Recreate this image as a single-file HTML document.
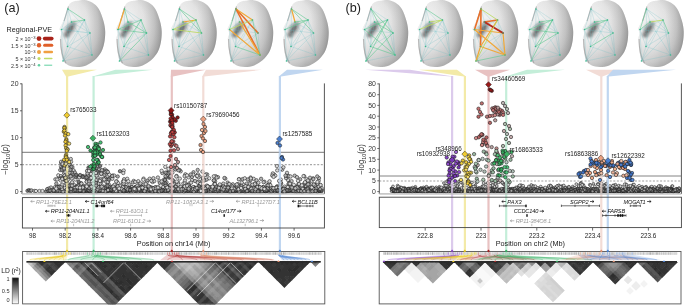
<!DOCTYPE html><html><head><meta charset="utf-8"><style>html,body{margin:0;padding:0;background:#fff;width:685px;height:305px;overflow:hidden}svg{display:block;filter:blur(0.25px)}text{font-family:"Liberation Sans", sans-serif}.sc circle{r:1.7px;stroke:#1a1a1a;stroke-width:.55px}.sr circle{r:1.4px}</style></head><body>
<svg width="685" height="305" viewBox="0 0 685 305">
<defs>
<radialGradient id="fg" cx="0.3" cy="0.4" r="0.74" fx="0.28" fy="0.3"><stop offset="0" stop-color="#f0f0f0"/><stop offset="0.45" stop-color="#e2e2e2"/><stop offset="0.75" stop-color="#c2c2c2"/><stop offset="0.92" stop-color="#a2a2a2"/><stop offset="1" stop-color="#8a8a8a"/></radialGradient>
<linearGradient id="fs" x1="0" y1="0" x2="1" y2="0"><stop offset="0" stop-color="#fff" stop-opacity="0.35"/><stop offset="0.5" stop-color="#fff" stop-opacity="0"/><stop offset="1" stop-color="#999" stop-opacity="0.25"/></linearGradient>
<filter id="bl2" x="-50%" y="-50%" width="200%" height="200%"><feGaussianBlur stdDeviation="0.6"/></filter>
<filter id="bl" x="-80%" y="-80%" width="260%" height="260%"><feGaussianBlur stdDeviation="1.4"/></filter>
<linearGradient id="ldbar" x1="0" y1="0" x2="0" y2="1"><stop offset="0" stop-color="#111"/><stop offset="0.5" stop-color="#888"/><stop offset="1" stop-color="#fff"/></linearGradient>
</defs>
<rect width="685" height="305" fill="#fff"/>
<g transform="translate(59.0,0)">
<path d="M9.3,6.3C10.0,4.7 10.1,4.2 11.0,3.4C11.9,2.6 13.3,1.9 14.5,1.5C15.7,1.1 16.2,1.1 18.0,0.8C19.8,0.6 22.9,-0.3 25.5,0.0C28.1,0.3 31.1,1.3 33.5,2.8C35.9,4.3 38.0,6.0 39.8,9.0C41.6,12.0 43.3,16.9 44.4,20.7C45.5,24.4 46.1,27.8 46.2,31.5C46.3,35.2 45.9,39.5 45.2,43.0C44.5,46.5 43.7,49.4 42.1,52.2C40.5,55.0 38.3,57.8 35.8,60.0C33.3,62.2 30.2,64.2 27.2,65.4C24.2,66.6 21.0,66.9 18.0,66.9C15.0,66.9 11.7,66.2 9.4,65.2C7.2,64.2 5.7,62.8 4.5,61.0C3.3,59.2 3.0,57.1 2.5,54.5C2.0,51.9 1.7,48.2 1.4,45.4C1.1,42.6 0.8,39.8 0.9,37.9C1.0,36.0 2.1,35.4 2.2,34.2C2.3,33.1 1.9,31.8 1.6,31.0C1.3,30.2 0.5,30.1 0.5,29.2C0.5,28.3 1.2,27.3 1.9,25.8C2.6,24.3 3.9,22.2 4.8,20.1C5.6,18.0 6.2,15.5 7.0,13.2C7.8,10.9 8.6,7.9 9.3,6.3Z" fill="url(#fg)"/>
<path d="M9.3,6.3C10.0,4.7 10.1,4.2 11.0,3.4C11.9,2.6 13.3,1.9 14.5,1.5C15.7,1.1 16.2,1.1 18.0,0.8C19.8,0.6 22.9,-0.3 25.5,0.0C28.1,0.3 31.1,1.3 33.5,2.8C35.9,4.3 38.0,6.0 39.8,9.0C41.6,12.0 43.3,16.9 44.4,20.7C45.5,24.4 46.1,27.8 46.2,31.5C46.3,35.2 45.9,39.5 45.2,43.0C44.5,46.5 43.7,49.4 42.1,52.2C40.5,55.0 38.3,57.8 35.8,60.0C33.3,62.2 30.2,64.2 27.2,65.4C24.2,66.6 21.0,66.9 18.0,66.9C15.0,66.9 11.7,66.2 9.4,65.2C7.2,64.2 5.7,62.8 4.5,61.0C3.3,59.2 3.0,57.1 2.5,54.5C2.0,51.9 1.7,48.2 1.4,45.4C1.1,42.6 0.8,39.8 0.9,37.9C1.0,36.0 2.1,35.4 2.2,34.2C2.3,33.1 1.9,31.8 1.6,31.0C1.3,30.2 0.5,30.1 0.5,29.2C0.5,28.3 1.2,27.3 1.9,25.8C2.6,24.3 3.9,22.2 4.8,20.1C5.6,18.0 6.2,15.5 7.0,13.2C7.8,10.9 8.6,7.9 9.3,6.3Z" fill="url(#fs)"/>
<path d="M7,63 C3,57 1.6,48 1.6,39 M9.5,6.5 C7.5,12 6.5,17 5,21" fill="none" stroke="#8a8a8a" stroke-width="1.1" opacity="0.55" filter="url(#bl2)"/>
<ellipse cx="11" cy="29" rx="4" ry="9" fill="#555" opacity="0.6" filter="url(#bl)" transform="rotate(35 11 29)"/>
<ellipse cx="11" cy="29.5" rx="1.8" ry="4.5" fill="#444" opacity="0.35" filter="url(#bl2)" transform="rotate(35 11 29.5)"/>
<ellipse cx="8" cy="35.5" rx="2.6" ry="1.7" fill="#505050" opacity="0.6" filter="url(#bl)"/>
<ellipse cx="4" cy="30" rx="1.6" ry="2.6" fill="#fff" opacity="0.6" filter="url(#bl)"/>
<line x1="9.0" y1="9.0" x2="2.5" y2="29.5" stroke="#62bcc4" stroke-width="0.32" opacity="0.75"/>
<line x1="9.0" y1="9.0" x2="12.5" y2="22.0" stroke="#62bcc4" stroke-width="0.32" opacity="0.75"/>
<line x1="9.0" y1="9.0" x2="31.0" y2="33.0" stroke="#62bcc4" stroke-width="0.32" opacity="0.75"/>
<line x1="2.5" y1="29.5" x2="12.5" y2="22.0" stroke="#62bcc4" stroke-width="0.32" opacity="0.75"/>
<line x1="2.5" y1="29.5" x2="25.5" y2="20.0" stroke="#62bcc4" stroke-width="0.32" opacity="0.75"/>
<line x1="2.5" y1="29.5" x2="8.5" y2="46.5" stroke="#62bcc4" stroke-width="0.32" opacity="0.75"/>
<line x1="2.5" y1="29.5" x2="4.0" y2="61.0" stroke="#62bcc4" stroke-width="0.32" opacity="0.75"/>
<line x1="12.5" y1="22.0" x2="31.0" y2="33.0" stroke="#62bcc4" stroke-width="0.32" opacity="0.75"/>
<line x1="12.5" y1="22.0" x2="8.5" y2="46.5" stroke="#62bcc4" stroke-width="0.32" opacity="0.75"/>
<line x1="25.5" y1="20.0" x2="31.0" y2="33.0" stroke="#62bcc4" stroke-width="0.32" opacity="0.75"/>
<line x1="25.5" y1="20.0" x2="8.5" y2="46.5" stroke="#62bcc4" stroke-width="0.32" opacity="0.75"/>
<line x1="25.5" y1="20.0" x2="33.0" y2="55.0" stroke="#62bcc4" stroke-width="0.32" opacity="0.75"/>
<line x1="31.0" y1="33.0" x2="8.5" y2="46.5" stroke="#62bcc4" stroke-width="0.32" opacity="0.75"/>
<line x1="31.0" y1="33.0" x2="33.0" y2="55.0" stroke="#62bcc4" stroke-width="0.32" opacity="0.75"/>
<line x1="31.0" y1="33.0" x2="4.0" y2="61.0" stroke="#62bcc4" stroke-width="0.32" opacity="0.75"/>
<line x1="8.5" y1="46.5" x2="4.0" y2="61.0" stroke="#62bcc4" stroke-width="0.32" opacity="0.75"/>
<line x1="8.5" y1="46.5" x2="33.0" y2="55.0" stroke="#62bcc4" stroke-width="0.32" opacity="0.75"/>
<line x1="4.0" y1="61.0" x2="33.0" y2="55.0" stroke="#62bcc4" stroke-width="0.32" opacity="0.75"/>
<line x1="9.0" y1="9.0" x2="8.5" y2="46.5" stroke="#62bcc4" stroke-width="0.32" opacity="0.75"/>
<line x1="12.5" y1="22.0" x2="33.0" y2="55.0" stroke="#62bcc4" stroke-width="0.32" opacity="0.75"/>
<line x1="25.5" y1="20.0" x2="4.0" y2="61.0" stroke="#62bcc4" stroke-width="0.32" opacity="0.75"/>
<line x1="9.0" y1="9.0" x2="25.5" y2="20.0" stroke="#5cc890" stroke-width="0.6" stroke-linecap="round"/>
<line x1="12.5" y1="22.0" x2="25.5" y2="20.0" stroke="#5cc890" stroke-width="0.6" stroke-linecap="round"/>
<line x1="2.5" y1="29.5" x2="31.0" y2="33.0" stroke="#4ab8c0" stroke-width="0.3" stroke-linecap="round"/>
<circle cx="9.0" cy="9.0" r="0.8" fill="#3cb88a"/>
<circle cx="2.5" cy="29.5" r="0.8" fill="#3cb88a"/>
<circle cx="12.5" cy="22.0" r="0.8" fill="#3cb88a"/>
<circle cx="25.5" cy="20.0" r="0.8" fill="#3cb88a"/>
<circle cx="31.0" cy="33.0" r="0.8" fill="#3cb88a"/>
<circle cx="8.5" cy="46.5" r="0.8" fill="#3cb88a"/>
<circle cx="4.0" cy="61.0" r="0.8" fill="#3cb88a"/>
<circle cx="33.0" cy="55.0" r="0.8" fill="#3cb88a"/>
</g>
<g transform="translate(115.5,0)">
<path d="M9.3,6.3C10.0,4.7 10.1,4.2 11.0,3.4C11.9,2.6 13.3,1.9 14.5,1.5C15.7,1.1 16.2,1.1 18.0,0.8C19.8,0.6 22.9,-0.3 25.5,0.0C28.1,0.3 31.1,1.3 33.5,2.8C35.9,4.3 38.0,6.0 39.8,9.0C41.6,12.0 43.3,16.9 44.4,20.7C45.5,24.4 46.1,27.8 46.2,31.5C46.3,35.2 45.9,39.5 45.2,43.0C44.5,46.5 43.7,49.4 42.1,52.2C40.5,55.0 38.3,57.8 35.8,60.0C33.3,62.2 30.2,64.2 27.2,65.4C24.2,66.6 21.0,66.9 18.0,66.9C15.0,66.9 11.7,66.2 9.4,65.2C7.2,64.2 5.7,62.8 4.5,61.0C3.3,59.2 3.0,57.1 2.5,54.5C2.0,51.9 1.7,48.2 1.4,45.4C1.1,42.6 0.8,39.8 0.9,37.9C1.0,36.0 2.1,35.4 2.2,34.2C2.3,33.1 1.9,31.8 1.6,31.0C1.3,30.2 0.5,30.1 0.5,29.2C0.5,28.3 1.2,27.3 1.9,25.8C2.6,24.3 3.9,22.2 4.8,20.1C5.6,18.0 6.2,15.5 7.0,13.2C7.8,10.9 8.6,7.9 9.3,6.3Z" fill="url(#fg)"/>
<path d="M9.3,6.3C10.0,4.7 10.1,4.2 11.0,3.4C11.9,2.6 13.3,1.9 14.5,1.5C15.7,1.1 16.2,1.1 18.0,0.8C19.8,0.6 22.9,-0.3 25.5,0.0C28.1,0.3 31.1,1.3 33.5,2.8C35.9,4.3 38.0,6.0 39.8,9.0C41.6,12.0 43.3,16.9 44.4,20.7C45.5,24.4 46.1,27.8 46.2,31.5C46.3,35.2 45.9,39.5 45.2,43.0C44.5,46.5 43.7,49.4 42.1,52.2C40.5,55.0 38.3,57.8 35.8,60.0C33.3,62.2 30.2,64.2 27.2,65.4C24.2,66.6 21.0,66.9 18.0,66.9C15.0,66.9 11.7,66.2 9.4,65.2C7.2,64.2 5.7,62.8 4.5,61.0C3.3,59.2 3.0,57.1 2.5,54.5C2.0,51.9 1.7,48.2 1.4,45.4C1.1,42.6 0.8,39.8 0.9,37.9C1.0,36.0 2.1,35.4 2.2,34.2C2.3,33.1 1.9,31.8 1.6,31.0C1.3,30.2 0.5,30.1 0.5,29.2C0.5,28.3 1.2,27.3 1.9,25.8C2.6,24.3 3.9,22.2 4.8,20.1C5.6,18.0 6.2,15.5 7.0,13.2C7.8,10.9 8.6,7.9 9.3,6.3Z" fill="url(#fs)"/>
<path d="M7,63 C3,57 1.6,48 1.6,39 M9.5,6.5 C7.5,12 6.5,17 5,21" fill="none" stroke="#8a8a8a" stroke-width="1.1" opacity="0.55" filter="url(#bl2)"/>
<ellipse cx="11" cy="29" rx="4" ry="9" fill="#555" opacity="0.6" filter="url(#bl)" transform="rotate(35 11 29)"/>
<ellipse cx="11" cy="29.5" rx="1.8" ry="4.5" fill="#444" opacity="0.35" filter="url(#bl2)" transform="rotate(35 11 29.5)"/>
<ellipse cx="8" cy="35.5" rx="2.6" ry="1.7" fill="#505050" opacity="0.6" filter="url(#bl)"/>
<ellipse cx="4" cy="30" rx="1.6" ry="2.6" fill="#fff" opacity="0.6" filter="url(#bl)"/>
<line x1="9.0" y1="9.0" x2="25.5" y2="20.0" stroke="#62bcc4" stroke-width="0.32" opacity="0.75"/>
<line x1="9.0" y1="9.0" x2="31.0" y2="33.0" stroke="#62bcc4" stroke-width="0.32" opacity="0.75"/>
<line x1="2.5" y1="29.5" x2="12.5" y2="22.0" stroke="#62bcc4" stroke-width="0.32" opacity="0.75"/>
<line x1="2.5" y1="29.5" x2="8.5" y2="46.5" stroke="#62bcc4" stroke-width="0.32" opacity="0.75"/>
<line x1="2.5" y1="29.5" x2="4.0" y2="61.0" stroke="#62bcc4" stroke-width="0.32" opacity="0.75"/>
<line x1="12.5" y1="22.0" x2="25.5" y2="20.0" stroke="#62bcc4" stroke-width="0.32" opacity="0.75"/>
<line x1="12.5" y1="22.0" x2="8.5" y2="46.5" stroke="#62bcc4" stroke-width="0.32" opacity="0.75"/>
<line x1="25.5" y1="20.0" x2="33.0" y2="55.0" stroke="#62bcc4" stroke-width="0.32" opacity="0.75"/>
<line x1="31.0" y1="33.0" x2="8.5" y2="46.5" stroke="#62bcc4" stroke-width="0.32" opacity="0.75"/>
<line x1="31.0" y1="33.0" x2="33.0" y2="55.0" stroke="#62bcc4" stroke-width="0.32" opacity="0.75"/>
<line x1="8.5" y1="46.5" x2="4.0" y2="61.0" stroke="#62bcc4" stroke-width="0.32" opacity="0.75"/>
<line x1="8.5" y1="46.5" x2="33.0" y2="55.0" stroke="#62bcc4" stroke-width="0.32" opacity="0.75"/>
<line x1="4.0" y1="61.0" x2="33.0" y2="55.0" stroke="#62bcc4" stroke-width="0.32" opacity="0.75"/>
<line x1="9.0" y1="9.0" x2="8.5" y2="46.5" stroke="#62bcc4" stroke-width="0.32" opacity="0.75"/>
<line x1="12.5" y1="22.0" x2="33.0" y2="55.0" stroke="#62bcc4" stroke-width="0.32" opacity="0.75"/>
<line x1="25.5" y1="20.0" x2="4.0" y2="61.0" stroke="#62bcc4" stroke-width="0.32" opacity="0.75"/>
<line x1="9.0" y1="9.0" x2="2.5" y2="29.5" stroke="#f0a838" stroke-width="1.2" stroke-linecap="round"/>
<line x1="9.0" y1="9.0" x2="12.5" y2="22.0" stroke="#5cc890" stroke-width="0.6" stroke-linecap="round"/>
<line x1="2.5" y1="29.5" x2="25.5" y2="20.0" stroke="#5cc890" stroke-width="0.6" stroke-linecap="round"/>
<line x1="25.5" y1="20.0" x2="31.0" y2="33.0" stroke="#5cc890" stroke-width="0.6" stroke-linecap="round"/>
<line x1="12.5" y1="22.0" x2="31.0" y2="33.0" stroke="#5cc890" stroke-width="0.6" stroke-linecap="round"/>
<line x1="2.5" y1="29.5" x2="31.0" y2="33.0" stroke="#5cc890" stroke-width="0.6" stroke-linecap="round"/>
<line x1="25.5" y1="20.0" x2="8.5" y2="46.5" stroke="#5cc890" stroke-width="0.6" stroke-linecap="round"/>
<line x1="31.0" y1="33.0" x2="4.0" y2="61.0" stroke="#5cc890" stroke-width="0.6" stroke-linecap="round"/>
<circle cx="9.0" cy="9.0" r="0.8" fill="#3cb88a"/>
<circle cx="2.5" cy="29.5" r="0.8" fill="#3cb88a"/>
<circle cx="12.5" cy="22.0" r="0.8" fill="#3cb88a"/>
<circle cx="25.5" cy="20.0" r="0.8" fill="#3cb88a"/>
<circle cx="31.0" cy="33.0" r="0.8" fill="#3cb88a"/>
<circle cx="8.5" cy="46.5" r="0.8" fill="#3cb88a"/>
<circle cx="4.0" cy="61.0" r="0.8" fill="#3cb88a"/>
<circle cx="33.0" cy="55.0" r="0.8" fill="#3cb88a"/>
</g>
<g transform="translate(170.5,0)">
<path d="M9.3,6.3C10.0,4.7 10.1,4.2 11.0,3.4C11.9,2.6 13.3,1.9 14.5,1.5C15.7,1.1 16.2,1.1 18.0,0.8C19.8,0.6 22.9,-0.3 25.5,0.0C28.1,0.3 31.1,1.3 33.5,2.8C35.9,4.3 38.0,6.0 39.8,9.0C41.6,12.0 43.3,16.9 44.4,20.7C45.5,24.4 46.1,27.8 46.2,31.5C46.3,35.2 45.9,39.5 45.2,43.0C44.5,46.5 43.7,49.4 42.1,52.2C40.5,55.0 38.3,57.8 35.8,60.0C33.3,62.2 30.2,64.2 27.2,65.4C24.2,66.6 21.0,66.9 18.0,66.9C15.0,66.9 11.7,66.2 9.4,65.2C7.2,64.2 5.7,62.8 4.5,61.0C3.3,59.2 3.0,57.1 2.5,54.5C2.0,51.9 1.7,48.2 1.4,45.4C1.1,42.6 0.8,39.8 0.9,37.9C1.0,36.0 2.1,35.4 2.2,34.2C2.3,33.1 1.9,31.8 1.6,31.0C1.3,30.2 0.5,30.1 0.5,29.2C0.5,28.3 1.2,27.3 1.9,25.8C2.6,24.3 3.9,22.2 4.8,20.1C5.6,18.0 6.2,15.5 7.0,13.2C7.8,10.9 8.6,7.9 9.3,6.3Z" fill="url(#fg)"/>
<path d="M9.3,6.3C10.0,4.7 10.1,4.2 11.0,3.4C11.9,2.6 13.3,1.9 14.5,1.5C15.7,1.1 16.2,1.1 18.0,0.8C19.8,0.6 22.9,-0.3 25.5,0.0C28.1,0.3 31.1,1.3 33.5,2.8C35.9,4.3 38.0,6.0 39.8,9.0C41.6,12.0 43.3,16.9 44.4,20.7C45.5,24.4 46.1,27.8 46.2,31.5C46.3,35.2 45.9,39.5 45.2,43.0C44.5,46.5 43.7,49.4 42.1,52.2C40.5,55.0 38.3,57.8 35.8,60.0C33.3,62.2 30.2,64.2 27.2,65.4C24.2,66.6 21.0,66.9 18.0,66.9C15.0,66.9 11.7,66.2 9.4,65.2C7.2,64.2 5.7,62.8 4.5,61.0C3.3,59.2 3.0,57.1 2.5,54.5C2.0,51.9 1.7,48.2 1.4,45.4C1.1,42.6 0.8,39.8 0.9,37.9C1.0,36.0 2.1,35.4 2.2,34.2C2.3,33.1 1.9,31.8 1.6,31.0C1.3,30.2 0.5,30.1 0.5,29.2C0.5,28.3 1.2,27.3 1.9,25.8C2.6,24.3 3.9,22.2 4.8,20.1C5.6,18.0 6.2,15.5 7.0,13.2C7.8,10.9 8.6,7.9 9.3,6.3Z" fill="url(#fs)"/>
<path d="M7,63 C3,57 1.6,48 1.6,39 M9.5,6.5 C7.5,12 6.5,17 5,21" fill="none" stroke="#8a8a8a" stroke-width="1.1" opacity="0.55" filter="url(#bl2)"/>
<ellipse cx="11" cy="29" rx="4" ry="9" fill="#555" opacity="0.6" filter="url(#bl)" transform="rotate(35 11 29)"/>
<ellipse cx="11" cy="29.5" rx="1.8" ry="4.5" fill="#444" opacity="0.35" filter="url(#bl2)" transform="rotate(35 11 29.5)"/>
<ellipse cx="8" cy="35.5" rx="2.6" ry="1.7" fill="#505050" opacity="0.6" filter="url(#bl)"/>
<ellipse cx="4" cy="30" rx="1.6" ry="2.6" fill="#fff" opacity="0.6" filter="url(#bl)"/>
<line x1="9.0" y1="9.0" x2="2.5" y2="29.5" stroke="#62bcc4" stroke-width="0.32" opacity="0.75"/>
<line x1="9.0" y1="9.0" x2="12.5" y2="22.0" stroke="#62bcc4" stroke-width="0.32" opacity="0.75"/>
<line x1="2.5" y1="29.5" x2="12.5" y2="22.0" stroke="#62bcc4" stroke-width="0.32" opacity="0.75"/>
<line x1="2.5" y1="29.5" x2="8.5" y2="46.5" stroke="#62bcc4" stroke-width="0.32" opacity="0.75"/>
<line x1="2.5" y1="29.5" x2="4.0" y2="61.0" stroke="#62bcc4" stroke-width="0.32" opacity="0.75"/>
<line x1="12.5" y1="22.0" x2="31.0" y2="33.0" stroke="#62bcc4" stroke-width="0.32" opacity="0.75"/>
<line x1="12.5" y1="22.0" x2="8.5" y2="46.5" stroke="#62bcc4" stroke-width="0.32" opacity="0.75"/>
<line x1="25.5" y1="20.0" x2="8.5" y2="46.5" stroke="#62bcc4" stroke-width="0.32" opacity="0.75"/>
<line x1="25.5" y1="20.0" x2="33.0" y2="55.0" stroke="#62bcc4" stroke-width="0.32" opacity="0.75"/>
<line x1="31.0" y1="33.0" x2="8.5" y2="46.5" stroke="#62bcc4" stroke-width="0.32" opacity="0.75"/>
<line x1="31.0" y1="33.0" x2="33.0" y2="55.0" stroke="#62bcc4" stroke-width="0.32" opacity="0.75"/>
<line x1="31.0" y1="33.0" x2="4.0" y2="61.0" stroke="#62bcc4" stroke-width="0.32" opacity="0.75"/>
<line x1="8.5" y1="46.5" x2="4.0" y2="61.0" stroke="#62bcc4" stroke-width="0.32" opacity="0.75"/>
<line x1="8.5" y1="46.5" x2="33.0" y2="55.0" stroke="#62bcc4" stroke-width="0.32" opacity="0.75"/>
<line x1="4.0" y1="61.0" x2="33.0" y2="55.0" stroke="#62bcc4" stroke-width="0.32" opacity="0.75"/>
<line x1="9.0" y1="9.0" x2="8.5" y2="46.5" stroke="#62bcc4" stroke-width="0.32" opacity="0.75"/>
<line x1="12.5" y1="22.0" x2="33.0" y2="55.0" stroke="#62bcc4" stroke-width="0.32" opacity="0.75"/>
<line x1="25.5" y1="20.0" x2="4.0" y2="61.0" stroke="#62bcc4" stroke-width="0.32" opacity="0.75"/>
<line x1="12.5" y1="22.0" x2="25.5" y2="20.0" stroke="#f0a838" stroke-width="1.2" stroke-linecap="round"/>
<line x1="9.0" y1="9.0" x2="25.5" y2="20.0" stroke="#5cc890" stroke-width="0.6" stroke-linecap="round"/>
<line x1="9.0" y1="9.0" x2="31.0" y2="33.0" stroke="#5cc890" stroke-width="0.6" stroke-linecap="round"/>
<line x1="2.5" y1="29.5" x2="31.0" y2="33.0" stroke="#b8d858" stroke-width="0.8" stroke-linecap="round"/>
<line x1="25.5" y1="20.0" x2="31.0" y2="33.0" stroke="#5cc890" stroke-width="0.6" stroke-linecap="round"/>
<line x1="2.5" y1="29.5" x2="25.5" y2="20.0" stroke="#b8d858" stroke-width="0.8" stroke-linecap="round"/>
<circle cx="9.0" cy="9.0" r="0.8" fill="#3cb88a"/>
<circle cx="2.5" cy="29.5" r="0.8" fill="#3cb88a"/>
<circle cx="12.5" cy="22.0" r="0.8" fill="#3cb88a"/>
<circle cx="25.5" cy="20.0" r="0.8" fill="#3cb88a"/>
<circle cx="31.0" cy="33.0" r="0.8" fill="#3cb88a"/>
<circle cx="8.5" cy="46.5" r="0.8" fill="#3cb88a"/>
<circle cx="4.0" cy="61.0" r="0.8" fill="#3cb88a"/>
<circle cx="33.0" cy="55.0" r="0.8" fill="#3cb88a"/>
</g>
<g transform="translate(227.0,0)">
<path d="M9.3,6.3C10.0,4.7 10.1,4.2 11.0,3.4C11.9,2.6 13.3,1.9 14.5,1.5C15.7,1.1 16.2,1.1 18.0,0.8C19.8,0.6 22.9,-0.3 25.5,0.0C28.1,0.3 31.1,1.3 33.5,2.8C35.9,4.3 38.0,6.0 39.8,9.0C41.6,12.0 43.3,16.9 44.4,20.7C45.5,24.4 46.1,27.8 46.2,31.5C46.3,35.2 45.9,39.5 45.2,43.0C44.5,46.5 43.7,49.4 42.1,52.2C40.5,55.0 38.3,57.8 35.8,60.0C33.3,62.2 30.2,64.2 27.2,65.4C24.2,66.6 21.0,66.9 18.0,66.9C15.0,66.9 11.7,66.2 9.4,65.2C7.2,64.2 5.7,62.8 4.5,61.0C3.3,59.2 3.0,57.1 2.5,54.5C2.0,51.9 1.7,48.2 1.4,45.4C1.1,42.6 0.8,39.8 0.9,37.9C1.0,36.0 2.1,35.4 2.2,34.2C2.3,33.1 1.9,31.8 1.6,31.0C1.3,30.2 0.5,30.1 0.5,29.2C0.5,28.3 1.2,27.3 1.9,25.8C2.6,24.3 3.9,22.2 4.8,20.1C5.6,18.0 6.2,15.5 7.0,13.2C7.8,10.9 8.6,7.9 9.3,6.3Z" fill="url(#fg)"/>
<path d="M9.3,6.3C10.0,4.7 10.1,4.2 11.0,3.4C11.9,2.6 13.3,1.9 14.5,1.5C15.7,1.1 16.2,1.1 18.0,0.8C19.8,0.6 22.9,-0.3 25.5,0.0C28.1,0.3 31.1,1.3 33.5,2.8C35.9,4.3 38.0,6.0 39.8,9.0C41.6,12.0 43.3,16.9 44.4,20.7C45.5,24.4 46.1,27.8 46.2,31.5C46.3,35.2 45.9,39.5 45.2,43.0C44.5,46.5 43.7,49.4 42.1,52.2C40.5,55.0 38.3,57.8 35.8,60.0C33.3,62.2 30.2,64.2 27.2,65.4C24.2,66.6 21.0,66.9 18.0,66.9C15.0,66.9 11.7,66.2 9.4,65.2C7.2,64.2 5.7,62.8 4.5,61.0C3.3,59.2 3.0,57.1 2.5,54.5C2.0,51.9 1.7,48.2 1.4,45.4C1.1,42.6 0.8,39.8 0.9,37.9C1.0,36.0 2.1,35.4 2.2,34.2C2.3,33.1 1.9,31.8 1.6,31.0C1.3,30.2 0.5,30.1 0.5,29.2C0.5,28.3 1.2,27.3 1.9,25.8C2.6,24.3 3.9,22.2 4.8,20.1C5.6,18.0 6.2,15.5 7.0,13.2C7.8,10.9 8.6,7.9 9.3,6.3Z" fill="url(#fs)"/>
<path d="M7,63 C3,57 1.6,48 1.6,39 M9.5,6.5 C7.5,12 6.5,17 5,21" fill="none" stroke="#8a8a8a" stroke-width="1.1" opacity="0.55" filter="url(#bl2)"/>
<ellipse cx="11" cy="29" rx="4" ry="9" fill="#555" opacity="0.6" filter="url(#bl)" transform="rotate(35 11 29)"/>
<ellipse cx="11" cy="29.5" rx="1.8" ry="4.5" fill="#444" opacity="0.35" filter="url(#bl2)" transform="rotate(35 11 29.5)"/>
<ellipse cx="8" cy="35.5" rx="2.6" ry="1.7" fill="#505050" opacity="0.6" filter="url(#bl)"/>
<ellipse cx="4" cy="30" rx="1.6" ry="2.6" fill="#fff" opacity="0.6" filter="url(#bl)"/>
<line x1="9.0" y1="9.0" x2="12.5" y2="22.0" stroke="#62bcc4" stroke-width="0.32" opacity="0.75"/>
<line x1="2.5" y1="29.5" x2="12.5" y2="22.0" stroke="#62bcc4" stroke-width="0.32" opacity="0.75"/>
<line x1="2.5" y1="29.5" x2="31.0" y2="33.0" stroke="#62bcc4" stroke-width="0.32" opacity="0.75"/>
<line x1="2.5" y1="29.5" x2="8.5" y2="46.5" stroke="#62bcc4" stroke-width="0.32" opacity="0.75"/>
<line x1="2.5" y1="29.5" x2="4.0" y2="61.0" stroke="#62bcc4" stroke-width="0.32" opacity="0.75"/>
<line x1="12.5" y1="22.0" x2="25.5" y2="20.0" stroke="#62bcc4" stroke-width="0.32" opacity="0.75"/>
<line x1="12.5" y1="22.0" x2="31.0" y2="33.0" stroke="#62bcc4" stroke-width="0.32" opacity="0.75"/>
<line x1="12.5" y1="22.0" x2="8.5" y2="46.5" stroke="#62bcc4" stroke-width="0.32" opacity="0.75"/>
<line x1="25.5" y1="20.0" x2="31.0" y2="33.0" stroke="#62bcc4" stroke-width="0.32" opacity="0.75"/>
<line x1="25.5" y1="20.0" x2="8.5" y2="46.5" stroke="#62bcc4" stroke-width="0.32" opacity="0.75"/>
<line x1="31.0" y1="33.0" x2="8.5" y2="46.5" stroke="#62bcc4" stroke-width="0.32" opacity="0.75"/>
<line x1="31.0" y1="33.0" x2="33.0" y2="55.0" stroke="#62bcc4" stroke-width="0.32" opacity="0.75"/>
<line x1="31.0" y1="33.0" x2="4.0" y2="61.0" stroke="#62bcc4" stroke-width="0.32" opacity="0.75"/>
<line x1="8.5" y1="46.5" x2="4.0" y2="61.0" stroke="#62bcc4" stroke-width="0.32" opacity="0.75"/>
<line x1="4.0" y1="61.0" x2="33.0" y2="55.0" stroke="#62bcc4" stroke-width="0.32" opacity="0.75"/>
<line x1="9.0" y1="9.0" x2="8.5" y2="46.5" stroke="#62bcc4" stroke-width="0.32" opacity="0.75"/>
<line x1="25.5" y1="20.0" x2="4.0" y2="61.0" stroke="#62bcc4" stroke-width="0.32" opacity="0.75"/>
<line x1="9.0" y1="9.0" x2="31.0" y2="33.0" stroke="#e8702a" stroke-width="1.6" stroke-linecap="round"/>
<line x1="9.0" y1="9.0" x2="25.5" y2="20.0" stroke="#f0a838" stroke-width="1.2" stroke-linecap="round"/>
<line x1="9.0" y1="9.0" x2="33.0" y2="55.0" stroke="#e8702a" stroke-width="1.6" stroke-linecap="round"/>
<line x1="2.5" y1="29.5" x2="33.0" y2="55.0" stroke="#f0a838" stroke-width="1.2" stroke-linecap="round"/>
<line x1="12.5" y1="22.0" x2="33.0" y2="55.0" stroke="#f0a838" stroke-width="1.2" stroke-linecap="round"/>
<line x1="2.5" y1="29.5" x2="25.5" y2="20.0" stroke="#b8d858" stroke-width="0.8" stroke-linecap="round"/>
<line x1="8.5" y1="46.5" x2="33.0" y2="55.0" stroke="#5cc890" stroke-width="0.6" stroke-linecap="round"/>
<line x1="25.5" y1="20.0" x2="33.0" y2="55.0" stroke="#5cc890" stroke-width="0.6" stroke-linecap="round"/>
<line x1="9.0" y1="9.0" x2="2.5" y2="29.5" stroke="#5cc890" stroke-width="0.6" stroke-linecap="round"/>
<circle cx="9.0" cy="9.0" r="0.8" fill="#3cb88a"/>
<circle cx="2.5" cy="29.5" r="0.8" fill="#3cb88a"/>
<circle cx="12.5" cy="22.0" r="0.8" fill="#3cb88a"/>
<circle cx="25.5" cy="20.0" r="0.8" fill="#3cb88a"/>
<circle cx="31.0" cy="33.0" r="0.8" fill="#3cb88a"/>
<circle cx="8.5" cy="46.5" r="0.8" fill="#3cb88a"/>
<circle cx="4.0" cy="61.0" r="0.8" fill="#3cb88a"/>
<circle cx="33.0" cy="55.0" r="0.8" fill="#3cb88a"/>
</g>
<g transform="translate(282.5,0)">
<path d="M9.3,6.3C10.0,4.7 10.1,4.2 11.0,3.4C11.9,2.6 13.3,1.9 14.5,1.5C15.7,1.1 16.2,1.1 18.0,0.8C19.8,0.6 22.9,-0.3 25.5,0.0C28.1,0.3 31.1,1.3 33.5,2.8C35.9,4.3 38.0,6.0 39.8,9.0C41.6,12.0 43.3,16.9 44.4,20.7C45.5,24.4 46.1,27.8 46.2,31.5C46.3,35.2 45.9,39.5 45.2,43.0C44.5,46.5 43.7,49.4 42.1,52.2C40.5,55.0 38.3,57.8 35.8,60.0C33.3,62.2 30.2,64.2 27.2,65.4C24.2,66.6 21.0,66.9 18.0,66.9C15.0,66.9 11.7,66.2 9.4,65.2C7.2,64.2 5.7,62.8 4.5,61.0C3.3,59.2 3.0,57.1 2.5,54.5C2.0,51.9 1.7,48.2 1.4,45.4C1.1,42.6 0.8,39.8 0.9,37.9C1.0,36.0 2.1,35.4 2.2,34.2C2.3,33.1 1.9,31.8 1.6,31.0C1.3,30.2 0.5,30.1 0.5,29.2C0.5,28.3 1.2,27.3 1.9,25.8C2.6,24.3 3.9,22.2 4.8,20.1C5.6,18.0 6.2,15.5 7.0,13.2C7.8,10.9 8.6,7.9 9.3,6.3Z" fill="url(#fg)"/>
<path d="M9.3,6.3C10.0,4.7 10.1,4.2 11.0,3.4C11.9,2.6 13.3,1.9 14.5,1.5C15.7,1.1 16.2,1.1 18.0,0.8C19.8,0.6 22.9,-0.3 25.5,0.0C28.1,0.3 31.1,1.3 33.5,2.8C35.9,4.3 38.0,6.0 39.8,9.0C41.6,12.0 43.3,16.9 44.4,20.7C45.5,24.4 46.1,27.8 46.2,31.5C46.3,35.2 45.9,39.5 45.2,43.0C44.5,46.5 43.7,49.4 42.1,52.2C40.5,55.0 38.3,57.8 35.8,60.0C33.3,62.2 30.2,64.2 27.2,65.4C24.2,66.6 21.0,66.9 18.0,66.9C15.0,66.9 11.7,66.2 9.4,65.2C7.2,64.2 5.7,62.8 4.5,61.0C3.3,59.2 3.0,57.1 2.5,54.5C2.0,51.9 1.7,48.2 1.4,45.4C1.1,42.6 0.8,39.8 0.9,37.9C1.0,36.0 2.1,35.4 2.2,34.2C2.3,33.1 1.9,31.8 1.6,31.0C1.3,30.2 0.5,30.1 0.5,29.2C0.5,28.3 1.2,27.3 1.9,25.8C2.6,24.3 3.9,22.2 4.8,20.1C5.6,18.0 6.2,15.5 7.0,13.2C7.8,10.9 8.6,7.9 9.3,6.3Z" fill="url(#fs)"/>
<path d="M7,63 C3,57 1.6,48 1.6,39 M9.5,6.5 C7.5,12 6.5,17 5,21" fill="none" stroke="#8a8a8a" stroke-width="1.1" opacity="0.55" filter="url(#bl2)"/>
<ellipse cx="11" cy="29" rx="4" ry="9" fill="#555" opacity="0.6" filter="url(#bl)" transform="rotate(35 11 29)"/>
<ellipse cx="11" cy="29.5" rx="1.8" ry="4.5" fill="#444" opacity="0.35" filter="url(#bl2)" transform="rotate(35 11 29.5)"/>
<ellipse cx="8" cy="35.5" rx="2.6" ry="1.7" fill="#505050" opacity="0.6" filter="url(#bl)"/>
<ellipse cx="4" cy="30" rx="1.6" ry="2.6" fill="#fff" opacity="0.6" filter="url(#bl)"/>
<line x1="9.0" y1="9.0" x2="2.5" y2="29.5" stroke="#62bcc4" stroke-width="0.32" opacity="0.75"/>
<line x1="2.5" y1="29.5" x2="12.5" y2="22.0" stroke="#62bcc4" stroke-width="0.32" opacity="0.75"/>
<line x1="2.5" y1="29.5" x2="31.0" y2="33.0" stroke="#62bcc4" stroke-width="0.32" opacity="0.75"/>
<line x1="2.5" y1="29.5" x2="8.5" y2="46.5" stroke="#62bcc4" stroke-width="0.32" opacity="0.75"/>
<line x1="2.5" y1="29.5" x2="4.0" y2="61.0" stroke="#62bcc4" stroke-width="0.32" opacity="0.75"/>
<line x1="12.5" y1="22.0" x2="31.0" y2="33.0" stroke="#62bcc4" stroke-width="0.32" opacity="0.75"/>
<line x1="12.5" y1="22.0" x2="8.5" y2="46.5" stroke="#62bcc4" stroke-width="0.32" opacity="0.75"/>
<line x1="25.5" y1="20.0" x2="31.0" y2="33.0" stroke="#62bcc4" stroke-width="0.32" opacity="0.75"/>
<line x1="25.5" y1="20.0" x2="8.5" y2="46.5" stroke="#62bcc4" stroke-width="0.32" opacity="0.75"/>
<line x1="25.5" y1="20.0" x2="33.0" y2="55.0" stroke="#62bcc4" stroke-width="0.32" opacity="0.75"/>
<line x1="31.0" y1="33.0" x2="8.5" y2="46.5" stroke="#62bcc4" stroke-width="0.32" opacity="0.75"/>
<line x1="31.0" y1="33.0" x2="33.0" y2="55.0" stroke="#62bcc4" stroke-width="0.32" opacity="0.75"/>
<line x1="31.0" y1="33.0" x2="4.0" y2="61.0" stroke="#62bcc4" stroke-width="0.32" opacity="0.75"/>
<line x1="8.5" y1="46.5" x2="4.0" y2="61.0" stroke="#62bcc4" stroke-width="0.32" opacity="0.75"/>
<line x1="8.5" y1="46.5" x2="33.0" y2="55.0" stroke="#62bcc4" stroke-width="0.32" opacity="0.75"/>
<line x1="4.0" y1="61.0" x2="33.0" y2="55.0" stroke="#62bcc4" stroke-width="0.32" opacity="0.75"/>
<line x1="9.0" y1="9.0" x2="8.5" y2="46.5" stroke="#62bcc4" stroke-width="0.32" opacity="0.75"/>
<line x1="12.5" y1="22.0" x2="33.0" y2="55.0" stroke="#62bcc4" stroke-width="0.32" opacity="0.75"/>
<line x1="25.5" y1="20.0" x2="4.0" y2="61.0" stroke="#62bcc4" stroke-width="0.32" opacity="0.75"/>
<line x1="9.0" y1="9.0" x2="25.5" y2="20.0" stroke="#5cc890" stroke-width="0.6" stroke-linecap="round"/>
<line x1="9.0" y1="9.0" x2="31.0" y2="33.0" stroke="#5cc890" stroke-width="0.6" stroke-linecap="round"/>
<line x1="12.5" y1="22.0" x2="25.5" y2="20.0" stroke="#5cc890" stroke-width="0.6" stroke-linecap="round"/>
<line x1="2.5" y1="29.5" x2="25.5" y2="20.0" stroke="#5cc890" stroke-width="0.6" stroke-linecap="round"/>
<line x1="9.0" y1="9.0" x2="12.5" y2="22.0" stroke="#f0a838" stroke-width="1.2" stroke-linecap="round"/>
<circle cx="9.0" cy="9.0" r="0.8" fill="#3cb88a"/>
<circle cx="2.5" cy="29.5" r="0.8" fill="#3cb88a"/>
<circle cx="12.5" cy="22.0" r="0.8" fill="#3cb88a"/>
<circle cx="25.5" cy="20.0" r="0.8" fill="#3cb88a"/>
<circle cx="31.0" cy="33.0" r="0.8" fill="#3cb88a"/>
<circle cx="8.5" cy="46.5" r="0.8" fill="#3cb88a"/>
<circle cx="4.0" cy="61.0" r="0.8" fill="#3cb88a"/>
<circle cx="33.0" cy="55.0" r="0.8" fill="#3cb88a"/>
</g>
<g transform="translate(362.0,0)">
<path d="M9.3,6.3C10.0,4.7 10.1,4.2 11.0,3.4C11.9,2.6 13.3,1.9 14.5,1.5C15.7,1.1 16.2,1.1 18.0,0.8C19.8,0.6 22.9,-0.3 25.5,0.0C28.1,0.3 31.1,1.3 33.5,2.8C35.9,4.3 38.0,6.0 39.8,9.0C41.6,12.0 43.3,16.9 44.4,20.7C45.5,24.4 46.1,27.8 46.2,31.5C46.3,35.2 45.9,39.5 45.2,43.0C44.5,46.5 43.7,49.4 42.1,52.2C40.5,55.0 38.3,57.8 35.8,60.0C33.3,62.2 30.2,64.2 27.2,65.4C24.2,66.6 21.0,66.9 18.0,66.9C15.0,66.9 11.7,66.2 9.4,65.2C7.2,64.2 5.7,62.8 4.5,61.0C3.3,59.2 3.0,57.1 2.5,54.5C2.0,51.9 1.7,48.2 1.4,45.4C1.1,42.6 0.8,39.8 0.9,37.9C1.0,36.0 2.1,35.4 2.2,34.2C2.3,33.1 1.9,31.8 1.6,31.0C1.3,30.2 0.5,30.1 0.5,29.2C0.5,28.3 1.2,27.3 1.9,25.8C2.6,24.3 3.9,22.2 4.8,20.1C5.6,18.0 6.2,15.5 7.0,13.2C7.8,10.9 8.6,7.9 9.3,6.3Z" fill="url(#fg)"/>
<path d="M9.3,6.3C10.0,4.7 10.1,4.2 11.0,3.4C11.9,2.6 13.3,1.9 14.5,1.5C15.7,1.1 16.2,1.1 18.0,0.8C19.8,0.6 22.9,-0.3 25.5,0.0C28.1,0.3 31.1,1.3 33.5,2.8C35.9,4.3 38.0,6.0 39.8,9.0C41.6,12.0 43.3,16.9 44.4,20.7C45.5,24.4 46.1,27.8 46.2,31.5C46.3,35.2 45.9,39.5 45.2,43.0C44.5,46.5 43.7,49.4 42.1,52.2C40.5,55.0 38.3,57.8 35.8,60.0C33.3,62.2 30.2,64.2 27.2,65.4C24.2,66.6 21.0,66.9 18.0,66.9C15.0,66.9 11.7,66.2 9.4,65.2C7.2,64.2 5.7,62.8 4.5,61.0C3.3,59.2 3.0,57.1 2.5,54.5C2.0,51.9 1.7,48.2 1.4,45.4C1.1,42.6 0.8,39.8 0.9,37.9C1.0,36.0 2.1,35.4 2.2,34.2C2.3,33.1 1.9,31.8 1.6,31.0C1.3,30.2 0.5,30.1 0.5,29.2C0.5,28.3 1.2,27.3 1.9,25.8C2.6,24.3 3.9,22.2 4.8,20.1C5.6,18.0 6.2,15.5 7.0,13.2C7.8,10.9 8.6,7.9 9.3,6.3Z" fill="url(#fs)"/>
<path d="M7,63 C3,57 1.6,48 1.6,39 M9.5,6.5 C7.5,12 6.5,17 5,21" fill="none" stroke="#8a8a8a" stroke-width="1.1" opacity="0.55" filter="url(#bl2)"/>
<ellipse cx="11" cy="29" rx="4" ry="9" fill="#555" opacity="0.6" filter="url(#bl)" transform="rotate(35 11 29)"/>
<ellipse cx="11" cy="29.5" rx="1.8" ry="4.5" fill="#444" opacity="0.35" filter="url(#bl2)" transform="rotate(35 11 29.5)"/>
<ellipse cx="8" cy="35.5" rx="2.6" ry="1.7" fill="#505050" opacity="0.6" filter="url(#bl)"/>
<ellipse cx="4" cy="30" rx="1.6" ry="2.6" fill="#fff" opacity="0.6" filter="url(#bl)"/>
<line x1="9.0" y1="9.0" x2="2.5" y2="29.5" stroke="#62bcc4" stroke-width="0.32" opacity="0.75"/>
<line x1="9.0" y1="9.0" x2="12.5" y2="22.0" stroke="#62bcc4" stroke-width="0.32" opacity="0.75"/>
<line x1="9.0" y1="9.0" x2="25.5" y2="20.0" stroke="#62bcc4" stroke-width="0.32" opacity="0.75"/>
<line x1="2.5" y1="29.5" x2="12.5" y2="22.0" stroke="#62bcc4" stroke-width="0.32" opacity="0.75"/>
<line x1="2.5" y1="29.5" x2="31.0" y2="33.0" stroke="#62bcc4" stroke-width="0.32" opacity="0.75"/>
<line x1="2.5" y1="29.5" x2="8.5" y2="46.5" stroke="#62bcc4" stroke-width="0.32" opacity="0.75"/>
<line x1="2.5" y1="29.5" x2="4.0" y2="61.0" stroke="#62bcc4" stroke-width="0.32" opacity="0.75"/>
<line x1="12.5" y1="22.0" x2="25.5" y2="20.0" stroke="#62bcc4" stroke-width="0.32" opacity="0.75"/>
<line x1="12.5" y1="22.0" x2="8.5" y2="46.5" stroke="#62bcc4" stroke-width="0.32" opacity="0.75"/>
<line x1="25.5" y1="20.0" x2="31.0" y2="33.0" stroke="#62bcc4" stroke-width="0.32" opacity="0.75"/>
<line x1="25.5" y1="20.0" x2="33.0" y2="55.0" stroke="#62bcc4" stroke-width="0.32" opacity="0.75"/>
<line x1="31.0" y1="33.0" x2="8.5" y2="46.5" stroke="#62bcc4" stroke-width="0.32" opacity="0.75"/>
<line x1="31.0" y1="33.0" x2="33.0" y2="55.0" stroke="#62bcc4" stroke-width="0.32" opacity="0.75"/>
<line x1="8.5" y1="46.5" x2="4.0" y2="61.0" stroke="#62bcc4" stroke-width="0.32" opacity="0.75"/>
<line x1="4.0" y1="61.0" x2="33.0" y2="55.0" stroke="#62bcc4" stroke-width="0.32" opacity="0.75"/>
<line x1="9.0" y1="9.0" x2="8.5" y2="46.5" stroke="#62bcc4" stroke-width="0.32" opacity="0.75"/>
<line x1="12.5" y1="22.0" x2="33.0" y2="55.0" stroke="#62bcc4" stroke-width="0.32" opacity="0.75"/>
<line x1="9.0" y1="9.0" x2="31.0" y2="33.0" stroke="#5cc890" stroke-width="0.6" stroke-linecap="round"/>
<line x1="9.0" y1="9.0" x2="33.0" y2="55.0" stroke="#5cc890" stroke-width="0.6" stroke-linecap="round"/>
<line x1="2.5" y1="29.5" x2="25.5" y2="20.0" stroke="#5cc890" stroke-width="0.6" stroke-linecap="round"/>
<line x1="25.5" y1="20.0" x2="8.5" y2="46.5" stroke="#5cc890" stroke-width="0.6" stroke-linecap="round"/>
<line x1="12.5" y1="22.0" x2="31.0" y2="33.0" stroke="#5cc890" stroke-width="0.6" stroke-linecap="round"/>
<line x1="25.5" y1="20.0" x2="4.0" y2="61.0" stroke="#5cc890" stroke-width="0.6" stroke-linecap="round"/>
<line x1="31.0" y1="33.0" x2="4.0" y2="61.0" stroke="#5cc890" stroke-width="0.6" stroke-linecap="round"/>
<line x1="2.5" y1="29.5" x2="33.0" y2="55.0" stroke="#5cc890" stroke-width="0.6" stroke-linecap="round"/>
<line x1="8.5" y1="46.5" x2="33.0" y2="55.0" stroke="#5cc890" stroke-width="0.6" stroke-linecap="round"/>
<circle cx="9.0" cy="9.0" r="0.8" fill="#3cb88a"/>
<circle cx="2.5" cy="29.5" r="0.8" fill="#3cb88a"/>
<circle cx="12.5" cy="22.0" r="0.8" fill="#3cb88a"/>
<circle cx="25.5" cy="20.0" r="0.8" fill="#3cb88a"/>
<circle cx="31.0" cy="33.0" r="0.8" fill="#3cb88a"/>
<circle cx="8.5" cy="46.5" r="0.8" fill="#3cb88a"/>
<circle cx="4.0" cy="61.0" r="0.8" fill="#3cb88a"/>
<circle cx="33.0" cy="55.0" r="0.8" fill="#3cb88a"/>
</g>
<g transform="translate(417.0,0)">
<path d="M9.3,6.3C10.0,4.7 10.1,4.2 11.0,3.4C11.9,2.6 13.3,1.9 14.5,1.5C15.7,1.1 16.2,1.1 18.0,0.8C19.8,0.6 22.9,-0.3 25.5,0.0C28.1,0.3 31.1,1.3 33.5,2.8C35.9,4.3 38.0,6.0 39.8,9.0C41.6,12.0 43.3,16.9 44.4,20.7C45.5,24.4 46.1,27.8 46.2,31.5C46.3,35.2 45.9,39.5 45.2,43.0C44.5,46.5 43.7,49.4 42.1,52.2C40.5,55.0 38.3,57.8 35.8,60.0C33.3,62.2 30.2,64.2 27.2,65.4C24.2,66.6 21.0,66.9 18.0,66.9C15.0,66.9 11.7,66.2 9.4,65.2C7.2,64.2 5.7,62.8 4.5,61.0C3.3,59.2 3.0,57.1 2.5,54.5C2.0,51.9 1.7,48.2 1.4,45.4C1.1,42.6 0.8,39.8 0.9,37.9C1.0,36.0 2.1,35.4 2.2,34.2C2.3,33.1 1.9,31.8 1.6,31.0C1.3,30.2 0.5,30.1 0.5,29.2C0.5,28.3 1.2,27.3 1.9,25.8C2.6,24.3 3.9,22.2 4.8,20.1C5.6,18.0 6.2,15.5 7.0,13.2C7.8,10.9 8.6,7.9 9.3,6.3Z" fill="url(#fg)"/>
<path d="M9.3,6.3C10.0,4.7 10.1,4.2 11.0,3.4C11.9,2.6 13.3,1.9 14.5,1.5C15.7,1.1 16.2,1.1 18.0,0.8C19.8,0.6 22.9,-0.3 25.5,0.0C28.1,0.3 31.1,1.3 33.5,2.8C35.9,4.3 38.0,6.0 39.8,9.0C41.6,12.0 43.3,16.9 44.4,20.7C45.5,24.4 46.1,27.8 46.2,31.5C46.3,35.2 45.9,39.5 45.2,43.0C44.5,46.5 43.7,49.4 42.1,52.2C40.5,55.0 38.3,57.8 35.8,60.0C33.3,62.2 30.2,64.2 27.2,65.4C24.2,66.6 21.0,66.9 18.0,66.9C15.0,66.9 11.7,66.2 9.4,65.2C7.2,64.2 5.7,62.8 4.5,61.0C3.3,59.2 3.0,57.1 2.5,54.5C2.0,51.9 1.7,48.2 1.4,45.4C1.1,42.6 0.8,39.8 0.9,37.9C1.0,36.0 2.1,35.4 2.2,34.2C2.3,33.1 1.9,31.8 1.6,31.0C1.3,30.2 0.5,30.1 0.5,29.2C0.5,28.3 1.2,27.3 1.9,25.8C2.6,24.3 3.9,22.2 4.8,20.1C5.6,18.0 6.2,15.5 7.0,13.2C7.8,10.9 8.6,7.9 9.3,6.3Z" fill="url(#fs)"/>
<path d="M7,63 C3,57 1.6,48 1.6,39 M9.5,6.5 C7.5,12 6.5,17 5,21" fill="none" stroke="#8a8a8a" stroke-width="1.1" opacity="0.55" filter="url(#bl2)"/>
<ellipse cx="11" cy="29" rx="4" ry="9" fill="#555" opacity="0.6" filter="url(#bl)" transform="rotate(35 11 29)"/>
<ellipse cx="11" cy="29.5" rx="1.8" ry="4.5" fill="#444" opacity="0.35" filter="url(#bl2)" transform="rotate(35 11 29.5)"/>
<ellipse cx="8" cy="35.5" rx="2.6" ry="1.7" fill="#505050" opacity="0.6" filter="url(#bl)"/>
<ellipse cx="4" cy="30" rx="1.6" ry="2.6" fill="#fff" opacity="0.6" filter="url(#bl)"/>
<line x1="9.0" y1="9.0" x2="2.5" y2="29.5" stroke="#62bcc4" stroke-width="0.32" opacity="0.75"/>
<line x1="9.0" y1="9.0" x2="12.5" y2="22.0" stroke="#62bcc4" stroke-width="0.32" opacity="0.75"/>
<line x1="9.0" y1="9.0" x2="31.0" y2="33.0" stroke="#62bcc4" stroke-width="0.32" opacity="0.75"/>
<line x1="2.5" y1="29.5" x2="12.5" y2="22.0" stroke="#62bcc4" stroke-width="0.32" opacity="0.75"/>
<line x1="2.5" y1="29.5" x2="31.0" y2="33.0" stroke="#62bcc4" stroke-width="0.32" opacity="0.75"/>
<line x1="2.5" y1="29.5" x2="8.5" y2="46.5" stroke="#62bcc4" stroke-width="0.32" opacity="0.75"/>
<line x1="2.5" y1="29.5" x2="4.0" y2="61.0" stroke="#62bcc4" stroke-width="0.32" opacity="0.75"/>
<line x1="12.5" y1="22.0" x2="31.0" y2="33.0" stroke="#62bcc4" stroke-width="0.32" opacity="0.75"/>
<line x1="12.5" y1="22.0" x2="8.5" y2="46.5" stroke="#62bcc4" stroke-width="0.32" opacity="0.75"/>
<line x1="25.5" y1="20.0" x2="8.5" y2="46.5" stroke="#62bcc4" stroke-width="0.32" opacity="0.75"/>
<line x1="25.5" y1="20.0" x2="33.0" y2="55.0" stroke="#62bcc4" stroke-width="0.32" opacity="0.75"/>
<line x1="31.0" y1="33.0" x2="8.5" y2="46.5" stroke="#62bcc4" stroke-width="0.32" opacity="0.75"/>
<line x1="31.0" y1="33.0" x2="33.0" y2="55.0" stroke="#62bcc4" stroke-width="0.32" opacity="0.75"/>
<line x1="31.0" y1="33.0" x2="4.0" y2="61.0" stroke="#62bcc4" stroke-width="0.32" opacity="0.75"/>
<line x1="8.5" y1="46.5" x2="4.0" y2="61.0" stroke="#62bcc4" stroke-width="0.32" opacity="0.75"/>
<line x1="8.5" y1="46.5" x2="33.0" y2="55.0" stroke="#62bcc4" stroke-width="0.32" opacity="0.75"/>
<line x1="4.0" y1="61.0" x2="33.0" y2="55.0" stroke="#62bcc4" stroke-width="0.32" opacity="0.75"/>
<line x1="9.0" y1="9.0" x2="8.5" y2="46.5" stroke="#62bcc4" stroke-width="0.32" opacity="0.75"/>
<line x1="12.5" y1="22.0" x2="33.0" y2="55.0" stroke="#62bcc4" stroke-width="0.32" opacity="0.75"/>
<line x1="25.5" y1="20.0" x2="4.0" y2="61.0" stroke="#62bcc4" stroke-width="0.32" opacity="0.75"/>
<line x1="2.5" y1="29.5" x2="25.5" y2="20.0" stroke="#b8d858" stroke-width="0.8" stroke-linecap="round"/>
<line x1="12.5" y1="22.0" x2="25.5" y2="20.0" stroke="#b8d858" stroke-width="0.8" stroke-linecap="round"/>
<line x1="9.0" y1="9.0" x2="25.5" y2="20.0" stroke="#5cc890" stroke-width="0.6" stroke-linecap="round"/>
<line x1="25.5" y1="20.0" x2="31.0" y2="33.0" stroke="#4ab8c0" stroke-width="0.3" stroke-linecap="round"/>
<circle cx="9.0" cy="9.0" r="0.8" fill="#3cb88a"/>
<circle cx="2.5" cy="29.5" r="0.8" fill="#3cb88a"/>
<circle cx="12.5" cy="22.0" r="0.8" fill="#3cb88a"/>
<circle cx="25.5" cy="20.0" r="0.8" fill="#3cb88a"/>
<circle cx="31.0" cy="33.0" r="0.8" fill="#3cb88a"/>
<circle cx="8.5" cy="46.5" r="0.8" fill="#3cb88a"/>
<circle cx="4.0" cy="61.0" r="0.8" fill="#3cb88a"/>
<circle cx="33.0" cy="55.0" r="0.8" fill="#3cb88a"/>
</g>
<g transform="translate(472.0,0)">
<path d="M9.3,6.3C10.0,4.7 10.1,4.2 11.0,3.4C11.9,2.6 13.3,1.9 14.5,1.5C15.7,1.1 16.2,1.1 18.0,0.8C19.8,0.6 22.9,-0.3 25.5,0.0C28.1,0.3 31.1,1.3 33.5,2.8C35.9,4.3 38.0,6.0 39.8,9.0C41.6,12.0 43.3,16.9 44.4,20.7C45.5,24.4 46.1,27.8 46.2,31.5C46.3,35.2 45.9,39.5 45.2,43.0C44.5,46.5 43.7,49.4 42.1,52.2C40.5,55.0 38.3,57.8 35.8,60.0C33.3,62.2 30.2,64.2 27.2,65.4C24.2,66.6 21.0,66.9 18.0,66.9C15.0,66.9 11.7,66.2 9.4,65.2C7.2,64.2 5.7,62.8 4.5,61.0C3.3,59.2 3.0,57.1 2.5,54.5C2.0,51.9 1.7,48.2 1.4,45.4C1.1,42.6 0.8,39.8 0.9,37.9C1.0,36.0 2.1,35.4 2.2,34.2C2.3,33.1 1.9,31.8 1.6,31.0C1.3,30.2 0.5,30.1 0.5,29.2C0.5,28.3 1.2,27.3 1.9,25.8C2.6,24.3 3.9,22.2 4.8,20.1C5.6,18.0 6.2,15.5 7.0,13.2C7.8,10.9 8.6,7.9 9.3,6.3Z" fill="url(#fg)"/>
<path d="M9.3,6.3C10.0,4.7 10.1,4.2 11.0,3.4C11.9,2.6 13.3,1.9 14.5,1.5C15.7,1.1 16.2,1.1 18.0,0.8C19.8,0.6 22.9,-0.3 25.5,0.0C28.1,0.3 31.1,1.3 33.5,2.8C35.9,4.3 38.0,6.0 39.8,9.0C41.6,12.0 43.3,16.9 44.4,20.7C45.5,24.4 46.1,27.8 46.2,31.5C46.3,35.2 45.9,39.5 45.2,43.0C44.5,46.5 43.7,49.4 42.1,52.2C40.5,55.0 38.3,57.8 35.8,60.0C33.3,62.2 30.2,64.2 27.2,65.4C24.2,66.6 21.0,66.9 18.0,66.9C15.0,66.9 11.7,66.2 9.4,65.2C7.2,64.2 5.7,62.8 4.5,61.0C3.3,59.2 3.0,57.1 2.5,54.5C2.0,51.9 1.7,48.2 1.4,45.4C1.1,42.6 0.8,39.8 0.9,37.9C1.0,36.0 2.1,35.4 2.2,34.2C2.3,33.1 1.9,31.8 1.6,31.0C1.3,30.2 0.5,30.1 0.5,29.2C0.5,28.3 1.2,27.3 1.9,25.8C2.6,24.3 3.9,22.2 4.8,20.1C5.6,18.0 6.2,15.5 7.0,13.2C7.8,10.9 8.6,7.9 9.3,6.3Z" fill="url(#fs)"/>
<path d="M7,63 C3,57 1.6,48 1.6,39 M9.5,6.5 C7.5,12 6.5,17 5,21" fill="none" stroke="#8a8a8a" stroke-width="1.1" opacity="0.55" filter="url(#bl2)"/>
<ellipse cx="11" cy="29" rx="4" ry="9" fill="#555" opacity="0.6" filter="url(#bl)" transform="rotate(35 11 29)"/>
<ellipse cx="11" cy="29.5" rx="1.8" ry="4.5" fill="#444" opacity="0.35" filter="url(#bl2)" transform="rotate(35 11 29.5)"/>
<ellipse cx="8" cy="35.5" rx="2.6" ry="1.7" fill="#505050" opacity="0.6" filter="url(#bl)"/>
<ellipse cx="4" cy="30" rx="1.6" ry="2.6" fill="#fff" opacity="0.6" filter="url(#bl)"/>
<line x1="9.0" y1="9.0" x2="12.5" y2="22.0" stroke="#62bcc4" stroke-width="0.32" opacity="0.75"/>
<line x1="9.0" y1="9.0" x2="31.0" y2="33.0" stroke="#62bcc4" stroke-width="0.32" opacity="0.75"/>
<line x1="2.5" y1="29.5" x2="12.5" y2="22.0" stroke="#62bcc4" stroke-width="0.32" opacity="0.75"/>
<line x1="2.5" y1="29.5" x2="25.5" y2="20.0" stroke="#62bcc4" stroke-width="0.32" opacity="0.75"/>
<line x1="2.5" y1="29.5" x2="8.5" y2="46.5" stroke="#62bcc4" stroke-width="0.32" opacity="0.75"/>
<line x1="2.5" y1="29.5" x2="4.0" y2="61.0" stroke="#62bcc4" stroke-width="0.32" opacity="0.75"/>
<line x1="12.5" y1="22.0" x2="8.5" y2="46.5" stroke="#62bcc4" stroke-width="0.32" opacity="0.75"/>
<line x1="25.5" y1="20.0" x2="31.0" y2="33.0" stroke="#62bcc4" stroke-width="0.32" opacity="0.75"/>
<line x1="25.5" y1="20.0" x2="33.0" y2="55.0" stroke="#62bcc4" stroke-width="0.32" opacity="0.75"/>
<line x1="31.0" y1="33.0" x2="8.5" y2="46.5" stroke="#62bcc4" stroke-width="0.32" opacity="0.75"/>
<line x1="31.0" y1="33.0" x2="4.0" y2="61.0" stroke="#62bcc4" stroke-width="0.32" opacity="0.75"/>
<line x1="12.5" y1="22.0" x2="33.0" y2="55.0" stroke="#62bcc4" stroke-width="0.32" opacity="0.75"/>
<line x1="9.0" y1="9.0" x2="2.5" y2="29.5" stroke="#e8702a" stroke-width="1.6" stroke-linecap="round"/>
<line x1="12.5" y1="22.0" x2="25.5" y2="20.0" stroke="#e8702a" stroke-width="1.6" stroke-linecap="round"/>
<line x1="9.0" y1="9.0" x2="8.5" y2="46.5" stroke="#e8702a" stroke-width="1.6" stroke-linecap="round"/>
<line x1="2.5" y1="29.5" x2="31.0" y2="33.0" stroke="#f0a838" stroke-width="1.2" stroke-linecap="round"/>
<line x1="31.0" y1="33.0" x2="33.0" y2="55.0" stroke="#f0a838" stroke-width="1.2" stroke-linecap="round"/>
<line x1="25.5" y1="20.0" x2="8.5" y2="46.5" stroke="#f0a838" stroke-width="1.2" stroke-linecap="round"/>
<line x1="2.5" y1="29.5" x2="33.0" y2="55.0" stroke="#f0a838" stroke-width="1.2" stroke-linecap="round"/>
<line x1="9.0" y1="9.0" x2="25.5" y2="20.0" stroke="#b8d858" stroke-width="0.8" stroke-linecap="round"/>
<line x1="12.5" y1="22.0" x2="31.0" y2="33.0" stroke="#b52a1e" stroke-width="2.0" stroke-linecap="round"/>
<line x1="8.5" y1="46.5" x2="33.0" y2="55.0" stroke="#f0a838" stroke-width="1.2" stroke-linecap="round"/>
<line x1="25.5" y1="20.0" x2="4.0" y2="61.0" stroke="#b8d858" stroke-width="0.8" stroke-linecap="round"/>
<line x1="4.0" y1="61.0" x2="33.0" y2="55.0" stroke="#5cc890" stroke-width="0.6" stroke-linecap="round"/>
<line x1="8.5" y1="46.5" x2="4.0" y2="61.0" stroke="#f0a838" stroke-width="1.2" stroke-linecap="round"/>
<circle cx="9.0" cy="9.0" r="0.8" fill="#3cb88a"/>
<circle cx="2.5" cy="29.5" r="0.8" fill="#3cb88a"/>
<circle cx="12.5" cy="22.0" r="0.8" fill="#3cb88a"/>
<circle cx="25.5" cy="20.0" r="0.8" fill="#3cb88a"/>
<circle cx="31.0" cy="33.0" r="0.8" fill="#3cb88a"/>
<circle cx="8.5" cy="46.5" r="0.8" fill="#3cb88a"/>
<circle cx="4.0" cy="61.0" r="0.8" fill="#3cb88a"/>
<circle cx="33.0" cy="55.0" r="0.8" fill="#3cb88a"/>
</g>
<g transform="translate(527.0,0)">
<path d="M9.3,6.3C10.0,4.7 10.1,4.2 11.0,3.4C11.9,2.6 13.3,1.9 14.5,1.5C15.7,1.1 16.2,1.1 18.0,0.8C19.8,0.6 22.9,-0.3 25.5,0.0C28.1,0.3 31.1,1.3 33.5,2.8C35.9,4.3 38.0,6.0 39.8,9.0C41.6,12.0 43.3,16.9 44.4,20.7C45.5,24.4 46.1,27.8 46.2,31.5C46.3,35.2 45.9,39.5 45.2,43.0C44.5,46.5 43.7,49.4 42.1,52.2C40.5,55.0 38.3,57.8 35.8,60.0C33.3,62.2 30.2,64.2 27.2,65.4C24.2,66.6 21.0,66.9 18.0,66.9C15.0,66.9 11.7,66.2 9.4,65.2C7.2,64.2 5.7,62.8 4.5,61.0C3.3,59.2 3.0,57.1 2.5,54.5C2.0,51.9 1.7,48.2 1.4,45.4C1.1,42.6 0.8,39.8 0.9,37.9C1.0,36.0 2.1,35.4 2.2,34.2C2.3,33.1 1.9,31.8 1.6,31.0C1.3,30.2 0.5,30.1 0.5,29.2C0.5,28.3 1.2,27.3 1.9,25.8C2.6,24.3 3.9,22.2 4.8,20.1C5.6,18.0 6.2,15.5 7.0,13.2C7.8,10.9 8.6,7.9 9.3,6.3Z" fill="url(#fg)"/>
<path d="M9.3,6.3C10.0,4.7 10.1,4.2 11.0,3.4C11.9,2.6 13.3,1.9 14.5,1.5C15.7,1.1 16.2,1.1 18.0,0.8C19.8,0.6 22.9,-0.3 25.5,0.0C28.1,0.3 31.1,1.3 33.5,2.8C35.9,4.3 38.0,6.0 39.8,9.0C41.6,12.0 43.3,16.9 44.4,20.7C45.5,24.4 46.1,27.8 46.2,31.5C46.3,35.2 45.9,39.5 45.2,43.0C44.5,46.5 43.7,49.4 42.1,52.2C40.5,55.0 38.3,57.8 35.8,60.0C33.3,62.2 30.2,64.2 27.2,65.4C24.2,66.6 21.0,66.9 18.0,66.9C15.0,66.9 11.7,66.2 9.4,65.2C7.2,64.2 5.7,62.8 4.5,61.0C3.3,59.2 3.0,57.1 2.5,54.5C2.0,51.9 1.7,48.2 1.4,45.4C1.1,42.6 0.8,39.8 0.9,37.9C1.0,36.0 2.1,35.4 2.2,34.2C2.3,33.1 1.9,31.8 1.6,31.0C1.3,30.2 0.5,30.1 0.5,29.2C0.5,28.3 1.2,27.3 1.9,25.8C2.6,24.3 3.9,22.2 4.8,20.1C5.6,18.0 6.2,15.5 7.0,13.2C7.8,10.9 8.6,7.9 9.3,6.3Z" fill="url(#fs)"/>
<path d="M7,63 C3,57 1.6,48 1.6,39 M9.5,6.5 C7.5,12 6.5,17 5,21" fill="none" stroke="#8a8a8a" stroke-width="1.1" opacity="0.55" filter="url(#bl2)"/>
<ellipse cx="11" cy="29" rx="4" ry="9" fill="#555" opacity="0.6" filter="url(#bl)" transform="rotate(35 11 29)"/>
<ellipse cx="11" cy="29.5" rx="1.8" ry="4.5" fill="#444" opacity="0.35" filter="url(#bl2)" transform="rotate(35 11 29.5)"/>
<ellipse cx="8" cy="35.5" rx="2.6" ry="1.7" fill="#505050" opacity="0.6" filter="url(#bl)"/>
<ellipse cx="4" cy="30" rx="1.6" ry="2.6" fill="#fff" opacity="0.6" filter="url(#bl)"/>
<line x1="9.0" y1="9.0" x2="2.5" y2="29.5" stroke="#62bcc4" stroke-width="0.32" opacity="0.75"/>
<line x1="9.0" y1="9.0" x2="12.5" y2="22.0" stroke="#62bcc4" stroke-width="0.32" opacity="0.75"/>
<line x1="9.0" y1="9.0" x2="25.5" y2="20.0" stroke="#62bcc4" stroke-width="0.32" opacity="0.75"/>
<line x1="9.0" y1="9.0" x2="31.0" y2="33.0" stroke="#62bcc4" stroke-width="0.32" opacity="0.75"/>
<line x1="2.5" y1="29.5" x2="12.5" y2="22.0" stroke="#62bcc4" stroke-width="0.32" opacity="0.75"/>
<line x1="2.5" y1="29.5" x2="8.5" y2="46.5" stroke="#62bcc4" stroke-width="0.32" opacity="0.75"/>
<line x1="2.5" y1="29.5" x2="4.0" y2="61.0" stroke="#62bcc4" stroke-width="0.32" opacity="0.75"/>
<line x1="12.5" y1="22.0" x2="31.0" y2="33.0" stroke="#62bcc4" stroke-width="0.32" opacity="0.75"/>
<line x1="12.5" y1="22.0" x2="8.5" y2="46.5" stroke="#62bcc4" stroke-width="0.32" opacity="0.75"/>
<line x1="25.5" y1="20.0" x2="31.0" y2="33.0" stroke="#62bcc4" stroke-width="0.32" opacity="0.75"/>
<line x1="25.5" y1="20.0" x2="33.0" y2="55.0" stroke="#62bcc4" stroke-width="0.32" opacity="0.75"/>
<line x1="31.0" y1="33.0" x2="33.0" y2="55.0" stroke="#62bcc4" stroke-width="0.32" opacity="0.75"/>
<line x1="31.0" y1="33.0" x2="4.0" y2="61.0" stroke="#62bcc4" stroke-width="0.32" opacity="0.75"/>
<line x1="8.5" y1="46.5" x2="4.0" y2="61.0" stroke="#62bcc4" stroke-width="0.32" opacity="0.75"/>
<line x1="8.5" y1="46.5" x2="33.0" y2="55.0" stroke="#62bcc4" stroke-width="0.32" opacity="0.75"/>
<line x1="4.0" y1="61.0" x2="33.0" y2="55.0" stroke="#62bcc4" stroke-width="0.32" opacity="0.75"/>
<line x1="9.0" y1="9.0" x2="8.5" y2="46.5" stroke="#62bcc4" stroke-width="0.32" opacity="0.75"/>
<line x1="12.5" y1="22.0" x2="33.0" y2="55.0" stroke="#62bcc4" stroke-width="0.32" opacity="0.75"/>
<line x1="2.5" y1="29.5" x2="25.5" y2="20.0" stroke="#5cc890" stroke-width="0.6" stroke-linecap="round"/>
<line x1="12.5" y1="22.0" x2="25.5" y2="20.0" stroke="#5cc890" stroke-width="0.6" stroke-linecap="round"/>
<line x1="25.5" y1="20.0" x2="8.5" y2="46.5" stroke="#5cc890" stroke-width="0.6" stroke-linecap="round"/>
<line x1="31.0" y1="33.0" x2="8.5" y2="46.5" stroke="#5cc890" stroke-width="0.6" stroke-linecap="round"/>
<line x1="2.5" y1="29.5" x2="31.0" y2="33.0" stroke="#5cc890" stroke-width="0.6" stroke-linecap="round"/>
<line x1="25.5" y1="20.0" x2="4.0" y2="61.0" stroke="#5cc890" stroke-width="0.6" stroke-linecap="round"/>
<circle cx="9.0" cy="9.0" r="0.8" fill="#3cb88a"/>
<circle cx="2.5" cy="29.5" r="0.8" fill="#3cb88a"/>
<circle cx="12.5" cy="22.0" r="0.8" fill="#3cb88a"/>
<circle cx="25.5" cy="20.0" r="0.8" fill="#3cb88a"/>
<circle cx="31.0" cy="33.0" r="0.8" fill="#3cb88a"/>
<circle cx="8.5" cy="46.5" r="0.8" fill="#3cb88a"/>
<circle cx="4.0" cy="61.0" r="0.8" fill="#3cb88a"/>
<circle cx="33.0" cy="55.0" r="0.8" fill="#3cb88a"/>
</g>
<g transform="translate(582.0,0)">
<path d="M9.3,6.3C10.0,4.7 10.1,4.2 11.0,3.4C11.9,2.6 13.3,1.9 14.5,1.5C15.7,1.1 16.2,1.1 18.0,0.8C19.8,0.6 22.9,-0.3 25.5,0.0C28.1,0.3 31.1,1.3 33.5,2.8C35.9,4.3 38.0,6.0 39.8,9.0C41.6,12.0 43.3,16.9 44.4,20.7C45.5,24.4 46.1,27.8 46.2,31.5C46.3,35.2 45.9,39.5 45.2,43.0C44.5,46.5 43.7,49.4 42.1,52.2C40.5,55.0 38.3,57.8 35.8,60.0C33.3,62.2 30.2,64.2 27.2,65.4C24.2,66.6 21.0,66.9 18.0,66.9C15.0,66.9 11.7,66.2 9.4,65.2C7.2,64.2 5.7,62.8 4.5,61.0C3.3,59.2 3.0,57.1 2.5,54.5C2.0,51.9 1.7,48.2 1.4,45.4C1.1,42.6 0.8,39.8 0.9,37.9C1.0,36.0 2.1,35.4 2.2,34.2C2.3,33.1 1.9,31.8 1.6,31.0C1.3,30.2 0.5,30.1 0.5,29.2C0.5,28.3 1.2,27.3 1.9,25.8C2.6,24.3 3.9,22.2 4.8,20.1C5.6,18.0 6.2,15.5 7.0,13.2C7.8,10.9 8.6,7.9 9.3,6.3Z" fill="url(#fg)"/>
<path d="M9.3,6.3C10.0,4.7 10.1,4.2 11.0,3.4C11.9,2.6 13.3,1.9 14.5,1.5C15.7,1.1 16.2,1.1 18.0,0.8C19.8,0.6 22.9,-0.3 25.5,0.0C28.1,0.3 31.1,1.3 33.5,2.8C35.9,4.3 38.0,6.0 39.8,9.0C41.6,12.0 43.3,16.9 44.4,20.7C45.5,24.4 46.1,27.8 46.2,31.5C46.3,35.2 45.9,39.5 45.2,43.0C44.5,46.5 43.7,49.4 42.1,52.2C40.5,55.0 38.3,57.8 35.8,60.0C33.3,62.2 30.2,64.2 27.2,65.4C24.2,66.6 21.0,66.9 18.0,66.9C15.0,66.9 11.7,66.2 9.4,65.2C7.2,64.2 5.7,62.8 4.5,61.0C3.3,59.2 3.0,57.1 2.5,54.5C2.0,51.9 1.7,48.2 1.4,45.4C1.1,42.6 0.8,39.8 0.9,37.9C1.0,36.0 2.1,35.4 2.2,34.2C2.3,33.1 1.9,31.8 1.6,31.0C1.3,30.2 0.5,30.1 0.5,29.2C0.5,28.3 1.2,27.3 1.9,25.8C2.6,24.3 3.9,22.2 4.8,20.1C5.6,18.0 6.2,15.5 7.0,13.2C7.8,10.9 8.6,7.9 9.3,6.3Z" fill="url(#fs)"/>
<path d="M7,63 C3,57 1.6,48 1.6,39 M9.5,6.5 C7.5,12 6.5,17 5,21" fill="none" stroke="#8a8a8a" stroke-width="1.1" opacity="0.55" filter="url(#bl2)"/>
<ellipse cx="11" cy="29" rx="4" ry="9" fill="#555" opacity="0.6" filter="url(#bl)" transform="rotate(35 11 29)"/>
<ellipse cx="11" cy="29.5" rx="1.8" ry="4.5" fill="#444" opacity="0.35" filter="url(#bl2)" transform="rotate(35 11 29.5)"/>
<ellipse cx="8" cy="35.5" rx="2.6" ry="1.7" fill="#505050" opacity="0.6" filter="url(#bl)"/>
<ellipse cx="4" cy="30" rx="1.6" ry="2.6" fill="#fff" opacity="0.6" filter="url(#bl)"/>
<line x1="9.0" y1="9.0" x2="2.5" y2="29.5" stroke="#62bcc4" stroke-width="0.32" opacity="0.75"/>
<line x1="9.0" y1="9.0" x2="12.5" y2="22.0" stroke="#62bcc4" stroke-width="0.32" opacity="0.75"/>
<line x1="9.0" y1="9.0" x2="25.5" y2="20.0" stroke="#62bcc4" stroke-width="0.32" opacity="0.75"/>
<line x1="9.0" y1="9.0" x2="31.0" y2="33.0" stroke="#62bcc4" stroke-width="0.32" opacity="0.75"/>
<line x1="2.5" y1="29.5" x2="12.5" y2="22.0" stroke="#62bcc4" stroke-width="0.32" opacity="0.75"/>
<line x1="2.5" y1="29.5" x2="31.0" y2="33.0" stroke="#62bcc4" stroke-width="0.32" opacity="0.75"/>
<line x1="2.5" y1="29.5" x2="8.5" y2="46.5" stroke="#62bcc4" stroke-width="0.32" opacity="0.75"/>
<line x1="2.5" y1="29.5" x2="4.0" y2="61.0" stroke="#62bcc4" stroke-width="0.32" opacity="0.75"/>
<line x1="12.5" y1="22.0" x2="31.0" y2="33.0" stroke="#62bcc4" stroke-width="0.32" opacity="0.75"/>
<line x1="12.5" y1="22.0" x2="8.5" y2="46.5" stroke="#62bcc4" stroke-width="0.32" opacity="0.75"/>
<line x1="25.5" y1="20.0" x2="31.0" y2="33.0" stroke="#62bcc4" stroke-width="0.32" opacity="0.75"/>
<line x1="25.5" y1="20.0" x2="8.5" y2="46.5" stroke="#62bcc4" stroke-width="0.32" opacity="0.75"/>
<line x1="25.5" y1="20.0" x2="33.0" y2="55.0" stroke="#62bcc4" stroke-width="0.32" opacity="0.75"/>
<line x1="31.0" y1="33.0" x2="33.0" y2="55.0" stroke="#62bcc4" stroke-width="0.32" opacity="0.75"/>
<line x1="31.0" y1="33.0" x2="4.0" y2="61.0" stroke="#62bcc4" stroke-width="0.32" opacity="0.75"/>
<line x1="8.5" y1="46.5" x2="4.0" y2="61.0" stroke="#62bcc4" stroke-width="0.32" opacity="0.75"/>
<line x1="8.5" y1="46.5" x2="33.0" y2="55.0" stroke="#62bcc4" stroke-width="0.32" opacity="0.75"/>
<line x1="4.0" y1="61.0" x2="33.0" y2="55.0" stroke="#62bcc4" stroke-width="0.32" opacity="0.75"/>
<line x1="9.0" y1="9.0" x2="8.5" y2="46.5" stroke="#62bcc4" stroke-width="0.32" opacity="0.75"/>
<line x1="12.5" y1="22.0" x2="33.0" y2="55.0" stroke="#62bcc4" stroke-width="0.32" opacity="0.75"/>
<line x1="25.5" y1="20.0" x2="4.0" y2="61.0" stroke="#62bcc4" stroke-width="0.32" opacity="0.75"/>
<line x1="2.5" y1="29.5" x2="25.5" y2="20.0" stroke="#5cc890" stroke-width="0.6" stroke-linecap="round"/>
<line x1="12.5" y1="22.0" x2="25.5" y2="20.0" stroke="#5cc890" stroke-width="0.6" stroke-linecap="round"/>
<line x1="8.5" y1="46.5" x2="31.0" y2="33.0" stroke="#5cc890" stroke-width="0.6" stroke-linecap="round"/>
<circle cx="9.0" cy="9.0" r="0.8" fill="#3cb88a"/>
<circle cx="2.5" cy="29.5" r="0.8" fill="#3cb88a"/>
<circle cx="12.5" cy="22.0" r="0.8" fill="#3cb88a"/>
<circle cx="25.5" cy="20.0" r="0.8" fill="#3cb88a"/>
<circle cx="31.0" cy="33.0" r="0.8" fill="#3cb88a"/>
<circle cx="8.5" cy="46.5" r="0.8" fill="#3cb88a"/>
<circle cx="4.0" cy="61.0" r="0.8" fill="#3cb88a"/>
<circle cx="33.0" cy="55.0" r="0.8" fill="#3cb88a"/>
</g>
<g transform="translate(637.5,0)">
<path d="M9.3,6.3C10.0,4.7 10.1,4.2 11.0,3.4C11.9,2.6 13.3,1.9 14.5,1.5C15.7,1.1 16.2,1.1 18.0,0.8C19.8,0.6 22.9,-0.3 25.5,0.0C28.1,0.3 31.1,1.3 33.5,2.8C35.9,4.3 38.0,6.0 39.8,9.0C41.6,12.0 43.3,16.9 44.4,20.7C45.5,24.4 46.1,27.8 46.2,31.5C46.3,35.2 45.9,39.5 45.2,43.0C44.5,46.5 43.7,49.4 42.1,52.2C40.5,55.0 38.3,57.8 35.8,60.0C33.3,62.2 30.2,64.2 27.2,65.4C24.2,66.6 21.0,66.9 18.0,66.9C15.0,66.9 11.7,66.2 9.4,65.2C7.2,64.2 5.7,62.8 4.5,61.0C3.3,59.2 3.0,57.1 2.5,54.5C2.0,51.9 1.7,48.2 1.4,45.4C1.1,42.6 0.8,39.8 0.9,37.9C1.0,36.0 2.1,35.4 2.2,34.2C2.3,33.1 1.9,31.8 1.6,31.0C1.3,30.2 0.5,30.1 0.5,29.2C0.5,28.3 1.2,27.3 1.9,25.8C2.6,24.3 3.9,22.2 4.8,20.1C5.6,18.0 6.2,15.5 7.0,13.2C7.8,10.9 8.6,7.9 9.3,6.3Z" fill="url(#fg)"/>
<path d="M9.3,6.3C10.0,4.7 10.1,4.2 11.0,3.4C11.9,2.6 13.3,1.9 14.5,1.5C15.7,1.1 16.2,1.1 18.0,0.8C19.8,0.6 22.9,-0.3 25.5,0.0C28.1,0.3 31.1,1.3 33.5,2.8C35.9,4.3 38.0,6.0 39.8,9.0C41.6,12.0 43.3,16.9 44.4,20.7C45.5,24.4 46.1,27.8 46.2,31.5C46.3,35.2 45.9,39.5 45.2,43.0C44.5,46.5 43.7,49.4 42.1,52.2C40.5,55.0 38.3,57.8 35.8,60.0C33.3,62.2 30.2,64.2 27.2,65.4C24.2,66.6 21.0,66.9 18.0,66.9C15.0,66.9 11.7,66.2 9.4,65.2C7.2,64.2 5.7,62.8 4.5,61.0C3.3,59.2 3.0,57.1 2.5,54.5C2.0,51.9 1.7,48.2 1.4,45.4C1.1,42.6 0.8,39.8 0.9,37.9C1.0,36.0 2.1,35.4 2.2,34.2C2.3,33.1 1.9,31.8 1.6,31.0C1.3,30.2 0.5,30.1 0.5,29.2C0.5,28.3 1.2,27.3 1.9,25.8C2.6,24.3 3.9,22.2 4.8,20.1C5.6,18.0 6.2,15.5 7.0,13.2C7.8,10.9 8.6,7.9 9.3,6.3Z" fill="url(#fs)"/>
<path d="M7,63 C3,57 1.6,48 1.6,39 M9.5,6.5 C7.5,12 6.5,17 5,21" fill="none" stroke="#8a8a8a" stroke-width="1.1" opacity="0.55" filter="url(#bl2)"/>
<ellipse cx="11" cy="29" rx="4" ry="9" fill="#555" opacity="0.6" filter="url(#bl)" transform="rotate(35 11 29)"/>
<ellipse cx="11" cy="29.5" rx="1.8" ry="4.5" fill="#444" opacity="0.35" filter="url(#bl2)" transform="rotate(35 11 29.5)"/>
<ellipse cx="8" cy="35.5" rx="2.6" ry="1.7" fill="#505050" opacity="0.6" filter="url(#bl)"/>
<ellipse cx="4" cy="30" rx="1.6" ry="2.6" fill="#fff" opacity="0.6" filter="url(#bl)"/>
<line x1="9.0" y1="9.0" x2="12.5" y2="22.0" stroke="#62bcc4" stroke-width="0.32" opacity="0.75"/>
<line x1="9.0" y1="9.0" x2="25.5" y2="20.0" stroke="#62bcc4" stroke-width="0.32" opacity="0.75"/>
<line x1="9.0" y1="9.0" x2="31.0" y2="33.0" stroke="#62bcc4" stroke-width="0.32" opacity="0.75"/>
<line x1="2.5" y1="29.5" x2="25.5" y2="20.0" stroke="#62bcc4" stroke-width="0.32" opacity="0.75"/>
<line x1="2.5" y1="29.5" x2="31.0" y2="33.0" stroke="#62bcc4" stroke-width="0.32" opacity="0.75"/>
<line x1="2.5" y1="29.5" x2="8.5" y2="46.5" stroke="#62bcc4" stroke-width="0.32" opacity="0.75"/>
<line x1="2.5" y1="29.5" x2="4.0" y2="61.0" stroke="#62bcc4" stroke-width="0.32" opacity="0.75"/>
<line x1="12.5" y1="22.0" x2="31.0" y2="33.0" stroke="#62bcc4" stroke-width="0.32" opacity="0.75"/>
<line x1="12.5" y1="22.0" x2="8.5" y2="46.5" stroke="#62bcc4" stroke-width="0.32" opacity="0.75"/>
<line x1="25.5" y1="20.0" x2="8.5" y2="46.5" stroke="#62bcc4" stroke-width="0.32" opacity="0.75"/>
<line x1="25.5" y1="20.0" x2="33.0" y2="55.0" stroke="#62bcc4" stroke-width="0.32" opacity="0.75"/>
<line x1="31.0" y1="33.0" x2="8.5" y2="46.5" stroke="#62bcc4" stroke-width="0.32" opacity="0.75"/>
<line x1="31.0" y1="33.0" x2="33.0" y2="55.0" stroke="#62bcc4" stroke-width="0.32" opacity="0.75"/>
<line x1="31.0" y1="33.0" x2="4.0" y2="61.0" stroke="#62bcc4" stroke-width="0.32" opacity="0.75"/>
<line x1="8.5" y1="46.5" x2="4.0" y2="61.0" stroke="#62bcc4" stroke-width="0.32" opacity="0.75"/>
<line x1="8.5" y1="46.5" x2="33.0" y2="55.0" stroke="#62bcc4" stroke-width="0.32" opacity="0.75"/>
<line x1="4.0" y1="61.0" x2="33.0" y2="55.0" stroke="#62bcc4" stroke-width="0.32" opacity="0.75"/>
<line x1="9.0" y1="9.0" x2="8.5" y2="46.5" stroke="#62bcc4" stroke-width="0.32" opacity="0.75"/>
<line x1="12.5" y1="22.0" x2="33.0" y2="55.0" stroke="#62bcc4" stroke-width="0.32" opacity="0.75"/>
<line x1="25.5" y1="20.0" x2="4.0" y2="61.0" stroke="#62bcc4" stroke-width="0.32" opacity="0.75"/>
<line x1="12.5" y1="22.0" x2="25.5" y2="20.0" stroke="#b8d858" stroke-width="0.8" stroke-linecap="round"/>
<line x1="2.5" y1="29.5" x2="12.5" y2="22.0" stroke="#5cc890" stroke-width="0.6" stroke-linecap="round"/>
<line x1="9.0" y1="9.0" x2="2.5" y2="29.5" stroke="#5cc890" stroke-width="0.6" stroke-linecap="round"/>
<line x1="25.5" y1="20.0" x2="31.0" y2="33.0" stroke="#5cc890" stroke-width="0.6" stroke-linecap="round"/>
<circle cx="9.0" cy="9.0" r="0.8" fill="#3cb88a"/>
<circle cx="2.5" cy="29.5" r="0.8" fill="#3cb88a"/>
<circle cx="12.5" cy="22.0" r="0.8" fill="#3cb88a"/>
<circle cx="25.5" cy="20.0" r="0.8" fill="#3cb88a"/>
<circle cx="31.0" cy="33.0" r="0.8" fill="#3cb88a"/>
<circle cx="8.5" cy="46.5" r="0.8" fill="#3cb88a"/>
<circle cx="4.0" cy="61.0" r="0.8" fill="#3cb88a"/>
<circle cx="33.0" cy="55.0" r="0.8" fill="#3cb88a"/>
</g>
<text x="4.3" y="12.4" font-size="12.6" fill="#222">(a)</text>
<text x="345.5" y="12.4" font-size="12.6" fill="#222">(b)</text>
<text x="6.6" y="32.3" font-size="7.6" fill="#222" textLength="45.5" lengthAdjust="spacingAndGlyphs">Regional-PVE</text>
<text x="30.6" y="41.0" font-size="5.4" fill="#333" text-anchor="end">2 × 10</text>
<text x="30.7" y="39.3" font-size="4.2" fill="#333">−3</text>
<circle cx="39" cy="38.6" r="2.40" fill="#a8231a"/>
<line x1="44.6" y1="38.6" x2="51.8" y2="38.6" stroke="#a8231a" stroke-width="3.6" stroke-linecap="round"/>
<text x="30.6" y="47.6" font-size="5.4" fill="#333" text-anchor="end">1.5 × 10</text>
<text x="30.7" y="46.0" font-size="4.2" fill="#333">−3</text>
<circle cx="39" cy="45.2" r="2.20" fill="#e0602a"/>
<line x1="44.6" y1="45.2" x2="51.8" y2="45.2" stroke="#e0602a" stroke-width="3.0" stroke-linecap="round"/>
<text x="30.6" y="54.3" font-size="5.4" fill="#333" text-anchor="end">10</text>
<text x="30.7" y="52.6" font-size="4.2" fill="#333">−3</text>
<circle cx="39" cy="51.9" r="2.00" fill="#f0a040"/>
<line x1="44.6" y1="51.9" x2="51.8" y2="51.9" stroke="#f0a040" stroke-width="2.5" stroke-linecap="round"/>
<text x="30.6" y="61.0" font-size="5.4" fill="#333" text-anchor="end">5 × 10</text>
<text x="30.7" y="59.3" font-size="4.2" fill="#333">−4</text>
<circle cx="39" cy="58.6" r="1.55" fill="#c0dc68"/>
<line x1="44.6" y1="58.6" x2="51.8" y2="58.6" stroke="#c0dc68" stroke-width="1.5" stroke-linecap="round"/>
<text x="30.6" y="67.6" font-size="5.4" fill="#333" text-anchor="end">2.5 × 10</text>
<text x="30.7" y="65.9" font-size="4.2" fill="#333">−4</text>
<circle cx="39" cy="65.2" r="1.30" fill="#60d0a0"/>
<line x1="44.6" y1="65.2" x2="51.8" y2="65.2" stroke="#60d0a0" stroke-width="1.0" stroke-linecap="round"/>
<polygon points="62.0,69.8 97.0,69.8 68.2,76.5 66.0,76.5" fill="#f3eaa8"/>
<rect x="66.0" y="76" width="2.2" height="176.0" fill="#f3eaa8"/>
<polygon points="115.5,69.8 153.0,69.8 94.7,76.5 92.5,76.5" fill="#c4eed9"/>
<rect x="92.5" y="76" width="2.2" height="176.0" fill="#c4eed9"/>
<polygon points="171.0,69.8 206.0,69.8 172.9,76.5 170.7,76.5" fill="#e8c2c2"/>
<rect x="170.7" y="76" width="2.2" height="176.0" fill="#e8c2c2"/>
<polygon points="206.0,69.8 262.0,69.8 204.4,76.5 202.2,76.5" fill="#f2dcd6"/>
<rect x="202.2" y="76" width="2.2" height="176.0" fill="#f2dcd6"/>
<polygon points="287.0,69.8 323.0,69.8 281.0,76.5 278.8,76.5" fill="#c0d6f0"/>
<rect x="278.8" y="76" width="2.2" height="176.0" fill="#c0d6f0"/>
<polygon points="365.0,69.8 410.0,69.8 453.2,76.5 451.0,76.5" fill="#dccbec"/>
<rect x="451.0" y="76" width="2.2" height="176.0" fill="#dccbec"/>
<polygon points="419.0,69.8 457.0,69.8 466.0,76.5 463.8,76.5" fill="#f3eaa8"/>
<rect x="463.8" y="76" width="2.2" height="176.0" fill="#f3eaa8"/>
<polygon points="475.0,69.8 510.0,69.8 489.6,76.5 487.4,76.5" fill="#e8c2c2"/>
<rect x="487.4" y="76" width="2.2" height="176.0" fill="#e8c2c2"/>
<polygon points="527.0,69.8 565.0,69.8 507.3,76.5 505.1,76.5" fill="#c4eed9"/>
<rect x="505.1" y="76" width="2.2" height="176.0" fill="#c4eed9"/>
<polygon points="586.0,69.8 620.0,69.8 602.4,76.5 600.2,76.5" fill="#f2dcd6"/>
<rect x="600.2" y="76" width="2.2" height="176.0" fill="#f2dcd6"/>
<polygon points="613.0,69.8 676.0,69.8 608.9,76.5 606.7,76.5" fill="#c0d6f0"/>
<rect x="606.7" y="76" width="2.2" height="176.0" fill="#c0d6f0"/>
<line x1="22.0" y1="83.5" x2="22.0" y2="194" stroke="#444" stroke-width="0.9"/>
<line x1="20.0" y1="191.6" x2="22.0" y2="191.6" stroke="#444" stroke-width="0.8"/>
<text x="18.5" y="194.1" font-size="6.9" fill="#333" text-anchor="end">0</text>
<line x1="20.0" y1="164.7" x2="22.0" y2="164.7" stroke="#444" stroke-width="0.8"/>
<text x="18.5" y="167.2" font-size="6.9" fill="#333" text-anchor="end">5</text>
<line x1="20.0" y1="137.7" x2="22.0" y2="137.7" stroke="#444" stroke-width="0.8"/>
<text x="18.5" y="140.2" font-size="6.9" fill="#333" text-anchor="end">10</text>
<line x1="20.0" y1="110.8" x2="22.0" y2="110.8" stroke="#444" stroke-width="0.8"/>
<text x="18.5" y="113.2" font-size="6.9" fill="#333" text-anchor="end">15</text>
<line x1="20.0" y1="83.8" x2="22.0" y2="83.8" stroke="#444" stroke-width="0.8"/>
<text x="18.5" y="86.3" font-size="6.9" fill="#333" text-anchor="end">20</text>
<g transform="translate(7.8,159.5) rotate(-90)"><text x="0" y="0" font-size="8.3" fill="#333" text-anchor="middle" textLength="30.5" lengthAdjust="spacingAndGlyphs">−log<tspan font-size="5.6" dy="1.9">10</tspan><tspan dy="-1.9">(</tspan><tspan font-style="italic">p</tspan>)</text></g>
<line x1="379.3" y1="83.5" x2="379.3" y2="194" stroke="#444" stroke-width="0.9"/>
<line x1="377.3" y1="191.6" x2="379.3" y2="191.6" stroke="#444" stroke-width="0.8"/>
<text x="375.8" y="194.1" font-size="6.9" fill="#333" text-anchor="end">0</text>
<line x1="377.3" y1="180.8" x2="379.3" y2="180.8" stroke="#444" stroke-width="0.8"/>
<text x="375.8" y="183.3" font-size="6.9" fill="#333" text-anchor="end">5</text>
<line x1="377.3" y1="170.1" x2="379.3" y2="170.1" stroke="#444" stroke-width="0.8"/>
<text x="375.8" y="172.6" font-size="6.9" fill="#333" text-anchor="end">10</text>
<line x1="377.3" y1="159.3" x2="379.3" y2="159.3" stroke="#444" stroke-width="0.8"/>
<text x="375.8" y="161.8" font-size="6.9" fill="#333" text-anchor="end">15</text>
<line x1="377.3" y1="148.5" x2="379.3" y2="148.5" stroke="#444" stroke-width="0.8"/>
<text x="375.8" y="151.0" font-size="6.9" fill="#333" text-anchor="end">20</text>
<line x1="377.3" y1="137.8" x2="379.3" y2="137.8" stroke="#444" stroke-width="0.8"/>
<text x="375.8" y="140.2" font-size="6.9" fill="#333" text-anchor="end">25</text>
<line x1="377.3" y1="127.0" x2="379.3" y2="127.0" stroke="#444" stroke-width="0.8"/>
<text x="375.8" y="129.5" font-size="6.9" fill="#333" text-anchor="end">30</text>
<line x1="377.3" y1="116.2" x2="379.3" y2="116.2" stroke="#444" stroke-width="0.8"/>
<text x="375.8" y="118.7" font-size="6.9" fill="#333" text-anchor="end">40</text>
<line x1="377.3" y1="105.4" x2="379.3" y2="105.4" stroke="#444" stroke-width="0.8"/>
<text x="375.8" y="107.9" font-size="6.9" fill="#333" text-anchor="end">50</text>
<line x1="377.3" y1="94.7" x2="379.3" y2="94.7" stroke="#444" stroke-width="0.8"/>
<text x="375.8" y="97.2" font-size="6.9" fill="#333" text-anchor="end">60</text>
<line x1="377.3" y1="83.9" x2="379.3" y2="83.9" stroke="#444" stroke-width="0.8"/>
<text x="375.8" y="86.4" font-size="6.9" fill="#333" text-anchor="end">80</text>
<g transform="translate(363.8,159.5) rotate(-90)"><text x="0" y="0" font-size="8.3" fill="#333" text-anchor="middle" textLength="30.5" lengthAdjust="spacingAndGlyphs">−log<tspan font-size="5.6" dy="1.9">10</tspan><tspan dy="-1.9">(</tspan><tspan font-style="italic">p</tspan>)</text></g>
<line x1="324.4" y1="83.4" x2="324.4" y2="194" stroke="#444" stroke-width="0.9"/>
<line x1="681.4" y1="83.4" x2="681.4" y2="194" stroke="#444" stroke-width="0.9"/>
<line x1="22" y1="152.3" x2="324.4" y2="152.3" stroke="#555" stroke-width="0.8"/>
<line x1="22" y1="164.7" x2="324.4" y2="164.7" stroke="#666" stroke-width="0.7" stroke-dasharray="2,1.6"/>
<line x1="379.3" y1="176" x2="681.4" y2="176" stroke="#777" stroke-width="0.9"/>
<line x1="379.3" y1="181" x2="681.4" y2="181" stroke="#777" stroke-width="0.7" stroke-dasharray="2,1.6"/>
<rect x="47" y="188.3" width="275" height="4.5" fill="#2a2a2a"/>
<rect x="392" y="188.3" width="288" height="4.5" fill="#2a2a2a"/>
<g class="sc">
<circle cx="254.0" cy="187.3" fill="#d8d8d8"/>
<circle cx="175.0" cy="186.2" fill="#e0e0e0"/>
<circle cx="236.4" cy="189.1" fill="#999"/>
<circle cx="151.3" cy="189.4" fill="#888"/>
<circle cx="256.7" cy="189.5" fill="#999"/>
<circle cx="193.5" cy="172.2" fill="#b4b4b4"/>
<circle cx="123.0" cy="181.5" fill="#d8d8d8"/>
<circle cx="160.9" cy="191.3" fill="#888"/>
<circle cx="95.6" cy="175.3" fill="#cccccc"/>
<circle cx="128.2" cy="190.7" fill="#999"/>
<circle cx="247.2" cy="190.6" fill="#888"/>
<circle cx="105.2" cy="189.4" fill="#999"/>
<circle cx="321.5" cy="191.2" fill="#999"/>
<circle cx="302.3" cy="189.8" fill="#888"/>
<circle cx="86.7" cy="181.8" fill="#c0c0c0"/>
<circle cx="253.7" cy="178.8" fill="#d2d2d2"/>
<circle cx="73.4" cy="171.1" fill="#d8d8d8"/>
<circle cx="225.7" cy="187.7" fill="#d8d8d8"/>
<circle cx="193.6" cy="188.2" fill="#e0e0e0"/>
<circle cx="67.7" cy="190.9" fill="#888"/>
<circle cx="248.0" cy="190.9" fill="#999"/>
<circle cx="141.0" cy="188.7" fill="#d2d2d2"/>
<circle cx="300.9" cy="188.2" fill="#d2d2d2"/>
<circle cx="228.5" cy="185.8" fill="#d8d8d8"/>
<circle cx="148.0" cy="190.0" fill="#999"/>
<circle cx="318.7" cy="180.7" fill="#cccccc"/>
<circle cx="203.3" cy="187.5" fill="#cccccc"/>
<circle cx="135.4" cy="187.1" fill="#e0e0e0"/>
<circle cx="281.1" cy="183.3" fill="#e0e0e0"/>
<circle cx="77.9" cy="187.6" fill="#e0e0e0"/>
<circle cx="211.1" cy="189.4" fill="#aaa"/>
<circle cx="252.0" cy="189.7" fill="#777"/>
<circle cx="229.4" cy="191.5" fill="#888"/>
<circle cx="183.0" cy="188.7" fill="#d8d8d8"/>
<circle cx="275.5" cy="188.4" fill="#c0c0c0"/>
<circle cx="183.3" cy="183.5" fill="#e0e0e0"/>
<circle cx="276.2" cy="190.4" fill="#777"/>
<circle cx="62.9" cy="187.8" fill="#e0e0e0"/>
<circle cx="288.1" cy="180.2" fill="#d2d2d2"/>
<circle cx="192.2" cy="188.8" fill="#c0c0c0"/>
<circle cx="147.1" cy="190.3" fill="#aaa"/>
<circle cx="227.6" cy="187.0" fill="#d2d2d2"/>
<circle cx="69.3" cy="189.5" fill="#999"/>
<circle cx="106.6" cy="191.5" fill="#aaa"/>
<circle cx="125.2" cy="186.5" fill="#d2d2d2"/>
<circle cx="208.3" cy="190.3" fill="#aaa"/>
<circle cx="243.1" cy="190.6" fill="#888"/>
<circle cx="51.2" cy="191.4" fill="#aaa"/>
<circle cx="204.9" cy="191.0" fill="#999"/>
<circle cx="143.2" cy="184.4" fill="#b4b4b4"/>
<circle cx="178.9" cy="187.7" fill="#d8d8d8"/>
<circle cx="74.5" cy="188.2" fill="#e0e0e0"/>
<circle cx="254.7" cy="187.7" fill="#c0c0c0"/>
<circle cx="133.7" cy="180.9" fill="#d2d2d2"/>
<circle cx="81.2" cy="183.2" fill="#b4b4b4"/>
<circle cx="218.1" cy="189.1" fill="#e0e0e0"/>
<circle cx="131.8" cy="187.0" fill="#c0c0c0"/>
<circle cx="194.3" cy="187.2" fill="#cccccc"/>
<circle cx="224.0" cy="190.4" fill="#999"/>
<circle cx="49.7" cy="190.4" fill="#999"/>
<circle cx="109.5" cy="187.7" fill="#cccccc"/>
<circle cx="93.2" cy="187.3" fill="#c0c0c0"/>
<circle cx="149.8" cy="188.7" fill="#c0c0c0"/>
<circle cx="320.3" cy="184.9" fill="#cccccc"/>
<circle cx="180.7" cy="171.3" fill="#d2d2d2"/>
<circle cx="154.1" cy="191.6" fill="#777"/>
<circle cx="150.5" cy="191.4" fill="#aaa"/>
<circle cx="104.9" cy="187.7" fill="#d2d2d2"/>
<circle cx="260.9" cy="190.3" fill="#777"/>
<circle cx="320.6" cy="190.5" fill="#777"/>
<circle cx="101.5" cy="181.9" fill="#b4b4b4"/>
<circle cx="78.5" cy="187.3" fill="#d8d8d8"/>
<circle cx="319.7" cy="189.3" fill="#c0c0c0"/>
<circle cx="277.6" cy="191.3" fill="#888"/>
<circle cx="122.4" cy="184.6" fill="#cccccc"/>
<circle cx="186.7" cy="191.0" fill="#888"/>
<circle cx="221.3" cy="187.9" fill="#d8d8d8"/>
<circle cx="79.4" cy="177.1" fill="#d8d8d8"/>
<circle cx="209.6" cy="189.2" fill="#cccccc"/>
<circle cx="249.9" cy="191.2" fill="#aaa"/>
<circle cx="90.8" cy="188.6" fill="#cccccc"/>
<circle cx="114.7" cy="190.6" fill="#777"/>
<circle cx="58.8" cy="187.6" fill="#d2d2d2"/>
<circle cx="72.4" cy="167.1" fill="#e0e0e0"/>
<circle cx="126.1" cy="182.1" fill="#d2d2d2"/>
<circle cx="266.7" cy="188.3" fill="#d8d8d8"/>
<circle cx="134.6" cy="187.7" fill="#b4b4b4"/>
<circle cx="206.2" cy="188.6" fill="#d8d8d8"/>
<circle cx="178.2" cy="182.8" fill="#c0c0c0"/>
<circle cx="190.8" cy="188.4" fill="#cccccc"/>
<circle cx="178.4" cy="190.5" fill="#aaa"/>
<circle cx="220.8" cy="190.9" fill="#888"/>
<circle cx="283.3" cy="190.7" fill="#888"/>
<circle cx="215.1" cy="181.4" fill="#c0c0c0"/>
<circle cx="255.1" cy="191.1" fill="#999"/>
<circle cx="202.3" cy="180.8" fill="#b4b4b4"/>
<circle cx="83.2" cy="176.0" fill="#d8d8d8"/>
<circle cx="144.7" cy="191.0" fill="#777"/>
<circle cx="56.1" cy="191.2" fill="#777"/>
<circle cx="101.2" cy="171.6" fill="#d2d2d2"/>
<circle cx="92.9" cy="189.3" fill="#aaa"/>
<circle cx="300.2" cy="179.3" fill="#b4b4b4"/>
<circle cx="152.6" cy="182.0" fill="#d8d8d8"/>
<circle cx="230.7" cy="190.4" fill="#888"/>
<circle cx="207.1" cy="190.5" fill="#777"/>
<circle cx="115.2" cy="191.2" fill="#aaa"/>
<circle cx="206.8" cy="185.6" fill="#cccccc"/>
<circle cx="70.8" cy="191.2" fill="#aaa"/>
<circle cx="204.1" cy="187.4" fill="#c0c0c0"/>
<circle cx="286.0" cy="178.1" fill="#c0c0c0"/>
<circle cx="115.8" cy="191.0" fill="#aaa"/>
<circle cx="122.4" cy="188.9" fill="#e0e0e0"/>
<circle cx="210.2" cy="190.4" fill="#999"/>
<circle cx="198.9" cy="189.1" fill="#d8d8d8"/>
<circle cx="250.6" cy="177.5" fill="#d2d2d2"/>
<circle cx="216.8" cy="188.5" fill="#e0e0e0"/>
<circle cx="111.5" cy="190.6" fill="#aaa"/>
<circle cx="309.2" cy="187.3" fill="#c0c0c0"/>
<circle cx="313.9" cy="184.5" fill="#c0c0c0"/>
<circle cx="203.5" cy="191.3" fill="#888"/>
<circle cx="278.3" cy="188.0" fill="#c0c0c0"/>
<circle cx="316.6" cy="189.1" fill="#777"/>
<circle cx="262.3" cy="188.3" fill="#b4b4b4"/>
<circle cx="170.1" cy="185.6" fill="#b4b4b4"/>
<circle cx="301.9" cy="191.4" fill="#888"/>
<circle cx="193.0" cy="188.6" fill="#b4b4b4"/>
<circle cx="246.5" cy="185.0" fill="#c0c0c0"/>
<circle cx="183.4" cy="187.1" fill="#c0c0c0"/>
<circle cx="129.3" cy="191.6" fill="#aaa"/>
<circle cx="146.6" cy="188.7" fill="#cccccc"/>
<circle cx="317.4" cy="191.7" fill="#777"/>
<circle cx="87.4" cy="174.5" fill="#b4b4b4"/>
<circle cx="59.6" cy="188.8" fill="#e0e0e0"/>
<circle cx="177.6" cy="191.1" fill="#888"/>
<circle cx="311.7" cy="188.2" fill="#b4b4b4"/>
<circle cx="118.8" cy="187.2" fill="#cccccc"/>
<circle cx="191.9" cy="180.0" fill="#cccccc"/>
<circle cx="316.6" cy="186.5" fill="#d2d2d2"/>
<circle cx="306.3" cy="187.6" fill="#b4b4b4"/>
<circle cx="134.0" cy="188.3" fill="#cccccc"/>
<circle cx="242.2" cy="190.5" fill="#999"/>
<circle cx="306.5" cy="179.1" fill="#d8d8d8"/>
<circle cx="106.2" cy="189.4" fill="#888"/>
<circle cx="282.9" cy="191.7" fill="#888"/>
<circle cx="320.0" cy="187.6" fill="#d2d2d2"/>
<circle cx="230.5" cy="191.6" fill="#aaa"/>
<circle cx="300.0" cy="190.2" fill="#aaa"/>
<circle cx="98.3" cy="186.8" fill="#e0e0e0"/>
<circle cx="127.2" cy="178.8" fill="#e0e0e0"/>
<circle cx="202.4" cy="187.6" fill="#d2d2d2"/>
<circle cx="285.9" cy="191.3" fill="#777"/>
<circle cx="176.8" cy="189.4" fill="#888"/>
<circle cx="144.1" cy="189.5" fill="#aaa"/>
<circle cx="166.1" cy="177.2" fill="#d2d2d2"/>
<circle cx="239.0" cy="189.3" fill="#d8d8d8"/>
<circle cx="174.7" cy="168.1" fill="#cccccc"/>
<circle cx="300.4" cy="187.0" fill="#cccccc"/>
<circle cx="86.7" cy="190.3" fill="#888"/>
<circle cx="280.7" cy="183.5" fill="#c0c0c0"/>
<circle cx="184.8" cy="183.1" fill="#d8d8d8"/>
<circle cx="304.9" cy="186.7" fill="#e0e0e0"/>
<circle cx="180.1" cy="190.8" fill="#888"/>
<circle cx="309.1" cy="184.0" fill="#cccccc"/>
<circle cx="251.2" cy="187.6" fill="#d2d2d2"/>
<circle cx="222.9" cy="188.8" fill="#e0e0e0"/>
<circle cx="234.1" cy="188.4" fill="#cccccc"/>
<circle cx="240.7" cy="191.5" fill="#777"/>
<circle cx="62.9" cy="191.7" fill="#888"/>
<circle cx="147.3" cy="180.7" fill="#c0c0c0"/>
<circle cx="185.0" cy="180.4" fill="#cccccc"/>
<circle cx="58.2" cy="187.7" fill="#e0e0e0"/>
<circle cx="277.2" cy="170.4" fill="#d8d8d8"/>
<circle cx="99.5" cy="187.8" fill="#c0c0c0"/>
<circle cx="298.3" cy="188.3" fill="#d8d8d8"/>
<circle cx="89.6" cy="189.0" fill="#c0c0c0"/>
<circle cx="105.7" cy="186.9" fill="#d8d8d8"/>
<circle cx="249.4" cy="179.6" fill="#d8d8d8"/>
<circle cx="167.6" cy="188.9" fill="#e0e0e0"/>
<circle cx="108.3" cy="181.4" fill="#cccccc"/>
<circle cx="235.0" cy="188.7" fill="#b4b4b4"/>
<circle cx="212.1" cy="190.0" fill="#888"/>
<circle cx="319.2" cy="190.6" fill="#777"/>
<circle cx="150.2" cy="190.9" fill="#888"/>
<circle cx="55.6" cy="189.9" fill="#888"/>
<circle cx="67.3" cy="190.3" fill="#888"/>
<circle cx="177.5" cy="187.5" fill="#e0e0e0"/>
<circle cx="108.4" cy="189.2" fill="#cccccc"/>
<circle cx="259.5" cy="190.8" fill="#777"/>
<circle cx="70.0" cy="191.7" fill="#777"/>
<circle cx="264.7" cy="188.5" fill="#c0c0c0"/>
<circle cx="174.3" cy="168.5" fill="#d8d8d8"/>
<circle cx="144.4" cy="190.5" fill="#888"/>
<circle cx="179.6" cy="170.1" fill="#cccccc"/>
<circle cx="288.0" cy="188.2" fill="#d2d2d2"/>
<circle cx="86.0" cy="191.1" fill="#777"/>
<circle cx="145.5" cy="187.6" fill="#cccccc"/>
<circle cx="90.8" cy="187.3" fill="#d8d8d8"/>
<circle cx="100.9" cy="170.4" fill="#b4b4b4"/>
<circle cx="313.2" cy="178.3" fill="#d2d2d2"/>
<circle cx="281.7" cy="187.4" fill="#cccccc"/>
<circle cx="314.2" cy="189.2" fill="#777"/>
<circle cx="60.6" cy="189.7" fill="#aaa"/>
<circle cx="173.9" cy="182.2" fill="#e0e0e0"/>
<circle cx="225.7" cy="189.5" fill="#777"/>
<circle cx="109.3" cy="185.0" fill="#e0e0e0"/>
<circle cx="216.4" cy="190.8" fill="#777"/>
<circle cx="136.1" cy="187.8" fill="#c0c0c0"/>
<circle cx="112.4" cy="189.7" fill="#777"/>
<circle cx="299.2" cy="191.5" fill="#777"/>
<circle cx="264.9" cy="188.6" fill="#e0e0e0"/>
<circle cx="179.8" cy="178.6" fill="#d8d8d8"/>
<circle cx="78.4" cy="185.0" fill="#b4b4b4"/>
<circle cx="285.7" cy="191.6" fill="#999"/>
<circle cx="270.8" cy="189.2" fill="#d8d8d8"/>
<circle cx="65.9" cy="187.7" fill="#e0e0e0"/>
<circle cx="231.7" cy="187.4" fill="#d8d8d8"/>
<circle cx="179.1" cy="187.1" fill="#cccccc"/>
<circle cx="234.6" cy="191.3" fill="#777"/>
<circle cx="84.1" cy="191.3" fill="#aaa"/>
<circle cx="180.9" cy="189.5" fill="#999"/>
<circle cx="120.9" cy="189.8" fill="#aaa"/>
<circle cx="135.0" cy="187.7" fill="#c0c0c0"/>
<circle cx="311.6" cy="180.9" fill="#d2d2d2"/>
<circle cx="73.5" cy="170.3" fill="#d2d2d2"/>
<circle cx="232.2" cy="188.3" fill="#d2d2d2"/>
<circle cx="120.0" cy="187.1" fill="#b4b4b4"/>
<circle cx="165.6" cy="190.1" fill="#aaa"/>
<circle cx="262.8" cy="189.4" fill="#777"/>
<circle cx="260.1" cy="191.4" fill="#777"/>
<circle cx="259.9" cy="191.4" fill="#aaa"/>
<circle cx="86.2" cy="189.2" fill="#cccccc"/>
<circle cx="160.2" cy="189.6" fill="#aaa"/>
<circle cx="242.3" cy="190.9" fill="#999"/>
<circle cx="81.9" cy="188.0" fill="#b4b4b4"/>
<circle cx="269.5" cy="184.2" fill="#e0e0e0"/>
<circle cx="192.0" cy="176.8" fill="#c0c0c0"/>
<circle cx="266.4" cy="190.6" fill="#888"/>
<circle cx="153.0" cy="191.2" fill="#777"/>
<circle cx="130.3" cy="191.2" fill="#777"/>
<circle cx="183.3" cy="187.7" fill="#cccccc"/>
<circle cx="154.3" cy="188.5" fill="#b4b4b4"/>
<circle cx="258.0" cy="189.7" fill="#888"/>
<circle cx="173.4" cy="187.5" fill="#d2d2d2"/>
<circle cx="316.6" cy="184.1" fill="#b4b4b4"/>
<circle cx="82.7" cy="190.9" fill="#777"/>
<circle cx="95.3" cy="181.7" fill="#d2d2d2"/>
<circle cx="153.9" cy="190.8" fill="#aaa"/>
<circle cx="97.3" cy="172.8" fill="#d8d8d8"/>
<circle cx="61.6" cy="190.7" fill="#777"/>
<circle cx="149.7" cy="178.7" fill="#cccccc"/>
<circle cx="86.5" cy="187.2" fill="#d2d2d2"/>
<circle cx="168.4" cy="191.5" fill="#aaa"/>
<circle cx="182.5" cy="188.2" fill="#cccccc"/>
<circle cx="101.3" cy="189.1" fill="#c0c0c0"/>
<circle cx="135.8" cy="190.4" fill="#aaa"/>
<circle cx="295.5" cy="186.9" fill="#d2d2d2"/>
<circle cx="147.6" cy="189.5" fill="#999"/>
<circle cx="84.1" cy="190.8" fill="#777"/>
<circle cx="297.9" cy="186.1" fill="#e0e0e0"/>
<circle cx="272.2" cy="190.7" fill="#777"/>
<circle cx="115.4" cy="187.3" fill="#b4b4b4"/>
<circle cx="205.3" cy="191.0" fill="#777"/>
<circle cx="103.5" cy="186.4" fill="#c0c0c0"/>
<circle cx="217.9" cy="189.5" fill="#777"/>
<circle cx="207.8" cy="186.2" fill="#e0e0e0"/>
<circle cx="321.4" cy="189.5" fill="#aaa"/>
<circle cx="169.3" cy="177.7" fill="#cccccc"/>
<circle cx="238.8" cy="190.2" fill="#aaa"/>
<circle cx="68.4" cy="166.1" fill="#d8d8d8"/>
<circle cx="252.0" cy="189.9" fill="#aaa"/>
<circle cx="150.1" cy="187.9" fill="#e0e0e0"/>
<circle cx="107.8" cy="190.4" fill="#999"/>
<circle cx="112.8" cy="191.5" fill="#777"/>
<circle cx="78.5" cy="191.6" fill="#888"/>
<circle cx="304.1" cy="183.8" fill="#b4b4b4"/>
<circle cx="308.9" cy="189.7" fill="#888"/>
<circle cx="182.5" cy="189.7" fill="#999"/>
<circle cx="296.6" cy="191.2" fill="#777"/>
<circle cx="132.2" cy="190.8" fill="#999"/>
<circle cx="187.4" cy="187.3" fill="#b4b4b4"/>
<circle cx="54.5" cy="188.9" fill="#b4b4b4"/>
<circle cx="139.9" cy="189.5" fill="#777"/>
<circle cx="259.7" cy="189.6" fill="#777"/>
<circle cx="62.3" cy="191.4" fill="#777"/>
<circle cx="124.1" cy="179.2" fill="#c0c0c0"/>
<circle cx="76.7" cy="186.1" fill="#cccccc"/>
<circle cx="185.4" cy="174.3" fill="#cccccc"/>
<circle cx="312.6" cy="188.6" fill="#d8d8d8"/>
<circle cx="231.2" cy="190.3" fill="#aaa"/>
<circle cx="282.2" cy="169.7" fill="#d2d2d2"/>
<circle cx="208.6" cy="189.3" fill="#999"/>
<circle cx="188.4" cy="185.5" fill="#c0c0c0"/>
<circle cx="210.7" cy="189.1" fill="#b4b4b4"/>
<circle cx="253.4" cy="189.6" fill="#aaa"/>
<circle cx="308.4" cy="189.4" fill="#777"/>
<circle cx="72.5" cy="189.7" fill="#888"/>
<circle cx="150.1" cy="188.0" fill="#c0c0c0"/>
<circle cx="108.4" cy="179.5" fill="#e0e0e0"/>
<circle cx="219.9" cy="190.0" fill="#888"/>
<circle cx="156.3" cy="190.7" fill="#aaa"/>
<circle cx="167.8" cy="175.1" fill="#d2d2d2"/>
<circle cx="209.5" cy="187.2" fill="#cccccc"/>
<circle cx="282.8" cy="191.4" fill="#777"/>
<circle cx="246.7" cy="183.6" fill="#c0c0c0"/>
<circle cx="287.8" cy="191.1" fill="#aaa"/>
<circle cx="131.6" cy="188.3" fill="#c0c0c0"/>
<circle cx="186.8" cy="184.8" fill="#d2d2d2"/>
<circle cx="276.9" cy="186.6" fill="#cccccc"/>
<circle cx="162.0" cy="187.3" fill="#d2d2d2"/>
<circle cx="148.2" cy="190.0" fill="#aaa"/>
<circle cx="269.2" cy="189.5" fill="#999"/>
<circle cx="216.8" cy="186.4" fill="#d2d2d2"/>
<circle cx="214.9" cy="188.9" fill="#e0e0e0"/>
<circle cx="140.3" cy="191.1" fill="#888"/>
<circle cx="90.6" cy="179.0" fill="#d2d2d2"/>
<circle cx="70.7" cy="187.3" fill="#d8d8d8"/>
<circle cx="197.7" cy="169.9" fill="#b4b4b4"/>
<circle cx="295.6" cy="188.3" fill="#b4b4b4"/>
<circle cx="123.7" cy="183.5" fill="#d8d8d8"/>
<circle cx="292.7" cy="189.9" fill="#999"/>
<circle cx="78.0" cy="188.6" fill="#b4b4b4"/>
<circle cx="124.5" cy="191.4" fill="#777"/>
<circle cx="46.0" cy="191.5" fill="#888"/>
<circle cx="148.2" cy="188.7" fill="#cccccc"/>
<circle cx="208.5" cy="191.6" fill="#aaa"/>
<circle cx="258.5" cy="186.8" fill="#d2d2d2"/>
<circle cx="272.0" cy="187.7" fill="#d2d2d2"/>
<circle cx="85.1" cy="185.9" fill="#d2d2d2"/>
<circle cx="286.3" cy="188.6" fill="#d8d8d8"/>
<circle cx="243.5" cy="190.4" fill="#777"/>
<circle cx="251.8" cy="188.7" fill="#c0c0c0"/>
<circle cx="239.1" cy="179.1" fill="#d2d2d2"/>
<circle cx="163.9" cy="179.7" fill="#e0e0e0"/>
<circle cx="318.4" cy="184.6" fill="#cccccc"/>
<circle cx="107.9" cy="187.8" fill="#d2d2d2"/>
<circle cx="230.9" cy="190.3" fill="#999"/>
<circle cx="250.7" cy="188.7" fill="#b4b4b4"/>
<circle cx="264.6" cy="189.3" fill="#777"/>
<circle cx="184.1" cy="191.7" fill="#777"/>
<circle cx="228.3" cy="188.1" fill="#cccccc"/>
<circle cx="128.7" cy="188.2" fill="#d8d8d8"/>
<circle cx="244.7" cy="188.7" fill="#c0c0c0"/>
<circle cx="58.6" cy="186.7" fill="#d2d2d2"/>
<circle cx="273.4" cy="189.2" fill="#aaa"/>
<circle cx="90.0" cy="177.2" fill="#c0c0c0"/>
<circle cx="163.1" cy="186.9" fill="#b4b4b4"/>
<circle cx="169.9" cy="190.0" fill="#aaa"/>
<circle cx="233.0" cy="191.3" fill="#777"/>
<circle cx="106.2" cy="181.9" fill="#cccccc"/>
<circle cx="146.7" cy="189.6" fill="#888"/>
<circle cx="110.1" cy="189.3" fill="#777"/>
<circle cx="180.8" cy="189.6" fill="#777"/>
<circle cx="100.3" cy="187.0" fill="#d8d8d8"/>
<circle cx="218.0" cy="177.2" fill="#cccccc"/>
<circle cx="121.6" cy="188.4" fill="#cccccc"/>
<circle cx="112.4" cy="191.0" fill="#888"/>
<circle cx="154.3" cy="181.1" fill="#c0c0c0"/>
<circle cx="280.8" cy="168.9" fill="#d8d8d8"/>
<circle cx="116.1" cy="189.3" fill="#e0e0e0"/>
<circle cx="134.2" cy="190.1" fill="#aaa"/>
<circle cx="316.5" cy="188.5" fill="#e0e0e0"/>
<circle cx="101.4" cy="189.8" fill="#999"/>
<circle cx="161.1" cy="189.9" fill="#aaa"/>
<circle cx="240.7" cy="189.7" fill="#888"/>
<circle cx="258.4" cy="189.9" fill="#aaa"/>
<circle cx="222.6" cy="188.0" fill="#c0c0c0"/>
<circle cx="179.2" cy="191.8" fill="#999"/>
<circle cx="209.9" cy="188.9" fill="#e0e0e0"/>
<circle cx="146.9" cy="189.7" fill="#888"/>
<circle cx="268.6" cy="187.6" fill="#e0e0e0"/>
<circle cx="167.9" cy="190.3" fill="#999"/>
<circle cx="78.0" cy="185.8" fill="#b4b4b4"/>
<circle cx="310.2" cy="191.7" fill="#aaa"/>
<circle cx="293.3" cy="189.1" fill="#d2d2d2"/>
<circle cx="209.2" cy="178.3" fill="#e0e0e0"/>
<circle cx="174.4" cy="190.2" fill="#aaa"/>
<circle cx="256.0" cy="190.5" fill="#aaa"/>
<circle cx="301.1" cy="186.9" fill="#e0e0e0"/>
<circle cx="293.3" cy="187.7" fill="#cccccc"/>
<circle cx="210.3" cy="187.9" fill="#d2d2d2"/>
<circle cx="299.6" cy="190.5" fill="#777"/>
<circle cx="139.2" cy="190.0" fill="#aaa"/>
<circle cx="208.8" cy="188.4" fill="#d8d8d8"/>
<circle cx="123.6" cy="189.5" fill="#aaa"/>
<circle cx="178.5" cy="184.6" fill="#cccccc"/>
<circle cx="232.3" cy="189.5" fill="#aaa"/>
<circle cx="227.6" cy="188.2" fill="#cccccc"/>
<circle cx="268.8" cy="188.8" fill="#d2d2d2"/>
<circle cx="288.8" cy="190.8" fill="#888"/>
<circle cx="185.4" cy="187.8" fill="#e0e0e0"/>
<circle cx="72.3" cy="187.9" fill="#e0e0e0"/>
<circle cx="162.3" cy="173.0" fill="#b4b4b4"/>
<circle cx="250.6" cy="180.0" fill="#c0c0c0"/>
<circle cx="146.3" cy="190.1" fill="#aaa"/>
<circle cx="225.3" cy="178.6" fill="#cccccc"/>
<circle cx="165.5" cy="176.2" fill="#b4b4b4"/>
<circle cx="248.9" cy="189.5" fill="#888"/>
<circle cx="289.3" cy="188.6" fill="#d8d8d8"/>
<circle cx="225.5" cy="189.2" fill="#c0c0c0"/>
<circle cx="295.3" cy="190.3" fill="#aaa"/>
<circle cx="66.6" cy="190.5" fill="#888"/>
<circle cx="257.5" cy="187.6" fill="#b4b4b4"/>
<circle cx="189.3" cy="183.4" fill="#d8d8d8"/>
<circle cx="68.9" cy="189.0" fill="#c0c0c0"/>
<circle cx="314.5" cy="185.3" fill="#cccccc"/>
<circle cx="309.3" cy="184.3" fill="#cccccc"/>
<circle cx="172.5" cy="186.1" fill="#b4b4b4"/>
<circle cx="187.0" cy="189.7" fill="#777"/>
<circle cx="136.4" cy="191.5" fill="#777"/>
<circle cx="88.7" cy="183.0" fill="#e0e0e0"/>
<circle cx="101.2" cy="174.2" fill="#cccccc"/>
<circle cx="226.4" cy="190.5" fill="#888"/>
<circle cx="244.7" cy="191.6" fill="#999"/>
<circle cx="153.0" cy="188.2" fill="#e0e0e0"/>
<circle cx="256.8" cy="187.5" fill="#e0e0e0"/>
<circle cx="72.5" cy="191.3" fill="#aaa"/>
<circle cx="287.7" cy="187.3" fill="#cccccc"/>
<circle cx="197.1" cy="189.9" fill="#999"/>
<circle cx="119.9" cy="188.9" fill="#e0e0e0"/>
<circle cx="109.0" cy="176.5" fill="#e0e0e0"/>
<circle cx="189.4" cy="186.4" fill="#b4b4b4"/>
<circle cx="80.6" cy="187.9" fill="#c0c0c0"/>
<circle cx="143.6" cy="178.6" fill="#cccccc"/>
<circle cx="206.5" cy="191.5" fill="#888"/>
<circle cx="292.4" cy="188.8" fill="#b4b4b4"/>
<circle cx="226.9" cy="189.0" fill="#e0e0e0"/>
<circle cx="317.8" cy="189.6" fill="#aaa"/>
<circle cx="89.8" cy="191.4" fill="#888"/>
<circle cx="195.1" cy="189.0" fill="#b4b4b4"/>
<circle cx="243.3" cy="184.4" fill="#e0e0e0"/>
<circle cx="159.4" cy="181.1" fill="#e0e0e0"/>
<circle cx="245.2" cy="188.3" fill="#d2d2d2"/>
<circle cx="288.1" cy="189.9" fill="#aaa"/>
<circle cx="74.9" cy="187.9" fill="#d8d8d8"/>
<circle cx="144.0" cy="190.3" fill="#aaa"/>
<circle cx="307.9" cy="189.5" fill="#999"/>
<circle cx="250.8" cy="178.4" fill="#d2d2d2"/>
<circle cx="176.6" cy="176.0" fill="#b4b4b4"/>
<circle cx="151.8" cy="187.8" fill="#b4b4b4"/>
<circle cx="164.7" cy="188.1" fill="#cccccc"/>
<circle cx="289.7" cy="188.3" fill="#b4b4b4"/>
<circle cx="243.3" cy="190.7" fill="#aaa"/>
<circle cx="131.8" cy="187.2" fill="#e0e0e0"/>
<circle cx="160.6" cy="190.4" fill="#aaa"/>
<circle cx="197.9" cy="174.3" fill="#d2d2d2"/>
<circle cx="56.1" cy="190.7" fill="#777"/>
<circle cx="88.6" cy="189.2" fill="#999"/>
<circle cx="227.7" cy="182.6" fill="#b4b4b4"/>
<circle cx="203.3" cy="179.3" fill="#b4b4b4"/>
<circle cx="287.1" cy="175.7" fill="#d2d2d2"/>
<circle cx="260.0" cy="187.4" fill="#c0c0c0"/>
<circle cx="64.3" cy="191.3" fill="#777"/>
<circle cx="158.2" cy="191.8" fill="#aaa"/>
<circle cx="107.8" cy="188.9" fill="#c0c0c0"/>
<circle cx="215.7" cy="176.2" fill="#cccccc"/>
<circle cx="199.8" cy="184.2" fill="#d2d2d2"/>
<circle cx="119.9" cy="188.6" fill="#d2d2d2"/>
<circle cx="257.1" cy="184.3" fill="#cccccc"/>
<circle cx="91.5" cy="189.4" fill="#888"/>
<circle cx="104.6" cy="188.3" fill="#d2d2d2"/>
<circle cx="51.0" cy="187.5" fill="#cccccc"/>
<circle cx="173.1" cy="191.0" fill="#999"/>
<circle cx="249.9" cy="189.5" fill="#aaa"/>
<circle cx="93.0" cy="191.1" fill="#888"/>
<circle cx="296.3" cy="191.4" fill="#888"/>
<circle cx="99.8" cy="190.4" fill="#777"/>
<circle cx="319.0" cy="178.1" fill="#b4b4b4"/>
<circle cx="84.0" cy="189.3" fill="#d2d2d2"/>
<circle cx="198.7" cy="181.7" fill="#c0c0c0"/>
<circle cx="297.4" cy="188.0" fill="#c0c0c0"/>
<circle cx="166.8" cy="187.0" fill="#d2d2d2"/>
<circle cx="94.5" cy="168.0" fill="#b4b4b4"/>
<circle cx="241.8" cy="182.6" fill="#d2d2d2"/>
<circle cx="116.7" cy="181.3" fill="#e0e0e0"/>
<circle cx="188.4" cy="177.3" fill="#d8d8d8"/>
<circle cx="247.0" cy="190.5" fill="#888"/>
<circle cx="163.5" cy="191.1" fill="#aaa"/>
<circle cx="195.9" cy="188.4" fill="#e0e0e0"/>
<circle cx="200.0" cy="191.7" fill="#999"/>
<circle cx="100.1" cy="181.8" fill="#d2d2d2"/>
<circle cx="129.8" cy="188.5" fill="#b4b4b4"/>
<circle cx="131.5" cy="189.0" fill="#b4b4b4"/>
<circle cx="65.1" cy="162.0" fill="#c0c0c0"/>
<circle cx="158.8" cy="190.7" fill="#888"/>
<circle cx="75.3" cy="190.5" fill="#777"/>
<circle cx="255.1" cy="183.3" fill="#d8d8d8"/>
<circle cx="235.6" cy="190.1" fill="#888"/>
<circle cx="126.0" cy="187.4" fill="#cccccc"/>
<circle cx="310.6" cy="187.0" fill="#b4b4b4"/>
<circle cx="275.8" cy="190.6" fill="#aaa"/>
<circle cx="48.8" cy="188.5" fill="#b4b4b4"/>
<circle cx="177.3" cy="191.0" fill="#aaa"/>
<circle cx="218.2" cy="188.9" fill="#d2d2d2"/>
<circle cx="199.0" cy="191.2" fill="#888"/>
<circle cx="237.2" cy="190.3" fill="#888"/>
<circle cx="141.1" cy="190.6" fill="#777"/>
<circle cx="196.5" cy="188.8" fill="#d8d8d8"/>
<circle cx="125.9" cy="187.5" fill="#cccccc"/>
<circle cx="116.4" cy="189.8" fill="#777"/>
<circle cx="127.0" cy="190.8" fill="#999"/>
<circle cx="233.1" cy="189.9" fill="#888"/>
<circle cx="98.9" cy="191.2" fill="#777"/>
<circle cx="255.2" cy="190.7" fill="#aaa"/>
<circle cx="113.8" cy="188.3" fill="#c0c0c0"/>
<circle cx="216.6" cy="177.6" fill="#c0c0c0"/>
<circle cx="300.1" cy="188.6" fill="#cccccc"/>
<circle cx="79.3" cy="190.8" fill="#777"/>
<circle cx="294.7" cy="191.2" fill="#777"/>
<circle cx="221.9" cy="191.4" fill="#aaa"/>
<circle cx="98.4" cy="190.8" fill="#999"/>
<circle cx="85.5" cy="188.5" fill="#d2d2d2"/>
<circle cx="152.1" cy="188.2" fill="#e0e0e0"/>
<circle cx="99.1" cy="188.2" fill="#b4b4b4"/>
<circle cx="118.2" cy="183.2" fill="#e0e0e0"/>
<circle cx="291.4" cy="188.0" fill="#cccccc"/>
<circle cx="138.3" cy="181.2" fill="#d8d8d8"/>
<circle cx="213.8" cy="176.3" fill="#d2d2d2"/>
<circle cx="305.1" cy="182.9" fill="#c0c0c0"/>
<circle cx="286.8" cy="175.8" fill="#cccccc"/>
<circle cx="181.3" cy="189.3" fill="#c0c0c0"/>
<circle cx="85.8" cy="189.6" fill="#999"/>
<circle cx="222.5" cy="186.8" fill="#c0c0c0"/>
<circle cx="75.5" cy="187.7" fill="#e0e0e0"/>
<circle cx="255.1" cy="191.4" fill="#888"/>
<circle cx="261.9" cy="191.3" fill="#999"/>
<circle cx="71.8" cy="175.7" fill="#e0e0e0"/>
<circle cx="175.2" cy="190.8" fill="#777"/>
<circle cx="104.8" cy="169.4" fill="#e0e0e0"/>
<circle cx="223.4" cy="187.4" fill="#d2d2d2"/>
<circle cx="224.3" cy="188.3" fill="#c0c0c0"/>
<circle cx="156.6" cy="190.4" fill="#999"/>
<circle cx="136.0" cy="187.4" fill="#c0c0c0"/>
<circle cx="57.1" cy="191.2" fill="#aaa"/>
<circle cx="304.2" cy="176.2" fill="#e0e0e0"/>
<circle cx="275.8" cy="188.2" fill="#b4b4b4"/>
<circle cx="175.7" cy="186.9" fill="#cccccc"/>
<circle cx="60.2" cy="170.1" fill="#d2d2d2"/>
<circle cx="274.9" cy="191.5" fill="#aaa"/>
<circle cx="312.6" cy="191.3" fill="#aaa"/>
<circle cx="69.6" cy="190.3" fill="#999"/>
<circle cx="226.3" cy="190.5" fill="#999"/>
<circle cx="201.3" cy="188.4" fill="#d2d2d2"/>
<circle cx="128.3" cy="181.3" fill="#e0e0e0"/>
<circle cx="197.5" cy="189.5" fill="#888"/>
<circle cx="318.6" cy="188.1" fill="#c0c0c0"/>
<circle cx="137.3" cy="190.1" fill="#777"/>
<circle cx="118.6" cy="190.9" fill="#777"/>
<circle cx="105.4" cy="190.8" fill="#777"/>
<circle cx="177.0" cy="188.9" fill="#d8d8d8"/>
<circle cx="235.3" cy="187.3" fill="#e0e0e0"/>
<circle cx="303.5" cy="176.1" fill="#d8d8d8"/>
<circle cx="239.4" cy="185.5" fill="#e0e0e0"/>
<circle cx="158.3" cy="191.5" fill="#777"/>
<circle cx="186.4" cy="189.8" fill="#999"/>
<circle cx="61.7" cy="187.9" fill="#e0e0e0"/>
<circle cx="133.2" cy="191.5" fill="#999"/>
<circle cx="224.4" cy="178.0" fill="#b4b4b4"/>
<circle cx="153.4" cy="178.2" fill="#cccccc"/>
<circle cx="228.5" cy="190.7" fill="#888"/>
<circle cx="278.3" cy="189.9" fill="#888"/>
<circle cx="184.6" cy="176.1" fill="#cccccc"/>
<circle cx="241.1" cy="189.7" fill="#888"/>
<circle cx="194.5" cy="188.0" fill="#d2d2d2"/>
<circle cx="298.3" cy="184.5" fill="#c0c0c0"/>
<circle cx="313.4" cy="179.1" fill="#b4b4b4"/>
<circle cx="158.1" cy="187.9" fill="#d8d8d8"/>
<circle cx="52.4" cy="189.9" fill="#999"/>
<circle cx="198.0" cy="188.5" fill="#cccccc"/>
<circle cx="303.0" cy="186.8" fill="#d8d8d8"/>
<circle cx="274.0" cy="189.3" fill="#999"/>
<circle cx="187.0" cy="175.4" fill="#e0e0e0"/>
<circle cx="84.6" cy="188.6" fill="#d2d2d2"/>
<circle cx="114.7" cy="187.5" fill="#d2d2d2"/>
<circle cx="276.9" cy="166.1" fill="#d8d8d8"/>
<circle cx="190.6" cy="187.9" fill="#b4b4b4"/>
<circle cx="268.9" cy="182.7" fill="#e0e0e0"/>
<circle cx="92.0" cy="191.4" fill="#777"/>
<circle cx="280.8" cy="179.6" fill="#e0e0e0"/>
<circle cx="292.2" cy="190.0" fill="#777"/>
<circle cx="106.1" cy="190.8" fill="#999"/>
<circle cx="281.9" cy="189.0" fill="#d2d2d2"/>
<circle cx="240.5" cy="189.1" fill="#e0e0e0"/>
<circle cx="290.9" cy="188.6" fill="#e0e0e0"/>
<circle cx="127.9" cy="191.4" fill="#999"/>
<circle cx="268.2" cy="185.6" fill="#d8d8d8"/>
<circle cx="319.2" cy="189.8" fill="#888"/>
<circle cx="162.4" cy="190.3" fill="#888"/>
<circle cx="223.3" cy="183.6" fill="#c0c0c0"/>
<circle cx="237.3" cy="187.2" fill="#c0c0c0"/>
<circle cx="242.5" cy="189.4" fill="#999"/>
<circle cx="74.6" cy="189.6" fill="#aaa"/>
<circle cx="114.1" cy="191.2" fill="#aaa"/>
<circle cx="108.0" cy="177.0" fill="#b4b4b4"/>
<circle cx="84.5" cy="190.2" fill="#777"/>
<circle cx="229.4" cy="191.5" fill="#999"/>
<circle cx="141.3" cy="186.7" fill="#c0c0c0"/>
<circle cx="193.2" cy="174.6" fill="#d8d8d8"/>
<circle cx="81.4" cy="190.9" fill="#777"/>
<circle cx="180.6" cy="187.0" fill="#d2d2d2"/>
<circle cx="274.1" cy="174.5" fill="#d2d2d2"/>
<circle cx="213.7" cy="180.5" fill="#d8d8d8"/>
<circle cx="192.3" cy="190.6" fill="#999"/>
<circle cx="215.8" cy="185.6" fill="#d2d2d2"/>
<circle cx="95.2" cy="186.8" fill="#b4b4b4"/>
<circle cx="277.2" cy="186.5" fill="#c0c0c0"/>
<circle cx="308.4" cy="181.0" fill="#d2d2d2"/>
<circle cx="82.9" cy="190.5" fill="#999"/>
<circle cx="68.3" cy="189.1" fill="#888"/>
<circle cx="75.4" cy="179.5" fill="#e0e0e0"/>
<circle cx="320.4" cy="187.6" fill="#c0c0c0"/>
<circle cx="303.7" cy="190.7" fill="#aaa"/>
<circle cx="125.9" cy="187.7" fill="#b4b4b4"/>
<circle cx="251.4" cy="191.1" fill="#999"/>
<circle cx="176.7" cy="191.0" fill="#777"/>
<circle cx="83.4" cy="191.4" fill="#999"/>
<circle cx="88.9" cy="187.6" fill="#c0c0c0"/>
<circle cx="211.9" cy="189.5" fill="#777"/>
<circle cx="149.3" cy="186.6" fill="#cccccc"/>
<circle cx="113.5" cy="186.7" fill="#cccccc"/>
<circle cx="103.5" cy="188.2" fill="#d8d8d8"/>
<circle cx="275.3" cy="175.7" fill="#d8d8d8"/>
<circle cx="64.5" cy="166.2" fill="#b4b4b4"/>
<circle cx="309.9" cy="190.9" fill="#888"/>
<circle cx="94.5" cy="189.3" fill="#999"/>
<circle cx="98.5" cy="169.6" fill="#cccccc"/>
<circle cx="165.3" cy="166.9" fill="#e0e0e0"/>
<circle cx="213.2" cy="189.5" fill="#777"/>
<circle cx="157.7" cy="189.9" fill="#888"/>
<circle cx="93.8" cy="190.5" fill="#777"/>
<circle cx="289.7" cy="182.8" fill="#c0c0c0"/>
<circle cx="158.0" cy="190.9" fill="#999"/>
<circle cx="95.8" cy="186.5" fill="#cccccc"/>
<circle cx="168.8" cy="170.7" fill="#c0c0c0"/>
<circle cx="222.1" cy="189.1" fill="#999"/>
<circle cx="80.1" cy="190.6" fill="#999"/>
<circle cx="160.3" cy="190.1" fill="#888"/>
<circle cx="300.3" cy="185.3" fill="#e0e0e0"/>
<circle cx="290.0" cy="184.0" fill="#e0e0e0"/>
<circle cx="191.1" cy="190.0" fill="#888"/>
<circle cx="63.9" cy="163.7" fill="#cccccc"/>
<circle cx="273.1" cy="189.8" fill="#777"/>
<circle cx="166.3" cy="184.7" fill="#c0c0c0"/>
<circle cx="100.9" cy="190.0" fill="#777"/>
<circle cx="224.5" cy="187.4" fill="#b4b4b4"/>
<circle cx="96.1" cy="181.9" fill="#e0e0e0"/>
<circle cx="147.4" cy="191.8" fill="#aaa"/>
<circle cx="66.7" cy="188.2" fill="#c0c0c0"/>
<circle cx="273.7" cy="188.8" fill="#b4b4b4"/>
<circle cx="121.8" cy="190.9" fill="#aaa"/>
<circle cx="262.9" cy="188.9" fill="#d2d2d2"/>
<circle cx="290.8" cy="187.0" fill="#cccccc"/>
<circle cx="65.9" cy="177.7" fill="#d8d8d8"/>
<circle cx="245.9" cy="189.0" fill="#c0c0c0"/>
<circle cx="213.9" cy="180.4" fill="#b4b4b4"/>
<circle cx="191.2" cy="188.3" fill="#e0e0e0"/>
<circle cx="291.6" cy="181.1" fill="#c0c0c0"/>
<circle cx="74.9" cy="172.6" fill="#c0c0c0"/>
<circle cx="90.6" cy="186.9" fill="#d8d8d8"/>
<circle cx="272.8" cy="190.6" fill="#777"/>
<circle cx="117.8" cy="185.9" fill="#d8d8d8"/>
<circle cx="303.1" cy="187.2" fill="#d8d8d8"/>
<circle cx="283.9" cy="189.2" fill="#999"/>
<circle cx="220.4" cy="189.3" fill="#999"/>
<circle cx="203.1" cy="178.0" fill="#b4b4b4"/>
<circle cx="144.1" cy="190.0" fill="#888"/>
<circle cx="141.4" cy="187.5" fill="#c0c0c0"/>
<circle cx="142.2" cy="188.4" fill="#cccccc"/>
<circle cx="169.7" cy="191.8" fill="#999"/>
<circle cx="169.2" cy="188.3" fill="#c0c0c0"/>
<circle cx="314.2" cy="189.9" fill="#888"/>
<circle cx="190.5" cy="190.8" fill="#999"/>
<circle cx="270.5" cy="189.5" fill="#aaa"/>
<circle cx="279.0" cy="186.5" fill="#b4b4b4"/>
<circle cx="193.3" cy="187.1" fill="#d2d2d2"/>
<circle cx="226.8" cy="188.4" fill="#cccccc"/>
<circle cx="67.9" cy="183.6" fill="#d8d8d8"/>
<circle cx="305.0" cy="182.2" fill="#d8d8d8"/>
<circle cx="222.0" cy="189.5" fill="#999"/>
<circle cx="237.8" cy="184.1" fill="#d8d8d8"/>
<circle cx="202.8" cy="190.6" fill="#888"/>
<circle cx="164.6" cy="183.0" fill="#cccccc"/>
<circle cx="285.2" cy="187.7" fill="#d8d8d8"/>
<circle cx="224.8" cy="188.2" fill="#cccccc"/>
<circle cx="156.0" cy="190.9" fill="#aaa"/>
<circle cx="132.2" cy="190.4" fill="#999"/>
<circle cx="270.8" cy="187.4" fill="#d8d8d8"/>
<circle cx="77.2" cy="189.1" fill="#d2d2d2"/>
<circle cx="146.6" cy="182.7" fill="#c0c0c0"/>
<circle cx="253.3" cy="187.5" fill="#cccccc"/>
<circle cx="190.8" cy="190.0" fill="#aaa"/>
<circle cx="213.3" cy="190.6" fill="#aaa"/>
<circle cx="183.8" cy="191.4" fill="#999"/>
<circle cx="79.6" cy="190.7" fill="#888"/>
<circle cx="214.3" cy="184.1" fill="#c0c0c0"/>
<circle cx="286.3" cy="190.6" fill="#aaa"/>
<circle cx="282.5" cy="191.1" fill="#999"/>
<circle cx="241.3" cy="185.9" fill="#b4b4b4"/>
<circle cx="142.7" cy="190.8" fill="#999"/>
<circle cx="63.7" cy="179.0" fill="#c0c0c0"/>
<circle cx="69.8" cy="164.6" fill="#e0e0e0"/>
<circle cx="138.4" cy="191.6" fill="#aaa"/>
<circle cx="47.2" cy="189.1" fill="#999"/>
<circle cx="312.8" cy="188.0" fill="#cccccc"/>
<circle cx="302.2" cy="188.9" fill="#cccccc"/>
<circle cx="131.8" cy="189.3" fill="#e0e0e0"/>
<circle cx="280.5" cy="182.1" fill="#cccccc"/>
<circle cx="171.9" cy="188.4" fill="#e0e0e0"/>
<circle cx="127.9" cy="190.5" fill="#aaa"/>
<circle cx="110.1" cy="188.2" fill="#e0e0e0"/>
<circle cx="263.4" cy="186.9" fill="#e0e0e0"/>
<circle cx="128.9" cy="191.3" fill="#999"/>
<circle cx="307.9" cy="180.5" fill="#d2d2d2"/>
<circle cx="143.0" cy="188.6" fill="#e0e0e0"/>
<circle cx="81.5" cy="183.7" fill="#cccccc"/>
<circle cx="181.5" cy="189.9" fill="#aaa"/>
<circle cx="291.4" cy="190.1" fill="#777"/>
<circle cx="233.4" cy="188.4" fill="#cccccc"/>
<circle cx="274.4" cy="191.2" fill="#aaa"/>
<circle cx="218.4" cy="189.6" fill="#777"/>
<circle cx="220.6" cy="187.2" fill="#cccccc"/>
<circle cx="287.0" cy="172.8" fill="#cccccc"/>
<circle cx="157.4" cy="188.8" fill="#c0c0c0"/>
<circle cx="265.6" cy="191.1" fill="#999"/>
<circle cx="94.7" cy="191.2" fill="#999"/>
<circle cx="237.0" cy="184.9" fill="#d2d2d2"/>
<circle cx="161.4" cy="188.7" fill="#cccccc"/>
<circle cx="230.8" cy="189.8" fill="#aaa"/>
<circle cx="188.2" cy="190.6" fill="#777"/>
<circle cx="317.5" cy="183.9" fill="#cccccc"/>
<circle cx="252.1" cy="190.0" fill="#999"/>
<circle cx="176.3" cy="176.5" fill="#d8d8d8"/>
<circle cx="217.5" cy="191.6" fill="#777"/>
<circle cx="115.4" cy="188.2" fill="#d8d8d8"/>
<circle cx="157.5" cy="187.7" fill="#e0e0e0"/>
<circle cx="232.8" cy="184.3" fill="#c0c0c0"/>
<circle cx="212.9" cy="189.7" fill="#999"/>
<circle cx="267.1" cy="185.4" fill="#d2d2d2"/>
<circle cx="175.1" cy="189.5" fill="#777"/>
<circle cx="227.7" cy="190.0" fill="#999"/>
<circle cx="151.3" cy="180.9" fill="#cccccc"/>
<circle cx="305.1" cy="191.0" fill="#999"/>
<circle cx="315.3" cy="190.4" fill="#777"/>
<circle cx="99.7" cy="188.6" fill="#d8d8d8"/>
<circle cx="248.6" cy="189.0" fill="#b4b4b4"/>
<circle cx="282.7" cy="191.4" fill="#777"/>
<circle cx="207.0" cy="187.7" fill="#d8d8d8"/>
<circle cx="294.7" cy="175.7" fill="#c0c0c0"/>
<circle cx="119.1" cy="189.4" fill="#999"/>
<circle cx="296.9" cy="188.0" fill="#d2d2d2"/>
<circle cx="125.1" cy="187.1" fill="#d8d8d8"/>
<circle cx="265.8" cy="189.3" fill="#aaa"/>
<circle cx="207.2" cy="174.5" fill="#d2d2d2"/>
<circle cx="288.5" cy="184.2" fill="#c0c0c0"/>
<circle cx="170.1" cy="187.1" fill="#e0e0e0"/>
<circle cx="152.2" cy="191.7" fill="#777"/>
<circle cx="123.5" cy="189.6" fill="#888"/>
<circle cx="249.8" cy="183.8" fill="#c0c0c0"/>
<circle cx="164.0" cy="184.7" fill="#d8d8d8"/>
<circle cx="205.9" cy="174.3" fill="#d8d8d8"/>
<circle cx="253.7" cy="187.7" fill="#c0c0c0"/>
<circle cx="173.4" cy="188.0" fill="#d8d8d8"/>
<circle cx="225.7" cy="187.7" fill="#d8d8d8"/>
<circle cx="231.4" cy="185.8" fill="#cccccc"/>
<circle cx="215.9" cy="186.8" fill="#cccccc"/>
<circle cx="263.6" cy="188.4" fill="#b4b4b4"/>
<circle cx="265.4" cy="191.0" fill="#777"/>
<circle cx="92.2" cy="186.0" fill="#d8d8d8"/>
<circle cx="248.5" cy="189.1" fill="#999"/>
<circle cx="205.3" cy="191.3" fill="#777"/>
<circle cx="313.3" cy="189.1" fill="#e0e0e0"/>
<circle cx="139.4" cy="184.2" fill="#d8d8d8"/>
<circle cx="82.9" cy="190.1" fill="#888"/>
<circle cx="209.3" cy="187.3" fill="#c0c0c0"/>
<circle cx="245.1" cy="191.7" fill="#888"/>
<circle cx="301.2" cy="186.7" fill="#e0e0e0"/>
<circle cx="97.1" cy="187.9" fill="#d2d2d2"/>
<circle cx="272.8" cy="173.4" fill="#cccccc"/>
<circle cx="317.4" cy="182.0" fill="#e0e0e0"/>
<circle cx="140.4" cy="183.4" fill="#c0c0c0"/>
<circle cx="96.3" cy="188.3" fill="#c0c0c0"/>
<circle cx="275.3" cy="189.8" fill="#aaa"/>
<circle cx="66.1" cy="191.5" fill="#aaa"/>
<circle cx="270.1" cy="191.5" fill="#888"/>
<circle cx="76.5" cy="188.4" fill="#d8d8d8"/>
<circle cx="204.9" cy="188.0" fill="#d2d2d2"/>
<circle cx="259.2" cy="187.1" fill="#cccccc"/>
<circle cx="208.2" cy="190.5" fill="#888"/>
<circle cx="265.3" cy="191.1" fill="#777"/>
<circle cx="311.0" cy="190.1" fill="#aaa"/>
<circle cx="195.9" cy="188.7" fill="#b4b4b4"/>
<circle cx="130.0" cy="189.0" fill="#c0c0c0"/>
<circle cx="73.8" cy="184.6" fill="#d2d2d2"/>
<circle cx="201.9" cy="190.7" fill="#aaa"/>
<circle cx="321.6" cy="190.2" fill="#999"/>
<circle cx="297.0" cy="191.5" fill="#777"/>
<circle cx="174.0" cy="184.0" fill="#cccccc"/>
<circle cx="69.3" cy="189.4" fill="#aaa"/>
<circle cx="238.3" cy="186.5" fill="#cccccc"/>
<circle cx="128.2" cy="188.2" fill="#c0c0c0"/>
<circle cx="289.1" cy="176.2" fill="#cccccc"/>
<circle cx="130.3" cy="190.4" fill="#888"/>
<circle cx="125.0" cy="189.9" fill="#777"/>
<circle cx="321.2" cy="189.4" fill="#888"/>
<circle cx="117.4" cy="191.2" fill="#777"/>
<circle cx="240.6" cy="190.4" fill="#888"/>
<circle cx="274.3" cy="189.9" fill="#999"/>
<circle cx="219.5" cy="186.0" fill="#e0e0e0"/>
<circle cx="183.3" cy="188.9" fill="#cccccc"/>
<circle cx="235.5" cy="189.9" fill="#999"/>
<circle cx="242.6" cy="179.1" fill="#b4b4b4"/>
<circle cx="191.1" cy="182.7" fill="#cccccc"/>
<circle cx="207.6" cy="186.5" fill="#d2d2d2"/>
<circle cx="109.2" cy="189.8" fill="#aaa"/>
<circle cx="127.2" cy="190.5" fill="#777"/>
<circle cx="284.6" cy="186.6" fill="#e0e0e0"/>
<circle cx="89.4" cy="190.9" fill="#777"/>
<circle cx="73.7" cy="187.8" fill="#d2d2d2"/>
<circle cx="195.9" cy="191.1" fill="#888"/>
<circle cx="67.5" cy="165.7" fill="#b4b4b4"/>
<circle cx="215.6" cy="188.2" fill="#d2d2d2"/>
<circle cx="163.6" cy="188.7" fill="#cccccc"/>
<circle cx="270.3" cy="185.2" fill="#e0e0e0"/>
<circle cx="149.5" cy="188.7" fill="#c0c0c0"/>
<circle cx="269.1" cy="191.6" fill="#999"/>
<circle cx="318.6" cy="188.3" fill="#b4b4b4"/>
<circle cx="164.4" cy="190.6" fill="#999"/>
<circle cx="221.1" cy="188.7" fill="#c0c0c0"/>
<circle cx="53.8" cy="190.4" fill="#aaa"/>
<circle cx="136.1" cy="190.4" fill="#aaa"/>
<circle cx="192.1" cy="190.2" fill="#aaa"/>
<circle cx="240.2" cy="187.4" fill="#cccccc"/>
<circle cx="129.3" cy="184.6" fill="#c0c0c0"/>
<circle cx="181.4" cy="189.6" fill="#777"/>
<circle cx="137.3" cy="185.7" fill="#c0c0c0"/>
<circle cx="61.0" cy="188.8" fill="#c0c0c0"/>
<circle cx="280.8" cy="191.4" fill="#777"/>
<circle cx="157.9" cy="177.5" fill="#cccccc"/>
<circle cx="186.1" cy="189.8" fill="#888"/>
<circle cx="302.4" cy="191.9" fill="#aaa"/>
<circle cx="147.4" cy="190.7" fill="#777"/>
<circle cx="156.1" cy="187.3" fill="#b4b4b4"/>
<circle cx="141.0" cy="189.6" fill="#777"/>
<circle cx="117.8" cy="190.7" fill="#999"/>
<circle cx="262.7" cy="187.4" fill="#c0c0c0"/>
<circle cx="211.0" cy="190.2" fill="#777"/>
<circle cx="79.5" cy="190.7" fill="#777"/>
<circle cx="102.7" cy="191.0" fill="#999"/>
<circle cx="150.5" cy="187.2" fill="#c0c0c0"/>
<circle cx="96.9" cy="191.6" fill="#999"/>
<circle cx="316.7" cy="187.9" fill="#d8d8d8"/>
<circle cx="115.8" cy="188.1" fill="#cccccc"/>
<circle cx="321.6" cy="188.0" fill="#d8d8d8"/>
<circle cx="269.6" cy="181.3" fill="#d8d8d8"/>
<circle cx="267.9" cy="185.5" fill="#b4b4b4"/>
<circle cx="121.3" cy="189.5" fill="#777"/>
<circle cx="76.6" cy="187.2" fill="#d8d8d8"/>
<circle cx="201.3" cy="190.5" fill="#aaa"/>
<circle cx="279.4" cy="191.8" fill="#888"/>
<circle cx="91.6" cy="187.9" fill="#cccccc"/>
<circle cx="92.9" cy="191.5" fill="#aaa"/>
<circle cx="110.3" cy="187.0" fill="#c0c0c0"/>
<circle cx="137.8" cy="190.1" fill="#999"/>
<circle cx="124.7" cy="190.4" fill="#aaa"/>
<circle cx="130.9" cy="191.7" fill="#999"/>
<circle cx="111.8" cy="190.1" fill="#888"/>
<circle cx="263.5" cy="188.9" fill="#cccccc"/>
<circle cx="138.4" cy="188.9" fill="#c0c0c0"/>
<circle cx="142.1" cy="189.9" fill="#777"/>
<circle cx="298.4" cy="190.2" fill="#999"/>
<circle cx="91.4" cy="188.6" fill="#e0e0e0"/>
<circle cx="308.0" cy="190.9" fill="#777"/>
<circle cx="279.1" cy="180.9" fill="#d2d2d2"/>
<circle cx="75.1" cy="188.2" fill="#d2d2d2"/>
<circle cx="311.3" cy="189.5" fill="#888"/>
<circle cx="145.0" cy="190.0" fill="#999"/>
<circle cx="206.2" cy="190.3" fill="#777"/>
<circle cx="152.6" cy="188.1" fill="#cccccc"/>
<circle cx="100.4" cy="187.6" fill="#d8d8d8"/>
<circle cx="111.1" cy="189.9" fill="#aaa"/>
<circle cx="293.0" cy="188.9" fill="#b4b4b4"/>
<circle cx="318.7" cy="186.8" fill="#d2d2d2"/>
<circle cx="219.1" cy="188.3" fill="#e0e0e0"/>
<circle cx="133.3" cy="191.3" fill="#aaa"/>
<circle cx="268.1" cy="189.9" fill="#999"/>
<circle cx="120.7" cy="188.6" fill="#cccccc"/>
<circle cx="129.9" cy="190.3" fill="#777"/>
<circle cx="201.3" cy="187.7" fill="#d2d2d2"/>
<circle cx="307.6" cy="188.3" fill="#cccccc"/>
<circle cx="190.6" cy="174.5" fill="#b4b4b4"/>
<circle cx="88.7" cy="190.2" fill="#888"/>
<circle cx="236.8" cy="184.5" fill="#d2d2d2"/>
<circle cx="145.1" cy="191.3" fill="#777"/>
<circle cx="210.9" cy="191.3" fill="#888"/>
<circle cx="289.0" cy="183.7" fill="#e0e0e0"/>
<circle cx="306.8" cy="190.2" fill="#888"/>
<circle cx="172.7" cy="184.6" fill="#d8d8d8"/>
<circle cx="196.5" cy="187.9" fill="#e0e0e0"/>
<circle cx="61.6" cy="191.0" fill="#aaa"/>
<circle cx="142.2" cy="190.0" fill="#777"/>
<circle cx="83.4" cy="191.0" fill="#999"/>
<circle cx="99.7" cy="190.2" fill="#999"/>
<circle cx="113.3" cy="188.7" fill="#e0e0e0"/>
<circle cx="220.6" cy="188.2" fill="#cccccc"/>
<circle cx="89.4" cy="190.4" fill="#888"/>
<circle cx="148.8" cy="189.5" fill="#777"/>
<circle cx="261.1" cy="178.8" fill="#b4b4b4"/>
<circle cx="252.6" cy="191.5" fill="#777"/>
<circle cx="315.9" cy="188.6" fill="#cccccc"/>
<circle cx="64.9" cy="188.2" fill="#d2d2d2"/>
<circle cx="290.6" cy="176.5" fill="#d2d2d2"/>
<circle cx="111.0" cy="177.3" fill="#c0c0c0"/>
<circle cx="160.7" cy="188.6" fill="#cccccc"/>
<circle cx="184.8" cy="190.2" fill="#999"/>
<circle cx="113.7" cy="190.8" fill="#888"/>
<circle cx="116.7" cy="191.3" fill="#888"/>
<circle cx="256.6" cy="180.3" fill="#c0c0c0"/>
<circle cx="187.7" cy="185.3" fill="#d2d2d2"/>
<circle cx="310.6" cy="191.3" fill="#999"/>
<circle cx="284.2" cy="188.4" fill="#d2d2d2"/>
<circle cx="194.4" cy="189.3" fill="#777"/>
<circle cx="170.4" cy="189.6" fill="#777"/>
<circle cx="223.2" cy="186.5" fill="#b4b4b4"/>
<circle cx="320.6" cy="185.0" fill="#d8d8d8"/>
<circle cx="303.5" cy="188.8" fill="#e0e0e0"/>
<circle cx="107.5" cy="184.8" fill="#c0c0c0"/>
<circle cx="160.0" cy="188.0" fill="#d8d8d8"/>
<circle cx="132.8" cy="182.5" fill="#b4b4b4"/>
<circle cx="65.4" cy="178.4" fill="#cccccc"/>
<circle cx="165.4" cy="191.0" fill="#aaa"/>
<circle cx="205.2" cy="191.2" fill="#999"/>
<circle cx="138.6" cy="187.9" fill="#cccccc"/>
<circle cx="246.2" cy="191.2" fill="#777"/>
<circle cx="187.7" cy="187.7" fill="#d2d2d2"/>
<circle cx="305.3" cy="189.1" fill="#777"/>
<circle cx="315.8" cy="190.4" fill="#777"/>
<circle cx="220.7" cy="188.1" fill="#c0c0c0"/>
<circle cx="123.0" cy="187.7" fill="#cccccc"/>
<circle cx="171.2" cy="188.4" fill="#d8d8d8"/>
<circle cx="97.4" cy="190.7" fill="#777"/>
<circle cx="320.1" cy="189.0" fill="#999"/>
<circle cx="182.1" cy="190.2" fill="#888"/>
<circle cx="181.0" cy="191.2" fill="#999"/>
<circle cx="266.8" cy="190.8" fill="#999"/>
<circle cx="214.1" cy="191.0" fill="#888"/>
<circle cx="140.7" cy="191.4" fill="#777"/>
<circle cx="311.8" cy="187.4" fill="#e0e0e0"/>
<circle cx="149.9" cy="188.1" fill="#d2d2d2"/>
<circle cx="185.9" cy="187.8" fill="#d2d2d2"/>
<circle cx="302.1" cy="187.5" fill="#b4b4b4"/>
<circle cx="200.3" cy="185.9" fill="#cccccc"/>
<circle cx="185.6" cy="187.8" fill="#c0c0c0"/>
<circle cx="188.3" cy="185.1" fill="#cccccc"/>
<circle cx="184.7" cy="186.5" fill="#e0e0e0"/>
<circle cx="302.7" cy="189.0" fill="#d8d8d8"/>
<circle cx="224.3" cy="187.8" fill="#cccccc"/>
<circle cx="298.8" cy="190.7" fill="#aaa"/>
<circle cx="156.5" cy="190.1" fill="#aaa"/>
<circle cx="88.5" cy="189.7" fill="#888"/>
<circle cx="260.1" cy="189.0" fill="#b4b4b4"/>
<circle cx="305.8" cy="191.2" fill="#aaa"/>
<circle cx="202.8" cy="191.3" fill="#aaa"/>
<circle cx="121.6" cy="188.9" fill="#d8d8d8"/>
<circle cx="218.2" cy="191.1" fill="#aaa"/>
<circle cx="235.2" cy="190.1" fill="#aaa"/>
<circle cx="130.3" cy="190.4" fill="#777"/>
<circle cx="279.1" cy="189.1" fill="#aaa"/>
<circle cx="107.2" cy="190.6" fill="#999"/>
<circle cx="140.9" cy="187.9" fill="#cccccc"/>
<circle cx="221.7" cy="188.7" fill="#cccccc"/>
<circle cx="77.3" cy="187.4" fill="#d2d2d2"/>
<circle cx="254.7" cy="184.2" fill="#e0e0e0"/>
<circle cx="167.5" cy="174.5" fill="#d2d2d2"/>
<circle cx="284.9" cy="189.2" fill="#aaa"/>
<circle cx="96.1" cy="191.4" fill="#999"/>
<circle cx="239.1" cy="191.7" fill="#888"/>
<circle cx="192.9" cy="189.1" fill="#b4b4b4"/>
<circle cx="236.5" cy="188.0" fill="#cccccc"/>
<circle cx="171.9" cy="187.6" fill="#b4b4b4"/>
<circle cx="205.0" cy="188.2" fill="#d2d2d2"/>
<circle cx="197.6" cy="182.6" fill="#d2d2d2"/>
<circle cx="261.5" cy="189.0" fill="#d2d2d2"/>
<circle cx="133.5" cy="189.7" fill="#999"/>
<circle cx="123.9" cy="191.5" fill="#777"/>
<circle cx="263.1" cy="187.4" fill="#cccccc"/>
<circle cx="71.1" cy="188.6" fill="#b4b4b4"/>
<circle cx="91.6" cy="186.8" fill="#d2d2d2"/>
<circle cx="249.0" cy="190.0" fill="#aaa"/>
<circle cx="200.3" cy="187.6" fill="#e0e0e0"/>
<circle cx="59.3" cy="186.8" fill="#d8d8d8"/>
<circle cx="306.5" cy="189.5" fill="#aaa"/>
<circle cx="119.6" cy="187.4" fill="#e0e0e0"/>
<circle cx="206.5" cy="179.7" fill="#c0c0c0"/>
<circle cx="229.8" cy="190.0" fill="#888"/>
<circle cx="73.9" cy="190.6" fill="#aaa"/>
<circle cx="254.0" cy="190.5" fill="#777"/>
<circle cx="72.5" cy="174.0" fill="#b4b4b4"/>
<circle cx="293.8" cy="184.8" fill="#e0e0e0"/>
<circle cx="228.6" cy="184.5" fill="#d8d8d8"/>
<circle cx="264.4" cy="181.7" fill="#cccccc"/>
<circle cx="175.6" cy="167.1" fill="#d8d8d8"/>
<circle cx="161.4" cy="189.3" fill="#d8d8d8"/>
<circle cx="199.0" cy="187.9" fill="#cccccc"/>
<circle cx="118.5" cy="187.1" fill="#cccccc"/>
<circle cx="294.6" cy="191.2" fill="#999"/>
<circle cx="55.1" cy="187.1" fill="#d2d2d2"/>
<circle cx="120.0" cy="185.7" fill="#d2d2d2"/>
<circle cx="137.5" cy="188.9" fill="#e0e0e0"/>
<circle cx="151.1" cy="189.3" fill="#e0e0e0"/>
<circle cx="171.4" cy="188.9" fill="#d2d2d2"/>
<circle cx="232.6" cy="186.8" fill="#d8d8d8"/>
<circle cx="179.4" cy="190.7" fill="#999"/>
<circle cx="108.2" cy="189.4" fill="#999"/>
<circle cx="148.5" cy="186.2" fill="#b4b4b4"/>
<circle cx="116.3" cy="188.7" fill="#b4b4b4"/>
<circle cx="238.9" cy="179.3" fill="#d2d2d2"/>
<circle cx="103.2" cy="187.6" fill="#b4b4b4"/>
<circle cx="126.3" cy="187.3" fill="#d2d2d2"/>
<circle cx="120.2" cy="191.5" fill="#999"/>
<circle cx="294.8" cy="188.7" fill="#b4b4b4"/>
<circle cx="170.6" cy="190.6" fill="#888"/>
<circle cx="155.5" cy="190.7" fill="#888"/>
<circle cx="205.5" cy="191.0" fill="#777"/>
<circle cx="309.6" cy="191.7" fill="#aaa"/>
<circle cx="234.2" cy="188.2" fill="#c0c0c0"/>
<circle cx="64.7" cy="170.9" fill="#d8d8d8"/>
<circle cx="277.3" cy="187.3" fill="#b4b4b4"/>
<circle cx="86.0" cy="178.2" fill="#cccccc"/>
<circle cx="252.3" cy="184.7" fill="#c0c0c0"/>
<circle cx="193.8" cy="191.6" fill="#999"/>
<circle cx="261.9" cy="188.2" fill="#d8d8d8"/>
<circle cx="196.7" cy="175.9" fill="#d8d8d8"/>
<circle cx="118.3" cy="188.8" fill="#cccccc"/>
<circle cx="292.4" cy="188.8" fill="#cccccc"/>
<circle cx="189.3" cy="187.6" fill="#cccccc"/>
<circle cx="133.5" cy="188.4" fill="#d8d8d8"/>
<circle cx="162.8" cy="187.0" fill="#e0e0e0"/>
<circle cx="244.0" cy="187.0" fill="#c0c0c0"/>
<circle cx="211.6" cy="187.0" fill="#b4b4b4"/>
<circle cx="247.6" cy="190.8" fill="#777"/>
<circle cx="124.1" cy="189.7" fill="#777"/>
<circle cx="299.0" cy="183.9" fill="#cccccc"/>
<circle cx="281.0" cy="189.9" fill="#999"/>
<circle cx="87.7" cy="177.6" fill="#cccccc"/>
<circle cx="102.8" cy="189.2" fill="#e0e0e0"/>
<circle cx="290.0" cy="183.7" fill="#d8d8d8"/>
<circle cx="93.6" cy="190.4" fill="#888"/>
<circle cx="145.4" cy="189.0" fill="#d8d8d8"/>
<circle cx="216.3" cy="191.0" fill="#aaa"/>
<circle cx="258.7" cy="191.1" fill="#aaa"/>
<circle cx="236.7" cy="189.5" fill="#777"/>
<circle cx="265.3" cy="190.5" fill="#aaa"/>
<circle cx="239.1" cy="188.6" fill="#b4b4b4"/>
<circle cx="257.4" cy="187.1" fill="#d2d2d2"/>
<circle cx="272.2" cy="175.5" fill="#b4b4b4"/>
<circle cx="183.0" cy="189.0" fill="#b4b4b4"/>
<circle cx="140.0" cy="190.3" fill="#888"/>
<circle cx="87.8" cy="187.5" fill="#cccccc"/>
<circle cx="155.2" cy="187.2" fill="#cccccc"/>
<circle cx="297.7" cy="188.0" fill="#e0e0e0"/>
<circle cx="139.5" cy="190.5" fill="#777"/>
<circle cx="63.4" cy="190.5" fill="#aaa"/>
<circle cx="278.5" cy="188.7" fill="#d2d2d2"/>
<circle cx="260.0" cy="187.3" fill="#d8d8d8"/>
<circle cx="317.2" cy="176.4" fill="#b4b4b4"/>
<circle cx="276.3" cy="187.8" fill="#e0e0e0"/>
<circle cx="314.4" cy="185.3" fill="#e0e0e0"/>
<circle cx="159.8" cy="191.4" fill="#777"/>
<circle cx="254.0" cy="188.6" fill="#c0c0c0"/>
<circle cx="87.6" cy="186.7" fill="#e0e0e0"/>
<circle cx="261.6" cy="188.3" fill="#cccccc"/>
<circle cx="76.9" cy="190.6" fill="#777"/>
<circle cx="132.6" cy="189.3" fill="#888"/>
<circle cx="273.6" cy="176.9" fill="#d2d2d2"/>
<circle cx="60.2" cy="187.7" fill="#d2d2d2"/>
<circle cx="217.8" cy="190.4" fill="#999"/>
<circle cx="189.3" cy="189.6" fill="#888"/>
<circle cx="117.7" cy="186.3" fill="#c0c0c0"/>
<circle cx="66.6" cy="187.6" fill="#cccccc"/>
<circle cx="113.3" cy="189.5" fill="#777"/>
<circle cx="154.5" cy="189.7" fill="#aaa"/>
<circle cx="229.3" cy="184.0" fill="#cccccc"/>
<circle cx="109.6" cy="189.2" fill="#999"/>
<circle cx="126.4" cy="188.6" fill="#c0c0c0"/>
<circle cx="212.8" cy="190.0" fill="#999"/>
<circle cx="91.4" cy="188.2" fill="#c0c0c0"/>
<circle cx="310.0" cy="177.7" fill="#c0c0c0"/>
<circle cx="244.5" cy="189.2" fill="#d2d2d2"/>
<circle cx="187.1" cy="185.8" fill="#cccccc"/>
<circle cx="297.0" cy="187.4" fill="#c0c0c0"/>
<circle cx="288.2" cy="190.3" fill="#999"/>
<circle cx="271.1" cy="190.5" fill="#aaa"/>
<circle cx="314.7" cy="185.4" fill="#d2d2d2"/>
<circle cx="217.9" cy="189.5" fill="#999"/>
<circle cx="283.3" cy="189.1" fill="#aaa"/>
<circle cx="242.0" cy="188.9" fill="#c0c0c0"/>
<circle cx="245.5" cy="186.2" fill="#d2d2d2"/>
<circle cx="283.4" cy="167.3" fill="#d2d2d2"/>
<circle cx="196.2" cy="189.6" fill="#777"/>
<circle cx="166.0" cy="190.6" fill="#999"/>
<circle cx="63.4" cy="162.9" fill="#cccccc"/>
<circle cx="233.9" cy="190.1" fill="#777"/>
<circle cx="168.1" cy="189.9" fill="#aaa"/>
<circle cx="257.5" cy="191.1" fill="#aaa"/>
<circle cx="301.9" cy="185.3" fill="#d8d8d8"/>
<circle cx="279.5" cy="187.7" fill="#d2d2d2"/>
<circle cx="188.7" cy="188.7" fill="#b4b4b4"/>
<circle cx="267.0" cy="188.5" fill="#c0c0c0"/>
<circle cx="57.4" cy="188.0" fill="#d8d8d8"/>
<circle cx="211.6" cy="189.4" fill="#aaa"/>
<circle cx="153.7" cy="188.5" fill="#b4b4b4"/>
<circle cx="313.8" cy="184.5" fill="#c0c0c0"/>
<circle cx="212.5" cy="187.6" fill="#cccccc"/>
<circle cx="285.5" cy="175.6" fill="#b4b4b4"/>
<circle cx="87.7" cy="175.9" fill="#b4b4b4"/>
<circle cx="195.1" cy="188.3" fill="#c0c0c0"/>
<circle cx="234.7" cy="189.2" fill="#aaa"/>
<circle cx="199.6" cy="176.5" fill="#d8d8d8"/>
<circle cx="233.8" cy="188.6" fill="#d2d2d2"/>
<circle cx="112.4" cy="187.1" fill="#d8d8d8"/>
<circle cx="172.7" cy="188.7" fill="#d8d8d8"/>
<circle cx="231.9" cy="188.5" fill="#d2d2d2"/>
<circle cx="271.5" cy="191.7" fill="#999"/>
<circle cx="59.3" cy="191.2" fill="#888"/>
<circle cx="171.0" cy="176.3" fill="#cccccc"/>
<circle cx="255.0" cy="191.2" fill="#999"/>
<circle cx="246.1" cy="191.2" fill="#777"/>
<circle cx="218.9" cy="187.8" fill="#cccccc"/>
<circle cx="57.4" cy="190.4" fill="#888"/>
<circle cx="181.4" cy="189.2" fill="#aaa"/>
<circle cx="168.3" cy="173.2" fill="#c0c0c0"/>
<circle cx="138.8" cy="190.0" fill="#aaa"/>
<circle cx="156.0" cy="188.4" fill="#b4b4b4"/>
<circle cx="278.1" cy="189.9" fill="#aaa"/>
<circle cx="93.7" cy="187.0" fill="#d8d8d8"/>
<circle cx="114.3" cy="184.9" fill="#e0e0e0"/>
<circle cx="102.6" cy="187.9" fill="#d2d2d2"/>
<circle cx="63.1" cy="191.6" fill="#aaa"/>
<circle cx="166.6" cy="173.1" fill="#b4b4b4"/>
<circle cx="287.7" cy="187.1" fill="#d8d8d8"/>
<circle cx="245.3" cy="188.9" fill="#cccccc"/>
<circle cx="144.5" cy="191.1" fill="#aaa"/>
<circle cx="292.0" cy="187.5" fill="#b4b4b4"/>
<circle cx="251.3" cy="188.8" fill="#d8d8d8"/>
<circle cx="308.1" cy="184.3" fill="#b4b4b4"/>
<circle cx="298.0" cy="180.8" fill="#e0e0e0"/>
<circle cx="258.4" cy="182.7" fill="#cccccc"/>
<circle cx="122.8" cy="187.3" fill="#d2d2d2"/>
<circle cx="200.3" cy="184.0" fill="#e0e0e0"/>
<circle cx="252.2" cy="190.7" fill="#888"/>
<circle cx="172.4" cy="188.3" fill="#d8d8d8"/>
<circle cx="304.2" cy="191.1" fill="#aaa"/>
<circle cx="315.5" cy="191.0" fill="#999"/>
<circle cx="293.3" cy="191.0" fill="#888"/>
<circle cx="75.1" cy="190.2" fill="#777"/>
<circle cx="94.7" cy="190.3" fill="#888"/>
<circle cx="105.3" cy="191.4" fill="#aaa"/>
<circle cx="71.4" cy="176.6" fill="#b4b4b4"/>
<circle cx="102.8" cy="190.9" fill="#aaa"/>
<circle cx="94.6" cy="187.9" fill="#d2d2d2"/>
<circle cx="167.8" cy="190.5" fill="#888"/>
<circle cx="135.8" cy="189.7" fill="#888"/>
<circle cx="278.3" cy="190.4" fill="#777"/>
<circle cx="143.3" cy="179.8" fill="#e0e0e0"/>
<circle cx="255.6" cy="189.3" fill="#b4b4b4"/>
<circle cx="267.3" cy="189.6" fill="#aaa"/>
<circle cx="307.6" cy="189.2" fill="#999"/>
<circle cx="202.4" cy="171.6" fill="#cccccc"/>
<circle cx="71.0" cy="191.5" fill="#777"/>
<circle cx="172.1" cy="190.1" fill="#777"/>
<circle cx="59.4" cy="186.8" fill="#c0c0c0"/>
<circle cx="158.0" cy="187.5" fill="#d2d2d2"/>
<circle cx="102.6" cy="179.6" fill="#d2d2d2"/>
<circle cx="230.2" cy="191.4" fill="#888"/>
<circle cx="277.5" cy="190.3" fill="#777"/>
<circle cx="201.9" cy="190.2" fill="#777"/>
<circle cx="139.1" cy="188.8" fill="#d8d8d8"/>
<circle cx="81.5" cy="190.0" fill="#aaa"/>
<circle cx="162.3" cy="189.8" fill="#aaa"/>
<circle cx="97.6" cy="189.4" fill="#aaa"/>
<circle cx="82.9" cy="186.9" fill="#e0e0e0"/>
<circle cx="159.8" cy="182.9" fill="#b4b4b4"/>
<circle cx="176.0" cy="169.2" fill="#c0c0c0"/>
<circle cx="269.2" cy="189.3" fill="#777"/>
<circle cx="271.5" cy="188.4" fill="#cccccc"/>
<circle cx="127.8" cy="189.4" fill="#aaa"/>
<circle cx="145.7" cy="184.0" fill="#d2d2d2"/>
<circle cx="155.3" cy="191.0" fill="#aaa"/>
<circle cx="267.4" cy="188.7" fill="#d2d2d2"/>
<circle cx="244.8" cy="178.3" fill="#d8d8d8"/>
<circle cx="238.5" cy="189.2" fill="#cccccc"/>
<circle cx="106.1" cy="176.9" fill="#c0c0c0"/>
<circle cx="266.3" cy="190.1" fill="#777"/>
<circle cx="215.0" cy="189.2" fill="#777"/>
<circle cx="219.8" cy="184.4" fill="#d2d2d2"/>
<circle cx="264.4" cy="188.9" fill="#d8d8d8"/>
<circle cx="312.3" cy="191.3" fill="#999"/>
<circle cx="71.0" cy="188.9" fill="#b4b4b4"/>
<circle cx="104.7" cy="174.9" fill="#cccccc"/>
<circle cx="162.4" cy="190.1" fill="#888"/>
<circle cx="271.4" cy="190.8" fill="#aaa"/>
<circle cx="263.6" cy="182.2" fill="#c0c0c0"/>
<circle cx="194.9" cy="188.6" fill="#b4b4b4"/>
<circle cx="227.1" cy="189.4" fill="#888"/>
<circle cx="80.7" cy="189.9" fill="#999"/>
<circle cx="60.9" cy="187.0" fill="#d2d2d2"/>
<circle cx="200.8" cy="189.7" fill="#aaa"/>
<circle cx="130.0" cy="189.9" fill="#777"/>
<circle cx="64.6" cy="187.8" fill="#cccccc"/>
<circle cx="258.0" cy="191.3" fill="#888"/>
<circle cx="103.3" cy="178.7" fill="#d8d8d8"/>
<circle cx="272.5" cy="189.7" fill="#777"/>
<circle cx="134.5" cy="188.9" fill="#e0e0e0"/>
<circle cx="68.3" cy="189.0" fill="#777"/>
<circle cx="178.3" cy="189.0" fill="#c0c0c0"/>
<circle cx="80.0" cy="190.3" fill="#aaa"/>
<circle cx="287.0" cy="190.3" fill="#777"/>
<circle cx="62.1" cy="189.0" fill="#c0c0c0"/>
<circle cx="111.1" cy="189.5" fill="#777"/>
<circle cx="212.6" cy="186.7" fill="#e0e0e0"/>
<circle cx="98.7" cy="187.2" fill="#d8d8d8"/>
<circle cx="142.4" cy="187.6" fill="#d2d2d2"/>
<circle cx="124.3" cy="190.5" fill="#777"/>
<circle cx="159.3" cy="191.3" fill="#aaa"/>
<circle cx="301.1" cy="191.1" fill="#999"/>
<circle cx="247.8" cy="179.5" fill="#b4b4b4"/>
<circle cx="297.0" cy="177.2" fill="#c0c0c0"/>
<circle cx="284.3" cy="191.4" fill="#aaa"/>
<circle cx="121.5" cy="189.7" fill="#999"/>
<circle cx="308.1" cy="191.4" fill="#aaa"/>
<circle cx="241.1" cy="188.0" fill="#d8d8d8"/>
<circle cx="233.0" cy="190.8" fill="#999"/>
<circle cx="228.1" cy="187.6" fill="#b4b4b4"/>
<circle cx="248.3" cy="187.0" fill="#d2d2d2"/>
<circle cx="223.4" cy="189.5" fill="#aaa"/>
<circle cx="173.1" cy="188.7" fill="#c0c0c0"/>
<circle cx="169.3" cy="188.7" fill="#d8d8d8"/>
<circle cx="273.4" cy="188.1" fill="#c0c0c0"/>
<circle cx="247.5" cy="190.8" fill="#999"/>
<circle cx="246.9" cy="191.0" fill="#999"/>
<circle cx="168.1" cy="189.9" fill="#aaa"/>
<circle cx="214.9" cy="184.1" fill="#d2d2d2"/>
<circle cx="203.5" cy="191.5" fill="#888"/>
<circle cx="295.4" cy="188.3" fill="#c0c0c0"/>
<circle cx="161.5" cy="190.7" fill="#777"/>
<circle cx="135.2" cy="181.9" fill="#cccccc"/>
<circle cx="27.5" cy="190.8" fill="#999"/>
<circle cx="29.0" cy="190.2" fill="#777"/>
<circle cx="30.5" cy="190.9" fill="#888"/>
<circle cx="31.5" cy="190.4" fill="#aaa"/>
<circle cx="34.5" cy="191.0" fill="#ccc"/>
<circle cx="36.0" cy="191.0" fill="#ddd"/>
<circle cx="39.5" cy="191.0" fill="#ddd"/>
<circle cx="42.5" cy="191.0" fill="#ddd"/>
<circle cx="48.5" cy="191.0" fill="#777"/>
<circle cx="50.0" cy="190.6" fill="#888"/>
<circle cx="57.0" cy="187.2" fill="#c0c0c0"/>
<circle cx="56.2" cy="188.5" fill="#d8d8d8"/>
<circle cx="56.3" cy="183.6" fill="#aaa"/>
<circle cx="55.4" cy="179.3" fill="#d2d2d2"/>
<circle cx="57.1" cy="179.5" fill="#d2d2d2"/>
<circle cx="59.0" cy="176.4" fill="#888"/>
<circle cx="59.3" cy="186.9" fill="#999"/>
<circle cx="58.3" cy="175.3" fill="#e0e0e0"/>
<circle cx="61.0" cy="166.8" fill="#d8d8d8"/>
<circle cx="65.6" cy="176.9" fill="#b4b4b4"/>
<circle cx="66.7" cy="176.1" fill="#e0e0e0"/>
<circle cx="71.9" cy="172.6" fill="#999"/>
<circle cx="66.2" cy="183.8" fill="#999"/>
<circle cx="71.7" cy="178.4" fill="#d2d2d2"/>
<circle cx="71.4" cy="166.9" fill="#999"/>
<circle cx="67.1" cy="158.7" fill="#aaa"/>
<circle cx="67.9" cy="189.9" fill="#cccccc"/>
<circle cx="62.1" cy="167.9" fill="#888"/>
<circle cx="61.0" cy="176.1" fill="#d8d8d8"/>
<circle cx="61.7" cy="169.9" fill="#888"/>
<circle cx="64.0" cy="172.9" fill="#d2d2d2"/>
<circle cx="70.8" cy="159.0" fill="#d2d2d2"/>
<circle cx="65.3" cy="172.2" fill="#c0c0c0"/>
<circle cx="64.2" cy="167.5" fill="#cccccc"/>
<circle cx="61.6" cy="162.3" fill="#777"/>
<circle cx="69.3" cy="185.5" fill="#888"/>
<circle cx="61.5" cy="186.7" fill="#b4b4b4"/>
<circle cx="62.1" cy="184.5" fill="#c0c0c0"/>
<circle cx="71.1" cy="161.8" fill="#e0e0e0"/>
<circle cx="69.2" cy="164.3" fill="#b4b4b4"/>
<circle cx="61.4" cy="163.6" fill="#c0c0c0"/>
<circle cx="68.1" cy="173.7" fill="#cccccc"/>
<circle cx="67.0" cy="189.4" fill="#d2d2d2"/>
<circle cx="64.5" cy="179.1" fill="#888"/>
<circle cx="64.6" cy="163.8" fill="#aaa"/>
<circle cx="61.1" cy="161.8" fill="#e0e0e0"/>
<circle cx="68.7" cy="177.0" fill="#999"/>
<circle cx="62.8" cy="162.6" fill="#d2d2d2"/>
<circle cx="67.8" cy="179.9" fill="#e0e0e0"/>
<circle cx="62.6" cy="164.0" fill="#d2d2d2"/>
<circle cx="64.6" cy="175.7" fill="#d8d8d8"/>
<circle cx="70.6" cy="176.3" fill="#b4b4b4"/>
<circle cx="60.8" cy="180.5" fill="#e0e0e0"/>
<circle cx="69.5" cy="172.6" fill="#b4b4b4"/>
<circle cx="65.2" cy="180.6" fill="#777"/>
<circle cx="61.9" cy="177.6" fill="#777"/>
<circle cx="70.4" cy="169.9" fill="#999"/>
<circle cx="62.3" cy="179.0" fill="#d2d2d2"/>
<circle cx="64.1" cy="168.4" fill="#b4b4b4"/>
<circle cx="71.6" cy="184.0" fill="#c0c0c0"/>
<circle cx="83.1" cy="186.5" fill="#888"/>
<circle cx="82.4" cy="176.4" fill="#d2d2d2"/>
<circle cx="77.7" cy="176.5" fill="#888"/>
<circle cx="72.1" cy="182.3" fill="#d2d2d2"/>
<circle cx="72.0" cy="185.6" fill="#c0c0c0"/>
<circle cx="79.2" cy="177.4" fill="#d2d2d2"/>
<circle cx="75.7" cy="176.7" fill="#888"/>
<circle cx="78.6" cy="181.8" fill="#777"/>
<circle cx="82.8" cy="177.0" fill="#777"/>
<circle cx="82.8" cy="187.5" fill="#cccccc"/>
<circle cx="86.0" cy="177.4" fill="#d8d8d8"/>
<circle cx="80.1" cy="175.0" fill="#888"/>
<circle cx="76.2" cy="174.8" fill="#777"/>
<circle cx="80.0" cy="187.7" fill="#d8d8d8"/>
<circle cx="103.9" cy="170.6" fill="#888"/>
<circle cx="100.2" cy="183.8" fill="#e0e0e0"/>
<circle cx="88.3" cy="187.5" fill="#999"/>
<circle cx="101.6" cy="173.0" fill="#888"/>
<circle cx="93.5" cy="166.8" fill="#c0c0c0"/>
<circle cx="92.5" cy="185.3" fill="#999"/>
<circle cx="96.3" cy="168.3" fill="#888"/>
<circle cx="89.3" cy="167.8" fill="#999"/>
<circle cx="96.3" cy="174.6" fill="#999"/>
<circle cx="98.0" cy="166.2" fill="#aaa"/>
<circle cx="90.3" cy="178.7" fill="#cccccc"/>
<circle cx="88.1" cy="170.5" fill="#d8d8d8"/>
<circle cx="92.0" cy="172.0" fill="#777"/>
<circle cx="98.3" cy="183.5" fill="#cccccc"/>
<circle cx="96.5" cy="179.9" fill="#c0c0c0"/>
<circle cx="88.5" cy="167.6" fill="#888"/>
<circle cx="86.7" cy="181.7" fill="#d2d2d2"/>
<circle cx="96.0" cy="183.1" fill="#999"/>
<circle cx="87.0" cy="171.0" fill="#d2d2d2"/>
<circle cx="100.5" cy="187.8" fill="#c0c0c0"/>
<circle cx="90.9" cy="173.9" fill="#d8d8d8"/>
<circle cx="96.1" cy="185.6" fill="#aaa"/>
<circle cx="89.1" cy="181.4" fill="#aaa"/>
<circle cx="87.5" cy="173.4" fill="#c0c0c0"/>
<circle cx="100.9" cy="186.9" fill="#d8d8d8"/>
<circle cx="86.6" cy="177.4" fill="#888"/>
<circle cx="89.0" cy="168.8" fill="#d2d2d2"/>
<circle cx="97.1" cy="171.4" fill="#777"/>
<circle cx="88.9" cy="171.1" fill="#e0e0e0"/>
<circle cx="100.6" cy="179.3" fill="#b4b4b4"/>
<circle cx="89.2" cy="188.0" fill="#999"/>
<circle cx="97.6" cy="177.2" fill="#cccccc"/>
<circle cx="90.2" cy="167.7" fill="#d8d8d8"/>
<circle cx="100.1" cy="166.0" fill="#777"/>
<circle cx="94.0" cy="170.6" fill="#d8d8d8"/>
<circle cx="101.8" cy="186.6" fill="#c0c0c0"/>
<circle cx="99.9" cy="180.9" fill="#e0e0e0"/>
<circle cx="96.6" cy="175.6" fill="#cccccc"/>
<circle cx="91.4" cy="186.7" fill="#cccccc"/>
<circle cx="101.9" cy="170.2" fill="#b4b4b4"/>
<circle cx="91.2" cy="177.9" fill="#d8d8d8"/>
<circle cx="86.7" cy="186.5" fill="#e0e0e0"/>
<circle cx="101.2" cy="173.7" fill="#cccccc"/>
<circle cx="92.8" cy="183.6" fill="#d2d2d2"/>
<circle cx="95.9" cy="173.0" fill="#cccccc"/>
<circle cx="120.0" cy="171.2" fill="#888"/>
<circle cx="112.8" cy="175.6" fill="#d2d2d2"/>
<circle cx="107.7" cy="182.0" fill="#cccccc"/>
<circle cx="108.5" cy="177.0" fill="#c0c0c0"/>
<circle cx="121.7" cy="189.0" fill="#cccccc"/>
<circle cx="115.9" cy="190.7" fill="#d2d2d2"/>
<circle cx="106.8" cy="170.9" fill="#b4b4b4"/>
<circle cx="105.3" cy="172.4" fill="#c0c0c0"/>
<circle cx="116.2" cy="181.5" fill="#cccccc"/>
<circle cx="123.6" cy="190.5" fill="#888"/>
<circle cx="123.7" cy="170.5" fill="#d8d8d8"/>
<circle cx="107.5" cy="185.8" fill="#888"/>
<circle cx="106.8" cy="171.7" fill="#d8d8d8"/>
<circle cx="111.8" cy="187.5" fill="#777"/>
<circle cx="114.2" cy="175.6" fill="#d8d8d8"/>
<circle cx="113.2" cy="186.5" fill="#c0c0c0"/>
<circle cx="106.8" cy="175.2" fill="#d2d2d2"/>
<circle cx="107.6" cy="176.2" fill="#c0c0c0"/>
<circle cx="117.7" cy="176.5" fill="#aaa"/>
<circle cx="123.3" cy="173.0" fill="#d8d8d8"/>
<circle cx="108.9" cy="179.5" fill="#888"/>
<circle cx="112.3" cy="178.8" fill="#d2d2d2"/>
<circle cx="109.3" cy="174.6" fill="#e0e0e0"/>
<circle cx="114.4" cy="189.0" fill="#cccccc"/>
<circle cx="123.8" cy="181.4" fill="#e0e0e0"/>
<circle cx="108.0" cy="190.1" fill="#b4b4b4"/>
<circle cx="107.9" cy="172.0" fill="#b4b4b4"/>
<circle cx="104.2" cy="179.4" fill="#d2d2d2"/>
<circle cx="119.2" cy="188.5" fill="#e0e0e0"/>
<circle cx="112.2" cy="176.0" fill="#aaa"/>
<circle cx="165.2" cy="179.7" fill="#cccccc"/>
<circle cx="167.1" cy="187.4" fill="#d8d8d8"/>
<circle cx="176.7" cy="181.5" fill="#e0e0e0"/>
<circle cx="178.8" cy="169.8" fill="#d2d2d2"/>
<circle cx="170.8" cy="172.2" fill="#cccccc"/>
<circle cx="160.6" cy="185.6" fill="#e0e0e0"/>
<circle cx="172.4" cy="172.6" fill="#d8d8d8"/>
<circle cx="172.9" cy="180.2" fill="#888"/>
<circle cx="161.6" cy="170.8" fill="#e0e0e0"/>
<circle cx="169.9" cy="177.2" fill="#888"/>
<circle cx="175.4" cy="169.4" fill="#b4b4b4"/>
<circle cx="166.5" cy="182.3" fill="#d8d8d8"/>
<circle cx="165.5" cy="184.8" fill="#cccccc"/>
<circle cx="164.4" cy="182.8" fill="#d8d8d8"/>
<circle cx="165.4" cy="183.2" fill="#777"/>
<circle cx="164.9" cy="180.0" fill="#999"/>
<circle cx="170.4" cy="176.2" fill="#b4b4b4"/>
<circle cx="161.6" cy="181.4" fill="#cccccc"/>
<circle cx="165.6" cy="172.6" fill="#999"/>
<circle cx="168.5" cy="168.9" fill="#e0e0e0"/>
<circle cx="170.2" cy="185.0" fill="#aaa"/>
<circle cx="178.5" cy="170.3" fill="#b4b4b4"/>
<circle cx="199.0" cy="186.1" fill="#777"/>
<circle cx="204.3" cy="180.5" fill="#999"/>
<circle cx="198.4" cy="177.4" fill="#cccccc"/>
<circle cx="195.5" cy="189.2" fill="#c0c0c0"/>
<circle cx="203.6" cy="186.5" fill="#777"/>
<circle cx="200.8" cy="190.9" fill="#e0e0e0"/>
<circle cx="197.2" cy="175.9" fill="#d8d8d8"/>
<circle cx="195.1" cy="181.0" fill="#b4b4b4"/>
<circle cx="196.8" cy="187.9" fill="#b4b4b4"/>
<circle cx="205.0" cy="175.1" fill="#d8d8d8"/>
<g class="sr">
<circle cx="482.1" cy="186.5" fill="#e0e0e0"/>
<circle cx="570.6" cy="189.8" fill="#999"/>
<circle cx="679.1" cy="188.3" fill="#666"/>
<circle cx="491.1" cy="189.6" fill="#888"/>
<circle cx="518.9" cy="187.7" fill="#d2d2d2"/>
<circle cx="605.1" cy="189.9" fill="#666"/>
<circle cx="476.4" cy="182.4" fill="#c0c0c0"/>
<circle cx="497.2" cy="182.5" fill="#d2d2d2"/>
<circle cx="474.8" cy="186.3" fill="#b4b4b4"/>
<circle cx="417.6" cy="190.5" fill="#999"/>
<circle cx="610.2" cy="191.2" fill="#aaa"/>
<circle cx="475.9" cy="189.5" fill="#aaa"/>
<circle cx="542.7" cy="189.5" fill="#888"/>
<circle cx="409.2" cy="189.3" fill="#666"/>
<circle cx="436.5" cy="189.2" fill="#888"/>
<circle cx="473.9" cy="189.8" fill="#999"/>
<circle cx="518.1" cy="190.3" fill="#666"/>
<circle cx="610.8" cy="190.2" fill="#999"/>
<circle cx="581.8" cy="188.5" fill="#666"/>
<circle cx="434.4" cy="190.8" fill="#666"/>
<circle cx="414.9" cy="190.6" fill="#aaa"/>
<circle cx="442.3" cy="189.4" fill="#888"/>
<circle cx="574.1" cy="191.3" fill="#999"/>
<circle cx="670.9" cy="190.8" fill="#777"/>
<circle cx="587.4" cy="190.0" fill="#888"/>
<circle cx="417.2" cy="190.0" fill="#777"/>
<circle cx="423.5" cy="187.4" fill="#b4b4b4"/>
<circle cx="633.0" cy="184.7" fill="#e0e0e0"/>
<circle cx="432.7" cy="189.3" fill="#888"/>
<circle cx="627.2" cy="189.8" fill="#999"/>
<circle cx="590.7" cy="189.0" fill="#888"/>
<circle cx="498.1" cy="189.7" fill="#666"/>
<circle cx="451.5" cy="191.1" fill="#888"/>
<circle cx="500.6" cy="189.9" fill="#aaa"/>
<circle cx="437.1" cy="191.2" fill="#aaa"/>
<circle cx="599.2" cy="189.2" fill="#aaa"/>
<circle cx="468.5" cy="182.6" fill="#d2d2d2"/>
<circle cx="559.2" cy="191.5" fill="#aaa"/>
<circle cx="615.3" cy="190.0" fill="#777"/>
<circle cx="513.2" cy="188.8" fill="#777"/>
<circle cx="540.3" cy="189.5" fill="#999"/>
<circle cx="462.8" cy="190.0" fill="#aaa"/>
<circle cx="431.1" cy="187.4" fill="#d2d2d2"/>
<circle cx="621.7" cy="191.8" fill="#666"/>
<circle cx="415.8" cy="190.6" fill="#888"/>
<circle cx="602.0" cy="191.6" fill="#777"/>
<circle cx="409.8" cy="188.6" fill="#aaa"/>
<circle cx="645.9" cy="189.7" fill="#999"/>
<circle cx="396.2" cy="190.2" fill="#888"/>
<circle cx="554.9" cy="187.4" fill="#cccccc"/>
<circle cx="514.0" cy="191.3" fill="#666"/>
<circle cx="492.3" cy="190.5" fill="#888"/>
<circle cx="585.9" cy="191.0" fill="#888"/>
<circle cx="405.4" cy="190.9" fill="#666"/>
<circle cx="597.6" cy="189.5" fill="#aaa"/>
<circle cx="476.8" cy="191.2" fill="#999"/>
<circle cx="528.8" cy="190.0" fill="#aaa"/>
<circle cx="454.1" cy="189.8" fill="#999"/>
<circle cx="496.7" cy="189.9" fill="#888"/>
<circle cx="600.3" cy="185.9" fill="#c0c0c0"/>
<circle cx="535.4" cy="189.1" fill="#999"/>
<circle cx="456.2" cy="189.3" fill="#666"/>
<circle cx="633.8" cy="190.9" fill="#777"/>
<circle cx="464.3" cy="191.6" fill="#aaa"/>
<circle cx="578.7" cy="187.5" fill="#cccccc"/>
<circle cx="656.5" cy="189.1" fill="#666"/>
<circle cx="397.7" cy="191.3" fill="#666"/>
<circle cx="477.9" cy="188.4" fill="#aaa"/>
<circle cx="504.9" cy="185.3" fill="#b4b4b4"/>
<circle cx="403.0" cy="190.5" fill="#777"/>
<circle cx="474.0" cy="190.6" fill="#888"/>
<circle cx="491.1" cy="190.2" fill="#888"/>
<circle cx="515.9" cy="189.4" fill="#888"/>
<circle cx="480.5" cy="190.8" fill="#666"/>
<circle cx="518.5" cy="189.1" fill="#666"/>
<circle cx="554.1" cy="191.0" fill="#777"/>
<circle cx="667.6" cy="191.6" fill="#999"/>
<circle cx="656.1" cy="191.5" fill="#666"/>
<circle cx="422.3" cy="191.7" fill="#999"/>
<circle cx="488.2" cy="191.5" fill="#888"/>
<circle cx="566.3" cy="187.7" fill="#b4b4b4"/>
<circle cx="546.8" cy="188.3" fill="#888"/>
<circle cx="557.0" cy="189.2" fill="#666"/>
<circle cx="537.6" cy="188.9" fill="#888"/>
<circle cx="413.9" cy="191.0" fill="#aaa"/>
<circle cx="623.4" cy="191.3" fill="#666"/>
<circle cx="574.8" cy="190.6" fill="#999"/>
<circle cx="478.4" cy="191.5" fill="#666"/>
<circle cx="418.3" cy="191.0" fill="#888"/>
<circle cx="483.3" cy="190.2" fill="#888"/>
<circle cx="452.9" cy="189.8" fill="#888"/>
<circle cx="423.9" cy="189.5" fill="#888"/>
<circle cx="490.4" cy="186.9" fill="#cccccc"/>
<circle cx="650.5" cy="187.2" fill="#cccccc"/>
<circle cx="642.4" cy="191.6" fill="#666"/>
<circle cx="630.2" cy="189.5" fill="#888"/>
<circle cx="522.2" cy="189.3" fill="#888"/>
<circle cx="426.7" cy="189.0" fill="#888"/>
<circle cx="481.6" cy="188.9" fill="#666"/>
<circle cx="595.7" cy="190.2" fill="#aaa"/>
<circle cx="458.3" cy="189.2" fill="#777"/>
<circle cx="450.9" cy="188.9" fill="#888"/>
<circle cx="479.7" cy="190.9" fill="#777"/>
<circle cx="653.6" cy="189.5" fill="#aaa"/>
<circle cx="470.0" cy="188.6" fill="#666"/>
<circle cx="448.7" cy="190.1" fill="#999"/>
<circle cx="411.4" cy="190.1" fill="#999"/>
<circle cx="410.2" cy="190.7" fill="#888"/>
<circle cx="433.4" cy="190.9" fill="#777"/>
<circle cx="409.3" cy="189.0" fill="#888"/>
<circle cx="641.2" cy="189.3" fill="#777"/>
<circle cx="662.4" cy="191.5" fill="#aaa"/>
<circle cx="564.5" cy="188.0" fill="#e0e0e0"/>
<circle cx="483.6" cy="183.0" fill="#d8d8d8"/>
<circle cx="451.2" cy="191.5" fill="#aaa"/>
<circle cx="463.4" cy="189.9" fill="#aaa"/>
<circle cx="569.3" cy="188.8" fill="#aaa"/>
<circle cx="598.5" cy="191.4" fill="#666"/>
<circle cx="485.6" cy="191.0" fill="#888"/>
<circle cx="601.2" cy="188.7" fill="#888"/>
<circle cx="671.5" cy="188.7" fill="#777"/>
<circle cx="391.4" cy="188.6" fill="#777"/>
<circle cx="646.9" cy="189.8" fill="#666"/>
<circle cx="574.0" cy="191.0" fill="#666"/>
<circle cx="392.8" cy="189.3" fill="#888"/>
<circle cx="454.1" cy="189.3" fill="#666"/>
<circle cx="605.6" cy="190.6" fill="#888"/>
<circle cx="512.7" cy="189.2" fill="#666"/>
<circle cx="635.4" cy="191.2" fill="#777"/>
<circle cx="412.1" cy="191.4" fill="#999"/>
<circle cx="400.6" cy="187.3" fill="#b4b4b4"/>
<circle cx="626.7" cy="186.3" fill="#d2d2d2"/>
<circle cx="450.6" cy="189.6" fill="#aaa"/>
<circle cx="453.6" cy="191.3" fill="#666"/>
<circle cx="675.2" cy="190.2" fill="#888"/>
<circle cx="561.7" cy="190.4" fill="#aaa"/>
<circle cx="539.9" cy="188.8" fill="#aaa"/>
<circle cx="649.2" cy="189.2" fill="#888"/>
<circle cx="673.6" cy="191.1" fill="#777"/>
<circle cx="403.2" cy="190.5" fill="#777"/>
<circle cx="393.0" cy="186.4" fill="#d8d8d8"/>
<circle cx="404.5" cy="187.8" fill="#b4b4b4"/>
<circle cx="527.0" cy="191.6" fill="#999"/>
<circle cx="569.0" cy="189.9" fill="#666"/>
<circle cx="445.4" cy="191.3" fill="#999"/>
<circle cx="511.5" cy="188.8" fill="#777"/>
<circle cx="419.4" cy="189.3" fill="#777"/>
<circle cx="404.4" cy="188.7" fill="#aaa"/>
<circle cx="435.9" cy="191.5" fill="#999"/>
<circle cx="668.5" cy="188.3" fill="#d2d2d2"/>
<circle cx="509.6" cy="189.1" fill="#777"/>
<circle cx="488.5" cy="190.8" fill="#666"/>
<circle cx="423.1" cy="189.2" fill="#666"/>
<circle cx="664.6" cy="189.6" fill="#aaa"/>
<circle cx="493.0" cy="182.8" fill="#d2d2d2"/>
<circle cx="447.5" cy="187.0" fill="#d2d2d2"/>
<circle cx="394.8" cy="191.7" fill="#666"/>
<circle cx="550.2" cy="185.4" fill="#e0e0e0"/>
<circle cx="634.5" cy="191.8" fill="#888"/>
<circle cx="500.9" cy="190.1" fill="#666"/>
<circle cx="506.2" cy="188.8" fill="#999"/>
<circle cx="494.9" cy="188.3" fill="#aaa"/>
<circle cx="414.4" cy="190.6" fill="#aaa"/>
<circle cx="592.2" cy="190.5" fill="#999"/>
<circle cx="514.9" cy="191.5" fill="#777"/>
<circle cx="659.7" cy="190.1" fill="#888"/>
<circle cx="449.3" cy="188.2" fill="#d8d8d8"/>
<circle cx="523.1" cy="191.5" fill="#999"/>
<circle cx="545.6" cy="188.8" fill="#666"/>
<circle cx="519.9" cy="191.8" fill="#aaa"/>
<circle cx="673.6" cy="191.5" fill="#777"/>
<circle cx="418.5" cy="190.3" fill="#aaa"/>
<circle cx="589.8" cy="184.7" fill="#e0e0e0"/>
<circle cx="484.5" cy="191.1" fill="#666"/>
<circle cx="498.0" cy="191.0" fill="#aaa"/>
<circle cx="608.0" cy="191.4" fill="#aaa"/>
<circle cx="527.4" cy="188.5" fill="#777"/>
<circle cx="557.2" cy="186.1" fill="#cccccc"/>
<circle cx="421.2" cy="189.1" fill="#aaa"/>
<circle cx="594.8" cy="190.3" fill="#888"/>
<circle cx="636.5" cy="190.4" fill="#888"/>
<circle cx="611.1" cy="189.1" fill="#888"/>
<circle cx="587.8" cy="190.4" fill="#999"/>
<circle cx="663.2" cy="190.8" fill="#666"/>
<circle cx="412.1" cy="191.7" fill="#999"/>
<circle cx="486.0" cy="191.0" fill="#aaa"/>
<circle cx="460.3" cy="191.0" fill="#999"/>
<circle cx="657.9" cy="191.2" fill="#888"/>
<circle cx="632.9" cy="188.9" fill="#666"/>
<circle cx="400.8" cy="189.6" fill="#999"/>
<circle cx="484.4" cy="191.1" fill="#888"/>
<circle cx="557.4" cy="190.7" fill="#888"/>
<circle cx="393.3" cy="191.3" fill="#777"/>
<circle cx="677.1" cy="190.9" fill="#999"/>
<circle cx="642.2" cy="186.7" fill="#d2d2d2"/>
<circle cx="505.7" cy="191.3" fill="#999"/>
<circle cx="468.3" cy="189.1" fill="#666"/>
<circle cx="603.0" cy="189.3" fill="#888"/>
<circle cx="652.1" cy="189.2" fill="#999"/>
<circle cx="394.2" cy="190.3" fill="#666"/>
<circle cx="589.2" cy="190.6" fill="#666"/>
<circle cx="679.2" cy="189.0" fill="#888"/>
<circle cx="669.8" cy="191.5" fill="#888"/>
<circle cx="590.9" cy="190.5" fill="#aaa"/>
<circle cx="632.4" cy="191.6" fill="#666"/>
<circle cx="679.0" cy="188.3" fill="#b4b4b4"/>
<circle cx="405.4" cy="189.2" fill="#999"/>
<circle cx="508.4" cy="190.5" fill="#777"/>
<circle cx="619.4" cy="188.1" fill="#999"/>
<circle cx="423.4" cy="189.1" fill="#777"/>
<circle cx="634.5" cy="190.2" fill="#999"/>
<circle cx="414.0" cy="188.7" fill="#777"/>
<circle cx="665.0" cy="189.2" fill="#777"/>
<circle cx="402.4" cy="190.1" fill="#888"/>
<circle cx="612.4" cy="189.8" fill="#777"/>
<circle cx="404.5" cy="191.4" fill="#777"/>
<circle cx="613.4" cy="188.8" fill="#888"/>
<circle cx="438.3" cy="191.3" fill="#666"/>
<circle cx="638.0" cy="191.2" fill="#aaa"/>
<circle cx="535.2" cy="190.5" fill="#888"/>
<circle cx="633.4" cy="185.0" fill="#d8d8d8"/>
<circle cx="579.8" cy="189.9" fill="#777"/>
<circle cx="576.3" cy="184.1" fill="#cccccc"/>
<circle cx="496.0" cy="189.5" fill="#666"/>
<circle cx="517.3" cy="190.8" fill="#999"/>
<circle cx="604.9" cy="184.7" fill="#b4b4b4"/>
<circle cx="541.1" cy="189.4" fill="#888"/>
<circle cx="658.6" cy="188.9" fill="#aaa"/>
<circle cx="662.2" cy="191.2" fill="#777"/>
<circle cx="532.0" cy="190.3" fill="#888"/>
<circle cx="518.9" cy="186.2" fill="#e0e0e0"/>
<circle cx="410.7" cy="190.2" fill="#888"/>
<circle cx="526.5" cy="191.2" fill="#888"/>
<circle cx="654.4" cy="189.8" fill="#999"/>
<circle cx="581.0" cy="182.8" fill="#b4b4b4"/>
<circle cx="482.6" cy="186.5" fill="#cccccc"/>
<circle cx="449.2" cy="189.3" fill="#888"/>
<circle cx="464.3" cy="189.6" fill="#aaa"/>
<circle cx="651.9" cy="188.8" fill="#777"/>
<circle cx="555.4" cy="190.9" fill="#999"/>
<circle cx="661.8" cy="191.7" fill="#888"/>
<circle cx="457.8" cy="191.0" fill="#666"/>
<circle cx="401.0" cy="187.8" fill="#c0c0c0"/>
<circle cx="459.0" cy="189.7" fill="#666"/>
<circle cx="502.1" cy="190.6" fill="#aaa"/>
<circle cx="629.5" cy="190.4" fill="#888"/>
<circle cx="442.0" cy="190.4" fill="#999"/>
<circle cx="651.8" cy="186.6" fill="#d2d2d2"/>
<circle cx="658.1" cy="190.0" fill="#888"/>
<circle cx="585.9" cy="191.2" fill="#666"/>
<circle cx="480.2" cy="190.7" fill="#777"/>
<circle cx="596.1" cy="189.9" fill="#999"/>
<circle cx="489.5" cy="189.4" fill="#999"/>
<circle cx="494.0" cy="190.8" fill="#666"/>
<circle cx="606.3" cy="183.7" fill="#b4b4b4"/>
<circle cx="593.4" cy="183.8" fill="#b4b4b4"/>
<circle cx="666.9" cy="188.3" fill="#888"/>
<circle cx="596.9" cy="189.5" fill="#777"/>
<circle cx="667.4" cy="190.9" fill="#666"/>
<circle cx="539.5" cy="191.0" fill="#999"/>
<circle cx="439.9" cy="188.9" fill="#666"/>
<circle cx="481.3" cy="191.0" fill="#666"/>
<circle cx="558.3" cy="188.9" fill="#666"/>
<circle cx="537.2" cy="189.6" fill="#888"/>
<circle cx="402.1" cy="189.3" fill="#666"/>
<circle cx="593.0" cy="190.8" fill="#666"/>
<circle cx="408.4" cy="191.0" fill="#888"/>
<circle cx="504.7" cy="189.6" fill="#777"/>
<circle cx="646.6" cy="190.9" fill="#888"/>
<circle cx="415.4" cy="186.8" fill="#b4b4b4"/>
<circle cx="658.9" cy="191.5" fill="#aaa"/>
<circle cx="429.4" cy="190.2" fill="#888"/>
<circle cx="513.1" cy="188.7" fill="#666"/>
<circle cx="677.0" cy="190.1" fill="#aaa"/>
<circle cx="397.0" cy="188.8" fill="#999"/>
<circle cx="635.3" cy="189.3" fill="#aaa"/>
<circle cx="627.2" cy="188.9" fill="#999"/>
<circle cx="663.4" cy="190.2" fill="#666"/>
<circle cx="547.0" cy="190.9" fill="#777"/>
<circle cx="626.5" cy="191.4" fill="#888"/>
<circle cx="591.5" cy="188.6" fill="#aaa"/>
<circle cx="660.4" cy="191.7" fill="#666"/>
<circle cx="624.4" cy="191.8" fill="#777"/>
<circle cx="447.8" cy="186.1" fill="#e0e0e0"/>
<circle cx="417.0" cy="190.8" fill="#666"/>
<circle cx="441.7" cy="188.1" fill="#d2d2d2"/>
<circle cx="551.3" cy="190.6" fill="#999"/>
<circle cx="580.2" cy="183.9" fill="#cccccc"/>
<circle cx="561.1" cy="190.6" fill="#aaa"/>
<circle cx="611.0" cy="190.2" fill="#777"/>
<circle cx="620.0" cy="190.7" fill="#aaa"/>
<circle cx="454.5" cy="191.3" fill="#777"/>
<circle cx="476.8" cy="190.6" fill="#777"/>
<circle cx="604.4" cy="188.5" fill="#888"/>
<circle cx="522.4" cy="190.7" fill="#999"/>
<circle cx="411.7" cy="189.0" fill="#666"/>
<circle cx="442.2" cy="191.1" fill="#888"/>
<circle cx="507.1" cy="189.2" fill="#aaa"/>
<circle cx="470.3" cy="188.7" fill="#888"/>
<circle cx="462.3" cy="190.4" fill="#999"/>
<circle cx="578.8" cy="186.1" fill="#d8d8d8"/>
<circle cx="652.8" cy="191.6" fill="#888"/>
<circle cx="615.9" cy="190.2" fill="#999"/>
<circle cx="665.9" cy="187.1" fill="#d2d2d2"/>
<circle cx="529.3" cy="191.5" fill="#888"/>
<circle cx="615.4" cy="184.7" fill="#b4b4b4"/>
<circle cx="437.9" cy="191.2" fill="#777"/>
<circle cx="420.5" cy="190.3" fill="#666"/>
<circle cx="550.9" cy="191.0" fill="#888"/>
<circle cx="568.4" cy="189.7" fill="#666"/>
<circle cx="580.9" cy="184.1" fill="#d8d8d8"/>
<circle cx="394.7" cy="190.3" fill="#999"/>
<circle cx="617.3" cy="187.6" fill="#c0c0c0"/>
<circle cx="494.1" cy="190.5" fill="#777"/>
<circle cx="435.0" cy="188.9" fill="#777"/>
<circle cx="495.4" cy="190.9" fill="#777"/>
<circle cx="671.2" cy="188.7" fill="#999"/>
<circle cx="525.7" cy="191.1" fill="#888"/>
<circle cx="666.1" cy="191.2" fill="#666"/>
<circle cx="549.2" cy="190.7" fill="#777"/>
<circle cx="404.4" cy="190.7" fill="#666"/>
<circle cx="640.5" cy="191.5" fill="#888"/>
<circle cx="549.4" cy="189.6" fill="#aaa"/>
<circle cx="663.3" cy="191.5" fill="#777"/>
<circle cx="591.0" cy="191.5" fill="#666"/>
<circle cx="460.9" cy="190.6" fill="#999"/>
<circle cx="599.2" cy="191.3" fill="#888"/>
<circle cx="548.0" cy="191.0" fill="#999"/>
<circle cx="533.2" cy="191.3" fill="#aaa"/>
<circle cx="487.5" cy="189.7" fill="#888"/>
<circle cx="548.5" cy="190.7" fill="#aaa"/>
<circle cx="638.6" cy="187.4" fill="#d8d8d8"/>
<circle cx="671.3" cy="189.2" fill="#aaa"/>
<circle cx="463.1" cy="184.1" fill="#b4b4b4"/>
<circle cx="415.6" cy="191.5" fill="#666"/>
<circle cx="559.1" cy="185.4" fill="#b4b4b4"/>
<circle cx="637.5" cy="189.4" fill="#aaa"/>
<circle cx="508.1" cy="187.8" fill="#b4b4b4"/>
<circle cx="548.9" cy="188.9" fill="#aaa"/>
<circle cx="392.9" cy="190.2" fill="#aaa"/>
<circle cx="474.5" cy="189.3" fill="#666"/>
<circle cx="487.4" cy="185.5" fill="#e0e0e0"/>
<circle cx="450.0" cy="185.6" fill="#b4b4b4"/>
<circle cx="648.4" cy="191.5" fill="#666"/>
<circle cx="654.2" cy="189.3" fill="#aaa"/>
<circle cx="438.1" cy="190.5" fill="#666"/>
<circle cx="455.9" cy="189.5" fill="#666"/>
<circle cx="532.5" cy="189.8" fill="#999"/>
<circle cx="577.0" cy="190.3" fill="#aaa"/>
<circle cx="633.4" cy="189.8" fill="#aaa"/>
<circle cx="559.2" cy="190.9" fill="#999"/>
<circle cx="606.9" cy="189.7" fill="#888"/>
<circle cx="653.3" cy="189.8" fill="#888"/>
<circle cx="547.6" cy="190.2" fill="#888"/>
<circle cx="584.3" cy="190.9" fill="#888"/>
<circle cx="640.3" cy="189.3" fill="#666"/>
<circle cx="505.4" cy="184.5" fill="#b4b4b4"/>
<circle cx="398.2" cy="189.1" fill="#777"/>
<circle cx="469.8" cy="183.4" fill="#d2d2d2"/>
<circle cx="647.5" cy="191.6" fill="#999"/>
<circle cx="549.2" cy="187.3" fill="#e0e0e0"/>
<circle cx="427.3" cy="191.5" fill="#888"/>
<circle cx="472.6" cy="190.2" fill="#777"/>
<circle cx="584.4" cy="189.8" fill="#999"/>
<circle cx="667.3" cy="188.5" fill="#999"/>
<circle cx="656.9" cy="187.8" fill="#e0e0e0"/>
<circle cx="471.5" cy="186.5" fill="#cccccc"/>
<circle cx="610.6" cy="187.5" fill="#d2d2d2"/>
<circle cx="616.9" cy="189.7" fill="#aaa"/>
<circle cx="459.1" cy="181.4" fill="#b4b4b4"/>
<circle cx="645.9" cy="189.9" fill="#666"/>
<circle cx="430.9" cy="190.9" fill="#888"/>
<circle cx="401.4" cy="189.5" fill="#777"/>
<circle cx="599.3" cy="190.0" fill="#777"/>
<circle cx="395.4" cy="189.5" fill="#999"/>
<circle cx="607.5" cy="190.2" fill="#888"/>
<circle cx="612.6" cy="188.9" fill="#999"/>
<circle cx="496.9" cy="191.2" fill="#888"/>
<circle cx="639.0" cy="190.4" fill="#aaa"/>
<circle cx="443.3" cy="190.3" fill="#888"/>
<circle cx="630.3" cy="188.9" fill="#888"/>
<circle cx="542.1" cy="191.4" fill="#999"/>
<circle cx="467.7" cy="189.0" fill="#666"/>
<circle cx="605.0" cy="185.8" fill="#cccccc"/>
<circle cx="509.9" cy="189.4" fill="#aaa"/>
<circle cx="495.6" cy="184.0" fill="#d2d2d2"/>
<circle cx="548.8" cy="185.9" fill="#c0c0c0"/>
<circle cx="676.9" cy="188.7" fill="#999"/>
<circle cx="664.5" cy="189.6" fill="#888"/>
<circle cx="580.7" cy="185.9" fill="#d8d8d8"/>
<circle cx="432.9" cy="190.0" fill="#aaa"/>
<circle cx="620.7" cy="190.7" fill="#999"/>
<circle cx="463.5" cy="189.5" fill="#aaa"/>
<circle cx="431.7" cy="188.2" fill="#777"/>
<circle cx="453.6" cy="189.3" fill="#999"/>
<circle cx="407.9" cy="191.3" fill="#666"/>
<circle cx="530.8" cy="190.5" fill="#666"/>
<circle cx="641.0" cy="190.8" fill="#666"/>
<circle cx="571.6" cy="190.5" fill="#666"/>
<circle cx="598.3" cy="189.8" fill="#aaa"/>
<circle cx="544.4" cy="191.4" fill="#888"/>
<circle cx="466.2" cy="191.0" fill="#888"/>
<circle cx="650.4" cy="190.8" fill="#888"/>
<circle cx="433.3" cy="188.6" fill="#aaa"/>
<circle cx="396.2" cy="190.4" fill="#999"/>
<circle cx="396.6" cy="190.2" fill="#999"/>
<circle cx="492.5" cy="188.7" fill="#777"/>
<circle cx="473.6" cy="188.0" fill="#aaa"/>
<circle cx="464.2" cy="186.6" fill="#b4b4b4"/>
<circle cx="579.9" cy="189.1" fill="#999"/>
<circle cx="584.1" cy="190.2" fill="#999"/>
<circle cx="544.4" cy="189.5" fill="#888"/>
<circle cx="527.6" cy="189.3" fill="#aaa"/>
<circle cx="631.0" cy="189.2" fill="#aaa"/>
<circle cx="471.4" cy="189.2" fill="#aaa"/>
<circle cx="415.2" cy="189.3" fill="#aaa"/>
<circle cx="445.0" cy="185.6" fill="#e0e0e0"/>
<circle cx="558.8" cy="189.0" fill="#777"/>
<circle cx="558.5" cy="185.6" fill="#d8d8d8"/>
<circle cx="653.6" cy="188.7" fill="#777"/>
<circle cx="477.9" cy="190.8" fill="#999"/>
<circle cx="553.2" cy="191.6" fill="#999"/>
<circle cx="427.5" cy="188.9" fill="#aaa"/>
<circle cx="397.6" cy="185.6" fill="#c0c0c0"/>
<circle cx="446.4" cy="188.9" fill="#999"/>
<circle cx="654.3" cy="189.8" fill="#777"/>
<circle cx="645.1" cy="189.8" fill="#999"/>
<circle cx="616.7" cy="191.4" fill="#999"/>
<circle cx="652.3" cy="190.1" fill="#777"/>
<circle cx="448.9" cy="189.6" fill="#aaa"/>
<circle cx="613.5" cy="191.2" fill="#666"/>
<circle cx="531.3" cy="185.0" fill="#c0c0c0"/>
<circle cx="583.2" cy="184.7" fill="#d8d8d8"/>
<circle cx="575.9" cy="190.9" fill="#aaa"/>
<circle cx="583.0" cy="188.9" fill="#aaa"/>
<circle cx="581.8" cy="190.2" fill="#777"/>
<circle cx="561.4" cy="191.2" fill="#777"/>
<circle cx="598.9" cy="184.2" fill="#c0c0c0"/>
<circle cx="617.3" cy="189.4" fill="#888"/>
<circle cx="563.0" cy="190.8" fill="#888"/>
<circle cx="535.3" cy="190.8" fill="#777"/>
<circle cx="573.6" cy="190.5" fill="#888"/>
<circle cx="630.5" cy="189.9" fill="#999"/>
<circle cx="443.3" cy="191.4" fill="#777"/>
<circle cx="511.9" cy="191.2" fill="#777"/>
<circle cx="450.8" cy="189.4" fill="#888"/>
<circle cx="406.9" cy="190.7" fill="#888"/>
<circle cx="652.0" cy="189.1" fill="#999"/>
<circle cx="543.4" cy="190.4" fill="#999"/>
<circle cx="459.9" cy="191.1" fill="#888"/>
<circle cx="459.6" cy="190.5" fill="#999"/>
<circle cx="572.8" cy="190.2" fill="#888"/>
<circle cx="649.5" cy="189.3" fill="#aaa"/>
<circle cx="482.5" cy="190.9" fill="#666"/>
<circle cx="678.4" cy="191.5" fill="#666"/>
<circle cx="595.1" cy="189.4" fill="#666"/>
<circle cx="672.8" cy="189.9" fill="#666"/>
<circle cx="593.7" cy="189.3" fill="#666"/>
<circle cx="588.0" cy="189.9" fill="#777"/>
<circle cx="623.7" cy="190.1" fill="#aaa"/>
<circle cx="621.8" cy="189.5" fill="#aaa"/>
<circle cx="407.3" cy="190.2" fill="#aaa"/>
<circle cx="518.6" cy="187.6" fill="#b4b4b4"/>
<circle cx="616.1" cy="190.1" fill="#777"/>
<circle cx="413.9" cy="191.1" fill="#aaa"/>
<circle cx="529.7" cy="190.8" fill="#777"/>
<circle cx="577.0" cy="191.4" fill="#666"/>
<circle cx="621.1" cy="191.6" fill="#777"/>
<circle cx="570.7" cy="189.9" fill="#777"/>
<circle cx="423.1" cy="190.2" fill="#666"/>
<circle cx="529.7" cy="191.1" fill="#999"/>
<circle cx="525.8" cy="190.2" fill="#777"/>
<circle cx="546.8" cy="190.3" fill="#777"/>
<circle cx="456.8" cy="189.7" fill="#777"/>
<circle cx="656.8" cy="188.9" fill="#999"/>
<circle cx="447.1" cy="181.2" fill="#b4b4b4"/>
<circle cx="494.8" cy="186.7" fill="#d8d8d8"/>
<circle cx="661.4" cy="188.0" fill="#e0e0e0"/>
<circle cx="480.7" cy="191.6" fill="#888"/>
<circle cx="639.0" cy="190.7" fill="#aaa"/>
<circle cx="657.7" cy="188.8" fill="#aaa"/>
<circle cx="488.0" cy="188.4" fill="#aaa"/>
<circle cx="500.8" cy="190.9" fill="#777"/>
<circle cx="648.3" cy="190.8" fill="#777"/>
<circle cx="462.7" cy="189.9" fill="#888"/>
<circle cx="503.1" cy="183.7" fill="#cccccc"/>
<circle cx="608.8" cy="191.1" fill="#777"/>
<circle cx="420.0" cy="191.2" fill="#999"/>
<circle cx="672.0" cy="186.3" fill="#c0c0c0"/>
<circle cx="609.6" cy="189.3" fill="#999"/>
<circle cx="550.7" cy="190.1" fill="#666"/>
<circle cx="626.7" cy="189.0" fill="#999"/>
<circle cx="431.7" cy="191.0" fill="#888"/>
<circle cx="668.8" cy="188.7" fill="#777"/>
<circle cx="572.8" cy="186.5" fill="#d2d2d2"/>
<circle cx="568.8" cy="186.7" fill="#cccccc"/>
<circle cx="654.0" cy="191.1" fill="#777"/>
<circle cx="397.5" cy="190.8" fill="#666"/>
<circle cx="530.2" cy="189.9" fill="#666"/>
<circle cx="609.3" cy="189.7" fill="#888"/>
<circle cx="512.5" cy="188.9" fill="#888"/>
<circle cx="502.4" cy="182.5" fill="#d8d8d8"/>
<circle cx="619.5" cy="190.6" fill="#777"/>
<circle cx="398.5" cy="189.6" fill="#888"/>
<circle cx="490.8" cy="190.7" fill="#666"/>
<circle cx="648.0" cy="191.3" fill="#777"/>
<circle cx="532.7" cy="188.0" fill="#b4b4b4"/>
<circle cx="494.1" cy="191.4" fill="#777"/>
<circle cx="662.0" cy="190.6" fill="#666"/>
<circle cx="509.2" cy="190.8" fill="#666"/>
<circle cx="506.2" cy="188.2" fill="#d2d2d2"/>
<circle cx="635.9" cy="190.2" fill="#777"/>
<circle cx="534.7" cy="188.6" fill="#888"/>
<circle cx="462.8" cy="189.0" fill="#666"/>
<circle cx="521.0" cy="190.2" fill="#666"/>
<circle cx="552.6" cy="191.2" fill="#888"/>
<circle cx="507.6" cy="189.8" fill="#666"/>
<circle cx="543.7" cy="188.5" fill="#777"/>
<circle cx="537.9" cy="187.8" fill="#e0e0e0"/>
<circle cx="570.7" cy="188.8" fill="#999"/>
<circle cx="538.7" cy="190.6" fill="#777"/>
<circle cx="629.8" cy="188.8" fill="#aaa"/>
<circle cx="457.5" cy="189.0" fill="#aaa"/>
<circle cx="467.3" cy="182.7" fill="#d8d8d8"/>
<circle cx="476.3" cy="188.6" fill="#888"/>
<circle cx="618.2" cy="191.5" fill="#777"/>
<circle cx="655.5" cy="190.8" fill="#777"/>
<circle cx="400.9" cy="189.7" fill="#999"/>
<circle cx="481.9" cy="190.9" fill="#aaa"/>
<circle cx="482.6" cy="190.1" fill="#777"/>
<circle cx="540.7" cy="186.6" fill="#d8d8d8"/>
<circle cx="662.4" cy="191.5" fill="#999"/>
<circle cx="567.8" cy="189.9" fill="#999"/>
<circle cx="582.4" cy="189.0" fill="#666"/>
<circle cx="439.4" cy="186.8" fill="#b4b4b4"/>
<circle cx="649.9" cy="188.6" fill="#666"/>
<circle cx="485.3" cy="189.6" fill="#888"/>
<circle cx="517.7" cy="190.9" fill="#777"/>
<circle cx="410.5" cy="188.4" fill="#aaa"/>
<circle cx="616.4" cy="189.2" fill="#999"/>
<circle cx="567.3" cy="190.9" fill="#666"/>
<circle cx="485.8" cy="191.5" fill="#888"/>
<circle cx="674.5" cy="190.1" fill="#777"/>
<circle cx="521.4" cy="190.9" fill="#777"/>
<circle cx="470.0" cy="190.2" fill="#aaa"/>
<circle cx="616.9" cy="190.0" fill="#aaa"/>
<circle cx="625.6" cy="184.1" fill="#d8d8d8"/>
<circle cx="625.2" cy="190.6" fill="#666"/>
<circle cx="406.0" cy="189.1" fill="#777"/>
<circle cx="504.8" cy="190.1" fill="#666"/>
<circle cx="416.6" cy="189.9" fill="#999"/>
<circle cx="465.6" cy="189.1" fill="#aaa"/>
<circle cx="671.9" cy="191.0" fill="#666"/>
<circle cx="553.2" cy="188.1" fill="#cccccc"/>
<circle cx="646.1" cy="186.7" fill="#cccccc"/>
<circle cx="586.8" cy="189.9" fill="#666"/>
<circle cx="605.9" cy="187.5" fill="#b4b4b4"/>
<circle cx="411.6" cy="189.5" fill="#888"/>
<circle cx="607.1" cy="189.5" fill="#999"/>
<circle cx="413.1" cy="189.2" fill="#777"/>
<circle cx="522.3" cy="191.0" fill="#666"/>
<circle cx="434.2" cy="189.7" fill="#777"/>
<circle cx="548.0" cy="189.8" fill="#888"/>
<circle cx="428.7" cy="188.2" fill="#b4b4b4"/>
<circle cx="467.6" cy="181.5" fill="#c0c0c0"/>
<circle cx="460.3" cy="188.9" fill="#999"/>
<circle cx="521.3" cy="185.3" fill="#e0e0e0"/>
<circle cx="591.9" cy="191.3" fill="#aaa"/>
<circle cx="538.3" cy="191.4" fill="#888"/>
<circle cx="596.0" cy="190.6" fill="#888"/>
<circle cx="512.4" cy="188.7" fill="#aaa"/>
<circle cx="563.0" cy="188.7" fill="#777"/>
<circle cx="592.4" cy="189.2" fill="#999"/>
<circle cx="439.2" cy="188.2" fill="#888"/>
<circle cx="617.1" cy="186.6" fill="#e0e0e0"/>
<circle cx="416.4" cy="190.6" fill="#999"/>
<circle cx="440.0" cy="189.1" fill="#777"/>
<circle cx="515.7" cy="188.9" fill="#666"/>
<circle cx="516.4" cy="188.9" fill="#888"/>
<circle cx="608.8" cy="190.8" fill="#777"/>
<circle cx="437.1" cy="190.3" fill="#999"/>
<circle cx="457.4" cy="183.9" fill="#d8d8d8"/>
<circle cx="407.8" cy="189.5" fill="#888"/>
<circle cx="426.2" cy="189.3" fill="#888"/>
<circle cx="528.3" cy="189.3" fill="#666"/>
<circle cx="466.2" cy="188.9" fill="#666"/>
<circle cx="649.9" cy="191.4" fill="#777"/>
<circle cx="536.5" cy="190.8" fill="#aaa"/>
<circle cx="556.6" cy="189.5" fill="#999"/>
<circle cx="455.3" cy="191.4" fill="#666"/>
<circle cx="563.6" cy="190.0" fill="#999"/>
<circle cx="646.6" cy="187.7" fill="#cccccc"/>
<circle cx="586.1" cy="188.4" fill="#999"/>
<circle cx="484.4" cy="191.2" fill="#999"/>
<circle cx="425.5" cy="189.3" fill="#777"/>
<circle cx="570.9" cy="191.2" fill="#999"/>
<circle cx="531.1" cy="190.8" fill="#888"/>
<circle cx="498.7" cy="191.0" fill="#999"/>
<circle cx="565.7" cy="189.2" fill="#888"/>
<circle cx="500.2" cy="190.1" fill="#666"/>
<circle cx="631.1" cy="191.3" fill="#aaa"/>
<circle cx="506.0" cy="183.0" fill="#c0c0c0"/>
<circle cx="625.5" cy="191.6" fill="#666"/>
<circle cx="590.7" cy="191.1" fill="#666"/>
<circle cx="481.5" cy="190.3" fill="#888"/>
<circle cx="510.3" cy="189.5" fill="#777"/>
<circle cx="659.7" cy="190.6" fill="#777"/>
<circle cx="437.9" cy="189.2" fill="#aaa"/>
<circle cx="493.7" cy="190.7" fill="#aaa"/>
<circle cx="445.1" cy="189.3" fill="#999"/>
<circle cx="453.8" cy="184.7" fill="#d8d8d8"/>
<circle cx="439.7" cy="189.7" fill="#888"/>
<circle cx="620.8" cy="190.5" fill="#999"/>
<circle cx="590.5" cy="185.2" fill="#c0c0c0"/>
<circle cx="601.5" cy="186.3" fill="#d8d8d8"/>
<circle cx="529.4" cy="189.4" fill="#999"/>
<circle cx="657.1" cy="191.4" fill="#999"/>
<circle cx="534.6" cy="190.0" fill="#999"/>
<circle cx="472.2" cy="191.0" fill="#666"/>
<circle cx="498.3" cy="191.3" fill="#777"/>
<circle cx="447.0" cy="190.4" fill="#888"/>
<circle cx="436.3" cy="187.3" fill="#d2d2d2"/>
<circle cx="465.8" cy="190.8" fill="#777"/>
<circle cx="673.2" cy="191.5" fill="#777"/>
<circle cx="541.9" cy="190.3" fill="#777"/>
<circle cx="452.4" cy="191.2" fill="#888"/>
<circle cx="503.4" cy="188.8" fill="#aaa"/>
<circle cx="666.7" cy="190.9" fill="#666"/>
<circle cx="478.8" cy="190.5" fill="#666"/>
<circle cx="424.5" cy="191.4" fill="#999"/>
<circle cx="435.5" cy="191.2" fill="#777"/>
<circle cx="676.1" cy="191.5" fill="#999"/>
<circle cx="443.6" cy="191.3" fill="#aaa"/>
<circle cx="509.1" cy="189.9" fill="#666"/>
<circle cx="455.2" cy="190.0" fill="#666"/>
<circle cx="675.6" cy="189.6" fill="#999"/>
<circle cx="422.8" cy="190.6" fill="#666"/>
<circle cx="622.6" cy="189.2" fill="#777"/>
<circle cx="498.8" cy="182.4" fill="#e0e0e0"/>
<circle cx="410.9" cy="191.2" fill="#999"/>
<circle cx="542.4" cy="188.7" fill="#777"/>
<circle cx="527.3" cy="188.9" fill="#777"/>
<circle cx="497.7" cy="189.6" fill="#aaa"/>
<circle cx="657.5" cy="188.4" fill="#999"/>
<circle cx="513.9" cy="191.3" fill="#888"/>
<circle cx="533.9" cy="189.0" fill="#777"/>
<circle cx="566.0" cy="189.6" fill="#999"/>
<circle cx="585.0" cy="187.8" fill="#e0e0e0"/>
<circle cx="519.3" cy="191.4" fill="#666"/>
<circle cx="643.8" cy="188.6" fill="#666"/>
<circle cx="406.4" cy="191.5" fill="#999"/>
<circle cx="579.6" cy="191.5" fill="#777"/>
<circle cx="514.5" cy="189.9" fill="#888"/>
<circle cx="496.8" cy="186.0" fill="#d2d2d2"/>
<circle cx="675.0" cy="189.8" fill="#666"/>
<circle cx="624.6" cy="184.4" fill="#e0e0e0"/>
<circle cx="633.7" cy="187.5" fill="#d2d2d2"/>
<circle cx="551.2" cy="186.1" fill="#e0e0e0"/>
<circle cx="470.3" cy="191.6" fill="#aaa"/>
<circle cx="624.5" cy="189.9" fill="#aaa"/>
<circle cx="433.4" cy="189.8" fill="#888"/>
<circle cx="619.2" cy="191.0" fill="#aaa"/>
<circle cx="572.9" cy="188.8" fill="#999"/>
<circle cx="501.1" cy="191.3" fill="#aaa"/>
<circle cx="456.6" cy="186.9" fill="#cccccc"/>
<circle cx="608.5" cy="190.7" fill="#666"/>
<circle cx="547.9" cy="191.2" fill="#777"/>
<circle cx="523.6" cy="191.3" fill="#aaa"/>
<circle cx="456.0" cy="188.8" fill="#777"/>
<circle cx="637.4" cy="186.9" fill="#cccccc"/>
<circle cx="600.4" cy="190.0" fill="#999"/>
<circle cx="567.4" cy="190.9" fill="#666"/>
<circle cx="439.3" cy="191.3" fill="#777"/>
<circle cx="443.5" cy="190.5" fill="#888"/>
<circle cx="602.5" cy="190.6" fill="#888"/>
<circle cx="635.4" cy="190.8" fill="#777"/>
<circle cx="432.1" cy="190.3" fill="#666"/>
<circle cx="516.8" cy="191.0" fill="#999"/>
<circle cx="430.2" cy="188.5" fill="#777"/>
<circle cx="624.3" cy="190.8" fill="#777"/>
<circle cx="488.8" cy="189.3" fill="#888"/>
<circle cx="609.9" cy="186.0" fill="#e0e0e0"/>
<circle cx="651.7" cy="190.9" fill="#666"/>
<circle cx="483.6" cy="191.2" fill="#999"/>
<circle cx="643.4" cy="188.0" fill="#e0e0e0"/>
<circle cx="577.7" cy="188.5" fill="#999"/>
<circle cx="472.0" cy="182.5" fill="#d8d8d8"/>
<circle cx="453.2" cy="190.1" fill="#aaa"/>
<circle cx="563.9" cy="187.9" fill="#c0c0c0"/>
<circle cx="438.9" cy="190.0" fill="#888"/>
<circle cx="407.6" cy="189.5" fill="#999"/>
<circle cx="417.1" cy="189.5" fill="#777"/>
<circle cx="420.5" cy="189.2" fill="#aaa"/>
<circle cx="592.2" cy="190.0" fill="#aaa"/>
<circle cx="611.5" cy="189.4" fill="#666"/>
<circle cx="642.9" cy="189.5" fill="#888"/>
<circle cx="431.4" cy="190.5" fill="#999"/>
<circle cx="678.5" cy="190.8" fill="#777"/>
<circle cx="563.7" cy="190.3" fill="#777"/>
<circle cx="470.5" cy="189.1" fill="#888"/>
<circle cx="667.5" cy="189.0" fill="#666"/>
<circle cx="650.8" cy="190.3" fill="#999"/>
<circle cx="627.2" cy="189.9" fill="#666"/>
<circle cx="651.5" cy="190.6" fill="#aaa"/>
<circle cx="525.9" cy="190.9" fill="#777"/>
<circle cx="424.6" cy="191.0" fill="#777"/>
<circle cx="559.7" cy="188.3" fill="#aaa"/>
<circle cx="458.4" cy="189.6" fill="#888"/>
<circle cx="613.3" cy="185.3" fill="#e0e0e0"/>
<circle cx="659.2" cy="190.9" fill="#666"/>
<circle cx="409.0" cy="191.7" fill="#777"/>
<circle cx="520.3" cy="185.4" fill="#d2d2d2"/>
<circle cx="514.0" cy="188.9" fill="#777"/>
<circle cx="399.1" cy="190.1" fill="#666"/>
<circle cx="428.8" cy="189.0" fill="#777"/>
<circle cx="461.6" cy="190.5" fill="#999"/>
<circle cx="397.3" cy="190.6" fill="#666"/>
<circle cx="477.5" cy="189.0" fill="#888"/>
<circle cx="438.8" cy="191.4" fill="#aaa"/>
<circle cx="573.9" cy="191.5" fill="#999"/>
<circle cx="501.0" cy="190.4" fill="#999"/>
<circle cx="661.7" cy="190.2" fill="#aaa"/>
<circle cx="644.0" cy="189.5" fill="#aaa"/>
<circle cx="597.8" cy="184.0" fill="#b4b4b4"/>
<circle cx="610.0" cy="188.7" fill="#999"/>
<circle cx="477.7" cy="191.3" fill="#777"/>
<circle cx="495.5" cy="191.6" fill="#888"/>
<circle cx="611.4" cy="189.2" fill="#aaa"/>
<circle cx="398.3" cy="186.6" fill="#c0c0c0"/>
<circle cx="583.7" cy="185.8" fill="#cccccc"/>
<circle cx="664.9" cy="190.6" fill="#aaa"/>
<circle cx="449.4" cy="189.6" fill="#888"/>
<circle cx="563.8" cy="187.6" fill="#c0c0c0"/>
<circle cx="546.4" cy="189.9" fill="#777"/>
<circle cx="517.7" cy="187.9" fill="#d8d8d8"/>
<circle cx="674.2" cy="190.7" fill="#999"/>
<circle cx="456.5" cy="191.4" fill="#666"/>
<circle cx="473.3" cy="188.7" fill="#999"/>
<circle cx="520.4" cy="188.7" fill="#999"/>
<circle cx="652.4" cy="190.5" fill="#777"/>
<circle cx="502.2" cy="182.6" fill="#c0c0c0"/>
<circle cx="540.2" cy="188.9" fill="#666"/>
<circle cx="430.3" cy="190.8" fill="#888"/>
<circle cx="541.4" cy="191.1" fill="#888"/>
<circle cx="467.1" cy="182.4" fill="#e0e0e0"/>
<circle cx="626.6" cy="184.8" fill="#c0c0c0"/>
<circle cx="478.2" cy="191.2" fill="#aaa"/>
<circle cx="519.5" cy="185.5" fill="#e0e0e0"/>
<circle cx="499.9" cy="191.4" fill="#777"/>
<circle cx="669.4" cy="189.4" fill="#666"/>
<circle cx="449.6" cy="188.8" fill="#aaa"/>
<circle cx="560.5" cy="189.6" fill="#666"/>
<circle cx="668.2" cy="188.7" fill="#888"/>
<circle cx="618.2" cy="191.1" fill="#777"/>
<circle cx="516.9" cy="188.6" fill="#777"/>
<circle cx="431.2" cy="189.0" fill="#777"/>
<circle cx="505.2" cy="189.1" fill="#aaa"/>
<circle cx="391.6" cy="191.2" fill="#999"/>
<circle cx="475.4" cy="185.4" fill="#d2d2d2"/>
<circle cx="648.7" cy="191.3" fill="#888"/>
<circle cx="535.6" cy="190.7" fill="#aaa"/>
<circle cx="506.0" cy="190.6" fill="#777"/>
<circle cx="429.4" cy="190.1" fill="#999"/>
<circle cx="678.0" cy="191.9" fill="#999"/>
<circle cx="551.9" cy="189.3" fill="#888"/>
<circle cx="408.5" cy="188.8" fill="#aaa"/>
<circle cx="491.6" cy="190.0" fill="#888"/>
<circle cx="545.2" cy="190.6" fill="#888"/>
<circle cx="628.8" cy="190.7" fill="#aaa"/>
<circle cx="510.8" cy="190.6" fill="#888"/>
<circle cx="448.5" cy="191.5" fill="#999"/>
<circle cx="634.0" cy="184.5" fill="#d2d2d2"/>
<circle cx="618.8" cy="185.6" fill="#d2d2d2"/>
<circle cx="637.8" cy="190.3" fill="#999"/>
<circle cx="461.8" cy="189.6" fill="#999"/>
<circle cx="635.1" cy="188.3" fill="#666"/>
<circle cx="639.6" cy="189.9" fill="#666"/>
<circle cx="421.5" cy="189.1" fill="#888"/>
<circle cx="529.0" cy="187.3" fill="#d8d8d8"/>
<circle cx="647.1" cy="188.8" fill="#999"/>
<circle cx="565.0" cy="190.2" fill="#999"/>
<circle cx="392.0" cy="188.6" fill="#666"/>
<circle cx="507.6" cy="191.2" fill="#777"/>
<circle cx="401.5" cy="190.5" fill="#888"/>
<circle cx="668.5" cy="190.5" fill="#999"/>
<circle cx="480.9" cy="190.4" fill="#777"/>
<circle cx="441.1" cy="191.2" fill="#666"/>
<circle cx="622.4" cy="188.1" fill="#777"/>
<circle cx="510.1" cy="191.1" fill="#888"/>
<circle cx="530.2" cy="190.1" fill="#666"/>
<circle cx="579.8" cy="189.5" fill="#999"/>
<circle cx="425.1" cy="189.7" fill="#777"/>
<circle cx="512.2" cy="190.9" fill="#aaa"/>
<circle cx="466.5" cy="189.5" fill="#aaa"/>
<circle cx="674.0" cy="190.0" fill="#888"/>
<circle cx="433.6" cy="189.9" fill="#777"/>
<circle cx="448.1" cy="189.9" fill="#777"/>
<circle cx="452.7" cy="191.1" fill="#999"/>
<circle cx="468.7" cy="188.6" fill="#aaa"/>
<circle cx="425.6" cy="187.7" fill="#b4b4b4"/>
<circle cx="423.0" cy="191.4" fill="#aaa"/>
<circle cx="627.2" cy="190.3" fill="#666"/>
<circle cx="503.2" cy="189.0" fill="#666"/>
<circle cx="421.0" cy="188.0" fill="#aaa"/>
<circle cx="488.2" cy="189.1" fill="#666"/>
<circle cx="501.2" cy="190.0" fill="#666"/>
<circle cx="614.2" cy="188.7" fill="#888"/>
<circle cx="631.6" cy="188.7" fill="#aaa"/>
<circle cx="573.5" cy="188.0" fill="#d2d2d2"/>
<circle cx="567.0" cy="190.9" fill="#aaa"/>
<circle cx="533.8" cy="186.2" fill="#d2d2d2"/>
<circle cx="435.9" cy="188.7" fill="#666"/>
<circle cx="475.0" cy="186.5" fill="#c0c0c0"/>
<circle cx="436.7" cy="191.5" fill="#666"/>
<circle cx="469.6" cy="190.7" fill="#888"/>
<circle cx="587.3" cy="189.4" fill="#777"/>
<circle cx="427.0" cy="191.4" fill="#666"/>
<circle cx="562.2" cy="186.0" fill="#b4b4b4"/>
<circle cx="476.9" cy="190.8" fill="#aaa"/>
<circle cx="402.4" cy="188.8" fill="#999"/>
<circle cx="461.2" cy="191.8" fill="#777"/>
<circle cx="466.0" cy="191.4" fill="#aaa"/>
<circle cx="403.3" cy="188.7" fill="#666"/>
<circle cx="628.7" cy="189.1" fill="#999"/>
<circle cx="406.2" cy="190.6" fill="#aaa"/>
<circle cx="535.0" cy="191.0" fill="#aaa"/>
<circle cx="628.7" cy="188.5" fill="#888"/>
<circle cx="511.2" cy="189.9" fill="#666"/>
<circle cx="660.4" cy="191.4" fill="#777"/>
<circle cx="661.3" cy="186.3" fill="#d2d2d2"/>
<circle cx="582.0" cy="191.6" fill="#999"/>
<circle cx="425.5" cy="190.3" fill="#999"/>
<circle cx="565.2" cy="187.6" fill="#b4b4b4"/>
<circle cx="515.5" cy="191.5" fill="#777"/>
<circle cx="650.5" cy="189.6" fill="#aaa"/>
<circle cx="403.7" cy="190.4" fill="#666"/>
<circle cx="639.7" cy="190.1" fill="#666"/>
<circle cx="560.1" cy="190.8" fill="#888"/>
<circle cx="586.8" cy="189.5" fill="#888"/>
<circle cx="480.5" cy="190.7" fill="#777"/>
<circle cx="458.2" cy="185.1" fill="#e0e0e0"/>
<circle cx="486.3" cy="191.3" fill="#888"/>
<circle cx="547.0" cy="188.4" fill="#aaa"/>
<circle cx="575.4" cy="190.8" fill="#aaa"/>
<circle cx="555.4" cy="191.3" fill="#666"/>
<circle cx="419.6" cy="189.8" fill="#777"/>
<circle cx="669.3" cy="190.5" fill="#777"/>
<circle cx="520.6" cy="189.8" fill="#999"/>
<circle cx="594.8" cy="189.2" fill="#999"/>
<circle cx="399.7" cy="190.9" fill="#666"/>
<circle cx="493.9" cy="190.0" fill="#999"/>
<circle cx="412.6" cy="187.6" fill="#c0c0c0"/>
<circle cx="555.5" cy="190.8" fill="#888"/>
<circle cx="614.7" cy="191.4" fill="#666"/>
<circle cx="408.9" cy="190.5" fill="#888"/>
<circle cx="499.4" cy="189.6" fill="#999"/>
<circle cx="524.9" cy="191.2" fill="#888"/>
<circle cx="441.9" cy="190.3" fill="#777"/>
<circle cx="586.6" cy="191.2" fill="#666"/>
<circle cx="461.6" cy="187.8" fill="#d2d2d2"/>
<circle cx="429.5" cy="188.8" fill="#999"/>
<circle cx="663.9" cy="189.0" fill="#999"/>
<circle cx="445.2" cy="190.4" fill="#666"/>
<circle cx="670.8" cy="188.7" fill="#777"/>
<circle cx="552.1" cy="191.4" fill="#888"/>
<circle cx="617.2" cy="190.1" fill="#666"/>
<circle cx="392.5" cy="188.7" fill="#888"/>
<circle cx="544.6" cy="189.9" fill="#aaa"/>
<circle cx="566.7" cy="189.2" fill="#666"/>
<circle cx="443.9" cy="183.1" fill="#c0c0c0"/>
<circle cx="527.0" cy="188.9" fill="#888"/>
<circle cx="545.2" cy="189.0" fill="#777"/>
<circle cx="619.3" cy="188.8" fill="#aaa"/>
<circle cx="568.5" cy="191.2" fill="#777"/>
<circle cx="572.0" cy="191.3" fill="#aaa"/>
<circle cx="543.7" cy="191.4" fill="#999"/>
<circle cx="660.7" cy="189.0" fill="#aaa"/>
<circle cx="479.8" cy="189.8" fill="#888"/>
<circle cx="553.6" cy="188.6" fill="#777"/>
<circle cx="585.8" cy="188.9" fill="#777"/>
<circle cx="569.2" cy="189.5" fill="#777"/>
<circle cx="497.2" cy="188.7" fill="#999"/>
<circle cx="421.7" cy="190.4" fill="#999"/>
<circle cx="394.7" cy="191.3" fill="#aaa"/>
<circle cx="659.8" cy="185.9" fill="#d2d2d2"/>
<circle cx="440.1" cy="189.8" fill="#777"/>
<circle cx="605.0" cy="191.3" fill="#777"/>
<circle cx="424.8" cy="190.0" fill="#888"/>
<circle cx="458.8" cy="191.3" fill="#777"/>
<circle cx="603.0" cy="191.2" fill="#777"/>
<circle cx="524.8" cy="191.6" fill="#888"/>
<circle cx="422.1" cy="190.5" fill="#aaa"/>
<circle cx="429.2" cy="189.9" fill="#777"/>
<circle cx="524.3" cy="189.0" fill="#888"/>
<circle cx="621.6" cy="187.6" fill="#c0c0c0"/>
<circle cx="576.3" cy="189.0" fill="#888"/>
<circle cx="482.3" cy="191.2" fill="#666"/>
<circle cx="536.1" cy="191.1" fill="#888"/>
<circle cx="533.3" cy="186.3" fill="#b4b4b4"/>
<circle cx="574.9" cy="187.8" fill="#c0c0c0"/>
<circle cx="404.2" cy="188.9" fill="#888"/>
<circle cx="474.4" cy="189.1" fill="#999"/>
<circle cx="551.9" cy="188.8" fill="#999"/>
<circle cx="623.4" cy="190.0" fill="#888"/>
<circle cx="596.6" cy="188.8" fill="#888"/>
<circle cx="405.2" cy="189.4" fill="#999"/>
<circle cx="447.5" cy="189.7" fill="#777"/>
<circle cx="655.6" cy="190.2" fill="#888"/>
<circle cx="676.4" cy="189.3" fill="#888"/>
<circle cx="605.7" cy="189.9" fill="#aaa"/>
<circle cx="588.8" cy="190.0" fill="#777"/>
<circle cx="489.2" cy="181.8" fill="#e0e0e0"/>
<circle cx="449.7" cy="181.4" fill="#d8d8d8"/>
<circle cx="503.3" cy="191.5" fill="#777"/>
<circle cx="430.9" cy="188.5" fill="#999"/>
<circle cx="576.4" cy="191.2" fill="#aaa"/>
<circle cx="655.6" cy="191.2" fill="#aaa"/>
<circle cx="614.3" cy="189.3" fill="#777"/>
<circle cx="615.1" cy="190.1" fill="#666"/>
<circle cx="523.2" cy="185.8" fill="#e0e0e0"/>
<circle cx="479.1" cy="188.0" fill="#666"/>
<circle cx="643.9" cy="188.0" fill="#b4b4b4"/>
<circle cx="612.0" cy="187.8" fill="#c0c0c0"/>
<circle cx="516.1" cy="187.3" fill="#b4b4b4"/>
<circle cx="514.8" cy="188.6" fill="#888"/>
<circle cx="600.8" cy="184.0" fill="#b4b4b4"/>
<circle cx="515.7" cy="190.9" fill="#999"/>
<circle cx="446.7" cy="185.6" fill="#e0e0e0"/>
<circle cx="622.6" cy="190.7" fill="#888"/>
<circle cx="543.2" cy="191.0" fill="#999"/>
<circle cx="572.4" cy="188.8" fill="#aaa"/>
<circle cx="466.5" cy="191.5" fill="#999"/>
<circle cx="678.8" cy="190.8" fill="#aaa"/>
<circle cx="662.5" cy="191.2" fill="#888"/>
<circle cx="489.3" cy="191.5" fill="#888"/>
<circle cx="589.2" cy="190.9" fill="#999"/>
<circle cx="577.9" cy="189.0" fill="#666"/>
<circle cx="496.0" cy="190.6" fill="#888"/>
<circle cx="539.4" cy="190.9" fill="#666"/>
<circle cx="638.0" cy="190.3" fill="#aaa"/>
<circle cx="406.0" cy="191.0" fill="#777"/>
<circle cx="629.4" cy="186.7" fill="#b4b4b4"/>
<circle cx="645.5" cy="190.5" fill="#888"/>
<circle cx="642.9" cy="189.1" fill="#999"/>
<circle cx="428.7" cy="189.6" fill="#666"/>
<circle cx="665.7" cy="189.7" fill="#aaa"/>
<circle cx="557.5" cy="190.2" fill="#666"/>
<circle cx="597.3" cy="189.7" fill="#777"/>
<circle cx="540.1" cy="190.8" fill="#999"/>
<circle cx="596.3" cy="191.7" fill="#aaa"/>
<circle cx="486.1" cy="184.5" fill="#d8d8d8"/>
<circle cx="523.7" cy="190.0" fill="#aaa"/>
<circle cx="672.5" cy="186.1" fill="#c0c0c0"/>
<circle cx="419.1" cy="189.3" fill="#777"/>
<circle cx="648.7" cy="190.0" fill="#888"/>
<circle cx="569.0" cy="187.0" fill="#cccccc"/>
<circle cx="507.7" cy="190.9" fill="#aaa"/>
<circle cx="576.4" cy="191.8" fill="#888"/>
<circle cx="530.9" cy="189.1" fill="#888"/>
<circle cx="631.4" cy="188.4" fill="#999"/>
<circle cx="491.8" cy="185.5" fill="#d2d2d2"/>
<circle cx="573.3" cy="190.6" fill="#888"/>
<circle cx="526.1" cy="191.5" fill="#aaa"/>
<circle cx="647.3" cy="189.0" fill="#888"/>
<circle cx="634.9" cy="188.7" fill="#aaa"/>
<circle cx="578.5" cy="191.5" fill="#666"/>
<circle cx="531.1" cy="191.1" fill="#888"/>
<circle cx="395.7" cy="190.8" fill="#aaa"/>
<circle cx="522.7" cy="191.1" fill="#777"/>
<circle cx="598.1" cy="184.5" fill="#cccccc"/>
<circle cx="661.9" cy="191.8" fill="#888"/>
<circle cx="531.5" cy="191.0" fill="#aaa"/>
<circle cx="582.2" cy="184.9" fill="#d8d8d8"/>
<circle cx="625.4" cy="189.1" fill="#aaa"/>
<circle cx="465.4" cy="190.9" fill="#999"/>
<circle cx="601.7" cy="189.3" fill="#aaa"/>
<circle cx="670.9" cy="189.6" fill="#666"/>
<circle cx="444.1" cy="188.1" fill="#aaa"/>
<circle cx="606.2" cy="190.7" fill="#888"/>
<circle cx="424.6" cy="189.0" fill="#777"/>
<circle cx="435.2" cy="190.0" fill="#999"/>
<circle cx="588.0" cy="191.7" fill="#666"/>
<circle cx="468.2" cy="191.1" fill="#777"/>
<circle cx="571.3" cy="189.5" fill="#888"/>
<circle cx="594.9" cy="186.4" fill="#cccccc"/>
<circle cx="597.2" cy="189.9" fill="#aaa"/>
<circle cx="623.0" cy="190.7" fill="#888"/>
<circle cx="603.2" cy="190.4" fill="#777"/>
<circle cx="575.0" cy="189.5" fill="#666"/>
<circle cx="583.8" cy="188.7" fill="#999"/>
<circle cx="508.4" cy="189.7" fill="#888"/>
<circle cx="418.2" cy="190.3" fill="#aaa"/>
<circle cx="417.4" cy="190.5" fill="#777"/>
<circle cx="526.5" cy="189.8" fill="#888"/>
<circle cx="538.3" cy="191.2" fill="#aaa"/>
<circle cx="545.2" cy="187.5" fill="#d8d8d8"/>
<circle cx="581.5" cy="189.1" fill="#aaa"/>
<circle cx="644.5" cy="190.6" fill="#999"/>
<circle cx="415.0" cy="188.5" fill="#888"/>
<circle cx="630.4" cy="190.3" fill="#999"/>
<circle cx="612.3" cy="191.0" fill="#777"/>
<circle cx="426.7" cy="189.2" fill="#666"/>
<circle cx="399.3" cy="188.9" fill="#666"/>
<circle cx="535.4" cy="186.2" fill="#d8d8d8"/>
<circle cx="602.7" cy="189.3" fill="#777"/>
<circle cx="499.9" cy="189.5" fill="#666"/>
<circle cx="552.4" cy="190.0" fill="#888"/>
<circle cx="629.0" cy="186.2" fill="#e0e0e0"/>
<circle cx="451.6" cy="190.4" fill="#aaa"/>
<circle cx="519.4" cy="189.6" fill="#777"/>
<circle cx="469.7" cy="191.7" fill="#888"/>
<circle cx="613.1" cy="190.7" fill="#aaa"/>
<circle cx="557.5" cy="190.0" fill="#999"/>
<circle cx="492.2" cy="189.3" fill="#666"/>
<circle cx="679.1" cy="190.9" fill="#aaa"/>
<circle cx="466.6" cy="187.6" fill="#e0e0e0"/>
<circle cx="641.8" cy="191.1" fill="#888"/>
<circle cx="420.6" cy="188.6" fill="#666"/>
<circle cx="400.4" cy="190.0" fill="#999"/>
<circle cx="392.3" cy="189.3" fill="#888"/>
<circle cx="435.6" cy="188.4" fill="#aaa"/>
<circle cx="644.2" cy="188.8" fill="#aaa"/>
<circle cx="610.7" cy="190.0" fill="#666"/>
<circle cx="541.8" cy="191.6" fill="#777"/>
<circle cx="399.9" cy="189.8" fill="#999"/>
<circle cx="641.1" cy="189.4" fill="#999"/>
<circle cx="440.9" cy="189.2" fill="#777"/>
<circle cx="557.0" cy="186.1" fill="#d2d2d2"/>
<circle cx="561.7" cy="190.8" fill="#777"/>
<circle cx="445.2" cy="190.4" fill="#999"/>
<circle cx="548.3" cy="190.6" fill="#aaa"/>
<circle cx="603.5" cy="189.8" fill="#888"/>
<circle cx="664.6" cy="188.6" fill="#999"/>
<circle cx="636.4" cy="191.7" fill="#777"/>
<circle cx="451.9" cy="190.6" fill="#999"/>
<circle cx="554.8" cy="189.7" fill="#888"/>
<circle cx="583.7" cy="189.2" fill="#999"/>
<circle cx="632.6" cy="186.9" fill="#b4b4b4"/>
<circle cx="597.1" cy="189.0" fill="#888"/>
<circle cx="475.6" cy="190.8" fill="#999"/>
<circle cx="457.4" cy="186.0" fill="#c0c0c0"/>
<circle cx="532.1" cy="190.7" fill="#666"/>
<circle cx="550.8" cy="186.0" fill="#cccccc"/>
<circle cx="606.7" cy="190.0" fill="#999"/>
<circle cx="622.7" cy="186.9" fill="#d8d8d8"/>
<circle cx="425.4" cy="191.5" fill="#999"/>
<circle cx="496.0" cy="189.8" fill="#aaa"/>
<circle cx="677.4" cy="189.8" fill="#aaa"/>
<circle cx="492.6" cy="185.2" fill="#d2d2d2"/>
<circle cx="528.5" cy="190.7" fill="#888"/>
<circle cx="568.3" cy="190.6" fill="#777"/>
<circle cx="591.9" cy="190.8" fill="#888"/>
<circle cx="536.5" cy="189.8" fill="#888"/>
<circle cx="454.2" cy="189.9" fill="#aaa"/>
<circle cx="493.7" cy="189.8" fill="#666"/>
<circle cx="502.3" cy="191.2" fill="#888"/>
<circle cx="556.9" cy="189.7" fill="#888"/>
<circle cx="455.8" cy="188.6" fill="#999"/>
<circle cx="478.3" cy="190.8" fill="#888"/>
<circle cx="560.4" cy="189.1" fill="#888"/>
<circle cx="408.2" cy="188.6" fill="#666"/>
<circle cx="644.0" cy="189.4" fill="#999"/>
<circle cx="393.7" cy="191.1" fill="#888"/>
<circle cx="619.2" cy="191.1" fill="#777"/>
<circle cx="501.6" cy="188.7" fill="#999"/>
<circle cx="401.8" cy="187.7" fill="#d8d8d8"/>
<circle cx="595.7" cy="189.1" fill="#777"/>
<circle cx="614.8" cy="190.7" fill="#888"/>
<circle cx="395.1" cy="190.8" fill="#777"/>
<circle cx="672.5" cy="191.3" fill="#777"/>
<circle cx="603.9" cy="190.7" fill="#888"/>
<circle cx="436.3" cy="191.0" fill="#999"/>
<circle cx="528.8" cy="186.5" fill="#c0c0c0"/>
<circle cx="536.1" cy="190.4" fill="#aaa"/>
<circle cx="594.1" cy="189.3" fill="#aaa"/>
<circle cx="610.2" cy="191.2" fill="#666"/>
<circle cx="412.7" cy="190.2" fill="#aaa"/>
<circle cx="578.9" cy="190.8" fill="#666"/>
<circle cx="460.9" cy="182.4" fill="#b4b4b4"/>
<circle cx="555.0" cy="189.8" fill="#777"/>
<circle cx="607.9" cy="188.9" fill="#777"/>
<circle cx="619.0" cy="189.3" fill="#666"/>
<circle cx="670.3" cy="189.9" fill="#aaa"/>
<circle cx="463.6" cy="187.9" fill="#d2d2d2"/>
<circle cx="563.0" cy="186.8" fill="#b4b4b4"/>
<circle cx="510.6" cy="191.4" fill="#999"/>
<circle cx="667.0" cy="188.6" fill="#777"/>
<circle cx="511.4" cy="190.8" fill="#aaa"/>
<circle cx="549.3" cy="190.4" fill="#aaa"/>
<circle cx="584.8" cy="190.0" fill="#999"/>
<circle cx="479.9" cy="191.0" fill="#aaa"/>
<circle cx="565.6" cy="191.2" fill="#aaa"/>
<circle cx="420.2" cy="189.0" fill="#777"/>
<circle cx="487.6" cy="183.0" fill="#cccccc"/>
<circle cx="464.2" cy="185.5" fill="#b4b4b4"/>
<circle cx="605.6" cy="191.3" fill="#666"/>
<circle cx="654.6" cy="187.0" fill="#cccccc"/>
<circle cx="609.4" cy="188.8" fill="#666"/>
<circle cx="561.6" cy="187.1" fill="#b4b4b4"/>
<circle cx="587.7" cy="190.5" fill="#999"/>
<circle cx="402.7" cy="189.9" fill="#666"/>
<circle cx="653.9" cy="189.1" fill="#777"/>
<circle cx="459.3" cy="189.6" fill="#666"/>
<circle cx="552.7" cy="191.0" fill="#777"/>
<circle cx="444.7" cy="191.1" fill="#999"/>
<circle cx="654.9" cy="189.9" fill="#666"/>
<circle cx="504.4" cy="190.3" fill="#777"/>
<circle cx="553.0" cy="189.9" fill="#aaa"/>
<circle cx="644.1" cy="190.5" fill="#aaa"/>
<circle cx="504.8" cy="189.4" fill="#777"/>
<circle cx="675.3" cy="189.3" fill="#aaa"/>
<circle cx="446.1" cy="191.6" fill="#999"/>
<circle cx="489.4" cy="191.1" fill="#aaa"/>
<circle cx="539.0" cy="188.9" fill="#aaa"/>
<circle cx="411.5" cy="188.8" fill="#777"/>
<circle cx="472.6" cy="191.6" fill="#888"/>
<circle cx="666.1" cy="191.3" fill="#777"/>
<circle cx="393.8" cy="190.6" fill="#777"/>
<circle cx="537.7" cy="189.7" fill="#999"/>
<circle cx="427.6" cy="188.8" fill="#666"/>
<circle cx="636.3" cy="190.7" fill="#999"/>
<circle cx="398.8" cy="190.9" fill="#666"/>
<circle cx="472.3" cy="187.1" fill="#e0e0e0"/>
<circle cx="446.0" cy="185.7" fill="#cccccc"/>
<circle cx="636.7" cy="188.8" fill="#aaa"/>
<circle cx="599.8" cy="188.5" fill="#aaa"/>
<circle cx="677.5" cy="190.0" fill="#888"/>
<circle cx="521.5" cy="191.5" fill="#666"/>
<circle cx="520.1" cy="188.8" fill="#888"/>
<circle cx="655.5" cy="191.4" fill="#777"/>
<circle cx="471.8" cy="188.5" fill="#999"/>
<circle cx="534.4" cy="191.6" fill="#999"/>
<circle cx="418.3" cy="190.6" fill="#888"/>
<circle cx="639.1" cy="185.7" fill="#e0e0e0"/>
<circle cx="665.5" cy="188.7" fill="#777"/>
<circle cx="452.6" cy="190.1" fill="#666"/>
<circle cx="484.3" cy="190.0" fill="#999"/>
<circle cx="580.8" cy="190.8" fill="#666"/>
<circle cx="539.0" cy="190.7" fill="#aaa"/>
<circle cx="575.2" cy="189.7" fill="#666"/>
<circle cx="483.5" cy="186.2" fill="#c0c0c0"/>
<circle cx="628.8" cy="191.8" fill="#888"/>
<circle cx="499.7" cy="190.7" fill="#999"/>
<circle cx="658.7" cy="186.1" fill="#c0c0c0"/>
<circle cx="613.0" cy="185.7" fill="#cccccc"/>
<circle cx="442.4" cy="189.7" fill="#666"/>
<circle cx="628.6" cy="188.9" fill="#666"/>
<circle cx="397.2" cy="191.3" fill="#999"/>
<circle cx="402.3" cy="191.5" fill="#999"/>
<circle cx="593.2" cy="188.9" fill="#666"/>
<circle cx="481.4" cy="190.5" fill="#999"/>
<circle cx="600.5" cy="185.7" fill="#b4b4b4"/>
<circle cx="678.7" cy="191.3" fill="#666"/>
<circle cx="567.0" cy="191.0" fill="#888"/>
<circle cx="487.0" cy="190.0" fill="#777"/>
<circle cx="440.5" cy="191.3" fill="#777"/>
<circle cx="673.4" cy="191.4" fill="#666"/>
<circle cx="558.7" cy="187.8" fill="#d8d8d8"/>
<circle cx="608.3" cy="189.3" fill="#999"/>
<circle cx="592.6" cy="191.4" fill="#999"/>
<circle cx="508.4" cy="184.6" fill="#d2d2d2"/>
<circle cx="525.2" cy="189.6" fill="#666"/>
<circle cx="555.5" cy="190.9" fill="#aaa"/>
<circle cx="589.4" cy="189.9" fill="#777"/>
<circle cx="416.2" cy="189.9" fill="#777"/>
<circle cx="669.4" cy="189.0" fill="#666"/>
<circle cx="571.0" cy="189.3" fill="#666"/>
<circle cx="414.2" cy="189.8" fill="#888"/>
<circle cx="403.2" cy="188.6" fill="#999"/>
<circle cx="517.2" cy="191.7" fill="#777"/>
<circle cx="505.7" cy="190.7" fill="#666"/>
<circle cx="538.9" cy="190.3" fill="#666"/>
<circle cx="660.2" cy="189.3" fill="#666"/>
<circle cx="490.1" cy="185.8" fill="#d2d2d2"/>
<circle cx="560.4" cy="186.9" fill="#d8d8d8"/>
<circle cx="645.0" cy="187.5" fill="#c0c0c0"/>
<circle cx="606.2" cy="186.9" fill="#d2d2d2"/>
<circle cx="527.7" cy="191.1" fill="#888"/>
<circle cx="486.3" cy="190.5" fill="#666"/>
<circle cx="395.4" cy="191.2" fill="#888"/>
<circle cx="638.0" cy="189.8" fill="#666"/>
<circle cx="393.6" cy="190.2" fill="#666"/>
<circle cx="542.1" cy="188.9" fill="#999"/>
<circle cx="523.8" cy="189.3" fill="#777"/>
<circle cx="490.3" cy="188.9" fill="#777"/>
<circle cx="444.1" cy="188.6" fill="#999"/>
<circle cx="434.7" cy="189.9" fill="#aaa"/>
<circle cx="588.6" cy="190.9" fill="#666"/>
<circle cx="544.1" cy="190.9" fill="#888"/>
<circle cx="630.4" cy="185.8" fill="#d8d8d8"/>
<circle cx="478.1" cy="191.3" fill="#888"/>
<circle cx="565.7" cy="191.5" fill="#aaa"/>
<circle cx="641.8" cy="189.1" fill="#aaa"/>
<circle cx="620.6" cy="186.3" fill="#d2d2d2"/>
<circle cx="485.9" cy="189.1" fill="#777"/>
<circle cx="432.7" cy="187.4" fill="#b4b4b4"/>
<circle cx="485.3" cy="190.9" fill="#999"/>
<circle cx="640.1" cy="187.8" fill="#cccccc"/>
<circle cx="429.0" cy="190.2" fill="#aaa"/>
<circle cx="524.2" cy="188.2" fill="#777"/>
<circle cx="582.6" cy="191.6" fill="#999"/>
<circle cx="564.3" cy="190.3" fill="#aaa"/>
<circle cx="450.5" cy="185.4" fill="#b4b4b4"/>
<circle cx="563.8" cy="185.5" fill="#d2d2d2"/>
<circle cx="473.7" cy="186.7" fill="#d8d8d8"/>
<circle cx="601.8" cy="183.7" fill="#c0c0c0"/>
<circle cx="539.0" cy="191.1" fill="#aaa"/>
<circle cx="441.4" cy="187.4" fill="#d2d2d2"/>
<circle cx="474.6" cy="188.8" fill="#aaa"/>
<circle cx="675.2" cy="190.2" fill="#999"/>
<circle cx="588.0" cy="188.8" fill="#666"/>
<circle cx="426.5" cy="186.7" fill="#b4b4b4"/>
<circle cx="564.4" cy="190.7" fill="#777"/>
</g>
<rect x="66.0" y="150" width="2.2" height="45" fill="#f3eaa8" opacity="0.75"/>
<rect x="92.5" y="150" width="2.2" height="45" fill="#c4eed9" opacity="0.75"/>
<rect x="170.7" y="150" width="2.2" height="45" fill="#e8c2c2" opacity="0.75"/>
<rect x="202.2" y="150" width="2.2" height="45" fill="#f2dcd6" opacity="0.75"/>
<rect x="278.8" y="150" width="2.2" height="45" fill="#c0d6f0" opacity="0.75"/>
<rect x="451.0" y="150" width="2.2" height="45" fill="#dccbec" opacity="0.75"/>
<rect x="463.8" y="150" width="2.2" height="45" fill="#f3eaa8" opacity="0.75"/>
<rect x="487.4" y="150" width="2.2" height="45" fill="#e8c2c2" opacity="0.75"/>
<rect x="505.1" y="150" width="2.2" height="45" fill="#c4eed9" opacity="0.75"/>
<rect x="600.2" y="150" width="2.2" height="45" fill="#f2dcd6" opacity="0.75"/>
<rect x="606.7" y="150" width="2.2" height="45" fill="#c0d6f0" opacity="0.75"/>
<circle cx="64.5" cy="126.9" fill="#f2d448"/>
<circle cx="64.6" cy="128.5" fill="#eecb3a"/>
<circle cx="64.4" cy="127.9" fill="#e8c530"/>
<circle cx="63.8" cy="131.7" fill="#e8c530"/>
<circle cx="64.4" cy="130.6" fill="#eecb3a"/>
<circle cx="65.7" cy="133.3" fill="#eecb3a"/>
<circle cx="68.3" cy="134.1" fill="#f2d448"/>
<circle cx="65.0" cy="135.6" fill="#e8c530"/>
<circle cx="66.3" cy="139.3" fill="#eecb3a"/>
<circle cx="66.3" cy="140.5" fill="#eecb3a"/>
<circle cx="67.0" cy="142.6" fill="#eecb3a"/>
<circle cx="65.4" cy="141.8" fill="#eecb3a"/>
<circle cx="69.1" cy="143.6" fill="#f6dc60"/>
<circle cx="65.6" cy="145.5" fill="#eecb3a"/>
<circle cx="66.1" cy="148.2" fill="#f2d448"/>
<circle cx="67.5" cy="149.1" fill="#f6dc60"/>
<circle cx="67.4" cy="149.7" fill="#f6dc60"/>
<circle cx="66.7" cy="150.9" fill="#e8c530"/>
<circle cx="66.1" cy="154.8" fill="#f2d448"/>
<circle cx="65.7" cy="156.2" fill="#f6dc60"/>
<circle cx="66.4" cy="157.3" fill="#f6dc60"/>
<circle cx="66.0" cy="157.5" fill="#f2d448"/>
<circle cx="64.1" cy="159.8" fill="#eecb3a"/>
<circle cx="66.8" cy="159.8" fill="#eecb3a"/>
<circle cx="69.2" cy="162.0" fill="#f6dc60"/>
<circle cx="64.8" cy="165.2" fill="#f6dc60"/>
<circle cx="66.3" cy="177.0" fill="#d8d2a8"/>
<circle cx="65.5" cy="177.9" fill="#d8d2a8"/>
<circle cx="66.4" cy="180.9" fill="#d8d2a8"/>
<circle cx="65.9" cy="163.8" fill="#d8d2a8"/>
<path d="M66.8,112.2L69.8,115.2L66.8,118.2L63.8,115.2Z" fill="#f0cc30" stroke="#222" stroke-width="0.5"/>
<circle cx="93.5" cy="167.8" fill="#34a85c"/>
<circle cx="98.6" cy="150.4" fill="#3cb464"/>
<circle cx="94.6" cy="147.8" fill="#3cb464"/>
<circle cx="97.7" cy="159.9" fill="#34a85c"/>
<circle cx="97.1" cy="144.3" fill="#4cc47a"/>
<circle cx="95.5" cy="143.9" fill="#34a85c"/>
<circle cx="96.9" cy="154.4" fill="#3cb464"/>
<circle cx="92.9" cy="169.4" fill="#3cb464"/>
<circle cx="96.3" cy="148.6" fill="#42c070"/>
<circle cx="93.2" cy="160.0" fill="#4cc47a"/>
<circle cx="97.8" cy="147.0" fill="#4cc47a"/>
<circle cx="97.3" cy="151.0" fill="#4cc47a"/>
<circle cx="98.8" cy="147.6" fill="#4cc47a"/>
<circle cx="93.7" cy="168.9" fill="#34a85c"/>
<circle cx="93.3" cy="153.9" fill="#42c070"/>
<circle cx="95.8" cy="146.0" fill="#42c070"/>
<circle cx="93.3" cy="152.1" fill="#3cb464"/>
<circle cx="93.2" cy="156.3" fill="#34a85c"/>
<circle cx="99.9" cy="152.6" fill="#3cb464"/>
<circle cx="97.4" cy="163.5" fill="#34a85c"/>
<circle cx="91.8" cy="165.6" fill="#34a85c"/>
<circle cx="94.0" cy="163.8" fill="#34a85c"/>
<circle cx="97.9" cy="147.8" fill="#3cb464"/>
<circle cx="94.8" cy="155.8" fill="#34a85c"/>
<circle cx="94.5" cy="150.8" fill="#34a85c"/>
<circle cx="97.4" cy="152.4" fill="#34a85c"/>
<circle cx="95.1" cy="152.5" fill="#42c070"/>
<circle cx="90.4" cy="166.5" fill="#4cc47a"/>
<circle cx="102.2" cy="157.0" fill="#42c070"/>
<circle cx="94.5" cy="148.4" fill="#34a85c"/>
<circle cx="98.3" cy="161.7" fill="#4cc47a"/>
<circle cx="94.3" cy="147.6" fill="#4cc47a"/>
<circle cx="94.4" cy="166.4" fill="#34a85c"/>
<circle cx="98.7" cy="162.5" fill="#3cb464"/>
<circle cx="96.7" cy="159.8" fill="#42c070"/>
<circle cx="98.9" cy="148.9" fill="#42c070"/>
<circle cx="95.0" cy="155.7" fill="#42c070"/>
<circle cx="94.9" cy="147.5" fill="#42c070"/>
<circle cx="100.9" cy="156.0" fill="#3cb464"/>
<circle cx="100.0" cy="154.2" fill="#34a85c"/>
<circle cx="100.5" cy="142.5" fill="#4cc47a"/>
<circle cx="103.0" cy="150.0" fill="#3cb464"/>
<circle cx="102.0" cy="157.0" fill="#42c070"/>
<circle cx="88.0" cy="147.0" fill="#42c070"/>
<circle cx="90.5" cy="150.5" fill="#34a85c"/>
<path d="M92.9,135.2L95.9,138.2L92.9,141.2L89.9,138.2Z" fill="#3cb464" stroke="#222" stroke-width="0.5"/>
<circle cx="171.0" cy="111.0" fill="#9a1e1e"/>
<circle cx="173.2" cy="133.5" fill="#c04444"/>
<circle cx="171.9" cy="132.6" fill="#c04444"/>
<circle cx="172.7" cy="118.8" fill="#9a1e1e"/>
<circle cx="171.0" cy="125.2" fill="#b83838"/>
<circle cx="174.4" cy="132.3" fill="#b83838"/>
<circle cx="170.1" cy="121.6" fill="#9a1e1e"/>
<circle cx="171.4" cy="114.7" fill="#a82424"/>
<circle cx="171.0" cy="121.0" fill="#8c1a1a"/>
<circle cx="172.5" cy="126.8" fill="#b83838"/>
<circle cx="171.3" cy="132.4" fill="#b83838"/>
<circle cx="170.7" cy="125.7" fill="#c04444"/>
<circle cx="170.5" cy="125.0" fill="#c04444"/>
<circle cx="175.8" cy="120.8" fill="#9a1e1e"/>
<circle cx="170.1" cy="136.4" fill="#c04444"/>
<circle cx="172.4" cy="120.9" fill="#8c1a1a"/>
<circle cx="172.0" cy="126.5" fill="#b83838"/>
<circle cx="177.6" cy="117.5" fill="#8c1a1a"/>
<circle cx="174.5" cy="119.3" fill="#9a1e1e"/>
<circle cx="172.1" cy="114.7" fill="#8c1a1a"/>
<circle cx="170.8" cy="114.2" fill="#9a1e1e"/>
<circle cx="170.9" cy="112.0" fill="#8c1a1a"/>
<circle cx="174.6" cy="132.5" fill="#b83838"/>
<circle cx="172.5" cy="117.3" fill="#9a1e1e"/>
<circle cx="172.3" cy="131.3" fill="#b02c2c"/>
<circle cx="173.8" cy="129.8" fill="#b83838"/>
<circle cx="170.6" cy="118.6" fill="#a82424"/>
<circle cx="170.9" cy="133.5" fill="#c04444"/>
<circle cx="173.3" cy="134.3" fill="#b83838"/>
<circle cx="172.4" cy="124.9" fill="#b83838"/>
<circle cx="172.2" cy="127.0" fill="#b83838"/>
<circle cx="171.9" cy="120.4" fill="#a82424"/>
<circle cx="172.4" cy="132.1" fill="#c04444"/>
<circle cx="172.4" cy="122.8" fill="#b02c2c"/>
<circle cx="174.4" cy="137.2" fill="#c85858"/>
<circle cx="170.9" cy="145.9" fill="#b84040"/>
<circle cx="171.8" cy="144.2" fill="#c85858"/>
<circle cx="169.8" cy="144.1" fill="#b84040"/>
<circle cx="173.3" cy="141.4" fill="#c04848"/>
<circle cx="171.4" cy="141.6" fill="#c04848"/>
<circle cx="171.8" cy="141.3" fill="#c85858"/>
<circle cx="170.5" cy="150.7" fill="#c04848"/>
<circle cx="174.1" cy="150.3" fill="#c85858"/>
<circle cx="175.2" cy="145.1" fill="#c85858"/>
<circle cx="176.5" cy="146.0" fill="#c88888"/>
<circle cx="178.0" cy="149.0" fill="#c09090"/>
<circle cx="170.5" cy="156.0" fill="#c85050"/>
<circle cx="169.0" cy="160.0" fill="#d06060"/>
<circle cx="176.0" cy="159.0" fill="#c08888"/>
<circle cx="178.0" cy="162.0" fill="#b89090"/>
<circle cx="175.0" cy="165.0" fill="#c89898"/>
<circle cx="171.0" cy="167.0" fill="#d07070"/>
<circle cx="177.0" cy="168.0" fill="#c0a0a0"/>
<path d="M171.1,107.4L174.1,110.4L171.1,113.4L168.1,110.4Z" fill="#8c1414" stroke="#222" stroke-width="0.5"/>
<circle cx="203.5" cy="124.0" fill="#e8a080"/>
<circle cx="205.0" cy="127.0" fill="#e8a080"/>
<circle cx="202.0" cy="130.0" fill="#f0b090"/>
<circle cx="204.0" cy="133.0" fill="#e09878"/>
<circle cx="201.5" cy="136.0" fill="#e8a080"/>
<circle cx="203.0" cy="138.5" fill="#e8a080"/>
<circle cx="205.0" cy="141.0" fill="#e8a080"/>
<circle cx="200.5" cy="145.0" fill="#e09878"/>
<circle cx="201.0" cy="150.0" fill="#eaa888"/>
<circle cx="203.0" cy="152.0" fill="#e8a080"/>
<circle cx="205.5" cy="131.0" fill="#eaa888"/>
<path d="M203.3,116.1L206.3,119.1L203.3,122.1L200.3,119.1Z" fill="#eaa080" stroke="#222" stroke-width="0.5"/>
<circle cx="277.5" cy="143.0" fill="#4a7fd0"/>
<circle cx="280.0" cy="145.5" fill="#4a7fd0"/>
<circle cx="282.0" cy="157.0" fill="#4a7fd0"/>
<circle cx="283.0" cy="159.5" fill="#4a7fd0"/>
<circle cx="281.5" cy="158.0" fill="#4a7fd0"/>
<path d="M279.5,136.0L282.5,139.0L279.5,142.0L276.5,139.0Z" fill="#4a7fd0" stroke="#222" stroke-width="0.5"/>
<path d="M488.5,81.7L491.4,84.6L488.5,87.5L485.6,84.6Z" fill="#9a1a1a" stroke="#222" stroke-width="0.5"/>
<circle cx="489.7" cy="89.5" fill="#a01c1c"/>
<circle cx="491.8" cy="90.8" fill="#a01c1c"/>
<circle cx="490.8" cy="90.2" fill="#901818"/>
<circle cx="481.8" cy="103.4" fill="#c07070"/>
<circle cx="478.5" cy="108.7" fill="#c87474"/>
<circle cx="480.0" cy="112.0" fill="#c87474"/>
<circle cx="481.5" cy="114.5" fill="#c87474"/>
<circle cx="478.5" cy="116.7" fill="#b86464"/>
<circle cx="487.0" cy="116.7" fill="#b87878"/>
<circle cx="490.0" cy="116.0" fill="#c87474"/>
<circle cx="490.0" cy="122.8" fill="#b86464"/>
<circle cx="502.0" cy="110.8" fill="#c07070"/>
<circle cx="499.6" cy="114.9" fill="#c07070"/>
<circle cx="497.4" cy="109.8" fill="#b86464"/>
<circle cx="498.5" cy="111.5" fill="#c07070"/>
<circle cx="496.9" cy="108.2" fill="#b87878"/>
<circle cx="492.3" cy="108.4" fill="#b87878"/>
<circle cx="499.3" cy="113.8" fill="#d08888"/>
<circle cx="495.5" cy="107.3" fill="#d08888"/>
<circle cx="499.9" cy="109.7" fill="#c87474"/>
<circle cx="498.7" cy="113.2" fill="#b87878"/>
<circle cx="494.4" cy="107.9" fill="#b87878"/>
<circle cx="494.9" cy="110.2" fill="#c87474"/>
<circle cx="494.7" cy="110.1" fill="#c0a0a0"/>
<circle cx="495.2" cy="120.3" fill="#c0a0a0"/>
<circle cx="497.3" cy="114.4" fill="#b89898"/>
<circle cx="495.7" cy="112.2" fill="#c87474"/>
<circle cx="496.2" cy="109.8" fill="#b89898"/>
<circle cx="503.2" cy="112.6" fill="#b87878"/>
<circle cx="495.0" cy="109.6" fill="#c07070"/>
<circle cx="494.2" cy="111.4" fill="#c0a0a0"/>
<circle cx="493.1" cy="110.2" fill="#c07070"/>
<circle cx="498.7" cy="111.7" fill="#c07070"/>
<circle cx="496.0" cy="108.7" fill="#c87474"/>
<circle cx="503.1" cy="114.9" fill="#c07070"/>
<circle cx="497.8" cy="109.3" fill="#b87878"/>
<circle cx="492.7" cy="115.7" fill="#d08888"/>
<circle cx="494.8" cy="115.2" fill="#d08888"/>
<circle cx="497.9" cy="107.7" fill="#b89898"/>
<circle cx="503.0" cy="103.0" fill="#b8b0b0"/>
<circle cx="505.0" cy="106.0" fill="#b8b0b0"/>
<circle cx="507.0" cy="109.0" fill="#b0b8b0"/>
<circle cx="508.0" cy="113.0" fill="#b8b0b0"/>
<circle cx="505.0" cy="124.0" fill="#a8b8a8"/>
<circle cx="509.0" cy="126.0" fill="#c0a8a8"/>
<circle cx="504.0" cy="131.0" fill="#c0a8a8"/>
<circle cx="507.0" cy="134.0" fill="#b0b8b0"/>
<circle cx="510.0" cy="129.0" fill="#a8b8a8"/>
<circle cx="506.0" cy="139.0" fill="#a8b8a8"/>
<circle cx="509.0" cy="143.0" fill="#a8b8a8"/>
<circle cx="503.0" cy="146.0" fill="#a8b8a8"/>
<circle cx="511.0" cy="137.0" fill="#c0a8a8"/>
<circle cx="482.3" cy="144.7" fill="#c07070"/>
<circle cx="483.1" cy="141.9" fill="#d08888"/>
<circle cx="486.5" cy="144.7" fill="#b87878"/>
<circle cx="482.0" cy="145.1" fill="#d08888"/>
<circle cx="480.2" cy="135.9" fill="#b86464"/>
<circle cx="482.4" cy="134.9" fill="#c07070"/>
<circle cx="485.1" cy="140.6" fill="#c87474"/>
<circle cx="478.7" cy="137.3" fill="#b86464"/>
<circle cx="482.0" cy="134.4" fill="#c87474"/>
<circle cx="476.0" cy="138.1" fill="#d08888"/>
<circle cx="481.4" cy="134.3" fill="#c07070"/>
<circle cx="483.3" cy="139.7" fill="#b86464"/>
<circle cx="486.4" cy="137.5" fill="#b86464"/>
<circle cx="486.0" cy="142.8" fill="#b86464"/>
<circle cx="497.7" cy="154.0" fill="#d0a8a8"/>
<circle cx="491.7" cy="147.1" fill="#b8a0a0"/>
<circle cx="496.7" cy="155.5" fill="#c89090"/>
<circle cx="485.9" cy="152.6" fill="#b8a0a0"/>
<circle cx="504.5" cy="152.6" fill="#c89090"/>
<circle cx="496.5" cy="148.5" fill="#c89090"/>
<circle cx="496.7" cy="152.0" fill="#b8a0a0"/>
<circle cx="487.4" cy="146.1" fill="#c89090"/>
<circle cx="454.4" cy="156.7" fill="#8a48c8"/>
<circle cx="452.6" cy="156.7" fill="#8a48c8"/>
<circle cx="446.7" cy="157.5" fill="#8a48c8"/>
<circle cx="451.2" cy="159.8" fill="#7a38b8"/>
<circle cx="453.2" cy="160.2" fill="#7a38b8"/>
<circle cx="458.6" cy="162.4" fill="#8a48c8"/>
<circle cx="457.3" cy="162.8" fill="#9858d0"/>
<circle cx="456.9" cy="161.5" fill="#9858d0"/>
<circle cx="448.5" cy="162.4" fill="#7a38b8"/>
<circle cx="455.7" cy="163.7" fill="#8a48c8"/>
<circle cx="459.5" cy="164.3" fill="#7a38b8"/>
<circle cx="450.4" cy="164.5" fill="#8040c0"/>
<circle cx="458.6" cy="167.4" fill="#7a38b8"/>
<circle cx="453.7" cy="166.2" fill="#8040c0"/>
<circle cx="452.2" cy="168.3" fill="#7a38b8"/>
<circle cx="450.0" cy="168.6" fill="#9858d0"/>
<circle cx="450.7" cy="169.1" fill="#9858d0"/>
<circle cx="455.4" cy="171.5" fill="#8a48c8"/>
<circle cx="453.3" cy="170.0" fill="#9858d0"/>
<circle cx="449.4" cy="170.5" fill="#7a38b8"/>
<circle cx="459.1" cy="172.1" fill="#8a48c8"/>
<circle cx="453.7" cy="173.8" fill="#9858d0"/>
<circle cx="457.1" cy="175.5" fill="#7a38b8"/>
<circle cx="449.6" cy="173.6" fill="#7a38b8"/>
<circle cx="453.8" cy="176.4" fill="#8a48c8"/>
<circle cx="448.6" cy="175.7" fill="#8a48c8"/>
<circle cx="455.0" cy="176.1" fill="#7a38b8"/>
<circle cx="451.9" cy="177.8" fill="#8040c0"/>
<circle cx="449.0" cy="179.8" fill="#8040c0"/>
<circle cx="449.6" cy="179.9" fill="#8a48c8"/>
<circle cx="455.2" cy="181.1" fill="#8040c0"/>
<circle cx="449.0" cy="182.4" fill="#8a48c8"/>
<circle cx="448.0" cy="164.0" fill="#8a48c8"/>
<circle cx="456.0" cy="152.0" fill="#9a60d0"/>
<path d="M452.1,156.9L455.1,159.9L452.1,162.9L449.1,159.9Z" fill="#7a38b8" stroke="#222" stroke-width="0.5"/>
<circle cx="469.2" cy="155.4" fill="#eecb3a"/>
<circle cx="468.4" cy="157.1" fill="#f2d448"/>
<circle cx="470.2" cy="159.3" fill="#e8c530"/>
<circle cx="469.5" cy="159.0" fill="#f2d448"/>
<circle cx="462.8" cy="160.6" fill="#e8c530"/>
<circle cx="466.2" cy="162.3" fill="#eecb3a"/>
<circle cx="471.1" cy="161.8" fill="#f2d448"/>
<circle cx="461.6" cy="163.3" fill="#f2d448"/>
<circle cx="468.9" cy="163.9" fill="#f2d448"/>
<circle cx="467.3" cy="165.9" fill="#f2d448"/>
<circle cx="465.6" cy="167.1" fill="#e8c530"/>
<circle cx="466.8" cy="167.3" fill="#f6dc60"/>
<circle cx="464.2" cy="170.3" fill="#f6dc60"/>
<circle cx="466.0" cy="169.7" fill="#f6dc60"/>
<circle cx="471.1" cy="172.7" fill="#f6dc60"/>
<circle cx="469.5" cy="172.6" fill="#f2d448"/>
<circle cx="467.6" cy="173.0" fill="#eecb3a"/>
<circle cx="467.1" cy="175.6" fill="#f2d448"/>
<circle cx="468.5" cy="175.4" fill="#f6dc60"/>
<circle cx="466.4" cy="176.2" fill="#f2d448"/>
<circle cx="467.8" cy="176.9" fill="#f6dc60"/>
<circle cx="468.2" cy="180.9" fill="#e8c530"/>
<circle cx="461.0" cy="179.9" fill="#f6dc60"/>
<circle cx="468.4" cy="181.8" fill="#eecb3a"/>
<circle cx="467.9" cy="183.5" fill="#eecb3a"/>
<circle cx="470.2" cy="185.0" fill="#eecb3a"/>
<path d="M464.8,151.1L467.8,154.1L464.8,157.1L461.8,154.1Z" fill="#f0cc30" stroke="#222" stroke-width="0.5"/>
<circle cx="492.1" cy="171.8" fill="#b8c8c0"/>
<circle cx="475.8" cy="167.5" fill="#a0c0a8"/>
<circle cx="496.6" cy="180.1" fill="#c0b0b0"/>
<circle cx="476.8" cy="178.8" fill="#98b8a0"/>
<circle cx="477.7" cy="165.1" fill="#c0b0b0"/>
<circle cx="483.7" cy="151.6" fill="#98b8a0"/>
<circle cx="505.3" cy="151.5" fill="#98b8a0"/>
<circle cx="491.8" cy="170.5" fill="#a8c8b0"/>
<circle cx="512.0" cy="156.2" fill="#c0b0b0"/>
<circle cx="494.3" cy="162.9" fill="#a0c0a8"/>
<circle cx="483.3" cy="179.7" fill="#a8c8b0"/>
<circle cx="477.5" cy="181.5" fill="#b8c8c0"/>
<circle cx="497.9" cy="177.4" fill="#b8c8c0"/>
<circle cx="499.0" cy="164.1" fill="#b0c0b8"/>
<circle cx="493.5" cy="168.3" fill="#98b8a0"/>
<circle cx="494.9" cy="154.2" fill="#a8c8b0"/>
<circle cx="510.5" cy="159.8" fill="#98b8a0"/>
<circle cx="509.7" cy="182.0" fill="#a0c0a8"/>
<circle cx="478.6" cy="160.0" fill="#a8c8b0"/>
<circle cx="505.2" cy="158.4" fill="#98b8a0"/>
<circle cx="486.5" cy="154.2" fill="#a8c8b0"/>
<circle cx="492.9" cy="172.3" fill="#98b8a0"/>
<circle cx="512.7" cy="171.3" fill="#b0c0b8"/>
<circle cx="476.5" cy="172.4" fill="#a8c8b0"/>
<circle cx="502.1" cy="175.5" fill="#b0c0b8"/>
<circle cx="509.4" cy="152.3" fill="#b0c0b8"/>
<circle cx="489.2" cy="174.6" fill="#a8c8b0"/>
<circle cx="509.8" cy="170.9" fill="#b8c8c0"/>
<circle cx="497.0" cy="164.1" fill="#c0b0b0"/>
<circle cx="500.2" cy="180.6" fill="#c0b0b0"/>
<circle cx="475.9" cy="163.7" fill="#a8c8b0"/>
<circle cx="506.5" cy="162.2" fill="#b8c8c0"/>
<circle cx="486.9" cy="159.8" fill="#b8c8c0"/>
<circle cx="484.5" cy="171.6" fill="#b0c0b8"/>
<circle cx="475.4" cy="167.4" fill="#c0b0b0"/>
<circle cx="496.3" cy="150.9" fill="#a8c8b0"/>
<circle cx="512.8" cy="176.4" fill="#98b8a0"/>
<circle cx="508.4" cy="180.4" fill="#a0c0a8"/>
<circle cx="474.7" cy="166.9" fill="#b8c8c0"/>
<circle cx="488.5" cy="160.6" fill="#a8c8b0"/>
<circle cx="480.5" cy="169.8" fill="#b8c8c0"/>
<circle cx="503.1" cy="153.0" fill="#a0c0a8"/>
<circle cx="498.2" cy="170.2" fill="#b8c8c0"/>
<circle cx="491.8" cy="180.0" fill="#98b8a0"/>
<circle cx="478.7" cy="160.1" fill="#b8c8c0"/>
<circle cx="492.4" cy="163.9" fill="#98b8a0"/>
<circle cx="475.9" cy="171.4" fill="#b8c8c0"/>
<circle cx="495.3" cy="181.0" fill="#a0c0a8"/>
<circle cx="474.1" cy="154.1" fill="#98b8a0"/>
<circle cx="501.4" cy="156.6" fill="#a8c8b0"/>
<circle cx="475.3" cy="168.5" fill="#98b8a0"/>
<circle cx="502.2" cy="161.3" fill="#98b8a0"/>
<circle cx="482.6" cy="158.9" fill="#b8c8c0"/>
<circle cx="486.1" cy="166.5" fill="#b8c8c0"/>
<circle cx="488.7" cy="175.9" fill="#c0b0b0"/>
<circle cx="507.2" cy="167.3" fill="#4cc47a"/>
<circle cx="496.4" cy="159.8" fill="#42c070"/>
<circle cx="505.3" cy="151.1" fill="#42c070"/>
<circle cx="499.0" cy="161.1" fill="#34a85c"/>
<circle cx="505.2" cy="172.3" fill="#34a85c"/>
<circle cx="501.4" cy="163.4" fill="#4cc47a"/>
<circle cx="506.6" cy="172.4" fill="#4cc47a"/>
<circle cx="498.8" cy="169.3" fill="#3cb464"/>
<circle cx="497.7" cy="155.2" fill="#4cc47a"/>
<circle cx="502.6" cy="150.6" fill="#3cb464"/>
<circle cx="499.3" cy="164.0" fill="#4cc47a"/>
<circle cx="499.9" cy="162.6" fill="#3cb464"/>
<circle cx="496.0" cy="160.2" fill="#3cb464"/>
<circle cx="501.4" cy="169.0" fill="#42c070"/>
<circle cx="502.7" cy="152.4" fill="#34a85c"/>
<circle cx="504.6" cy="167.1" fill="#4cc47a"/>
<circle cx="499.8" cy="157.7" fill="#42c070"/>
<circle cx="511.6" cy="152.0" fill="#3cb464"/>
<circle cx="498.2" cy="175.1" fill="#42c070"/>
<circle cx="494.2" cy="163.5" fill="#3cb464"/>
<circle cx="505.3" cy="177.3" fill="#4cc47a"/>
<circle cx="501.2" cy="161.0" fill="#3cb464"/>
<circle cx="501.1" cy="171.0" fill="#42c070"/>
<circle cx="499.6" cy="175.5" fill="#34a85c"/>
<circle cx="501.5" cy="169.3" fill="#34a85c"/>
<circle cx="504.3" cy="157.0" fill="#3cb464"/>
<path d="M506.8,151.1L509.8,154.1L506.8,157.1L503.8,154.1Z" fill="#3cb464" stroke="#222" stroke-width="0.5"/>
<circle cx="593.6" cy="163.3" fill="#4a7fd0"/>
<circle cx="597.0" cy="165.0" fill="#3f72c8"/>
<circle cx="603.0" cy="164.0" fill="#3f72c8"/>
<circle cx="608.0" cy="163.0" fill="#3f72c8"/>
<circle cx="613.0" cy="166.0" fill="#5588d8"/>
<circle cx="617.0" cy="165.0" fill="#4a7fd0"/>
<circle cx="620.0" cy="162.0" fill="#4a7fd0"/>
<circle cx="624.0" cy="163.0" fill="#4a7fd0"/>
<circle cx="628.0" cy="164.0" fill="#5588d8"/>
<circle cx="631.0" cy="165.0" fill="#3f72c8"/>
<circle cx="579.8" cy="173.0" fill="#4a7fd0"/>
<circle cx="584.0" cy="171.0" fill="#4a7fd0"/>
<circle cx="586.0" cy="170.0" fill="#5588d8"/>
<circle cx="580.0" cy="177.0" fill="#4a7fd0"/>
<circle cx="598.0" cy="174.0" fill="#5588d8"/>
<circle cx="600.0" cy="180.0" fill="#5588d8"/>
<circle cx="610.0" cy="177.0" fill="#5588d8"/>
<circle cx="629.0" cy="172.0" fill="#5588d8"/>
<circle cx="632.0" cy="173.0" fill="#5588d8"/>
<circle cx="630.0" cy="176.0" fill="#5588d8"/>
<circle cx="627.0" cy="178.0" fill="#3f72c8"/>
<circle cx="631.0" cy="180.0" fill="#3f72c8"/>
<circle cx="596.0" cy="162.0" fill="#4a7fd0"/>
<circle cx="606.0" cy="166.0" fill="#3f72c8"/>
<circle cx="611.0" cy="164.0" fill="#3f72c8"/>
<circle cx="618.0" cy="163.0" fill="#5588d8"/>
<circle cx="622.0" cy="165.0" fill="#5588d8"/>
<circle cx="626.0" cy="162.0" fill="#4a7fd0"/>
<circle cx="596.0" cy="160.0" fill="#e09878"/>
<circle cx="599.0" cy="162.0" fill="#eaa888"/>
<circle cx="602.0" cy="163.0" fill="#e09878"/>
<circle cx="605.0" cy="166.0" fill="#e8a080"/>
<circle cx="610.0" cy="167.0" fill="#e09878"/>
<circle cx="615.0" cy="169.0" fill="#f0b090"/>
<circle cx="620.0" cy="168.0" fill="#eaa888"/>
<circle cx="625.0" cy="169.0" fill="#e8a080"/>
<circle cx="588.0" cy="170.0" fill="#f0b090"/>
<circle cx="590.0" cy="173.0" fill="#e8a080"/>
<circle cx="595.0" cy="172.0" fill="#e09878"/>
<circle cx="588.0" cy="175.0" fill="#f0b090"/>
<circle cx="592.0" cy="178.0" fill="#eaa888"/>
<circle cx="604.0" cy="161.0" fill="#f0b090"/>
<circle cx="612.0" cy="161.0" fill="#e09878"/>
<circle cx="619.0" cy="167.0" fill="#e8a080"/>
<circle cx="623.0" cy="168.0" fill="#e09878"/>
<circle cx="601.0" cy="170.0" fill="#e8a080"/>
<circle cx="597.0" cy="168.0" fill="#e8a080"/>
<circle cx="626.0" cy="163.1" fill="#e8b098"/>
<circle cx="599.4" cy="173.8" fill="#e8a888"/>
<circle cx="624.9" cy="164.4" fill="#e8a888"/>
<circle cx="621.3" cy="161.0" fill="#f0c0a8"/>
<circle cx="590.7" cy="166.0" fill="#dca088"/>
<circle cx="611.9" cy="162.6" fill="#e8a888"/>
<circle cx="616.9" cy="173.2" fill="#f0c0a8"/>
<circle cx="616.0" cy="174.9" fill="#e8b098"/>
<circle cx="601.3" cy="173.2" fill="#f0c0a8"/>
<circle cx="594.7" cy="166.6" fill="#e8a888"/>
<circle cx="623.4" cy="175.8" fill="#e8b098"/>
<circle cx="596.3" cy="175.1" fill="#e8a888"/>
<circle cx="601.8" cy="162.8" fill="#dca088"/>
<circle cx="591.6" cy="161.0" fill="#e8a888"/>
<circle cx="626.4" cy="175.2" fill="#e8b098"/>
<circle cx="606.6" cy="175.1" fill="#dca088"/>
<circle cx="586.7" cy="173.1" fill="#dca088"/>
<circle cx="617.5" cy="163.9" fill="#dca088"/>
<circle cx="602.0" cy="165.4" fill="#e8a888"/>
<circle cx="613.0" cy="172.5" fill="#e8b098"/>
<circle cx="610.2" cy="165.4" fill="#dca088"/>
<circle cx="625.6" cy="161.9" fill="#e8a888"/>
<circle cx="592.2" cy="162.6" fill="#5588d8"/>
<circle cx="621.0" cy="164.8" fill="#4a7fd0"/>
<circle cx="601.7" cy="166.1" fill="#4a7fd0"/>
<circle cx="613.3" cy="165.4" fill="#3f72c8"/>
<circle cx="626.8" cy="164.1" fill="#4a7fd0"/>
<circle cx="624.9" cy="166.4" fill="#4a7fd0"/>
<circle cx="625.2" cy="166.5" fill="#4a7fd0"/>
<circle cx="600.8" cy="167.1" fill="#3f72c8"/>
<circle cx="631.1" cy="164.6" fill="#4a7fd0"/>
<circle cx="598.3" cy="163.3" fill="#3f72c8"/>
<circle cx="590.5" cy="158.5" fill="#5588d8"/>
<circle cx="631.1" cy="163.3" fill="#5588d8"/>
<circle cx="610.2" cy="165.3" fill="#5588d8"/>
<circle cx="608.7" cy="164.2" fill="#5588d8"/>
<circle cx="630.4" cy="162.4" fill="#5588d8"/>
<circle cx="591.6" cy="161.4" fill="#4a7fd0"/>
<circle cx="608.1" cy="163.3" fill="#3f72c8"/>
<circle cx="629.4" cy="160.0" fill="#3f72c8"/>
<circle cx="590.6" cy="164.5" fill="#3f72c8"/>
<circle cx="596.4" cy="162.8" fill="#4a7fd0"/>
<circle cx="608.2" cy="170.9" fill="#4a7fd0"/>
<circle cx="606.9" cy="162.8" fill="#4a7fd0"/>
<circle cx="578.5" cy="174.0" fill="#3f72c8"/>
<circle cx="581.0" cy="176.5" fill="#4a7fd0"/>
<circle cx="583.0" cy="172.5" fill="#3f72c8"/>
<circle cx="628.0" cy="171.0" fill="#3f72c8"/>
<circle cx="631.0" cy="174.5" fill="#3f72c8"/>
<circle cx="629.5" cy="178.0" fill="#4a7fd0"/>
<circle cx="632.5" cy="180.0" fill="#5588d8"/>
<path d="M600.8,155.1L603.8,158.1L600.8,161.1L597.8,158.1Z" fill="#eaa080" stroke="#222" stroke-width="0.5"/>
<path d="M608.0,157.7L611.0,160.7L608.0,163.7L605.0,160.7Z" fill="#4a7fd0" stroke="#222" stroke-width="0.5"/>
</g>
<text x="70.2" y="112.2" font-size="6.3" fill="#222" text-anchor="start">rs765033</text>
<text x="96.6" y="135.5" font-size="6.3" fill="#222" text-anchor="start">rs11623203</text>
<text x="174.1" y="107.5" font-size="6.3" fill="#222" text-anchor="start">rs10150787</text>
<text x="206.2" y="117.4" font-size="6.3" fill="#222" text-anchor="start">rs79690456</text>
<text x="282.4" y="136.0" font-size="6.3" fill="#222" text-anchor="start">rs1257585</text>
<text x="492.0" y="81.1" font-size="6.3" fill="#222" text-anchor="start">rs34460569</text>
<text x="461.8" y="150.6" font-size="6.3" fill="#222" text-anchor="end">rs348966</text>
<text x="449.9" y="156.3" font-size="6.3" fill="#222" text-anchor="end">rs10932938</text>
<text x="509.5" y="152.4" font-size="6.3" fill="#222" text-anchor="start">rs16863533</text>
<text x="598.3" y="156.3" font-size="6.3" fill="#222" text-anchor="end">rs16863886</text>
<text x="611.5" y="157.5" font-size="6.3" fill="#222" text-anchor="start">rs12622392</text>
<rect x="22" y="193.2" width="302.4" height="1.4" fill="#bbb"/>
<rect x="379.3" y="193.2" width="302.1" height="1.4" fill="#bbb"/>
<rect x="22.4" y="197.6" width="302" height="30.4" fill="none" stroke="#444" stroke-width="0.9"/>
<rect x="379.3" y="197.2" width="302.1" height="30.4" fill="none" stroke="#444" stroke-width="0.9"/>
<path d="M30.7 201.4H34.7M30.7 201.4l1.6 -1.1M30.7 201.4l1.6 1.1" stroke="#999" stroke-width="0.7" fill="none"/>
<text x="36.1" y="203.6" font-size="5.6" font-style="italic" fill="#999" textLength="35.8" lengthAdjust="spacing">RP11-76E12.1</text>
<path d="M85.2 201.4H89.2M85.2 201.4l1.6 -1.1M85.2 201.4l1.6 1.1" stroke="#111" stroke-width="0.7" fill="none"/>
<text x="90.6" y="203.6" font-size="5.6" font-style="italic" fill="#111" textLength="23.1" lengthAdjust="spacing">C14orf64</text>
<path d="M45.4 211.2H49.4M45.4 211.2l1.6 -1.1M45.4 211.2l1.6 1.1" stroke="#111" stroke-width="0.7" fill="none"/>
<text x="50.8" y="213.4" font-size="5.6" font-style="italic" fill="#111" textLength="38.8" lengthAdjust="spacing">RP11-204N11.1</text>
<path d="M110.4 211.2H114.4M110.4 211.2l1.6 -1.1M110.4 211.2l1.6 1.1" stroke="#999" stroke-width="0.7" fill="none"/>
<text x="115.8" y="213.4" font-size="5.6" font-style="italic" fill="#999" textLength="32.2" lengthAdjust="spacing">RP11-61O1.1</text>
<path d="M50.9 221.1H54.9M50.9 221.1l1.6 -1.1M50.9 221.1l1.6 1.1" stroke="#999" stroke-width="0.7" fill="none"/>
<text x="56.3" y="223.3" font-size="5.6" font-style="italic" fill="#999" textLength="38.1" lengthAdjust="spacing">RP11-204N11.2</text>
<path d="M146.8 221.1H150.8M150.8 221.1l-1.6 -1.1M150.8 221.1l-1.6 1.1" stroke="#999" stroke-width="0.7" fill="none"/>
<text x="113.0" y="223.3" font-size="5.6" font-style="italic" fill="#999" textLength="32.4" lengthAdjust="spacing">RP11-61O1.2</text>
<path d="M209.7 201.3H213.7M213.7 201.3l-1.6 -1.1M213.7 201.3l-1.6 1.1" stroke="#999" stroke-width="0.7" fill="none"/>
<text x="166.0" y="203.5" font-size="5.6" font-style="italic" fill="#999" textLength="42.3" lengthAdjust="spacing">RP11-1082A3.1</text>
<path d="M236.1 201.3H240.1M236.1 201.3l1.6 -1.1M236.1 201.3l1.6 1.1" stroke="#999" stroke-width="0.7" fill="none"/>
<text x="241.5" y="203.5" font-size="5.6" font-style="italic" fill="#999" textLength="38.3" lengthAdjust="spacing">RP11-1127D7.1</text>
<path d="M292.2 201.3H296.2M292.2 201.3l1.6 -1.1M292.2 201.3l1.6 1.1" stroke="#111" stroke-width="0.7" fill="none"/>
<text x="297.6" y="203.5" font-size="5.6" font-style="italic" fill="#111" textLength="20.1" lengthAdjust="spacing">BCL11B</text>
<path d="M237.1 211.2H241.1M241.1 211.2l-1.6 -1.1M241.1 211.2l-1.6 1.1" stroke="#111" stroke-width="0.7" fill="none"/>
<text x="210.9" y="213.4" font-size="5.6" font-style="italic" fill="#111" textLength="24.8" lengthAdjust="spacing">C14orf177</text>
<path d="M259.8 220.5H263.8M263.8 220.5l-1.6 -1.1M263.8 220.5l-1.6 1.1" stroke="#999" stroke-width="0.7" fill="none"/>
<text x="229.6" y="222.7" font-size="5.6" font-style="italic" fill="#999" textLength="28.8" lengthAdjust="spacing">AL132796.1</text>
<path d="M501.8 201.5H505.8M501.8 201.5l1.6 -1.1M501.8 201.5l1.6 1.1" stroke="#111" stroke-width="0.7" fill="none"/>
<text x="507.2" y="203.7" font-size="5.6" font-style="italic" fill="#111" textLength="14.5" lengthAdjust="spacing">PAX3</text>
<path d="M539.7 211.2H543.7M543.7 211.2l-1.6 -1.1M543.7 211.2l-1.6 1.1" stroke="#111" stroke-width="0.7" fill="none"/>
<text x="513.7" y="213.4" font-size="5.6" font-style="italic" fill="#111" textLength="24.6" lengthAdjust="spacing">CCDC140</text>
<path d="M510.3 220.8H514.3M510.3 220.8l1.6 -1.1M510.3 220.8l1.6 1.1" stroke="#999" stroke-width="0.7" fill="none"/>
<text x="515.7" y="223.0" font-size="5.6" font-style="italic" fill="#999" textLength="35.4" lengthAdjust="spacing">RP11-384O8.1</text>
<path d="M590.0 201.5H594.0M594.0 201.5l-1.6 -1.1M594.0 201.5l-1.6 1.1" stroke="#111" stroke-width="0.7" fill="none"/>
<text x="570.1" y="203.7" font-size="5.6" font-style="italic" fill="#111" textLength="18.5" lengthAdjust="spacing">SGPP2</text>
<path d="M602.1 211.2H606.1M602.1 211.2l1.6 -1.1M602.1 211.2l1.6 1.1" stroke="#111" stroke-width="0.7" fill="none"/>
<text x="607.5" y="213.4" font-size="5.6" font-style="italic" fill="#111" textLength="17.7" lengthAdjust="spacing">FARSB</text>
<path d="M647.1 201.5H651.1M651.1 201.5l-1.6 -1.1M651.1 201.5l-1.6 1.1" stroke="#111" stroke-width="0.7" fill="none"/>
<text x="623.6" y="203.7" font-size="5.6" font-style="italic" fill="#111" textLength="22.1" lengthAdjust="spacing">MOGAT1</text>
<line x1="48.0" y1="205.8" x2="55.0" y2="205.8" stroke="#999" stroke-width="0.6"/>
<line x1="48.0" y1="204.6" x2="48.0" y2="207.0" stroke="#999" stroke-width="0.6"/>
<line x1="50.0" y1="204.6" x2="50.0" y2="207.0" stroke="#999" stroke-width="0.6"/>
<line x1="52.0" y1="204.6" x2="52.0" y2="207.0" stroke="#999" stroke-width="0.6"/>
<line x1="55.0" y1="204.6" x2="55.0" y2="207.0" stroke="#999" stroke-width="0.6"/>
<line x1="95.5" y1="205.9" x2="105.0" y2="205.9" stroke="#111" stroke-width="0.6"/>
<rect x="95.5" y="204.6" width="1.4" height="2.6" fill="#111"/>
<rect x="96.7" y="204.6" width="1.4" height="2.6" fill="#111"/>
<rect x="101.1" y="204.6" width="1.4" height="2.6" fill="#111"/>
<rect x="102.5" y="204.6" width="1.4" height="2.6" fill="#111"/>
<rect x="103.7" y="204.6" width="1.4" height="2.6" fill="#111"/>
<line x1="67.0" y1="215.4" x2="70.0" y2="215.4" stroke="#111" stroke-width="0.6"/>
<line x1="67.0" y1="214.2" x2="67.0" y2="216.6" stroke="#111" stroke-width="0.6"/>
<line x1="70.0" y1="214.2" x2="70.0" y2="216.6" stroke="#111" stroke-width="0.6"/>
<rect x="67.8" y="214.1" width="1.4" height="2.6" fill="#111"/>
<line x1="119.6" y1="215.4" x2="141.5" y2="215.4" stroke="#999" stroke-width="0.6"/>
<line x1="119.6" y1="214.2" x2="119.6" y2="216.6" stroke="#999" stroke-width="0.6"/>
<line x1="141.5" y1="214.2" x2="141.5" y2="216.6" stroke="#999" stroke-width="0.6"/>
<line x1="73.6" y1="225.0" x2="73.6" y2="225.0" stroke="#999" stroke-width="0.6"/>
<line x1="73.6" y1="223.8" x2="73.6" y2="226.2" stroke="#999" stroke-width="0.6"/>
<line x1="130.6" y1="225.0" x2="130.6" y2="225.0" stroke="#999" stroke-width="0.6"/>
<line x1="130.6" y1="223.8" x2="130.6" y2="226.2" stroke="#999" stroke-width="0.6"/>
<line x1="191.0" y1="205.0" x2="191.0" y2="205.0" stroke="#999" stroke-width="0.6"/>
<line x1="190.0" y1="203.8" x2="190.0" y2="206.2" stroke="#999" stroke-width="0.6"/>
<line x1="192.0" y1="203.8" x2="192.0" y2="206.2" stroke="#999" stroke-width="0.6"/>
<line x1="258.3" y1="205.5" x2="258.3" y2="205.5" stroke="#999" stroke-width="0.6"/>
<line x1="258.3" y1="204.3" x2="258.3" y2="206.7" stroke="#999" stroke-width="0.6"/>
<line x1="298.0" y1="206.0" x2="313.0" y2="206.0" stroke="#111" stroke-width="0.6"/>
<line x1="298.0" y1="204.8" x2="298.0" y2="207.2" stroke="#111" stroke-width="0.6"/>
<line x1="300.0" y1="204.8" x2="300.0" y2="207.2" stroke="#111" stroke-width="0.6"/>
<line x1="307.0" y1="204.8" x2="307.0" y2="207.2" stroke="#111" stroke-width="0.6"/>
<line x1="310.0" y1="204.8" x2="310.0" y2="207.2" stroke="#111" stroke-width="0.6"/>
<line x1="313.0" y1="204.8" x2="313.0" y2="207.2" stroke="#111" stroke-width="0.6"/>
<rect x="297.8" y="204.7" width="1.4" height="2.6" fill="#111"/>
<line x1="224.2" y1="215.5" x2="224.2" y2="215.5" stroke="#111" stroke-width="0.6"/>
<rect x="223.5" y="214.2" width="1.4" height="2.6" fill="#111"/>
<line x1="245.2" y1="225.0" x2="245.2" y2="225.0" stroke="#999" stroke-width="0.6"/>
<line x1="245.2" y1="223.8" x2="245.2" y2="226.2" stroke="#999" stroke-width="0.6"/>
<line x1="499.4" y1="205.9" x2="526.2" y2="205.9" stroke="#111" stroke-width="0.6"/>
<line x1="499.4" y1="204.7" x2="499.4" y2="207.1" stroke="#111" stroke-width="0.6"/>
<line x1="504.0" y1="204.7" x2="504.0" y2="207.1" stroke="#111" stroke-width="0.6"/>
<line x1="506.0" y1="204.7" x2="506.0" y2="207.1" stroke="#111" stroke-width="0.6"/>
<rect x="525.3" y="204.6" width="1.4" height="2.6" fill="#111"/>
<line x1="527.0" y1="215.5" x2="527.0" y2="215.5" stroke="#111" stroke-width="0.6"/>
<rect x="526.3" y="214.2" width="1.4" height="2.6" fill="#111"/>
<line x1="531.8" y1="225.0" x2="531.8" y2="225.0" stroke="#999" stroke-width="0.6"/>
<line x1="531.8" y1="223.8" x2="531.8" y2="226.2" stroke="#999" stroke-width="0.6"/>
<line x1="561.4" y1="205.8" x2="599.5" y2="205.8" stroke="#111" stroke-width="0.6"/>
<line x1="561.4" y1="204.6" x2="561.4" y2="207.0" stroke="#111" stroke-width="0.6"/>
<line x1="575.0" y1="204.6" x2="575.0" y2="207.0" stroke="#111" stroke-width="0.6"/>
<line x1="589.0" y1="204.6" x2="589.0" y2="207.0" stroke="#111" stroke-width="0.6"/>
<line x1="599.5" y1="204.6" x2="599.5" y2="207.0" stroke="#111" stroke-width="0.6"/>
<line x1="602.6" y1="215.5" x2="626.0" y2="215.5" stroke="#111" stroke-width="0.6"/>
<line x1="602.6" y1="214.3" x2="602.6" y2="216.7" stroke="#111" stroke-width="0.6"/>
<line x1="606.0" y1="214.3" x2="606.0" y2="216.7" stroke="#111" stroke-width="0.6"/>
<line x1="615.0" y1="214.3" x2="615.0" y2="216.7" stroke="#111" stroke-width="0.6"/>
<line x1="618.0" y1="214.3" x2="618.0" y2="216.7" stroke="#111" stroke-width="0.6"/>
<line x1="620.0" y1="214.3" x2="620.0" y2="216.7" stroke="#111" stroke-width="0.6"/>
<line x1="622.0" y1="214.3" x2="622.0" y2="216.7" stroke="#111" stroke-width="0.6"/>
<line x1="624.0" y1="214.3" x2="624.0" y2="216.7" stroke="#111" stroke-width="0.6"/>
<line x1="626.0" y1="214.3" x2="626.0" y2="216.7" stroke="#111" stroke-width="0.6"/>
<rect x="617.3" y="214.2" width="1.4" height="2.6" fill="#111"/>
<rect x="619.8" y="214.2" width="1.4" height="2.6" fill="#111"/>
<rect x="621.8" y="214.2" width="1.4" height="2.6" fill="#111"/>
<line x1="630.3" y1="205.8" x2="640.4" y2="205.8" stroke="#111" stroke-width="0.6"/>
<line x1="630.3" y1="204.6" x2="630.3" y2="207.0" stroke="#111" stroke-width="0.6"/>
<line x1="634.0" y1="204.6" x2="634.0" y2="207.0" stroke="#111" stroke-width="0.6"/>
<line x1="636.0" y1="204.6" x2="636.0" y2="207.0" stroke="#111" stroke-width="0.6"/>
<line x1="640.4" y1="204.6" x2="640.4" y2="207.0" stroke="#111" stroke-width="0.6"/>
<line x1="32.5" y1="228" x2="32.5" y2="230.6" stroke="#444" stroke-width="0.8"/>
<text x="32.5" y="238" font-size="6.3" fill="#222" text-anchor="middle">98</text>
<line x1="65.2" y1="228" x2="65.2" y2="230.6" stroke="#444" stroke-width="0.8"/>
<text x="65.2" y="238" font-size="6.3" fill="#222" text-anchor="middle">98.2</text>
<line x1="97.9" y1="228" x2="97.9" y2="230.6" stroke="#444" stroke-width="0.8"/>
<text x="97.9" y="238" font-size="6.3" fill="#222" text-anchor="middle">98.4</text>
<line x1="130.6" y1="228" x2="130.6" y2="230.6" stroke="#444" stroke-width="0.8"/>
<text x="130.6" y="238" font-size="6.3" fill="#222" text-anchor="middle">98.6</text>
<line x1="163.3" y1="228" x2="163.3" y2="230.6" stroke="#444" stroke-width="0.8"/>
<text x="163.3" y="238" font-size="6.3" fill="#222" text-anchor="middle">98.8</text>
<line x1="196.0" y1="228" x2="196.0" y2="230.6" stroke="#444" stroke-width="0.8"/>
<text x="196.0" y="238" font-size="6.3" fill="#222" text-anchor="middle">99</text>
<line x1="228.7" y1="228" x2="228.7" y2="230.6" stroke="#444" stroke-width="0.8"/>
<text x="228.7" y="238" font-size="6.3" fill="#222" text-anchor="middle">99.2</text>
<line x1="261.4" y1="228" x2="261.4" y2="230.6" stroke="#444" stroke-width="0.8"/>
<text x="261.4" y="238" font-size="6.3" fill="#222" text-anchor="middle">99.4</text>
<line x1="294.1" y1="228" x2="294.1" y2="230.6" stroke="#444" stroke-width="0.8"/>
<text x="294.1" y="238" font-size="6.3" fill="#222" text-anchor="middle">99.6</text>
<line x1="425.2" y1="228" x2="425.2" y2="230.6" stroke="#444" stroke-width="0.8"/>
<text x="425.2" y="238" font-size="6.3" fill="#222" text-anchor="middle">222.8</text>
<line x1="481.0" y1="228" x2="481.0" y2="230.6" stroke="#444" stroke-width="0.8"/>
<text x="481.0" y="238" font-size="6.3" fill="#222" text-anchor="middle">223</text>
<line x1="536.8" y1="228" x2="536.8" y2="230.6" stroke="#444" stroke-width="0.8"/>
<text x="536.8" y="238" font-size="6.3" fill="#222" text-anchor="middle">223.2</text>
<line x1="592.6" y1="228" x2="592.6" y2="230.6" stroke="#444" stroke-width="0.8"/>
<text x="592.6" y="238" font-size="6.3" fill="#222" text-anchor="middle">223.4</text>
<line x1="648.4" y1="228" x2="648.4" y2="230.6" stroke="#444" stroke-width="0.8"/>
<text x="648.4" y="238" font-size="6.3" fill="#222" text-anchor="middle">223.6</text>
<text x="136.8" y="245.8" font-size="7.3" fill="#222" textLength="73.6" lengthAdjust="spacingAndGlyphs">Position on chr14 (Mb)</text>
<text x="495.7" y="245.6" font-size="7.3" fill="#222" textLength="69.3" lengthAdjust="spacingAndGlyphs">Position on chr2 (Mb)</text>
<clipPath id="c1"><rect x="22.4" y="262" width="302.4" height="42.5"/></clipPath>
<g clip-path="url(#c1)">
<path fill="#d5d5d5" d="M26.3 262.0L28.5 259.8 30.7 262.0 28.5 264.2z"/>
<path fill="#c9c9c9" d="M28.2 263.9L30.4 261.7 32.7 263.9 30.4 266.1z"/>
<path fill="#c3c3c3" d="M181.8 262.0L184.6 259.2 187.4 262.0 184.6 264.8zM186.8 267.1L189.6 264.2 192.5 267.1 189.6 269.9zM191.8 262.0L194.7 259.2 197.5 262.0 194.7 264.8z"/>
<path fill="#bdbdbd" d="M30.1 265.8L32.4 263.6 34.6 265.8 32.4 268.1zM179.2 264.5L182.1 261.7 184.9 264.5 182.1 267.4zM184.3 269.6L187.1 266.8 189.9 269.6 187.1 272.4z"/>
<path fill="#b7b7b7" d="M30.1 262.0L32.4 259.8 34.6 262.0 32.4 264.2zM176.7 262.0L179.5 259.2 182.4 262.0 179.5 264.8zM184.3 264.5L187.1 261.7 189.9 264.5 187.1 267.4zM189.3 269.6L192.2 266.8 195.0 269.6 192.2 272.4zM189.3 264.5L192.2 261.7 195.0 264.5 192.2 267.4zM194.4 264.5L197.2 261.7 200.0 264.5 197.2 267.4z"/>
<path fill="#b1b1b1" d="M181.8 267.1L184.6 264.2 187.4 267.1 184.6 269.9zM191.8 272.1L194.7 269.3 197.5 272.1 194.7 274.9zM196.9 267.1L199.7 264.2 202.6 267.1 199.7 269.9z"/>
<path fill="#ababab" d="M35.9 271.6L38.1 269.4 40.3 271.6 38.1 273.8zM37.8 273.5L40.0 271.3 42.3 273.5 40.0 275.7zM176.7 267.1L179.5 264.2 182.4 267.1 179.5 269.9zM181.8 272.1L184.6 269.3 187.4 272.1 184.6 274.9zM186.8 272.1L189.6 269.3 192.5 272.1 189.6 274.9zM189.3 274.6L192.2 271.8 195.0 274.6 192.2 277.4zM194.4 274.6L197.2 271.8 200.0 274.6 197.2 277.4zM186.8 262.0L189.6 259.2 192.5 262.0 189.6 264.8z"/>
<path fill="#a5a5a5" d="M32.1 267.8L34.3 265.5 36.5 267.8 34.3 270.0zM34.0 269.7L36.2 267.5 38.4 269.7 36.2 271.9zM39.7 275.4L42.0 273.2 44.2 275.4 42.0 277.7zM41.7 277.4L43.9 275.1 46.1 277.4 43.9 279.6zM32.1 263.9L34.3 261.7 36.5 263.9 34.3 266.1zM174.2 264.5L177.0 261.7 179.8 264.5 177.0 267.4zM191.9 267.1L194.7 264.2 197.5 267.1 194.7 269.9zM199.4 269.6L202.2 266.8 205.1 269.6 202.2 272.4z"/>
<path fill="#9f9f9f" d="M43.6 279.3L45.8 277.1 48.0 279.3 45.8 281.5zM179.2 269.6L182.1 266.8 184.9 269.6 182.1 272.4zM191.8 277.1L194.7 274.3 197.5 277.1 194.7 280.0zM201.9 282.2L204.8 279.4 207.6 282.2 204.8 285.0zM194.4 269.6L197.2 266.8 200.0 269.6 197.2 272.4zM196.9 272.1L199.7 269.3 202.6 272.1 199.7 274.9zM207.0 277.1L209.8 274.3 212.7 277.1 209.8 280.0zM196.9 262.0L199.7 259.2 202.6 262.0 199.7 264.8zM199.4 264.5L202.2 261.7 205.1 264.5 202.2 267.4z"/>
<path fill="#999999" d="M184.3 274.6L187.1 271.8 189.9 274.6 187.1 277.4zM199.4 284.7L202.2 281.9 205.1 284.7 202.2 287.6zM196.9 277.1L199.7 274.3 202.6 277.1 199.7 280.0zM204.5 284.7L207.3 281.9 210.1 284.7 207.3 287.6zM209.5 289.8L212.4 286.9 215.2 289.8 212.4 292.6zM201.9 272.1L204.8 269.3 207.6 272.1 204.8 274.9zM214.6 284.7L217.4 281.9 220.2 284.7 217.4 287.6z"/>
<path fill="#939393" d="M37.8 269.7L40.0 267.5 42.3 269.7 40.0 271.9zM169.1 274.6L172.0 271.8 174.8 274.6 172.0 277.4zM171.7 272.1L174.5 269.3 177.3 272.1 174.5 274.9zM174.2 269.6L177.0 266.8 179.8 269.6 177.0 272.4zM179.2 274.6L182.1 271.8 184.9 274.6 182.1 277.4zM186.8 277.1L189.6 274.3 192.5 277.1 189.6 280.0zM194.4 279.7L197.2 276.8 200.0 279.7 197.2 282.5zM207.0 292.3L209.8 289.5 212.7 292.3 209.8 295.1zM199.4 279.7L202.2 276.8 205.1 279.7 202.2 282.5zM212.1 292.3L214.9 289.5 217.7 292.3 214.9 295.1zM214.6 294.8L217.4 292.0 220.2 294.8 217.4 297.7zM204.5 279.7L207.3 276.8 210.1 279.7 207.3 282.5zM204.5 274.6L207.3 271.8 210.1 274.6 207.3 277.4zM209.5 279.7L212.4 276.8 215.2 279.7 212.4 282.5zM212.1 282.2L214.9 279.4 217.7 282.2 214.9 285.0zM219.6 289.8L222.4 286.9 225.3 289.8 222.4 292.6zM201.9 267.1L204.8 264.2 207.6 267.1 204.8 269.9zM201.9 262.0L204.8 259.2 207.6 262.0 204.8 264.8z"/>
<path fill="#8d8d8d" d="M39.7 271.6L42.0 269.4 44.2 271.6 42.0 273.8zM34.0 262.0L36.2 259.8 38.4 262.0 36.2 264.2zM65.3 262.0L67.9 259.4 70.5 262.0 67.9 264.6zM69.9 266.6L72.5 264.0 75.1 266.6 72.5 269.2zM174.2 279.7L177.0 276.8 179.8 279.7 177.0 282.5zM176.7 277.1L179.5 274.3 182.4 277.1 179.5 280.0zM171.7 262.0L174.5 259.2 177.3 262.0 174.5 264.8zM189.3 279.7L192.2 276.8 195.0 279.7 192.2 282.5zM201.9 287.2L204.8 284.4 207.6 287.2 204.8 290.1zM212.0 297.4L214.9 294.5 217.7 297.4 214.9 300.2zM207.0 287.2L209.8 284.4 212.7 287.2 209.8 290.1zM217.1 297.4L219.9 294.5 222.8 297.4 219.9 300.2zM212.1 287.2L214.9 284.4 217.7 287.2 214.9 290.1zM217.1 287.2L219.9 284.4 222.8 287.2 219.9 290.1zM222.1 292.3L225.0 289.5 227.8 292.3 225.0 295.1zM209.5 274.6L212.3 271.8 215.2 274.6 212.4 277.4zM204.5 264.5L207.3 261.7 210.1 264.5 207.3 267.4z"/>
<path fill="#878787" d="M34.0 265.8L36.2 263.6 38.4 265.8 36.2 268.1zM35.9 267.8L38.1 265.5 40.3 267.8 38.1 270.0zM41.7 273.5L43.9 271.3 46.1 273.5 43.9 275.7zM43.6 275.4L45.8 273.2 48.0 275.4 45.8 277.7zM45.5 277.4L47.7 275.1 49.9 277.4 47.7 279.6zM166.6 272.1L169.4 269.3 172.3 272.1 169.4 274.9zM169.1 269.6L171.9 266.8 174.8 269.6 172.0 272.4zM171.6 267.1L174.5 264.2 177.3 267.1 174.5 269.9zM196.9 282.2L199.7 279.4 202.6 282.2 199.7 285.0zM204.5 289.8L207.3 286.9 210.1 289.8 207.3 292.6zM209.5 294.8L212.4 292.0 215.2 294.8 212.3 297.7zM214.6 299.9L217.4 297.1 220.2 299.9 217.4 302.7zM199.4 274.6L202.2 271.8 205.1 274.6 202.2 277.4zM217.1 292.3L219.9 289.5 222.8 292.3 219.9 295.1zM217.1 282.2L219.9 279.4 222.8 282.2 219.9 285.0zM212.0 272.1L214.9 269.3 217.7 272.1 214.9 274.9z"/>
<path fill="#818181" d="M67.6 264.3L70.2 261.7 72.8 264.3 70.2 266.9zM76.8 273.6L79.5 270.9 82.1 273.6 79.5 276.2zM74.5 262.0L77.1 259.4 79.8 262.0 77.1 264.6zM81.5 268.9L84.1 266.3 86.7 268.9 84.1 271.5zM174.2 274.6L177.0 271.8 179.8 274.6 177.0 277.4zM207.0 282.2L209.8 279.4 212.7 282.2 209.8 285.0zM214.6 289.8L217.4 286.9 220.2 289.8 217.4 292.6zM219.6 294.8L222.4 292.0 225.3 294.8 222.5 297.7zM204.5 269.6L207.3 266.8 210.1 269.6 207.3 272.4zM207.0 262.0L209.8 259.2 212.7 262.0 209.8 264.8zM310.6 262.0L312.4 260.2 314.2 262.0 312.4 263.8zM313.6 265.0L315.4 263.2 317.3 265.0 315.4 266.9zM316.7 262.0L318.5 260.2 320.3 262.0 318.5 263.8z"/>
<path fill="#7b7b7b" d="M39.7 267.8L42.0 265.5 44.2 267.8 42.0 270.0zM72.2 264.3L74.8 261.7 77.4 264.3 74.8 266.9zM171.7 277.1L174.5 274.3 177.3 277.1 174.5 280.0zM176.7 282.2L179.5 279.4 182.4 282.2 179.5 285.0zM176.7 272.1L179.5 269.3 182.4 272.1 179.5 274.9zM181.8 277.1L184.6 274.3 187.4 277.1 184.6 280.0zM196.9 287.2L199.7 284.4 202.6 287.2 199.7 290.1zM204.5 294.8L207.3 292.0 210.1 294.8 207.3 297.7zM201.9 277.1L204.8 274.3 207.6 277.1 204.8 280.0zM209.5 284.7L212.4 281.9 215.2 284.7 212.4 287.6zM212.1 277.1L214.9 274.3 217.7 277.1 214.9 280.0zM214.6 279.7L217.4 276.8 220.2 279.7 217.4 282.5zM219.6 284.7L222.4 281.9 225.3 284.7 222.4 287.6zM222.1 287.2L225.0 284.4 227.8 287.2 225.0 290.1zM207.0 267.1L209.8 264.2 212.7 267.1 209.8 269.9zM214.6 274.6L217.4 271.8 220.2 274.6 217.4 277.4zM219.6 279.7L222.5 276.8 225.3 279.7 222.4 282.5zM224.7 284.7L227.5 281.9 230.3 284.7 227.5 287.6zM214.6 269.6L217.4 266.7 220.2 269.6 217.4 272.4z"/>
<path fill="#757575" d="M41.7 269.7L43.9 267.5 46.1 269.7 43.9 271.9zM74.5 271.2L77.2 268.6 79.8 271.2 77.1 273.9zM79.2 271.2L81.8 268.6 84.4 271.2 81.8 273.9zM79.2 266.6L81.8 264.0 84.4 266.6 81.8 269.2zM88.4 262.0L91.0 259.4 93.6 262.0 91.0 264.6zM179.2 279.7L182.1 276.8 184.9 279.7 182.1 282.5zM191.9 282.2L194.7 279.4 197.5 282.2 194.7 285.0zM207.0 272.1L209.8 269.3 212.7 272.1 209.8 274.9zM224.7 289.8L227.5 286.9 230.3 289.8 227.5 292.6zM315.1 263.5L317.0 261.7 318.8 263.5 317.0 265.3z"/>
<path fill="#6f6f6f" d="M81.5 278.2L84.1 275.6 86.7 278.2 84.1 280.8zM93.0 289.7L95.6 287.1 98.2 289.7 95.6 292.3zM106.9 303.6L109.5 301.0 112.1 303.6 109.5 306.2zM69.9 262.0L72.5 259.4 75.1 262.0 72.5 264.6zM86.1 264.3L88.7 261.7 91.3 264.3 88.7 266.9zM179.2 284.7L182.1 281.9 184.9 284.7 182.1 287.6zM181.8 282.2L184.6 279.4 187.4 282.2 184.6 285.0zM184.3 279.7L187.1 276.8 189.9 279.7 187.1 282.5zM199.4 289.8L202.2 286.9 205.1 289.8 202.2 292.6zM209.5 299.9L212.3 297.1 215.2 299.9 212.4 302.7zM209.5 269.6L212.4 266.8 215.2 269.6 212.3 272.4zM222.1 282.2L225.0 279.4 227.8 282.2 225.0 285.0zM227.2 287.2L230.0 284.4 232.9 287.2 230.0 290.1zM209.5 264.5L212.4 261.7 215.2 264.5 212.4 267.4zM222.2 277.1L225.0 274.3 227.8 277.1 225.0 280.0zM222.1 262.0L225.0 259.2 227.8 262.0 225.0 264.8zM312.1 263.5L313.9 261.7 315.8 263.5 313.9 265.3z"/>
<path fill="#696969" d="M37.8 265.8L40.0 263.6 42.3 265.8 40.0 268.1zM43.6 271.6L45.8 269.4 48.0 271.6 45.8 273.8zM45.5 273.5L47.7 271.3 49.9 273.5 47.7 275.7zM47.4 275.4L49.6 273.2 51.9 275.4 49.6 277.7zM72.2 268.9L74.8 266.3 77.5 268.9 74.8 271.5zM79.2 275.9L81.8 273.2 84.4 275.9 81.8 278.5zM83.8 280.5L86.4 277.9 89.0 280.5 86.4 283.1zM86.1 282.8L88.7 280.2 91.3 282.8 88.7 285.4zM90.7 287.4L93.3 284.8 95.9 287.4 93.3 290.0zM95.3 292.0L97.9 289.4 100.5 292.0 97.9 294.6zM97.6 294.3L100.2 291.7 102.9 294.3 100.2 296.9zM99.9 296.6L102.6 294.0 105.2 296.6 102.6 299.3zM102.3 299.0L104.9 296.3 107.5 299.0 104.9 301.6zM104.6 301.3L107.2 298.7 109.8 301.3 107.2 303.9zM76.9 268.9L79.5 266.3 82.1 268.9 79.5 271.5zM166.6 267.1L169.4 264.2 172.2 267.1 169.4 269.9zM169.1 264.5L172.0 261.7 174.8 264.5 171.9 267.4zM201.9 292.3L204.8 289.5 207.6 292.3 204.8 295.1zM207.0 297.4L209.8 294.5 212.7 297.4 209.8 300.2zM212.1 302.4L214.9 299.6 217.7 302.4 214.9 305.2zM217.1 277.1L219.9 274.3 222.8 277.1 219.9 280.0zM217.1 272.1L219.9 269.3 222.8 272.1 219.9 274.9zM227.2 282.2L230.0 279.4 232.9 282.2 230.0 285.0zM229.7 269.6L232.6 266.8 235.4 269.6 232.6 272.4z"/>
<path fill="#636363" d="M35.9 263.9L38.1 261.7 40.3 263.9 38.1 266.1zM88.4 285.1L91.0 282.5 93.6 285.1 91.0 287.7zM109.2 305.9L111.8 303.3 114.4 305.9 111.8 308.5zM76.8 264.3L79.5 261.7 82.1 264.3 79.5 266.9zM83.8 271.2L86.4 268.6 89.0 271.2 86.4 273.9zM86.1 273.6L88.7 270.9 91.3 273.6 88.7 276.2zM88.4 275.9L91.0 273.2 93.6 275.9 91.0 278.5zM90.7 278.2L93.3 275.6 95.9 278.2 93.3 280.8zM93.0 280.5L95.6 277.9 98.2 280.5 95.6 283.1zM97.6 285.1L100.2 282.5 102.9 285.1 100.2 287.7zM102.3 289.7L104.9 287.1 107.5 289.7 104.9 292.3zM104.6 292.0L107.2 289.4 109.8 292.0 107.2 294.6zM106.9 294.3L109.5 291.7 112.1 294.3 109.5 296.9zM109.2 296.6L111.8 294.0 114.4 296.6 111.8 299.3zM113.8 301.3L116.4 298.7 119.0 301.3 116.4 303.9zM164.1 269.6L166.9 266.8 169.7 269.6 166.9 272.4zM181.8 287.2L184.6 284.4 187.4 287.2 184.6 290.1zM184.3 284.7L187.1 281.9 189.9 284.7 187.1 287.6zM194.4 284.7L197.2 281.9 200.0 284.7 197.2 287.6zM212.1 267.1L214.9 264.2 217.7 267.0 214.9 269.9zM219.6 274.6L222.5 271.8 225.3 274.6 222.5 277.4zM224.7 279.7L227.5 276.8 230.3 279.7 227.5 282.5zM229.7 284.7L232.6 281.9 235.4 284.7 232.6 287.6zM217.1 267.0L219.9 264.2 222.8 267.1 219.9 269.9zM234.8 274.6L237.6 271.8 240.4 274.6 237.6 277.4z"/>
<path fill="#5d5d5d" d="M95.3 287.4L97.9 284.8 100.5 287.4 97.9 290.0zM95.3 282.8L97.9 280.2 100.5 282.8 97.9 285.4zM100.0 287.4L102.6 284.8 105.2 287.4 102.6 290.0zM111.5 299.0L114.1 296.3 116.7 299.0 114.1 301.6zM90.7 264.3L93.3 261.7 95.9 264.3 93.3 266.9zM93.0 266.6L95.6 264.0 98.2 266.6 95.6 269.2zM97.6 271.2L100.2 268.6 102.9 271.2 100.2 273.9zM104.6 278.2L107.2 275.6 109.8 278.2 107.2 280.8zM109.2 282.8L111.8 280.2 114.4 282.8 111.8 285.4zM113.8 287.4L116.4 284.8 119.0 287.4 116.4 290.0zM116.1 289.7L118.7 287.1 121.3 289.7 118.7 292.3zM118.4 292.0L121.0 289.4 123.6 292.0 121.0 294.6zM186.8 282.2L189.6 279.4 192.5 282.2 189.6 285.0z"/>
<path fill="#575757" d="M45.5 262.0L47.7 259.8 49.9 262.0 47.7 264.2zM47.4 263.9L49.6 261.7 51.9 263.9 49.6 266.1zM81.5 273.6L84.1 270.9 86.7 273.6 84.1 276.2zM83.8 275.9L86.4 273.2 89.0 275.9 86.4 278.5zM86.1 278.2L88.7 275.6 91.3 278.2 88.7 280.8zM97.6 289.7L100.2 287.1 102.9 289.7 100.2 292.3zM100.0 292.0L102.6 289.4 105.2 292.0 102.6 294.6zM102.3 294.3L104.9 291.7 107.5 294.3 104.9 296.9zM106.9 299.0L109.5 296.3 112.1 299.0 109.5 301.6zM83.8 266.6L86.4 264.0 89.0 266.6 86.4 269.2zM83.8 262.0L86.4 259.4 89.0 262.0 86.4 264.6zM95.3 268.9L97.9 266.3 100.5 268.9 97.9 271.5zM100.0 273.6L102.6 270.9 105.2 273.6 102.6 276.2zM102.3 275.9L104.9 273.2 107.5 275.9 104.9 278.5zM106.9 280.5L109.5 277.9 112.1 280.5 109.5 283.1zM111.5 285.1L114.1 282.5 116.7 285.1 114.1 287.7zM120.7 294.3L123.3 291.7 126.0 294.3 123.3 296.9zM191.8 292.3L194.7 289.5 197.5 292.3 194.7 295.1zM224.7 274.6L227.5 271.8 230.3 274.6 227.5 277.4zM219.6 264.5L222.4 261.7 225.3 264.5 222.4 267.4zM224.7 264.5L227.5 261.7 230.3 264.5 227.5 267.4zM227.2 267.1L230.0 264.2 232.9 267.1 230.0 269.9zM232.2 272.1L235.1 269.3 237.9 272.1 235.1 274.9zM237.3 277.1L240.1 274.3 243.0 277.1 240.1 280.0zM237.3 262.0L240.1 259.2 243.0 262.0 240.1 264.8zM313.6 262.0L315.4 260.2 317.3 262.0 315.4 263.8z"/>
<path fill="#515151" d="M74.5 266.6L77.1 264.0 79.8 266.6 77.2 269.2zM88.4 280.5L91.0 277.9 93.6 280.5 91.0 283.1zM90.7 282.8L93.3 280.2 95.9 282.8 93.3 285.4zM93.0 285.1L95.6 282.5 98.2 285.1 95.6 287.7zM104.6 296.6L107.2 294.0 109.8 296.6 107.2 299.3zM109.2 301.3L111.8 298.7 114.4 301.3 111.8 303.9zM111.5 303.6L114.1 301.0 116.7 303.6 114.1 306.2zM189.3 294.8L192.2 292.0 195.0 294.8 192.2 297.7zM194.4 289.8L197.2 286.9 200.0 289.8 197.2 292.6zM219.6 269.6L222.4 266.8 225.3 269.6 222.5 272.4zM232.2 267.1L235.1 264.2 237.9 267.1 235.1 269.9zM242.3 267.0L245.2 264.2 248.0 267.1 245.2 269.9z"/>
<path fill="#4b4b4b" d="M41.7 265.8L43.9 263.6 46.1 265.8 43.9 268.1zM43.6 263.9L45.8 261.7 48.0 263.9 45.8 266.1zM51.3 267.8L53.5 265.5 55.7 267.8 53.5 270.0zM53.2 269.7L55.4 267.5 57.6 269.7 55.4 271.9zM49.3 262.0L51.6 259.8 53.8 262.0 51.6 264.2zM81.5 264.3L84.1 261.7 86.7 264.3 84.1 266.9zM90.7 268.9L93.3 266.3 95.9 268.9 93.3 271.5zM97.6 275.9L100.2 273.2 102.9 275.9 100.2 278.5zM102.3 280.5L104.9 277.9 107.5 280.5 104.9 283.1zM104.6 282.8L107.2 280.2 109.8 282.8 107.2 285.4zM111.5 289.7L114.1 287.1 116.7 289.7 114.1 292.3zM113.8 292.0L116.4 289.4 119.0 292.0 116.4 294.6zM116.1 294.3L118.7 291.7 121.3 294.3 118.7 296.9zM196.9 302.4L199.7 299.6 202.6 302.4 199.7 305.2zM199.4 299.9L202.2 297.1 205.1 299.9 202.2 302.7zM201.9 297.4L204.8 294.5 207.6 297.4 204.8 300.2zM212.1 262.0L214.9 259.2 217.7 262.0 214.9 264.8zM229.7 279.7L232.6 276.8 235.4 279.7 232.6 282.5zM237.3 272.1L240.1 269.3 243.0 272.1 240.1 274.9zM244.9 269.6L247.7 266.8 250.5 269.6 247.7 272.4z"/>
<path fill="#454545" d="M49.3 265.8L51.6 263.6 53.8 265.8 51.6 268.1zM51.3 263.9L53.5 261.7 55.7 263.9 53.5 266.1zM88.4 266.6L91.0 264.0 93.6 266.6 91.0 269.2zM93.0 271.2L95.6 268.6 98.2 271.2 95.6 273.9zM95.3 273.6L97.9 270.9 100.5 273.6 97.9 276.2zM100.0 278.2L102.6 275.6 105.2 278.2 102.6 280.8zM106.9 285.1L109.5 282.5 112.1 285.1 109.5 287.7zM109.2 287.4L111.8 284.8 114.4 287.4 111.8 290.0zM118.4 296.6L121.0 294.0 123.6 296.6 121.0 299.3zM184.3 289.8L187.1 286.9 189.9 289.8 187.1 292.6zM186.8 287.2L189.6 284.4 192.5 287.2 189.6 290.1zM189.3 284.7L192.2 281.9 195.0 284.7 192.2 287.6zM214.6 264.5L217.4 261.7 220.2 264.5 217.4 267.3zM227.2 272.1L230.0 269.3 232.9 272.1 230.0 274.9zM227.2 262.0L230.0 259.2 232.9 262.0 230.0 264.8zM234.8 264.5L237.6 261.7 240.4 264.5 237.6 267.4zM239.8 264.5L242.7 261.7 245.5 264.5 242.7 267.3zM247.4 262.0L250.2 259.2 253.1 262.0 250.2 264.8z"/>
<path fill="#3f3f3f" d="M43.6 267.8L45.8 265.5 48.0 267.8 45.8 270.0zM45.5 265.8L47.7 263.6 49.9 265.8 47.7 268.1zM53.2 265.8L55.4 263.6 57.6 265.8 55.4 268.1zM55.1 267.8L57.3 265.5 59.5 267.8 57.3 270.0zM118.4 264.3L121.0 261.7 123.6 264.3 121.0 266.9zM136.9 278.2L139.5 275.6 142.1 278.2 139.5 280.8zM191.8 297.4L194.7 294.5 197.5 297.4 194.7 300.2zM201.9 307.4L204.8 304.6 207.6 307.4 204.8 310.3zM194.4 294.8L197.2 292.0 200.0 294.8 197.2 297.7zM204.5 304.9L207.3 302.1 210.1 304.9 207.3 307.8zM196.9 292.3L199.7 289.5 202.6 292.3 199.7 295.1zM207.0 302.4L209.8 299.6 212.7 302.4 209.8 305.2zM222.2 272.1L225.0 269.3 227.8 272.1 225.0 274.9zM227.2 277.1L230.0 274.3 232.9 277.1 230.0 280.0zM232.2 282.2L235.1 279.4 237.9 282.2 235.1 285.0zM222.1 267.1L225.0 264.2 227.8 267.1 225.0 269.9zM232.2 277.1L235.1 274.3 237.9 277.1 235.1 280.0zM229.7 264.5L232.6 261.7 235.4 264.5 232.6 267.4zM234.8 269.6L237.6 266.8 240.4 269.6 237.6 272.4zM239.8 269.6L242.7 266.7 245.5 269.6 242.7 272.4zM249.9 264.5L252.8 261.7 255.6 264.5 252.8 267.4z"/>
<path fill="#393939" d="M49.3 269.7L51.6 267.5 53.8 269.7 51.6 271.9zM88.4 271.2L91.0 268.6 93.6 271.2 91.0 273.9zM95.3 278.2L97.9 275.6 100.5 278.2 97.9 280.8zM111.5 294.3L114.1 291.7 116.7 294.3 114.1 296.9zM116.1 299.0L118.7 296.3 121.3 299.0 118.7 301.6zM104.6 268.9L107.2 266.3 109.8 268.9 107.2 271.5zM109.2 273.6L111.8 270.9 114.4 273.6 111.8 276.2zM111.5 275.9L114.1 273.2 116.7 275.9 114.1 278.5zM113.8 278.2L116.4 275.6 119.0 278.2 116.4 280.8zM123.0 287.4L125.7 284.8 128.3 287.4 125.7 290.0zM104.6 264.3L107.2 261.7 109.8 264.3 107.2 266.9zM106.9 266.6L109.5 264.0 112.1 266.6 109.5 269.2zM111.5 271.2L114.1 268.6 116.7 271.2 114.1 273.9zM113.8 268.9L116.4 266.3 119.0 268.9 116.4 271.5zM116.1 266.6L118.7 264.0 121.3 266.6 118.7 269.2zM125.4 271.2L128.0 268.6 130.6 271.2 128.0 273.9zM120.7 262.0L123.3 259.4 126.0 262.0 123.3 264.6zM123.0 264.3L125.7 261.7 128.3 264.3 125.7 266.9zM125.4 266.6L128.0 264.0 130.6 266.6 128.0 269.2zM127.7 268.9L130.3 266.3 132.9 268.9 130.3 271.5zM132.3 273.6L134.9 270.9 137.5 273.6 134.9 276.2zM127.7 264.3L130.3 261.7 132.9 264.3 130.3 266.9zM141.5 273.6L144.1 270.9 146.8 273.6 144.1 276.2zM146.1 264.3L148.8 261.7 151.4 264.3 148.8 266.9zM150.8 264.3L153.4 261.7 156.0 264.3 153.4 266.9zM229.7 274.6L232.6 271.8 235.4 274.6 232.6 277.4zM239.8 274.6L242.7 271.8 245.5 274.6 242.7 277.4zM244.9 264.5L247.7 261.7 250.5 264.5 247.7 267.4zM276.4 279.9L279.3 277.1 282.1 279.9 279.3 282.8zM284.1 282.5L287.0 279.6 289.8 282.5 287.0 285.3zM271.3 264.6L274.2 261.7 277.0 264.6 274.2 267.4zM284.1 277.4L287.0 274.5 289.8 277.4 287.0 280.2zM279.0 267.1L281.8 264.3 284.7 267.1 281.8 270.0zM289.2 277.4L292.1 274.5 294.9 277.4 292.1 280.2zM291.8 264.6L294.6 261.7 297.5 264.6 294.6 267.4zM296.9 269.7L299.8 266.8 302.6 269.7 299.8 272.5z"/>
<path fill="#333333" d="M39.7 263.9L42.0 261.7 44.2 263.9 42.0 266.1zM45.5 269.7L47.7 267.5 49.9 269.7 47.7 271.9zM47.4 271.6L49.6 269.4 51.9 271.6 49.6 273.8zM49.3 273.5L51.6 271.3 53.8 273.5 51.6 275.7zM47.4 267.8L49.6 265.5 51.9 267.8 49.6 270.0zM51.3 271.6L53.5 269.4 55.7 271.6 53.5 273.8zM55.1 263.9L57.3 261.7 59.5 263.9 57.3 266.1zM57.0 265.8L59.2 263.6 61.5 265.8 59.2 268.1zM58.9 263.9L61.2 261.7 63.4 263.9 61.2 266.1zM93.0 275.9L95.6 273.2 98.2 275.9 95.6 278.5zM97.6 280.5L100.2 277.9 102.9 280.5 100.2 283.1zM100.0 282.8L102.6 280.2 105.2 282.8 102.6 285.4zM102.3 285.1L104.9 282.5 107.5 285.1 104.9 287.7zM104.6 287.4L107.2 284.8 109.8 287.4 107.2 290.0zM106.9 289.7L109.5 287.1 112.1 289.7 109.5 292.3zM113.8 296.6L116.4 294.0 119.0 296.6 116.4 299.3zM95.3 264.3L97.9 261.7 100.5 264.3 97.9 266.9zM97.6 266.6L100.2 264.0 102.9 266.6 100.2 269.2zM100.0 268.9L102.6 266.3 105.2 268.9 102.6 271.5zM102.3 271.2L104.9 268.6 107.5 271.2 104.9 273.9zM104.6 273.6L107.2 270.9 109.8 273.6 107.2 276.2zM106.9 275.9L109.5 273.2 112.1 275.9 109.5 278.5zM111.5 280.5L114.1 277.9 116.7 280.5 114.1 283.1zM116.1 285.1L118.7 282.5 121.3 285.1 118.7 287.7zM123.0 292.0L125.7 289.4 128.3 292.0 125.7 294.6zM100.0 264.3L102.6 261.7 105.2 264.3 102.6 266.9zM106.9 271.2L109.5 268.6 112.1 271.2 109.5 273.9zM116.1 280.5L118.7 277.9 121.3 280.5 118.7 283.1zM120.7 285.1L123.3 282.5 126.0 285.1 123.3 287.7zM125.4 289.7L128.0 287.1 130.6 289.7 128.0 292.3zM109.2 268.9L111.8 266.3 114.4 268.9 111.8 271.5zM113.8 273.6L116.4 270.9 119.0 273.6 116.4 276.2zM116.1 275.9L118.7 273.2 121.3 275.9 118.7 278.5zM118.4 278.2L121.0 275.6 123.6 278.2 121.0 280.8zM120.7 280.5L123.3 277.9 126.0 280.5 123.3 283.1zM123.0 282.8L125.7 280.2 128.3 282.8 125.7 285.4zM125.4 285.1L128.0 282.5 130.6 285.1 128.0 287.7zM109.2 264.3L111.8 261.7 114.4 264.3 111.8 266.9zM116.1 271.2L118.7 268.6 121.3 271.2 118.7 273.9zM118.4 273.6L121.0 270.9 123.6 273.6 121.0 276.2zM123.0 278.2L125.7 275.6 128.3 278.2 125.7 280.8zM130.0 285.1L132.6 282.5 135.2 285.1 132.6 287.7zM113.8 264.3L116.4 261.7 119.0 264.3 116.4 266.9zM118.4 268.9L121.0 266.3 123.6 268.9 121.0 271.5zM120.7 271.2L123.3 268.6 126.0 271.2 123.3 273.9zM123.0 273.6L125.7 270.9 128.3 273.6 125.7 276.2zM125.4 275.9L128.0 273.2 130.6 275.9 128.0 278.5zM127.7 278.2L130.3 275.6 132.9 278.2 130.3 280.8zM130.0 280.5L132.6 277.9 135.2 280.5 132.6 283.1zM132.3 282.8L134.9 280.2 137.5 282.8 134.9 285.4zM120.7 266.6L123.3 264.0 126.0 266.6 123.3 269.2zM123.0 268.9L125.7 266.3 128.3 268.9 125.7 271.5zM127.7 273.6L130.3 270.9 132.9 273.6 130.3 276.2zM130.0 275.9L132.6 273.2 135.2 275.9 132.6 278.5zM132.3 278.2L134.9 275.6 137.5 278.2 134.9 280.8zM134.6 280.5L137.2 277.9 139.8 280.5 137.2 283.1zM130.0 271.2L132.6 268.6 135.2 271.2 132.6 273.9zM134.6 275.9L137.2 273.2 139.8 275.9 137.2 278.5zM130.0 266.6L132.6 264.0 135.2 266.6 132.6 269.2zM132.3 268.9L134.9 266.3 137.5 268.9 134.9 271.5zM134.6 271.2L137.2 268.6 139.8 271.2 137.2 273.9zM136.9 273.6L139.5 270.9 142.1 273.6 139.5 276.2zM139.2 275.9L141.8 273.2 144.4 275.9 141.8 278.5zM132.3 264.3L134.9 261.7 137.5 264.3 134.9 266.9zM136.9 268.9L139.5 266.3 142.1 268.9 139.5 271.5zM139.2 271.2L141.8 268.6 144.4 271.2 141.8 273.9zM136.9 264.3L139.5 261.7 142.1 264.3 139.5 266.9zM139.2 266.6L141.8 264.0 144.4 266.6 141.8 269.2zM141.5 268.9L144.1 266.3 146.8 268.9 144.1 271.5zM143.8 271.2L146.4 268.6 149.1 271.2 146.4 273.9zM141.5 264.3L144.1 261.7 146.8 264.3 144.1 266.9zM146.1 268.9L148.8 266.3 151.4 268.9 148.8 271.5zM148.5 266.6L151.1 264.0 153.7 266.6 151.1 269.2zM159.0 264.5L161.9 261.7 164.7 264.5 161.9 267.4zM161.6 267.1L164.4 264.2 167.2 267.1 164.4 269.9zM186.8 292.3L189.6 289.5 192.5 292.3 189.6 295.1zM194.4 299.9L197.2 297.1 200.0 299.9 197.2 302.7zM199.4 304.9L202.2 302.1 205.1 304.9 202.2 307.8zM164.1 264.5L166.9 261.7 169.7 264.5 166.9 267.4zM196.9 297.4L199.7 294.5 202.6 297.4 199.7 300.2zM201.9 302.4L204.8 299.6 207.6 302.4 204.8 305.2zM207.0 307.4L209.8 304.6 212.7 307.4 209.8 310.3zM199.4 294.8L202.2 292.0 205.1 294.8 202.2 297.7zM204.5 299.9L207.3 297.1 210.1 299.9 207.3 302.7zM209.5 304.9L212.4 302.1 215.2 304.9 212.4 307.8zM224.7 269.6L227.5 266.8 230.3 269.6 227.5 272.4zM234.8 279.7L237.6 276.8 240.4 279.7 237.6 282.5zM237.3 267.1L240.1 264.2 243.0 267.0 240.1 269.9zM242.3 272.1L245.2 269.3 248.0 272.1 245.2 274.9zM263.6 267.1L266.5 264.3 269.3 267.1 266.5 270.0zM266.2 269.7L269.0 266.8 271.9 269.7 269.0 272.5zM271.3 274.8L274.2 271.9 277.0 274.8 274.2 277.7zM273.9 277.4L276.7 274.5 279.6 277.4 276.7 280.2zM279.0 282.5L281.8 279.6 284.7 282.5 281.8 285.3zM281.5 285.0L284.4 282.2 287.3 285.0 284.4 287.9zM266.2 264.6L269.0 261.7 271.9 264.6 269.0 267.4zM268.7 267.1L271.6 264.3 274.5 267.1 271.6 270.0zM271.3 269.7L274.2 266.8 277.0 269.7 274.2 272.5zM273.9 272.2L276.7 269.4 279.6 272.2 276.7 275.1zM276.4 274.8L279.3 271.9 282.1 274.8 279.3 277.7zM279.0 277.4L281.8 274.5 284.7 277.4 281.8 280.2zM281.5 279.9L284.4 277.1 287.3 279.9 284.4 282.8zM273.9 267.1L276.7 264.3 279.6 267.1 276.7 270.0zM279.0 272.2L281.8 269.4 284.7 272.2 281.8 275.1zM281.5 274.8L284.4 271.9 287.3 274.8 284.4 277.7zM286.7 279.9L289.5 277.1 292.4 279.9 289.5 282.8zM276.4 264.6L279.3 261.7 282.1 264.6 279.3 267.4zM281.5 269.7L284.4 266.8 287.3 269.7 284.4 272.5zM284.1 272.2L287.0 269.4 289.8 272.2 287.0 275.1zM286.7 274.8L289.5 271.9 292.4 274.8 289.5 277.7zM281.5 264.6L284.4 261.7 287.3 264.6 284.4 267.4zM284.1 267.1L287.0 264.3 289.8 267.1 287.0 270.0zM289.2 272.2L292.1 269.4 294.9 272.2 292.1 275.1zM291.8 274.8L294.6 271.9 297.5 274.8 294.6 277.7zM286.7 264.6L289.5 261.7 292.4 264.6 289.5 267.4zM289.2 267.1L292.1 264.3 294.9 267.1 292.1 270.0zM294.3 272.2L297.2 269.4 300.1 272.2 297.2 275.1zM296.9 264.6L299.8 261.7 302.6 264.6 299.8 267.4zM299.5 267.1L302.3 264.3 305.2 267.1 302.3 270.0zM302.0 264.6L304.9 261.7 307.7 264.6 304.9 267.4z"/>
<path fill="#2d2d2d" d="M37.8 262.0L40.0 259.8 42.3 262.0 40.0 264.2zM41.7 262.0L43.9 259.8 46.1 262.0 43.9 264.2zM53.2 262.0L55.4 259.8 57.6 262.0 55.4 264.2zM57.0 262.0L59.2 259.8 61.5 262.0 59.2 264.2zM60.9 262.0L63.1 259.8 65.3 262.0 63.1 264.2zM79.2 262.0L81.8 259.4 84.4 262.0 81.8 264.6zM86.1 268.9L88.7 266.3 91.3 268.9 88.7 271.5zM90.7 273.6L93.3 270.9 95.9 273.6 93.3 276.2zM109.2 292.0L111.8 289.4 114.4 292.0 111.8 294.6zM93.0 262.0L95.6 259.4 98.2 262.0 95.6 264.6zM109.2 278.2L111.8 275.6 114.4 278.2 111.8 280.8zM113.8 282.8L116.4 280.2 119.0 282.8 116.4 285.4zM118.4 287.4L121.0 284.8 123.6 287.4 121.0 290.0zM120.7 289.7L123.3 287.1 126.0 289.7 123.3 292.3zM97.6 262.0L100.2 259.4 102.9 262.0 100.2 264.6zM102.3 266.6L104.9 264.0 107.5 266.6 104.9 269.2zM118.4 282.8L121.0 280.2 123.6 282.8 121.0 285.4zM102.3 262.0L104.9 259.4 107.5 262.0 104.9 264.6zM127.7 287.4L130.3 284.8 132.9 287.4 130.3 290.0zM106.9 262.0L109.5 259.4 112.1 262.0 109.5 264.6zM111.5 266.6L114.1 264.0 116.7 266.6 114.1 269.2zM120.7 275.9L123.3 273.2 126.0 275.9 123.3 278.5zM125.4 280.5L128.0 277.9 130.6 280.5 128.0 283.1zM127.7 282.8L130.3 280.2 132.9 282.8 130.3 285.4zM111.5 262.0L114.1 259.4 116.7 262.0 114.1 264.6zM116.1 262.0L118.7 259.4 121.3 262.0 118.7 264.6zM125.4 262.0L128.0 259.4 130.6 262.0 128.0 264.6zM130.0 262.0L132.6 259.4 135.2 262.0 132.6 264.6zM134.6 266.6L137.2 264.0 139.8 266.6 137.2 269.2zM134.6 262.0L137.2 259.4 139.8 262.0 137.2 264.6zM139.2 262.0L141.8 259.4 144.4 262.0 141.8 264.6zM143.8 266.6L146.4 264.0 149.1 266.6 146.4 269.2zM143.8 262.0L146.4 259.4 149.1 262.0 146.4 264.6zM148.5 262.0L151.1 259.4 153.7 262.0 151.1 264.6zM153.1 262.0L155.7 259.4 158.3 262.0 155.7 264.6zM156.5 262.0L159.3 259.2 162.2 262.0 159.3 264.8zM161.6 262.0L164.4 259.2 167.2 262.0 164.4 264.8zM189.3 289.8L192.2 286.9 195.0 289.8 192.2 292.6zM166.6 262.0L169.4 259.2 172.3 262.0 169.4 264.8zM191.8 287.2L194.7 284.4 197.5 287.2 194.7 290.1zM217.1 262.0L219.9 259.2 222.8 262.0 219.9 264.8zM232.2 262.0L235.1 259.2 237.9 262.0 235.1 264.8zM242.3 262.0L245.2 259.2 248.0 262.0 245.2 264.8zM247.4 267.1L250.2 264.2 253.1 267.1 250.2 269.9zM252.4 262.0L255.3 259.2 258.1 262.0 255.3 264.8zM258.5 262.0L261.4 259.1 264.2 262.0 261.4 264.9zM261.1 264.6L263.9 261.7 266.8 264.6 263.9 267.4zM268.7 272.2L271.6 269.4 274.5 272.2 271.6 275.1zM263.6 262.0L266.5 259.1 269.3 262.0 266.5 264.9zM268.7 262.0L271.6 259.1 274.5 262.0 271.6 264.9zM276.4 269.7L279.3 266.8 282.1 269.7 279.3 272.5zM273.9 262.0L276.7 259.1 279.6 262.0 276.7 264.9zM279.0 262.0L281.8 259.1 284.7 262.0 281.8 264.9zM286.7 269.7L289.5 266.8 292.4 269.7 289.5 272.5zM284.1 262.0L287.0 259.1 289.8 262.0 287.0 264.9zM291.8 269.7L294.6 266.8 297.5 269.7 294.6 272.5zM289.2 262.0L292.1 259.1 294.9 262.0 292.1 264.9zM294.3 267.1L297.2 264.3 300.1 267.1 297.2 270.0zM294.3 262.0L297.2 259.1 300.1 262.0 297.2 264.9zM299.5 262.0L302.3 259.1 305.2 262.0 302.3 264.9zM304.6 262.0L307.4 259.1 310.3 262.0 307.4 264.9z"/>
</g>
<line x1="84.6" y1="262.4" x2="98.0" y2="275.8" stroke="#fff" stroke-width="0.6" opacity="0.85"/>
<line x1="91.0" y1="262.4" x2="101.0" y2="272.4" stroke="#fff" stroke-width="0.6" opacity="0.85"/>
<line x1="124.0" y1="262.4" x2="103.4" y2="283.0" stroke="#fff" stroke-width="0.6" opacity="0.85"/>
<line x1="124.0" y1="262.4" x2="141.0" y2="279.4" stroke="#fff" stroke-width="0.6" opacity="0.85"/>
<line x1="215.2" y1="262.6" x2="187.1" y2="290.7" stroke="#fff" stroke-width="0.6" opacity="0.85"/>
<line x1="230.5" y1="262.6" x2="197.0" y2="296.1" stroke="#fff" stroke-width="0.6" opacity="0.85"/>
<line x1="215.2" y1="262.6" x2="236.0" y2="283.4" stroke="#fff" stroke-width="0.6" opacity="0.85"/>
<line x1="230.5" y1="262.6" x2="243.5" y2="275.6" stroke="#fff" stroke-width="0.6" opacity="0.85"/>
<line x1="174.0" y1="262.6" x2="180.0" y2="268.6" stroke="#fff" stroke-width="0.6" opacity="0.85"/>
<clipPath id="c2"><rect x="379.2" y="262" width="301.8" height="42.5"/></clipPath>
<g clip-path="url(#c2)">
<path fill="#f9f9f9" d="M473.8 272.9L476.3 270.4 478.8 272.9 476.3 275.4zM476.0 275.1L478.5 272.6 481.0 275.1 478.5 277.6zM478.2 277.3L480.7 274.8 483.2 277.3 480.7 279.8zM480.4 279.5L482.9 277.0 485.4 279.5 482.9 282.0zM482.6 281.7L485.1 279.2 487.6 281.7 485.1 284.2zM476.0 270.7L478.4 268.3 480.9 270.8 478.5 273.2zM478.2 272.9L480.6 270.5 483.1 273.0 480.7 275.4zM480.4 275.1L482.8 272.7 485.3 275.2 482.9 277.6zM482.6 277.3L485.0 274.9 487.5 277.4 485.1 279.8zM484.8 279.5L487.2 277.1 489.7 279.6 487.3 282.0zM478.1 268.6L480.6 266.1 483.1 268.6 480.6 271.1zM480.3 270.8L482.8 268.3 485.3 270.8 482.8 273.3zM482.5 273.0L485.0 270.5 487.5 273.0 485.0 275.5zM484.7 275.2L487.2 272.7 489.7 275.2 487.2 277.7zM486.9 277.4L489.4 274.9 491.9 277.4 489.4 279.9z"/>
<path fill="#f3f3f3" d="M408.7 273.6L411.3 271.0 413.9 273.5 411.2 276.2zM410.9 275.9L413.6 273.2 416.2 275.8 413.5 278.5zM413.2 278.2L415.9 275.5 418.4 278.1 415.7 280.7zM415.4 280.4L418.1 277.8 420.7 280.3 418.0 283.0zM411.0 271.3L413.7 268.6 416.3 271.1 413.6 273.8zM413.3 273.5L416.0 270.8 418.5 273.4 415.9 276.1zM415.6 275.8L418.2 273.1 420.8 275.7 418.1 278.4zM417.8 278.1L420.5 275.4 423.1 277.9 420.4 280.6zM413.4 268.9L416.1 266.2 418.7 268.8 416.0 271.4zM415.7 271.1L418.4 268.5 420.9 271.0 418.2 273.7zM417.9 273.4L420.6 270.7 423.2 273.3 420.5 276.0zM420.2 275.7L422.9 273.0 425.4 275.5 422.8 278.2zM469.4 277.3L471.9 274.8 474.4 277.3 471.9 279.8zM471.6 279.5L474.1 277.0 476.6 279.5 474.1 282.0zM473.8 281.7L476.3 279.2 478.8 281.7 476.3 284.2zM476.0 283.9L478.5 281.4 481.0 283.9 478.5 286.4zM478.2 286.1L480.7 283.6 483.2 286.1 480.7 288.6zM471.6 275.1L474.1 272.6 476.6 275.1 474.1 277.6zM473.8 277.3L476.3 274.8 478.8 277.3 476.3 279.8zM476.0 279.5L478.5 277.0 481.0 279.5 478.5 282.0zM478.2 281.7L480.7 279.2 483.2 281.7 480.7 284.2zM480.4 283.9L482.9 281.4 485.4 283.9 482.9 286.4zM480.3 266.4L482.8 263.9 485.3 266.4 482.8 268.9zM482.5 268.6L485.0 266.1 487.5 268.6 485.0 271.1zM484.7 270.8L487.2 268.3 489.7 270.8 487.2 273.3zM486.9 273.0L489.4 270.5 491.9 273.0 489.4 275.5zM489.1 275.2L491.6 272.7 494.1 275.2 491.6 277.7zM482.5 264.2L485.0 261.7 487.5 264.2 485.0 266.7zM484.7 266.4L487.2 263.9 489.7 266.4 487.2 268.9zM486.9 268.6L489.4 266.1 491.9 268.6 489.4 271.1zM489.1 270.8L491.6 268.3 494.1 270.8 491.6 273.3zM491.3 273.0L493.8 270.5 496.3 273.0 493.8 275.5zM644.0 280.1l3.85 3.85 -3.85 3.85 -3.85 -3.85zM630.0 287.1l3.85 3.85 -3.85 3.85 -3.85 -3.85z"/>
<path fill="#ededed" d="M404.2 269.1L406.8 266.5 409.4 269.0 406.7 271.7zM406.4 271.4L409.1 268.7 411.6 271.3 409.0 273.9zM406.5 266.8L409.2 264.1 411.8 266.6 409.1 269.3zM408.8 269.0L411.5 266.3 414.0 268.9 411.3 271.6zM408.9 264.4L411.6 261.7 414.2 264.2 411.5 266.9zM411.2 266.6L413.9 263.9 416.4 266.5 413.7 269.2zM545.7 272.0L548.2 269.4 551.3 272.5 548.8 275.1zM548.5 274.8L551.0 272.2 554.0 275.2 551.5 277.8zM548.0 269.8L550.5 267.2 553.5 270.2 551.0 272.8zM550.7 272.5L553.2 269.9 556.3 273.0 553.8 275.6zM636.0 281.1l4.85 4.85 -4.85 4.85 -4.85 -4.85z"/>
<path fill="#e7e7e7" d="M524.2 273.5L526.4 271.3 528.9 273.9 526.8 276.1zM526.5 275.8L528.6 273.6 531.2 276.1 529.0 278.3zM526.1 271.6L528.2 269.4 530.8 272.0 528.6 274.2zM528.3 273.9L530.5 271.7 533.0 274.2 530.9 276.4zM528.0 269.8L530.1 267.6 532.7 270.1 530.5 272.3zM530.2 272.0L532.4 269.8 534.9 272.4 532.8 274.6zM529.8 267.9L532.0 265.7 534.5 268.2 532.4 270.4zM532.1 270.1L534.2 267.9 536.8 270.5 534.6 272.7zM550.2 267.5L552.3 265.4 555.4 268.4 553.2 270.6zM553.0 270.2L555.1 268.1 558.1 271.2 556.0 273.3zM552.0 265.7L554.2 263.5 557.2 266.6 555.1 268.7zM554.8 268.4L556.9 266.3 560.0 269.3 557.8 271.5zM553.9 263.8L556.0 261.7 559.0 264.8 556.9 266.9zM556.6 266.6L558.8 264.4 561.8 267.5 559.7 269.6zM628.0 275.6l4.35 4.35 -4.35 4.35 -4.35 -4.35z"/>
<path fill="#e1e1e1" d="M517.2 272.5L519.0 270.7 521.3 273.0 519.5 274.8zM519.2 274.5L521.0 272.7 523.3 275.0 521.5 276.8zM518.7 271.0L520.5 269.2 522.8 271.5 521.0 273.3zM520.7 273.0L522.5 271.2 524.8 273.5 523.0 275.3zM534.2 283.5L536.4 281.3 539.4 284.4 537.2 286.6zM538.0 279.8L540.1 277.6 543.2 280.6 541.0 282.8zM539.8 277.9L542.0 275.7 545.0 278.8 542.9 280.9zM531.7 266.0L534.0 263.7 536.5 266.2 534.2 268.6zM534.0 268.2L536.2 265.9 538.8 268.5 536.5 270.8zM533.7 264.0L536.0 261.7 538.5 264.2 536.2 266.6zM536.0 266.2L538.2 263.9 540.8 266.5 538.5 268.8zM563.4 269.7L566.4 266.6 568.9 269.1 565.8 272.1zM569.9 276.2L572.9 273.1 575.4 275.6 572.3 278.6z"/>
<path fill="#dbdbdb" d="M537.0 286.2L539.1 284.1 542.2 287.1 540.0 289.3zM541.9 291.2L544.0 289.0 546.5 291.5 544.3 293.6zM548.4 297.7L550.5 295.5 553.0 298.0 550.8 300.1zM536.1 281.6L538.2 279.4 541.3 282.5 539.1 284.7zM538.8 284.4L541.0 282.2 544.0 285.2 541.9 287.4zM540.7 282.5L542.9 280.3 545.9 283.4 543.8 285.6zM543.5 285.2L545.6 283.1 548.1 285.5 545.9 287.7zM545.6 287.4L547.8 285.2 550.3 287.7 548.1 289.9zM547.8 289.6L550.0 287.4 552.4 289.9 550.2 292.1zM550.0 291.8L552.1 289.6 554.6 292.0 552.4 294.2zM552.1 293.9L554.3 291.7 556.8 294.2 554.6 296.4zM554.3 296.1L556.5 293.9 558.9 296.4 556.8 298.6zM542.6 280.6L544.8 278.4 547.8 281.5 545.6 283.7zM547.5 285.5L549.7 283.4 552.1 285.8 550.0 288.0zM541.7 276.0L544.0 273.7 547.0 276.8 544.8 279.1zM543.7 274.0L546.0 271.7 549.0 274.8 546.8 277.1zM561.2 267.5L564.2 264.4 566.7 266.9 563.7 270.0zM565.5 271.8L568.6 268.8 571.0 271.2 568.0 274.3zM567.7 274.0L570.8 270.9 573.2 273.4 570.2 276.5zM572.0 278.3L575.1 275.3 577.5 277.8 574.5 280.8zM564.0 264.8L567.0 261.7 569.5 264.2 566.4 267.2zM566.1 266.9L569.2 263.9 571.6 266.3 568.6 269.4zM568.3 269.1L571.3 266.0 573.8 268.5 570.8 271.6zM570.5 271.2L573.5 268.2 576.0 270.7 572.9 273.7zM572.6 273.4L575.7 270.4 578.1 272.8 575.1 275.9zM574.8 275.6L577.8 272.5 580.3 275.0 577.2 278.1z"/>
<path fill="#d5d5d5" d="M520.2 269.5L522.4 267.3 524.7 269.6 522.5 271.8zM539.7 289.0L541.9 286.8 544.3 289.3 542.2 291.5zM544.0 293.3L546.2 291.2 548.7 293.6 546.5 295.8zM546.2 295.5L548.4 293.3 550.8 295.8 548.7 298.0zM550.5 299.8L552.7 297.7 555.2 300.1 553.0 302.3zM541.6 287.1L543.8 284.9 546.2 287.4 544.0 289.6zM543.7 289.3L545.9 287.1 548.4 289.6 546.2 291.8zM545.9 291.5L548.1 289.3 550.5 291.8 548.4 293.9zM548.1 293.6L550.2 291.4 552.7 293.9 550.5 296.1zM550.2 295.8L552.4 293.6 554.9 296.1 552.7 298.3zM552.4 298.0L554.6 295.8 557.0 298.2 554.9 300.4zM524.0 265.8L526.1 263.6 528.4 265.9 526.2 268.1zM545.3 283.4L547.5 281.2 550.0 283.7 547.8 285.8zM549.7 287.7L551.8 285.5 554.3 288.0 552.1 290.2zM551.8 289.9L554.0 287.7 556.5 290.2 554.3 292.3zM554.0 292.0L556.2 289.9 558.6 292.3 556.5 294.5zM556.2 294.2L558.3 292.0 560.8 294.5 558.6 296.7zM544.5 278.8L546.8 276.4 549.8 279.5 547.5 281.8zM547.2 281.5L549.5 279.2 552.0 281.7 549.7 284.0zM549.4 283.7L551.7 281.4 554.1 283.8 551.8 286.1zM551.5 285.8L553.8 283.5 556.3 286.0 554.0 288.3zM553.7 288.0L556.0 285.7 558.5 288.2 556.2 290.5zM555.9 290.2L558.2 287.9 560.6 290.3 558.3 292.6zM558.0 292.3L560.3 290.0 562.8 292.5 560.5 294.8zM546.5 276.8L548.8 274.4 551.8 277.5 549.5 279.8z"/>
<path fill="#cfcfcf" d="M515.0 267.2L516.8 265.4 518.9 267.6 517.1 269.4zM522.2 271.5L524.4 269.3 526.7 271.6 524.5 273.8zM522.1 267.6L524.2 265.4 526.5 267.8 524.4 269.9zM526.0 267.8L528.1 265.6 530.4 267.9 528.2 270.1zM525.8 263.9L528.0 261.7 530.3 264.0 528.1 266.2zM549.2 279.5L551.5 277.2 554.0 279.7 551.7 282.0zM551.4 281.7L553.7 279.4 556.1 281.8 553.8 284.1zM553.5 283.8L555.8 281.5 558.3 284.0 556.0 286.3zM555.7 286.0L558.0 283.7 560.5 286.2 558.2 288.5zM557.9 288.2L560.2 285.9 562.6 288.3 560.3 290.6zM560.0 290.3L562.3 288.0 564.8 290.5 562.5 292.8z"/>
<path fill="#c9c9c9" d="M509.1 273.1L511.6 270.6 513.7 272.8 511.2 275.3zM509.7 265.0L511.5 263.2 513.7 265.4 511.9 267.2zM513.5 268.8L515.2 266.9 517.4 269.1 515.6 270.9zM511.2 263.5L513.0 261.7 515.2 263.9 513.4 265.7zM513.1 265.4L514.9 263.6 517.0 265.8 515.2 267.6zM516.8 269.1L518.6 267.3 520.8 269.5 519.0 271.3zM524.1 269.6L526.2 267.4 528.5 269.8 526.4 271.9zM527.8 265.9L530.0 263.7 532.3 266.0 530.1 268.2zM480.0 278.1l2.85 2.85 -2.85 2.85 -2.85 -2.85z"/>
<path fill="#c3c3c3" d="M498.7 276.0L501.2 273.5 503.4 275.7 500.9 278.2zM502.4 279.8L504.9 277.2 507.1 279.4 504.6 281.9zM500.9 273.8L503.4 271.3 505.6 273.5 503.1 276.0zM504.6 277.6L507.1 275.1 509.3 277.2 506.8 279.7zM506.5 279.4L509.0 276.9 511.2 279.1 508.7 281.6zM503.1 271.6L505.6 269.1 507.8 271.3 505.3 273.8zM506.8 275.4L509.4 272.8 511.5 275.0 509.0 277.5zM505.3 269.4L507.8 266.9 510.0 269.1 507.5 271.6zM510.9 275.0L513.4 272.5 515.6 274.7 513.1 277.2zM507.5 267.2L510.0 264.7 512.2 266.9 509.7 269.4zM511.2 270.9L513.8 268.4 515.9 270.6 513.4 273.1zM511.6 266.9L513.4 265.1 515.5 267.2 513.8 269.1zM515.3 270.6L517.1 268.8 519.3 271.0 517.5 272.8zM555.7 262.0L558.8 258.9 561.8 262.0 558.8 265.1z"/>
<path fill="#bdbdbd" d="M500.6 277.9L503.1 275.4 505.2 277.6 502.8 280.1zM504.3 281.6L506.8 279.1 509.0 281.3 506.5 283.8zM502.8 275.7L505.3 273.2 507.4 275.4 504.9 277.9zM505.0 273.5L507.5 271.0 509.7 273.1 507.1 275.7zM508.7 277.2L511.2 274.7 513.4 276.9 510.9 279.4zM507.2 271.3L509.7 268.8 511.9 270.9 509.4 273.4zM509.4 269.1L511.9 266.6 514.0 268.8 511.6 271.2zM513.1 272.8L515.6 270.3 517.8 272.5 515.3 275.0z"/>
<path fill="#b7b7b7" d="M558.5 264.8L561.5 261.7 564.5 264.8 561.5 267.8z"/>
<path fill="#b1b1b1" d="M422.6 268.8L425.1 266.2 427.7 268.8 425.1 271.3zM439.0 271.7L441.6 269.1 444.5 272.0 441.9 274.6z"/>
<path fill="#ababab" d="M420.3 271.0L422.9 268.5 425.4 271.0 422.9 273.6zM422.6 273.3L425.1 270.7 427.7 273.3 425.1 275.8zM420.3 266.5L422.9 264.0 425.4 266.5 422.9 269.1zM436.8 274.0L439.3 271.4 442.2 274.3 439.7 276.8zM433.9 266.5L436.4 264.0 439.3 266.8 436.8 269.4zM436.5 269.1L439.0 266.5 441.9 269.4 439.3 272.0zM436.1 264.3L438.7 261.7 441.6 264.6 439.0 267.1zM438.7 266.8L441.3 264.3 444.2 267.2 441.6 269.7zM441.3 269.4L443.9 266.9 446.8 269.8 444.2 272.3zM561.2 262.0L564.2 258.9 567.3 262.0 564.2 265.1z"/>
<path fill="#a5a5a5" d="M415.8 266.5L418.4 263.9 420.9 266.5 418.4 269.1zM418.1 268.8L420.6 266.2 423.2 268.8 420.6 271.3zM424.8 275.5L427.4 273.0 430.3 275.9 427.7 278.4zM430.0 280.7L432.6 278.2 435.4 281.0 432.9 283.6zM424.8 271.0L427.4 268.5 429.9 271.0 427.4 273.6zM427.1 273.3L429.6 270.7 432.5 273.6 430.0 276.2zM429.7 275.9L432.2 273.3 435.1 276.2 432.6 278.8zM432.3 278.5L434.8 275.9 437.7 278.8 435.1 281.3zM429.3 271.0L431.9 268.5 434.8 271.4 432.2 273.9zM431.9 273.6L434.5 271.1 437.4 274.0 434.8 276.5zM434.5 276.2L437.1 273.7 440.0 276.5 437.4 279.1zM431.6 268.8L434.2 266.2 437.1 269.1 434.5 271.7zM434.2 271.4L436.8 268.8 439.6 271.7 437.1 274.3zM499.4 272.3L501.9 269.8 503.7 271.6 501.2 274.1zM503.8 267.9L506.3 265.4 508.1 267.2 505.6 269.7zM546.1 267.9L548.7 265.4 550.8 267.5 548.2 270.1z"/>
<path fill="#9f9f9f" d="M427.4 278.1L430.0 275.6 432.9 278.5 430.3 281.0zM418.1 264.2L420.6 261.7 423.2 264.3 420.6 266.8zM424.8 266.5L427.4 264.0 429.9 266.5 427.4 269.1zM427.1 264.3L429.6 261.7 432.2 264.3 429.6 266.8zM429.3 262.0L431.9 259.4 434.5 262.0 431.9 264.6zM431.6 264.3L434.2 261.7 436.7 264.3 434.2 266.8zM497.2 274.5L499.7 272.0 501.5 273.8 499.0 276.3zM497.9 270.8L500.4 268.3 502.2 270.1 499.7 272.6zM501.6 270.1L504.1 267.6 505.9 269.4 503.4 271.9zM502.3 266.4L504.8 263.9 506.6 265.7 504.1 268.2zM504.5 264.2L507.0 261.7 508.8 263.5 506.3 266.0zM506.0 265.7L508.5 263.2 510.3 265.0 507.8 267.5zM542.0 268.3L544.6 265.8 546.7 267.9 544.2 270.5zM543.9 270.2L546.4 267.6 548.5 269.8 546.0 272.3zM542.5 264.2L545.0 261.7 547.1 263.8 544.6 266.4zM544.3 266.1L546.8 263.5 549.0 265.7 546.4 268.2z"/>
<path fill="#999999" d="M427.1 268.8L429.6 266.2 432.2 268.8 429.6 271.3zM429.3 266.5L431.9 264.0 434.5 266.5 431.9 269.1zM495.7 273.0L498.2 270.5 500.0 272.3 497.5 274.8zM500.1 268.6L502.6 266.1 504.4 267.9 501.9 270.4zM540.2 266.5L542.8 263.9 544.9 266.1 542.3 268.6z"/>
<path fill="#939393" d="M422.6 264.3L425.1 261.7 427.7 264.3 425.1 266.8zM424.8 262.0L427.4 259.4 429.9 262.0 427.4 264.6zM433.9 262.0L436.4 259.4 439.0 262.0 436.4 264.6zM465.0 264.2L467.5 261.7 470.0 264.2 467.5 266.7zM467.2 262.0L469.7 259.5 472.2 262.0 469.7 264.5zM527.7 262.0L530.0 259.7 532.3 262.0 530.0 264.3zM608.3 264.2L610.8 261.7 613.3 264.2 610.8 266.8zM610.5 266.4L613.0 263.9 615.5 266.5 613.0 269.0zM610.5 262.0L613.0 259.5 615.5 262.0 613.0 264.5zM612.7 264.2L615.2 261.7 617.8 264.2 615.2 266.8z"/>
<path fill="#8d8d8d" d="M420.3 262.0L422.9 259.4 425.4 262.0 422.9 264.6zM469.4 264.2L471.9 261.7 474.4 264.2 471.9 266.7zM516.5 265.8L518.6 263.6 520.8 265.8 518.6 267.9zM520.2 262.0L522.4 259.8 524.5 262.0 522.4 264.2zM529.7 264.0L532.0 261.7 534.3 264.0 532.0 266.3zM606.1 262.0L608.6 259.5 611.1 262.0 608.6 264.5zM615.0 262.0L617.5 259.5 620.0 262.0 617.5 264.5z"/>
<path fill="#878787" d="M467.2 266.4L469.7 263.9 472.2 266.4 469.7 268.9zM522.1 263.9L524.2 261.7 526.4 263.9 524.2 266.1zM606.0 266.4L608.6 263.9 611.1 266.4 608.6 269.0zM615.0 266.5L617.5 263.9 620.0 266.4 617.5 269.0z"/>
<path fill="#818181" d="M397.0 266.8L399.7 264.1 402.4 266.8 399.7 269.4zM401.8 262.0L404.5 259.3 407.1 262.0 404.5 264.7zM462.8 262.0L465.3 259.5 467.8 262.0 465.3 264.5zM471.6 262.0L474.1 259.5 476.6 262.0 474.1 264.5zM512.7 262.0L514.9 259.8 517.0 262.0 514.9 264.2zM518.3 263.9L520.5 261.7 522.7 263.9 520.5 266.1zM531.7 262.0L534.0 259.7 536.3 262.0 534.0 264.3zM603.8 264.2L606.4 261.7 608.9 264.2 606.3 266.8zM612.7 268.7L615.2 266.2 617.8 268.7 615.2 271.2zM617.2 264.2L619.7 261.7 622.2 264.2 619.7 266.8z"/>
<path fill="#7b7b7b" d="M392.2 271.5L394.9 268.8 397.6 271.5 394.9 274.2zM394.6 269.1L397.3 266.5 400.0 269.1 397.3 271.8zM394.6 264.4L397.3 261.7 400.0 264.4 397.3 267.1zM399.4 264.4L402.1 261.7 404.8 264.4 402.1 267.1zM514.6 263.9L516.8 261.7 518.9 263.9 516.8 266.1zM518.3 267.6L520.5 265.4 522.7 267.6 520.5 269.8zM608.3 268.7L610.8 266.1 613.3 268.7 610.8 271.2z"/>
<path fill="#757575" d="M389.8 269.1L392.5 266.5 395.2 269.1 392.5 271.8zM392.2 266.8L394.9 264.1 397.6 266.8 394.9 269.4zM520.2 265.8L522.4 263.6 524.5 265.8 522.4 267.9zM524.0 262.0L526.1 259.8 528.3 262.0 526.1 264.2z"/>
<path fill="#6f6f6f" d="M394.6 273.9L397.3 271.2 400.0 273.9 397.3 276.6zM397.0 271.5L399.7 268.8 402.4 271.5 399.7 274.2zM399.4 269.1L402.1 266.5 404.8 269.1 402.1 271.8zM397.0 262.0L399.7 259.3 402.4 262.0 399.7 264.7zM404.2 264.4L406.8 261.7 409.5 264.4 406.8 267.1zM460.7 268.6L463.1 266.1 465.6 268.6 463.1 271.0zM462.8 266.4L465.3 263.9 467.8 266.4 465.3 268.9zM473.8 268.6L476.3 266.1 478.7 268.6 476.3 271.0zM516.5 262.0L518.6 259.8 520.8 262.0 518.6 264.2zM603.8 268.7L606.3 266.1 608.9 268.7 606.4 271.2zM601.6 262.0L604.1 259.5 606.6 262.0 604.1 264.5zM610.5 270.9L613.0 268.4 615.5 270.9 613.0 273.4zM617.2 268.7L619.7 266.1 622.2 268.7 619.7 271.2zM619.4 270.9L621.9 268.4 624.4 270.9 621.9 273.4zM621.6 273.1L624.1 270.6 626.7 273.1 624.1 275.7zM619.4 262.0L621.9 259.5 624.4 262.0 621.9 264.5zM641.7 262.0L644.2 259.5 646.7 262.0 644.2 264.5z"/>
<path fill="#696969" d="M401.8 266.8L404.5 264.1 407.1 266.8 404.5 269.4zM471.6 266.4L474.1 263.9 476.6 266.4 474.1 268.9zM599.4 268.7L601.9 266.1 604.4 268.7 601.9 271.2zM601.6 270.9L604.1 268.4 606.6 270.9 604.1 273.4zM601.6 266.4L604.1 263.9 606.6 266.4 604.1 269.0zM606.1 270.9L608.6 268.4 611.1 270.9 608.6 273.4zM615.0 270.9L617.5 268.4 620.0 270.9 617.5 273.4zM617.2 273.1L619.7 270.6 622.2 273.1 619.7 275.6zM619.4 275.3L621.9 272.8 624.4 275.4 621.9 277.9zM619.4 266.4L621.9 263.9 624.5 266.4 621.9 269.0zM621.6 268.7L624.2 266.1 626.7 268.7 624.1 271.2zM639.4 264.2L642.0 261.7 644.5 264.2 642.0 266.8z"/>
<path fill="#636363" d="M458.5 266.4L461.0 263.9 463.4 266.4 461.0 268.9zM462.8 270.7L465.3 268.3 467.8 270.7 465.3 273.2zM460.7 264.2L463.1 261.7 465.6 264.2 463.1 266.7zM465.0 268.6L467.5 266.1 470.0 268.6 467.5 271.0zM469.4 268.6L471.9 266.1 474.4 268.6 471.9 271.0zM471.6 270.7L474.1 268.3 476.6 270.7 474.1 273.2zM476.0 266.4L478.4 263.9 480.9 266.4 478.4 268.9zM603.8 273.1L606.4 270.6 608.9 273.1 606.4 275.7zM623.9 270.9L626.4 268.4 628.9 270.9 626.4 273.4zM637.2 262.0L639.7 259.5 642.3 262.0 639.7 264.5z"/>
<path fill="#5d5d5d" d="M473.8 264.2L476.3 261.7 478.7 264.2 476.3 266.7z"/>
<path fill="#575757" d="M406.5 262.0L409.2 259.3 411.9 262.0 409.2 264.7zM608.3 273.1L610.8 270.6 613.3 273.1 610.8 275.6zM612.7 273.1L615.2 270.6 617.8 273.1 615.2 275.7zM615.0 275.4L617.5 272.8 620.0 275.3 617.5 277.9zM617.2 277.6L619.7 275.0 622.2 277.6 619.7 280.1zM623.9 266.4L626.4 263.9 628.9 266.4 626.4 269.0zM626.1 268.7L628.6 266.1 631.1 268.7 628.6 271.2zM643.9 264.2L646.4 261.7 649.0 264.2 646.4 266.8zM646.1 266.5L648.7 263.9 651.2 266.5 648.7 269.0zM648.4 268.7L650.9 266.2 653.4 268.7 650.9 271.2zM650.6 270.9L653.1 268.4 655.7 270.9 653.1 273.5zM652.8 273.2L655.4 270.6 657.9 273.2 655.4 275.7zM655.1 275.4L657.6 272.9 660.1 275.4 657.6 277.9zM657.3 277.6L659.8 275.1 662.4 277.6 659.8 280.2z"/>
<path fill="#515151" d="M597.2 266.4L599.7 263.9 602.2 266.4 599.7 269.0zM606.1 275.4L608.6 272.8 611.1 275.3 608.6 277.9zM599.4 264.2L601.9 261.7 604.4 264.2 601.9 266.8zM621.6 264.2L624.1 261.7 626.7 264.2 624.2 266.8zM643.9 268.7L646.4 266.2 649.0 268.7 646.4 271.2zM646.1 270.9L648.7 268.4 651.2 270.9 648.7 273.5zM650.6 275.4L653.1 272.9 655.7 275.4 653.1 277.9zM655.1 279.9L657.6 277.3 660.1 279.9 657.6 282.4z"/>
<path fill="#4b4b4b" d="M493.5 266.4L496.0 263.9 498.5 266.4 496.0 268.9zM497.9 262.0L500.4 259.5 502.9 262.0 500.4 264.5zM500.1 264.2L502.6 261.7 505.1 264.2 502.6 266.7zM550.2 263.8L552.3 261.7 554.5 263.8 552.3 266.0zM552.0 262.0L554.2 259.9 556.3 262.0 554.2 264.1zM641.7 266.5L644.2 263.9 646.7 266.5 644.2 269.0zM648.4 273.2L650.9 270.6 653.4 273.2 650.9 275.7zM652.8 277.6L655.4 275.1 657.9 277.6 655.4 280.2z"/>
<path fill="#454545" d="M489.1 262.0L491.6 259.5 494.1 262.0 491.6 264.5zM495.7 268.6L498.2 266.1 500.7 268.6 498.2 271.1zM495.7 264.2L498.2 261.7 500.7 264.2 498.2 266.7zM502.3 262.0L504.8 259.5 507.3 262.0 504.8 264.5zM509.7 262.0L511.5 260.2 513.3 262.0 511.5 263.8zM540.2 262.0L542.8 259.4 545.3 262.0 542.8 264.6zM548.4 262.0L550.5 259.9 552.6 262.0 550.5 264.1zM571.0 262.0L573.5 259.5 576.0 262.0 573.5 264.5zM577.5 268.5L580.0 266.0 582.5 268.5 580.0 271.0z"/>
<path fill="#3f3f3f" d="M491.3 268.6L493.8 266.1 496.3 268.6 493.8 271.1zM493.5 270.8L496.0 268.3 498.5 270.8 496.0 273.3zM491.3 264.2L493.8 261.7 496.3 264.2 493.8 266.7zM497.9 266.4L500.4 263.9 502.9 266.4 500.4 268.9zM508.2 263.5L510.0 261.7 511.8 263.5 510.0 265.3zM546.5 263.8L548.7 261.7 550.8 263.8 548.7 266.0zM548.4 265.7L550.5 263.5 552.6 265.7 550.5 267.8zM568.9 264.2L571.3 261.7 573.8 264.2 571.3 266.6zM573.2 264.2L575.7 261.7 578.1 264.2 575.7 266.6zM575.4 266.3L577.8 263.9 580.3 266.3 577.8 268.8zM579.7 270.7L582.2 268.2 584.6 270.7 582.2 273.1zM579.7 266.3L582.2 263.9 584.6 266.3 582.2 268.8zM668.5 266.5L671.0 263.9 673.5 266.5 671.0 269.0z"/>
<path fill="#393939" d="M385.1 264.4L387.8 261.7 390.4 264.4 387.8 267.1zM387.5 266.8L390.1 264.1 392.8 266.8 390.1 269.4zM413.6 264.2L416.1 261.7 418.7 264.2 416.1 266.8zM469.4 272.9L471.9 270.4 474.4 272.9 471.9 275.4zM486.9 264.2L489.4 261.7 491.9 264.2 489.4 266.7zM538.0 264.2L540.5 261.7 543.0 264.2 540.5 266.8zM575.4 270.7L577.8 268.2 580.3 270.7 577.8 273.1zM581.9 264.2L584.3 261.7 586.8 264.2 584.3 266.6zM584.0 262.0L586.5 259.5 589.0 262.0 586.5 264.5zM586.2 264.2L588.7 261.7 591.1 264.2 588.7 266.6zM594.9 264.2L597.5 261.7 600.0 264.2 597.5 266.8zM612.7 282.0L615.2 279.5 617.8 282.0 615.2 284.6zM615.0 279.8L617.5 277.3 620.0 279.8 617.5 282.3zM626.1 264.2L628.6 261.7 631.1 264.2 628.6 266.8zM648.4 264.2L650.9 261.7 653.4 264.2 650.9 266.8zM655.1 270.9L657.6 268.4 660.1 270.9 657.6 273.5zM659.5 275.4L662.1 272.9 664.6 275.4 662.1 277.9zM659.5 266.5L662.1 263.9 664.6 266.5 662.1 269.0zM661.8 264.2L664.3 261.7 666.8 264.2 664.3 266.8zM666.2 268.7L668.8 266.2 671.3 268.7 668.8 271.2zM666.2 264.2L668.8 261.7 671.3 264.2 668.8 266.8zM670.7 264.2L673.2 261.7 675.8 264.2 673.2 266.8zM672.9 262.0L675.5 259.5 678.0 262.0 675.5 264.5z"/>
<path fill="#333333" d="M389.8 264.4L392.5 261.7 395.2 264.4 392.5 267.1zM441.0 264.6L443.9 261.7 446.8 264.6 443.9 267.5zM443.6 267.2L446.4 264.3 449.3 267.2 446.4 270.1zM456.3 264.2L458.8 261.7 461.3 264.2 458.8 266.7zM465.0 272.9L467.5 270.4 470.0 272.9 467.5 275.4zM467.2 275.1L469.7 272.6 472.2 275.1 469.7 277.6zM478.1 264.2L480.6 261.7 483.1 264.2 480.6 266.7zM489.1 266.4L491.6 263.9 494.1 266.4 491.6 268.9zM571.0 266.3L573.5 263.9 576.0 266.3 573.5 268.8zM573.2 268.5L575.7 266.0 578.1 268.5 575.7 271.0zM577.5 272.8L580.0 270.4 582.5 272.8 580.0 275.3zM577.5 264.2L580.0 261.7 582.5 264.2 580.0 266.6zM581.9 268.5L584.3 266.0 586.8 268.5 584.3 271.0zM584.0 266.3L586.5 263.9 589.0 266.3 586.5 268.8zM608.3 277.6L610.8 275.0 613.3 277.6 610.8 280.1zM610.5 279.8L613.0 277.3 615.5 279.8 613.0 282.3zM612.7 277.6L615.2 275.1 617.8 277.6 615.2 280.1zM628.3 266.4L630.8 263.9 633.3 266.4 630.8 269.0zM630.5 264.2L633.0 261.7 635.6 264.2 633.0 266.8zM650.6 266.5L653.1 263.9 655.7 266.5 653.1 269.0zM652.8 264.2L655.4 261.7 657.9 264.2 655.4 266.8zM655.1 266.5L657.6 263.9 660.1 266.5 657.6 269.0zM657.3 268.7L659.8 266.2 662.4 268.7 659.8 271.2zM659.5 270.9L662.1 268.4 664.6 270.9 662.1 273.5zM661.8 273.2L664.3 270.6 666.8 273.2 664.3 275.7zM657.3 264.2L659.8 261.7 662.4 264.2 659.8 266.8zM661.8 268.7L664.3 266.2 666.8 268.7 664.3 271.2zM664.0 270.9L666.5 268.4 669.1 270.9 666.5 273.5zM664.0 266.5L666.5 263.9 669.1 266.5 666.5 269.0z"/>
<path fill="#2d2d2d" d="M382.7 262.0L385.4 259.3 388.1 262.0 385.4 264.7zM387.5 262.0L390.1 259.3 392.8 262.0 390.1 264.7zM392.2 262.0L394.9 259.3 397.6 262.0 394.9 264.7zM411.3 262.0L413.9 259.4 416.4 262.0 413.9 264.6zM415.8 262.0L418.4 259.4 420.9 262.0 418.4 264.6zM438.4 262.0L441.3 259.1 444.2 262.0 441.3 264.9zM443.6 262.0L446.4 259.1 449.3 262.0 446.4 264.9zM446.1 264.6L449.0 261.7 451.9 264.6 449.0 267.5zM448.7 262.0L451.6 259.1 454.5 262.0 451.6 264.9zM454.1 262.0L456.6 259.5 459.1 262.0 456.6 264.5zM458.5 262.0L461.0 259.5 463.4 262.0 461.0 264.5zM467.2 270.7L469.7 268.3 472.2 270.7 469.7 273.2zM476.0 262.0L478.4 259.5 480.9 262.0 478.4 264.5zM480.3 262.0L482.8 259.5 485.3 262.0 482.8 264.5zM484.7 262.0L487.2 259.5 489.7 262.0 487.2 264.5zM493.5 262.0L496.0 259.5 498.5 262.0 496.0 264.5zM506.7 262.0L508.5 260.2 510.3 262.0 508.5 263.8zM535.7 262.0L538.2 259.4 540.8 262.0 538.2 264.6zM544.7 262.0L546.8 259.9 549.0 262.0 546.8 264.1zM566.7 262.0L569.2 259.5 571.6 262.0 569.2 264.5zM575.4 262.0L577.8 259.5 580.3 262.0 577.8 264.5zM579.7 262.0L582.2 259.5 584.6 262.0 582.2 264.5zM588.4 262.0L590.8 259.5 593.3 262.0 590.8 264.5zM592.7 262.0L595.2 259.5 597.8 262.0 595.2 264.5zM597.2 262.0L599.7 259.5 602.2 262.0 599.7 264.5zM610.5 275.3L613.0 272.8 615.5 275.4 613.0 277.9zM623.9 262.0L626.4 259.5 628.9 262.0 626.4 264.5zM628.3 262.0L630.8 259.5 633.3 262.0 630.8 264.5zM632.8 262.0L635.3 259.5 637.8 262.0 635.3 264.5zM646.1 262.0L648.7 259.5 651.2 262.0 648.7 264.5zM652.8 268.7L655.4 266.2 657.9 268.7 655.4 271.2zM657.3 273.2L659.8 270.6 662.4 273.2 659.8 275.7zM650.6 262.0L653.1 259.5 655.7 262.0 653.1 264.5zM655.1 262.0L657.6 259.5 660.1 262.0 657.6 264.5zM659.5 262.0L662.1 259.5 664.6 262.0 662.1 264.5zM664.0 262.0L666.5 259.5 669.1 262.0 666.5 264.5zM668.5 262.0L671.0 259.5 673.5 262.0 671.0 264.5z"/>
</g>
<rect x="26.4" y="261.0" width="294.4" height="1.6" fill="#2a2a2a"/>
<rect x="26.4" y="252.2" width="294.4" height="2.6" fill="#e4e4e4"/>
<rect x="26.4" y="252.3" width="1.5" height="2.4" fill="#c8c8c8"/>
<rect x="28.3" y="252.3" width="1.1" height="2.4" fill="#d4d4d4"/>
<rect x="29.8" y="252.3" width="0.5" height="2.4" fill="#b0b0b0"/>
<rect x="31.3" y="252.3" width="0.5" height="2.4" fill="#b0b0b0"/>
<rect x="32.9" y="252.3" width="0.8" height="2.4" fill="#c8c8c8"/>
<rect x="34.8" y="252.3" width="1.2" height="2.4" fill="#d4d4d4"/>
<rect x="36.9" y="252.3" width="0.5" height="2.4" fill="#bdbdbd"/>
<rect x="38.1" y="252.3" width="0.7" height="2.4" fill="#c8c8c8"/>
<rect x="39.2" y="252.3" width="0.5" height="2.4" fill="#bdbdbd"/>
<rect x="40.7" y="252.3" width="1.1" height="2.4" fill="#b0b0b0"/>
<rect x="42.1" y="252.3" width="0.8" height="2.4" fill="#c8c8c8"/>
<rect x="43.4" y="252.3" width="0.7" height="2.4" fill="#c8c8c8"/>
<rect x="44.8" y="252.3" width="0.8" height="2.4" fill="#bdbdbd"/>
<rect x="46.2" y="252.3" width="0.7" height="2.4" fill="#b0b0b0"/>
<rect x="47.5" y="252.3" width="0.9" height="2.4" fill="#c8c8c8"/>
<rect x="48.9" y="252.3" width="0.8" height="2.4" fill="#bdbdbd"/>
<rect x="50.2" y="252.3" width="1.1" height="2.4" fill="#d4d4d4"/>
<rect x="52.2" y="252.3" width="1.4" height="2.4" fill="#d4d4d4"/>
<rect x="53.9" y="252.3" width="1.5" height="2.4" fill="#b0b0b0"/>
<rect x="55.7" y="252.3" width="1.3" height="2.4" fill="#bdbdbd"/>
<rect x="58.1" y="252.3" width="1.4" height="2.4" fill="#c8c8c8"/>
<rect x="60.1" y="252.3" width="0.5" height="2.4" fill="#e8d870"/>
<rect x="61.4" y="252.3" width="0.8" height="2.4" fill="#b0b0b0"/>
<rect x="63.0" y="252.3" width="0.9" height="2.4" fill="#e8d870"/>
<rect x="64.9" y="252.3" width="1.1" height="2.4" fill="#e8d870"/>
<rect x="66.3" y="252.3" width="0.6" height="2.4" fill="#bdbdbd"/>
<rect x="68.0" y="252.3" width="0.9" height="2.4" fill="#e8d870"/>
<rect x="69.7" y="252.3" width="1.0" height="2.4" fill="#e8d870"/>
<rect x="71.0" y="252.3" width="1.2" height="2.4" fill="#bdbdbd"/>
<rect x="73.2" y="252.3" width="1.1" height="2.4" fill="#bdbdbd"/>
<rect x="74.5" y="252.3" width="1.0" height="2.4" fill="#bdbdbd"/>
<rect x="76.0" y="252.3" width="0.6" height="2.4" fill="#d4d4d4"/>
<rect x="77.4" y="252.3" width="0.6" height="2.4" fill="#bdbdbd"/>
<rect x="79.2" y="252.3" width="0.8" height="2.4" fill="#bdbdbd"/>
<rect x="81.2" y="252.3" width="1.0" height="2.4" fill="#d4d4d4"/>
<rect x="83.2" y="252.3" width="0.6" height="2.4" fill="#b0b0b0"/>
<rect x="84.8" y="252.3" width="1.0" height="2.4" fill="#c8c8c8"/>
<rect x="86.4" y="252.3" width="0.5" height="2.4" fill="#c8c8c8"/>
<rect x="87.2" y="252.3" width="0.8" height="2.4" fill="#80d0a0"/>
<rect x="89.0" y="252.3" width="1.1" height="2.4" fill="#bdbdbd"/>
<rect x="91.0" y="252.3" width="0.9" height="2.4" fill="#c8c8c8"/>
<rect x="92.2" y="252.3" width="1.4" height="2.4" fill="#80d0a0"/>
<rect x="94.8" y="252.3" width="0.8" height="2.4" fill="#80d0a0"/>
<rect x="96.3" y="252.3" width="0.4" height="2.4" fill="#d4d4d4"/>
<rect x="97.3" y="252.3" width="1.2" height="2.4" fill="#80d0a0"/>
<rect x="99.7" y="252.3" width="1.3" height="2.4" fill="#80d0a0"/>
<rect x="101.7" y="252.3" width="0.8" height="2.4" fill="#b0b0b0"/>
<rect x="103.5" y="252.3" width="0.4" height="2.4" fill="#d4d4d4"/>
<rect x="104.7" y="252.3" width="0.5" height="2.4" fill="#b0b0b0"/>
<rect x="105.7" y="252.3" width="1.3" height="2.4" fill="#b0b0b0"/>
<rect x="107.4" y="252.3" width="0.7" height="2.4" fill="#c8c8c8"/>
<rect x="108.7" y="252.3" width="1.3" height="2.4" fill="#d4d4d4"/>
<rect x="110.8" y="252.3" width="1.3" height="2.4" fill="#c8c8c8"/>
<rect x="112.8" y="252.3" width="0.8" height="2.4" fill="#bdbdbd"/>
<rect x="114.2" y="252.3" width="1.1" height="2.4" fill="#c8c8c8"/>
<rect x="116.2" y="252.3" width="0.5" height="2.4" fill="#d4d4d4"/>
<rect x="117.2" y="252.3" width="0.5" height="2.4" fill="#c8c8c8"/>
<rect x="118.1" y="252.3" width="0.8" height="2.4" fill="#bdbdbd"/>
<rect x="119.6" y="252.3" width="1.2" height="2.4" fill="#bdbdbd"/>
<rect x="121.2" y="252.3" width="1.0" height="2.4" fill="#bdbdbd"/>
<rect x="123.2" y="252.3" width="1.3" height="2.4" fill="#bdbdbd"/>
<rect x="125.2" y="252.3" width="1.4" height="2.4" fill="#b0b0b0"/>
<rect x="127.3" y="252.3" width="1.4" height="2.4" fill="#d4d4d4"/>
<rect x="129.6" y="252.3" width="1.0" height="2.4" fill="#b0b0b0"/>
<rect x="131.1" y="252.3" width="1.1" height="2.4" fill="#bdbdbd"/>
<rect x="133.3" y="252.3" width="1.3" height="2.4" fill="#b0b0b0"/>
<rect x="135.5" y="252.3" width="0.4" height="2.4" fill="#c8c8c8"/>
<rect x="136.1" y="252.3" width="1.4" height="2.4" fill="#b0b0b0"/>
<rect x="138.6" y="252.3" width="1.4" height="2.4" fill="#bdbdbd"/>
<rect x="140.4" y="252.3" width="0.9" height="2.4" fill="#b0b0b0"/>
<rect x="142.4" y="252.3" width="0.6" height="2.4" fill="#b0b0b0"/>
<rect x="143.6" y="252.3" width="0.8" height="2.4" fill="#d4d4d4"/>
<rect x="144.9" y="252.3" width="1.0" height="2.4" fill="#b0b0b0"/>
<rect x="147.0" y="252.3" width="0.9" height="2.4" fill="#b0b0b0"/>
<rect x="148.6" y="252.3" width="0.6" height="2.4" fill="#c8c8c8"/>
<rect x="150.2" y="252.3" width="1.2" height="2.4" fill="#c8c8c8"/>
<rect x="152.1" y="252.3" width="0.7" height="2.4" fill="#c8c8c8"/>
<rect x="153.8" y="252.3" width="0.5" height="2.4" fill="#d4d4d4"/>
<rect x="154.9" y="252.3" width="0.6" height="2.4" fill="#d4d4d4"/>
<rect x="155.7" y="252.3" width="0.8" height="2.4" fill="#d4d4d4"/>
<rect x="156.8" y="252.3" width="1.1" height="2.4" fill="#d4d4d4"/>
<rect x="158.6" y="252.3" width="1.0" height="2.4" fill="#d4d4d4"/>
<rect x="160.5" y="252.3" width="1.3" height="2.4" fill="#d4d4d4"/>
<rect x="162.3" y="252.3" width="0.7" height="2.4" fill="#bdbdbd"/>
<rect x="164.2" y="252.3" width="0.5" height="2.4" fill="#d4d4d4"/>
<rect x="165.7" y="252.3" width="0.5" height="2.4" fill="#d4d4d4"/>
<rect x="167.1" y="252.3" width="0.7" height="2.4" fill="#d08080"/>
<rect x="168.9" y="252.3" width="1.0" height="2.4" fill="#d08080"/>
<rect x="170.8" y="252.3" width="0.6" height="2.4" fill="#b0b0b0"/>
<rect x="172.0" y="252.3" width="1.2" height="2.4" fill="#d08080"/>
<rect x="173.9" y="252.3" width="1.3" height="2.4" fill="#d08080"/>
<rect x="176.2" y="252.3" width="1.3" height="2.4" fill="#d08080"/>
<rect x="178.0" y="252.3" width="0.7" height="2.4" fill="#d08080"/>
<rect x="179.1" y="252.3" width="1.0" height="2.4" fill="#b0b0b0"/>
<rect x="180.8" y="252.3" width="1.3" height="2.4" fill="#bdbdbd"/>
<rect x="182.9" y="252.3" width="0.7" height="2.4" fill="#d4d4d4"/>
<rect x="184.1" y="252.3" width="1.5" height="2.4" fill="#c8c8c8"/>
<rect x="185.8" y="252.3" width="1.1" height="2.4" fill="#b0b0b0"/>
<rect x="187.7" y="252.3" width="0.5" height="2.4" fill="#c8c8c8"/>
<rect x="188.8" y="252.3" width="0.5" height="2.4" fill="#b0b0b0"/>
<rect x="189.6" y="252.3" width="0.6" height="2.4" fill="#b0b0b0"/>
<rect x="190.5" y="252.3" width="1.4" height="2.4" fill="#c8c8c8"/>
<rect x="192.8" y="252.3" width="0.7" height="2.4" fill="#bdbdbd"/>
<rect x="194.2" y="252.3" width="0.6" height="2.4" fill="#bdbdbd"/>
<rect x="195.7" y="252.3" width="1.1" height="2.4" fill="#d4d4d4"/>
<rect x="197.6" y="252.3" width="0.8" height="2.4" fill="#b0b0b0"/>
<rect x="198.7" y="252.3" width="0.6" height="2.4" fill="#e8b8a0"/>
<rect x="199.9" y="252.3" width="0.4" height="2.4" fill="#e8b8a0"/>
<rect x="200.9" y="252.3" width="0.9" height="2.4" fill="#e8b8a0"/>
<rect x="202.7" y="252.3" width="0.8" height="2.4" fill="#e8b8a0"/>
<rect x="204.4" y="252.3" width="0.7" height="2.4" fill="#b0b0b0"/>
<rect x="205.8" y="252.3" width="1.4" height="2.4" fill="#e8b8a0"/>
<rect x="207.6" y="252.3" width="1.4" height="2.4" fill="#bdbdbd"/>
<rect x="209.7" y="252.3" width="0.8" height="2.4" fill="#bdbdbd"/>
<rect x="211.0" y="252.3" width="0.4" height="2.4" fill="#d4d4d4"/>
<rect x="212.1" y="252.3" width="0.7" height="2.4" fill="#c8c8c8"/>
<rect x="213.9" y="252.3" width="1.5" height="2.4" fill="#bdbdbd"/>
<rect x="215.7" y="252.3" width="1.3" height="2.4" fill="#b0b0b0"/>
<rect x="217.6" y="252.3" width="0.6" height="2.4" fill="#c8c8c8"/>
<rect x="218.5" y="252.3" width="0.4" height="2.4" fill="#bdbdbd"/>
<rect x="219.3" y="252.3" width="0.9" height="2.4" fill="#d4d4d4"/>
<rect x="221.0" y="252.3" width="0.7" height="2.4" fill="#b0b0b0"/>
<rect x="222.7" y="252.3" width="0.8" height="2.4" fill="#bdbdbd"/>
<rect x="224.3" y="252.3" width="1.5" height="2.4" fill="#c8c8c8"/>
<rect x="226.1" y="252.3" width="0.8" height="2.4" fill="#bdbdbd"/>
<rect x="228.0" y="252.3" width="1.3" height="2.4" fill="#b0b0b0"/>
<rect x="230.2" y="252.3" width="0.4" height="2.4" fill="#d4d4d4"/>
<rect x="231.3" y="252.3" width="1.4" height="2.4" fill="#d4d4d4"/>
<rect x="233.1" y="252.3" width="0.6" height="2.4" fill="#b0b0b0"/>
<rect x="233.9" y="252.3" width="0.4" height="2.4" fill="#d4d4d4"/>
<rect x="234.7" y="252.3" width="0.8" height="2.4" fill="#bdbdbd"/>
<rect x="236.3" y="252.3" width="1.5" height="2.4" fill="#d4d4d4"/>
<rect x="238.1" y="252.3" width="0.7" height="2.4" fill="#c8c8c8"/>
<rect x="239.8" y="252.3" width="1.1" height="2.4" fill="#d4d4d4"/>
<rect x="241.2" y="252.3" width="1.4" height="2.4" fill="#c8c8c8"/>
<rect x="243.0" y="252.3" width="0.5" height="2.4" fill="#b0b0b0"/>
<rect x="244.7" y="252.3" width="1.4" height="2.4" fill="#b0b0b0"/>
<rect x="246.6" y="252.3" width="1.5" height="2.4" fill="#bdbdbd"/>
<rect x="249.0" y="252.3" width="1.1" height="2.4" fill="#c8c8c8"/>
<rect x="250.6" y="252.3" width="0.6" height="2.4" fill="#c8c8c8"/>
<rect x="251.7" y="252.3" width="0.5" height="2.4" fill="#bdbdbd"/>
<rect x="253.4" y="252.3" width="0.7" height="2.4" fill="#bdbdbd"/>
<rect x="254.8" y="252.3" width="1.3" height="2.4" fill="#b0b0b0"/>
<rect x="256.4" y="252.3" width="0.9" height="2.4" fill="#bdbdbd"/>
<rect x="258.2" y="252.3" width="0.4" height="2.4" fill="#d4d4d4"/>
<rect x="259.6" y="252.3" width="0.9" height="2.4" fill="#c8c8c8"/>
<rect x="261.4" y="252.3" width="1.2" height="2.4" fill="#c8c8c8"/>
<rect x="263.2" y="252.3" width="0.4" height="2.4" fill="#c8c8c8"/>
<rect x="263.9" y="252.3" width="1.2" height="2.4" fill="#d4d4d4"/>
<rect x="265.6" y="252.3" width="1.0" height="2.4" fill="#b0b0b0"/>
<rect x="267.0" y="252.3" width="0.5" height="2.4" fill="#b0b0b0"/>
<rect x="268.5" y="252.3" width="1.2" height="2.4" fill="#bdbdbd"/>
<rect x="270.4" y="252.3" width="0.4" height="2.4" fill="#b0b0b0"/>
<rect x="272.0" y="252.3" width="1.0" height="2.4" fill="#d4d4d4"/>
<rect x="273.2" y="252.3" width="0.9" height="2.4" fill="#bdbdbd"/>
<rect x="274.7" y="252.3" width="1.4" height="2.4" fill="#b0b0b0"/>
<rect x="276.7" y="252.3" width="0.7" height="2.4" fill="#c8c8c8"/>
<rect x="277.7" y="252.3" width="0.7" height="2.4" fill="#d4d4d4"/>
<rect x="278.9" y="252.3" width="0.7" height="2.4" fill="#b0b0b0"/>
<rect x="280.5" y="252.3" width="1.5" height="2.4" fill="#b0b0b0"/>
<rect x="283.0" y="252.3" width="1.5" height="2.4" fill="#b0b0b0"/>
<rect x="285.5" y="252.3" width="0.7" height="2.4" fill="#b0b0b0"/>
<rect x="287.3" y="252.3" width="1.3" height="2.4" fill="#d4d4d4"/>
<rect x="289.4" y="252.3" width="0.6" height="2.4" fill="#bdbdbd"/>
<rect x="290.6" y="252.3" width="1.5" height="2.4" fill="#c8c8c8"/>
<rect x="292.6" y="252.3" width="0.9" height="2.4" fill="#bdbdbd"/>
<rect x="294.5" y="252.3" width="0.9" height="2.4" fill="#d4d4d4"/>
<rect x="296.0" y="252.3" width="1.5" height="2.4" fill="#d4d4d4"/>
<rect x="297.8" y="252.3" width="0.8" height="2.4" fill="#d4d4d4"/>
<rect x="298.9" y="252.3" width="0.7" height="2.4" fill="#b0b0b0"/>
<rect x="300.8" y="252.3" width="1.3" height="2.4" fill="#d4d4d4"/>
<rect x="302.8" y="252.3" width="1.5" height="2.4" fill="#d4d4d4"/>
<rect x="304.9" y="252.3" width="0.7" height="2.4" fill="#d4d4d4"/>
<rect x="306.1" y="252.3" width="1.4" height="2.4" fill="#d4d4d4"/>
<rect x="308.7" y="252.3" width="1.2" height="2.4" fill="#bdbdbd"/>
<rect x="310.4" y="252.3" width="0.4" height="2.4" fill="#b0b0b0"/>
<rect x="311.8" y="252.3" width="1.2" height="2.4" fill="#bdbdbd"/>
<rect x="313.6" y="252.3" width="1.4" height="2.4" fill="#d4d4d4"/>
<rect x="315.3" y="252.3" width="0.7" height="2.4" fill="#b0b0b0"/>
<rect x="316.6" y="252.3" width="0.5" height="2.4" fill="#c8c8c8"/>
<rect x="318.3" y="252.3" width="0.8" height="2.4" fill="#bdbdbd"/>
<rect x="319.8" y="252.3" width="0.5" height="2.4" fill="#bdbdbd"/>
<rect x="320.5" y="252.3" width="1.2" height="2.4" fill="#d4d4d4"/>
<rect x="383.2" y="261.0" width="293.8" height="1.6" fill="#2a2a2a"/>
<rect x="383.2" y="252.2" width="293.8" height="2.6" fill="#e4e4e4"/>
<rect x="383.2" y="252.3" width="0.4" height="2.4" fill="#b0b0b0"/>
<rect x="384.5" y="252.3" width="1.4" height="2.4" fill="#b0b0b0"/>
<rect x="386.9" y="252.3" width="1.5" height="2.4" fill="#b0b0b0"/>
<rect x="389.3" y="252.3" width="0.9" height="2.4" fill="#bdbdbd"/>
<rect x="390.8" y="252.3" width="1.0" height="2.4" fill="#b0b0b0"/>
<rect x="393.0" y="252.3" width="0.7" height="2.4" fill="#b0b0b0"/>
<rect x="394.3" y="252.3" width="1.3" height="2.4" fill="#bdbdbd"/>
<rect x="396.2" y="252.3" width="1.4" height="2.4" fill="#b0b0b0"/>
<rect x="398.6" y="252.3" width="0.6" height="2.4" fill="#b0b0b0"/>
<rect x="399.7" y="252.3" width="1.1" height="2.4" fill="#c8c8c8"/>
<rect x="401.4" y="252.3" width="0.8" height="2.4" fill="#b0b0b0"/>
<rect x="403.2" y="252.3" width="1.5" height="2.4" fill="#bdbdbd"/>
<rect x="405.7" y="252.3" width="0.7" height="2.4" fill="#c8c8c8"/>
<rect x="407.1" y="252.3" width="1.4" height="2.4" fill="#d4d4d4"/>
<rect x="409.6" y="252.3" width="0.8" height="2.4" fill="#c8c8c8"/>
<rect x="410.9" y="252.3" width="0.8" height="2.4" fill="#b0b0b0"/>
<rect x="412.4" y="252.3" width="1.1" height="2.4" fill="#c8c8c8"/>
<rect x="413.9" y="252.3" width="0.4" height="2.4" fill="#d4d4d4"/>
<rect x="414.7" y="252.3" width="0.7" height="2.4" fill="#c8c8c8"/>
<rect x="416.4" y="252.3" width="0.6" height="2.4" fill="#c8c8c8"/>
<rect x="417.2" y="252.3" width="0.8" height="2.4" fill="#b0b0b0"/>
<rect x="418.6" y="252.3" width="0.6" height="2.4" fill="#b0b0b0"/>
<rect x="420.0" y="252.3" width="0.8" height="2.4" fill="#b0b0b0"/>
<rect x="421.5" y="252.3" width="1.4" height="2.4" fill="#d4d4d4"/>
<rect x="423.5" y="252.3" width="0.7" height="2.4" fill="#bdbdbd"/>
<rect x="425.0" y="252.3" width="0.8" height="2.4" fill="#c8c8c8"/>
<rect x="426.1" y="252.3" width="1.1" height="2.4" fill="#c8c8c8"/>
<rect x="427.7" y="252.3" width="1.2" height="2.4" fill="#b0b0b0"/>
<rect x="430.1" y="252.3" width="1.1" height="2.4" fill="#c8c8c8"/>
<rect x="432.0" y="252.3" width="1.2" height="2.4" fill="#b0b0b0"/>
<rect x="434.1" y="252.3" width="0.9" height="2.4" fill="#d4d4d4"/>
<rect x="435.8" y="252.3" width="1.4" height="2.4" fill="#d4d4d4"/>
<rect x="437.7" y="252.3" width="0.6" height="2.4" fill="#bdbdbd"/>
<rect x="438.8" y="252.3" width="0.5" height="2.4" fill="#bdbdbd"/>
<rect x="439.8" y="252.3" width="0.5" height="2.4" fill="#d4d4d4"/>
<rect x="441.4" y="252.3" width="0.5" height="2.4" fill="#d4d4d4"/>
<rect x="443.0" y="252.3" width="1.4" height="2.4" fill="#b0b0b0"/>
<rect x="444.7" y="252.3" width="0.6" height="2.4" fill="#c8c8c8"/>
<rect x="445.8" y="252.3" width="0.7" height="2.4" fill="#bdbdbd"/>
<rect x="447.5" y="252.3" width="1.5" height="2.4" fill="#b898d8"/>
<rect x="450.0" y="252.3" width="0.5" height="2.4" fill="#b898d8"/>
<rect x="451.5" y="252.3" width="1.2" height="2.4" fill="#b898d8"/>
<rect x="453.1" y="252.3" width="1.3" height="2.4" fill="#b898d8"/>
<rect x="455.3" y="252.3" width="0.5" height="2.4" fill="#b0b0b0"/>
<rect x="456.8" y="252.3" width="1.3" height="2.4" fill="#b898d8"/>
<rect x="459.2" y="252.3" width="0.7" height="2.4" fill="#b898d8"/>
<rect x="460.8" y="252.3" width="1.5" height="2.4" fill="#b898d8"/>
<rect x="463.4" y="252.3" width="0.6" height="2.4" fill="#e8d870"/>
<rect x="464.5" y="252.3" width="0.8" height="2.4" fill="#bdbdbd"/>
<rect x="465.9" y="252.3" width="0.9" height="2.4" fill="#d4d4d4"/>
<rect x="467.3" y="252.3" width="0.8" height="2.4" fill="#bdbdbd"/>
<rect x="468.7" y="252.3" width="0.5" height="2.4" fill="#e8d870"/>
<rect x="469.9" y="252.3" width="0.5" height="2.4" fill="#e8d870"/>
<rect x="471.2" y="252.3" width="0.9" height="2.4" fill="#e8d870"/>
<rect x="472.5" y="252.3" width="0.9" height="2.4" fill="#e8d870"/>
<rect x="474.0" y="252.3" width="1.5" height="2.4" fill="#e8d870"/>
<rect x="475.7" y="252.3" width="0.9" height="2.4" fill="#e8d870"/>
<rect x="477.7" y="252.3" width="1.4" height="2.4" fill="#d8a0a0"/>
<rect x="480.1" y="252.3" width="1.4" height="2.4" fill="#d4d4d4"/>
<rect x="482.4" y="252.3" width="0.4" height="2.4" fill="#bdbdbd"/>
<rect x="483.8" y="252.3" width="0.8" height="2.4" fill="#bdbdbd"/>
<rect x="485.2" y="252.3" width="0.8" height="2.4" fill="#d8a0a0"/>
<rect x="486.7" y="252.3" width="0.5" height="2.4" fill="#d8a0a0"/>
<rect x="487.8" y="252.3" width="0.8" height="2.4" fill="#bdbdbd"/>
<rect x="489.1" y="252.3" width="1.0" height="2.4" fill="#d8a0a0"/>
<rect x="490.6" y="252.3" width="0.4" height="2.4" fill="#d8a0a0"/>
<rect x="492.1" y="252.3" width="1.2" height="2.4" fill="#d4d4d4"/>
<rect x="493.9" y="252.3" width="0.6" height="2.4" fill="#c8c8c8"/>
<rect x="495.3" y="252.3" width="1.4" height="2.4" fill="#c8c8c8"/>
<rect x="497.2" y="252.3" width="0.6" height="2.4" fill="#d8a0a0"/>
<rect x="498.5" y="252.3" width="1.2" height="2.4" fill="#d4d4d4"/>
<rect x="500.5" y="252.3" width="1.0" height="2.4" fill="#bdbdbd"/>
<rect x="502.3" y="252.3" width="0.6" height="2.4" fill="#90d0b0"/>
<rect x="503.2" y="252.3" width="1.2" height="2.4" fill="#90d0b0"/>
<rect x="505.3" y="252.3" width="1.2" height="2.4" fill="#90d0b0"/>
<rect x="507.4" y="252.3" width="1.0" height="2.4" fill="#90d0b0"/>
<rect x="508.7" y="252.3" width="1.3" height="2.4" fill="#90d0b0"/>
<rect x="510.6" y="252.3" width="1.2" height="2.4" fill="#90d0b0"/>
<rect x="512.3" y="252.3" width="0.9" height="2.4" fill="#b0b0b0"/>
<rect x="514.2" y="252.3" width="0.5" height="2.4" fill="#b0b0b0"/>
<rect x="515.0" y="252.3" width="0.8" height="2.4" fill="#d4d4d4"/>
<rect x="516.1" y="252.3" width="0.8" height="2.4" fill="#d4d4d4"/>
<rect x="517.3" y="252.3" width="1.3" height="2.4" fill="#bdbdbd"/>
<rect x="519.1" y="252.3" width="1.0" height="2.4" fill="#b0b0b0"/>
<rect x="520.9" y="252.3" width="1.4" height="2.4" fill="#bdbdbd"/>
<rect x="522.9" y="252.3" width="0.4" height="2.4" fill="#d4d4d4"/>
<rect x="524.1" y="252.3" width="0.5" height="2.4" fill="#b0b0b0"/>
<rect x="525.5" y="252.3" width="0.9" height="2.4" fill="#d4d4d4"/>
<rect x="527.5" y="252.3" width="0.5" height="2.4" fill="#c8c8c8"/>
<rect x="528.9" y="252.3" width="1.4" height="2.4" fill="#b0b0b0"/>
<rect x="531.3" y="252.3" width="1.3" height="2.4" fill="#bdbdbd"/>
<rect x="533.7" y="252.3" width="1.2" height="2.4" fill="#b0b0b0"/>
<rect x="535.2" y="252.3" width="0.5" height="2.4" fill="#c8c8c8"/>
<rect x="536.3" y="252.3" width="1.3" height="2.4" fill="#c8c8c8"/>
<rect x="538.0" y="252.3" width="1.1" height="2.4" fill="#c8c8c8"/>
<rect x="539.9" y="252.3" width="0.7" height="2.4" fill="#c8c8c8"/>
<rect x="540.9" y="252.3" width="0.5" height="2.4" fill="#b0b0b0"/>
<rect x="542.0" y="252.3" width="0.8" height="2.4" fill="#c8c8c8"/>
<rect x="543.4" y="252.3" width="1.2" height="2.4" fill="#bdbdbd"/>
<rect x="545.0" y="252.3" width="0.8" height="2.4" fill="#c8c8c8"/>
<rect x="546.9" y="252.3" width="0.9" height="2.4" fill="#d4d4d4"/>
<rect x="548.0" y="252.3" width="1.0" height="2.4" fill="#d4d4d4"/>
<rect x="550.2" y="252.3" width="0.7" height="2.4" fill="#bdbdbd"/>
<rect x="551.6" y="252.3" width="0.9" height="2.4" fill="#d4d4d4"/>
<rect x="552.9" y="252.3" width="1.2" height="2.4" fill="#c8c8c8"/>
<rect x="554.8" y="252.3" width="1.2" height="2.4" fill="#bdbdbd"/>
<rect x="557.2" y="252.3" width="1.0" height="2.4" fill="#c8c8c8"/>
<rect x="558.5" y="252.3" width="1.2" height="2.4" fill="#b0b0b0"/>
<rect x="560.9" y="252.3" width="1.1" height="2.4" fill="#b0b0b0"/>
<rect x="563.0" y="252.3" width="1.3" height="2.4" fill="#c8c8c8"/>
<rect x="565.1" y="252.3" width="1.2" height="2.4" fill="#b0b0b0"/>
<rect x="567.1" y="252.3" width="1.4" height="2.4" fill="#d4d4d4"/>
<rect x="568.7" y="252.3" width="1.0" height="2.4" fill="#b0b0b0"/>
<rect x="570.0" y="252.3" width="0.6" height="2.4" fill="#d4d4d4"/>
<rect x="571.1" y="252.3" width="1.4" height="2.4" fill="#bdbdbd"/>
<rect x="572.9" y="252.3" width="0.5" height="2.4" fill="#b0b0b0"/>
<rect x="574.2" y="252.3" width="1.3" height="2.4" fill="#b0b0b0"/>
<rect x="576.0" y="252.3" width="0.9" height="2.4" fill="#b0b0b0"/>
<rect x="578.0" y="252.3" width="1.2" height="2.4" fill="#b0b0b0"/>
<rect x="580.0" y="252.3" width="0.8" height="2.4" fill="#e8b8a0"/>
<rect x="581.8" y="252.3" width="0.9" height="2.4" fill="#d4d4d4"/>
<rect x="583.3" y="252.3" width="1.4" height="2.4" fill="#e8b8a0"/>
<rect x="585.1" y="252.3" width="0.9" height="2.4" fill="#b0b0b0"/>
<rect x="587.2" y="252.3" width="1.1" height="2.4" fill="#e8b8a0"/>
<rect x="589.3" y="252.3" width="1.4" height="2.4" fill="#e8b8a0"/>
<rect x="591.4" y="252.3" width="0.5" height="2.4" fill="#bdbdbd"/>
<rect x="593.0" y="252.3" width="0.4" height="2.4" fill="#e8b8a0"/>
<rect x="594.5" y="252.3" width="0.8" height="2.4" fill="#e8b8a0"/>
<rect x="596.1" y="252.3" width="1.4" height="2.4" fill="#d4d4d4"/>
<rect x="598.6" y="252.3" width="1.2" height="2.4" fill="#e8b8a0"/>
<rect x="600.3" y="252.3" width="0.6" height="2.4" fill="#bdbdbd"/>
<rect x="602.0" y="252.3" width="1.5" height="2.4" fill="#a0b8e0"/>
<rect x="603.8" y="252.3" width="0.8" height="2.4" fill="#a0b8e0"/>
<rect x="605.2" y="252.3" width="0.6" height="2.4" fill="#d4d4d4"/>
<rect x="606.8" y="252.3" width="1.2" height="2.4" fill="#a0b8e0"/>
<rect x="608.9" y="252.3" width="1.5" height="2.4" fill="#a0b8e0"/>
<rect x="611.4" y="252.3" width="1.3" height="2.4" fill="#b0b0b0"/>
<rect x="613.0" y="252.3" width="0.6" height="2.4" fill="#bdbdbd"/>
<rect x="614.0" y="252.3" width="1.4" height="2.4" fill="#d4d4d4"/>
<rect x="616.3" y="252.3" width="1.0" height="2.4" fill="#a0b8e0"/>
<rect x="617.7" y="252.3" width="0.6" height="2.4" fill="#a0b8e0"/>
<rect x="619.3" y="252.3" width="0.8" height="2.4" fill="#a0b8e0"/>
<rect x="620.7" y="252.3" width="0.7" height="2.4" fill="#a0b8e0"/>
<rect x="621.9" y="252.3" width="1.4" height="2.4" fill="#a0b8e0"/>
<rect x="623.7" y="252.3" width="0.8" height="2.4" fill="#a0b8e0"/>
<rect x="625.6" y="252.3" width="0.6" height="2.4" fill="#a0b8e0"/>
<rect x="627.0" y="252.3" width="1.4" height="2.4" fill="#bdbdbd"/>
<rect x="628.8" y="252.3" width="0.4" height="2.4" fill="#b0b0b0"/>
<rect x="629.7" y="252.3" width="0.8" height="2.4" fill="#bdbdbd"/>
<rect x="631.5" y="252.3" width="1.2" height="2.4" fill="#a0b8e0"/>
<rect x="633.3" y="252.3" width="1.1" height="2.4" fill="#c8c8c8"/>
<rect x="634.9" y="252.3" width="0.8" height="2.4" fill="#c8c8c8"/>
<rect x="636.8" y="252.3" width="1.1" height="2.4" fill="#d4d4d4"/>
<rect x="638.1" y="252.3" width="1.3" height="2.4" fill="#d4d4d4"/>
<rect x="640.1" y="252.3" width="1.3" height="2.4" fill="#c8c8c8"/>
<rect x="642.1" y="252.3" width="0.5" height="2.4" fill="#d4d4d4"/>
<rect x="643.0" y="252.3" width="0.7" height="2.4" fill="#b0b0b0"/>
<rect x="644.3" y="252.3" width="1.0" height="2.4" fill="#d4d4d4"/>
<rect x="646.4" y="252.3" width="1.4" height="2.4" fill="#c8c8c8"/>
<rect x="648.7" y="252.3" width="0.9" height="2.4" fill="#b0b0b0"/>
<rect x="650.0" y="252.3" width="1.1" height="2.4" fill="#b0b0b0"/>
<rect x="651.6" y="252.3" width="0.4" height="2.4" fill="#c8c8c8"/>
<rect x="652.2" y="252.3" width="1.4" height="2.4" fill="#bdbdbd"/>
<rect x="654.5" y="252.3" width="1.3" height="2.4" fill="#d4d4d4"/>
<rect x="656.2" y="252.3" width="1.5" height="2.4" fill="#b0b0b0"/>
<rect x="658.7" y="252.3" width="1.1" height="2.4" fill="#bdbdbd"/>
<rect x="660.8" y="252.3" width="1.4" height="2.4" fill="#c8c8c8"/>
<rect x="663.2" y="252.3" width="1.1" height="2.4" fill="#bdbdbd"/>
<rect x="665.1" y="252.3" width="1.4" height="2.4" fill="#c8c8c8"/>
<rect x="667.2" y="252.3" width="0.4" height="2.4" fill="#d4d4d4"/>
<rect x="668.2" y="252.3" width="0.9" height="2.4" fill="#bdbdbd"/>
<rect x="669.8" y="252.3" width="1.5" height="2.4" fill="#c8c8c8"/>
<rect x="672.2" y="252.3" width="0.5" height="2.4" fill="#d4d4d4"/>
<rect x="673.7" y="252.3" width="0.6" height="2.4" fill="#d4d4d4"/>
<rect x="674.4" y="252.3" width="1.3" height="2.4" fill="#d4d4d4"/>
<rect x="676.2" y="252.3" width="1.1" height="2.4" fill="#d4d4d4"/>
<rect x="22.6" y="251.5" width="302.2" height="52.4" fill="none" stroke="#555" stroke-width="0.9"/>
<rect x="379.2" y="251.5" width="301.8" height="52.4" fill="none" stroke="#555" stroke-width="0.9"/>
<path d="M60.0 254.8L68.0 254.8L66.0 260.2L27.0 260.2Z" fill="#e8c820" opacity="0.22"/>
<path d="M66.8 254.8C66.8 257.5 29.4 257.5 29.4 260.2" fill="none" stroke="#e8c820" stroke-width="0.5" opacity="0.7"/>
<path d="M66.1 254.8C66.1 257.5 34.3 257.5 34.3 260.2" fill="none" stroke="#e8c820" stroke-width="0.5" opacity="0.7"/>
<path d="M63.4 254.8C63.4 257.5 39.2 257.5 39.2 260.2" fill="none" stroke="#e8c820" stroke-width="0.5" opacity="0.7"/>
<path d="M62.1 254.8C62.1 257.5 44.1 257.5 44.1 260.2" fill="none" stroke="#e8c820" stroke-width="0.5" opacity="0.7"/>
<path d="M64.1 254.8C64.1 257.5 48.9 257.5 48.9 260.2" fill="none" stroke="#e8c820" stroke-width="0.5" opacity="0.7"/>
<path d="M63.2 254.8C63.2 257.5 53.8 257.5 53.8 260.2" fill="none" stroke="#e8c820" stroke-width="0.5" opacity="0.7"/>
<path d="M66.3 254.8C66.3 257.5 58.7 257.5 58.7 260.2" fill="none" stroke="#e8c820" stroke-width="0.5" opacity="0.7"/>
<path d="M62.4 254.8C62.4 257.5 63.6 257.5 63.6 260.2" fill="none" stroke="#e8c820" stroke-width="0.5" opacity="0.7"/>
<path d="M44.4 260.2l1.4 1.9l-2.8 0Z" fill="#e8c820"/>
<path d="M88.0 254.8L100.0 254.8L160.0 260.2L62.0 260.2Z" fill="#30b060" opacity="0.22"/>
<path d="M89.6 254.8C89.6 257.5 68.1 257.5 68.1 260.2" fill="none" stroke="#30b060" stroke-width="0.5" opacity="0.7"/>
<path d="M98.2 254.8C98.2 257.5 80.4 257.5 80.4 260.2" fill="none" stroke="#30b060" stroke-width="0.5" opacity="0.7"/>
<path d="M97.2 254.8C97.2 257.5 92.6 257.5 92.6 260.2" fill="none" stroke="#30b060" stroke-width="0.5" opacity="0.7"/>
<path d="M91.1 254.8C91.1 257.5 104.9 257.5 104.9 260.2" fill="none" stroke="#30b060" stroke-width="0.5" opacity="0.7"/>
<path d="M93.9 254.8C93.9 257.5 117.1 257.5 117.1 260.2" fill="none" stroke="#30b060" stroke-width="0.5" opacity="0.7"/>
<path d="M93.4 254.8C93.4 257.5 129.4 257.5 129.4 260.2" fill="none" stroke="#30b060" stroke-width="0.5" opacity="0.7"/>
<path d="M95.8 254.8C95.8 257.5 141.6 257.5 141.6 260.2" fill="none" stroke="#30b060" stroke-width="0.5" opacity="0.7"/>
<path d="M97.5 254.8C97.5 257.5 153.9 257.5 153.9 260.2" fill="none" stroke="#30b060" stroke-width="0.5" opacity="0.7"/>
<path d="M103.0 260.2l1.4 1.9l-2.8 0Z" fill="#30b060"/>
<path d="M167.0 254.8L178.0 254.8L280.0 260.2L160.0 260.2Z" fill="#b03030" opacity="0.22"/>
<path d="M177.5 254.8C177.5 257.5 167.5 257.5 167.5 260.2" fill="none" stroke="#b03030" stroke-width="0.5" opacity="0.7"/>
<path d="M177.4 254.8C177.4 257.5 182.5 257.5 182.5 260.2" fill="none" stroke="#b03030" stroke-width="0.5" opacity="0.7"/>
<path d="M167.6 254.8C167.6 257.5 197.5 257.5 197.5 260.2" fill="none" stroke="#b03030" stroke-width="0.5" opacity="0.7"/>
<path d="M167.9 254.8C167.9 257.5 212.5 257.5 212.5 260.2" fill="none" stroke="#b03030" stroke-width="0.5" opacity="0.7"/>
<path d="M176.2 254.8C176.2 257.5 227.5 257.5 227.5 260.2" fill="none" stroke="#b03030" stroke-width="0.5" opacity="0.7"/>
<path d="M175.1 254.8C175.1 257.5 242.5 257.5 242.5 260.2" fill="none" stroke="#b03030" stroke-width="0.5" opacity="0.7"/>
<path d="M174.4 254.8C174.4 257.5 257.5 257.5 257.5 260.2" fill="none" stroke="#b03030" stroke-width="0.5" opacity="0.7"/>
<path d="M170.4 254.8C170.4 257.5 272.5 257.5 272.5 260.2" fill="none" stroke="#b03030" stroke-width="0.5" opacity="0.7"/>
<path d="M172.0 260.2l1.4 1.9l-2.8 0Z" fill="#b03030"/>
<path d="M200.0 254.8L206.0 254.8L279.0 260.2L200.0 260.2Z" fill="#e09070" opacity="0.22"/>
<path d="M201.4 254.8C201.4 257.5 204.9 257.5 204.9 260.2" fill="none" stroke="#e09070" stroke-width="0.5" opacity="0.7"/>
<path d="M203.3 254.8C203.3 257.5 214.8 257.5 214.8 260.2" fill="none" stroke="#e09070" stroke-width="0.5" opacity="0.7"/>
<path d="M202.2 254.8C202.2 257.5 224.7 257.5 224.7 260.2" fill="none" stroke="#e09070" stroke-width="0.5" opacity="0.7"/>
<path d="M203.6 254.8C203.6 257.5 234.6 257.5 234.6 260.2" fill="none" stroke="#e09070" stroke-width="0.5" opacity="0.7"/>
<path d="M203.8 254.8C203.8 257.5 244.4 257.5 244.4 260.2" fill="none" stroke="#e09070" stroke-width="0.5" opacity="0.7"/>
<path d="M200.4 254.8C200.4 257.5 254.3 257.5 254.3 260.2" fill="none" stroke="#e09070" stroke-width="0.5" opacity="0.7"/>
<path d="M200.1 254.8C200.1 257.5 264.2 257.5 264.2 260.2" fill="none" stroke="#e09070" stroke-width="0.5" opacity="0.7"/>
<path d="M205.0 254.8C205.0 257.5 274.1 257.5 274.1 260.2" fill="none" stroke="#e09070" stroke-width="0.5" opacity="0.7"/>
<path d="M278.5 260.2l1.4 1.9l-2.8 0Z" fill="#e09070"/>
<path d="M278.0 254.8L282.0 254.8L312.0 260.2L282.0 260.2Z" fill="#4a80d0" opacity="0.22"/>
<path d="M278.9 254.8C278.9 257.5 283.9 257.5 283.9 260.2" fill="none" stroke="#4a80d0" stroke-width="0.5" opacity="0.7"/>
<path d="M278.4 254.8C278.4 257.5 287.6 257.5 287.6 260.2" fill="none" stroke="#4a80d0" stroke-width="0.5" opacity="0.7"/>
<path d="M279.6 254.8C279.6 257.5 291.4 257.5 291.4 260.2" fill="none" stroke="#4a80d0" stroke-width="0.5" opacity="0.7"/>
<path d="M278.6 254.8C278.6 257.5 295.1 257.5 295.1 260.2" fill="none" stroke="#4a80d0" stroke-width="0.5" opacity="0.7"/>
<path d="M278.3 254.8C278.3 257.5 298.9 257.5 298.9 260.2" fill="none" stroke="#4a80d0" stroke-width="0.5" opacity="0.7"/>
<path d="M279.6 254.8C279.6 257.5 302.6 257.5 302.6 260.2" fill="none" stroke="#4a80d0" stroke-width="0.5" opacity="0.7"/>
<path d="M281.7 254.8C281.7 257.5 306.4 257.5 306.4 260.2" fill="none" stroke="#4a80d0" stroke-width="0.5" opacity="0.7"/>
<path d="M281.2 254.8C281.2 257.5 310.1 257.5 310.1 260.2" fill="none" stroke="#4a80d0" stroke-width="0.5" opacity="0.7"/>
<path d="M312.0 260.2l1.4 1.9l-2.8 0Z" fill="#4a80d0"/>
<path d="M444.0 254.8L460.0 254.8L455.0 260.2L383.0 260.2Z" fill="#8a48c8" opacity="0.22"/>
<path d="M454.0 254.8C454.0 257.5 387.5 257.5 387.5 260.2" fill="none" stroke="#8a48c8" stroke-width="0.5" opacity="0.7"/>
<path d="M455.9 254.8C455.9 257.5 396.5 257.5 396.5 260.2" fill="none" stroke="#8a48c8" stroke-width="0.5" opacity="0.7"/>
<path d="M456.7 254.8C456.7 257.5 405.5 257.5 405.5 260.2" fill="none" stroke="#8a48c8" stroke-width="0.5" opacity="0.7"/>
<path d="M459.1 254.8C459.1 257.5 414.5 257.5 414.5 260.2" fill="none" stroke="#8a48c8" stroke-width="0.5" opacity="0.7"/>
<path d="M455.8 254.8C455.8 257.5 423.5 257.5 423.5 260.2" fill="none" stroke="#8a48c8" stroke-width="0.5" opacity="0.7"/>
<path d="M458.8 254.8C458.8 257.5 432.5 257.5 432.5 260.2" fill="none" stroke="#8a48c8" stroke-width="0.5" opacity="0.7"/>
<path d="M444.5 254.8C444.5 257.5 441.5 257.5 441.5 260.2" fill="none" stroke="#8a48c8" stroke-width="0.5" opacity="0.7"/>
<path d="M451.4 254.8C451.4 257.5 450.5 257.5 450.5 260.2" fill="none" stroke="#8a48c8" stroke-width="0.5" opacity="0.7"/>
<path d="M384.0 260.2l1.4 1.9l-2.8 0Z" fill="#8a48c8"/>
<path d="M462.0 254.8L475.0 254.8L470.0 260.2L400.0 260.2Z" fill="#e8c820" opacity="0.22"/>
<path d="M472.3 254.8C472.3 257.5 404.4 257.5 404.4 260.2" fill="none" stroke="#e8c820" stroke-width="0.5" opacity="0.7"/>
<path d="M472.7 254.8C472.7 257.5 413.1 257.5 413.1 260.2" fill="none" stroke="#e8c820" stroke-width="0.5" opacity="0.7"/>
<path d="M468.3 254.8C468.3 257.5 421.9 257.5 421.9 260.2" fill="none" stroke="#e8c820" stroke-width="0.5" opacity="0.7"/>
<path d="M465.4 254.8C465.4 257.5 430.6 257.5 430.6 260.2" fill="none" stroke="#e8c820" stroke-width="0.5" opacity="0.7"/>
<path d="M462.0 254.8C462.0 257.5 439.4 257.5 439.4 260.2" fill="none" stroke="#e8c820" stroke-width="0.5" opacity="0.7"/>
<path d="M470.6 254.8C470.6 257.5 448.1 257.5 448.1 260.2" fill="none" stroke="#e8c820" stroke-width="0.5" opacity="0.7"/>
<path d="M468.1 254.8C468.1 257.5 456.9 257.5 456.9 260.2" fill="none" stroke="#e8c820" stroke-width="0.5" opacity="0.7"/>
<path d="M471.9 254.8C471.9 257.5 465.6 257.5 465.6 260.2" fill="none" stroke="#e8c820" stroke-width="0.5" opacity="0.7"/>
<path d="M453.3 260.2l1.4 1.9l-2.8 0Z" fill="#e8c820"/>
<path d="M476.0 254.8L510.0 254.8L540.0 260.2L455.0 260.2Z" fill="#b03030" opacity="0.22"/>
<path d="M487.0 254.8C487.0 257.5 460.3 257.5 460.3 260.2" fill="none" stroke="#b03030" stroke-width="0.5" opacity="0.7"/>
<path d="M481.1 254.8C481.1 257.5 470.9 257.5 470.9 260.2" fill="none" stroke="#b03030" stroke-width="0.5" opacity="0.7"/>
<path d="M498.1 254.8C498.1 257.5 481.6 257.5 481.6 260.2" fill="none" stroke="#b03030" stroke-width="0.5" opacity="0.7"/>
<path d="M478.5 254.8C478.5 257.5 492.2 257.5 492.2 260.2" fill="none" stroke="#b03030" stroke-width="0.5" opacity="0.7"/>
<path d="M494.2 254.8C494.2 257.5 502.8 257.5 502.8 260.2" fill="none" stroke="#b03030" stroke-width="0.5" opacity="0.7"/>
<path d="M488.4 254.8C488.4 257.5 513.4 257.5 513.4 260.2" fill="none" stroke="#b03030" stroke-width="0.5" opacity="0.7"/>
<path d="M478.0 254.8C478.0 257.5 524.1 257.5 524.1 260.2" fill="none" stroke="#b03030" stroke-width="0.5" opacity="0.7"/>
<path d="M493.3 254.8C493.3 257.5 534.7 257.5 534.7 260.2" fill="none" stroke="#b03030" stroke-width="0.5" opacity="0.7"/>
<path d="M495.2 260.2l1.4 1.9l-2.8 0Z" fill="#b03030"/>
<path d="M495.0 254.8L512.0 254.8L600.0 260.2L470.0 260.2Z" fill="#30b060" opacity="0.22"/>
<path d="M498.9 254.8C498.9 257.5 478.1 257.5 478.1 260.2" fill="none" stroke="#30b060" stroke-width="0.5" opacity="0.7"/>
<path d="M511.4 254.8C511.4 257.5 494.4 257.5 494.4 260.2" fill="none" stroke="#30b060" stroke-width="0.5" opacity="0.7"/>
<path d="M497.1 254.8C497.1 257.5 510.6 257.5 510.6 260.2" fill="none" stroke="#30b060" stroke-width="0.5" opacity="0.7"/>
<path d="M507.0 254.8C507.0 257.5 526.9 257.5 526.9 260.2" fill="none" stroke="#30b060" stroke-width="0.5" opacity="0.7"/>
<path d="M496.4 254.8C496.4 257.5 543.1 257.5 543.1 260.2" fill="none" stroke="#30b060" stroke-width="0.5" opacity="0.7"/>
<path d="M499.2 254.8C499.2 257.5 559.4 257.5 559.4 260.2" fill="none" stroke="#30b060" stroke-width="0.5" opacity="0.7"/>
<path d="M512.0 254.8C512.0 257.5 575.6 257.5 575.6 260.2" fill="none" stroke="#30b060" stroke-width="0.5" opacity="0.7"/>
<path d="M498.6 254.8C498.6 257.5 591.9 257.5 591.9 260.2" fill="none" stroke="#30b060" stroke-width="0.5" opacity="0.7"/>
<path d="M557.0 260.2l1.4 1.9l-2.8 0Z" fill="#30b060"/>
<path d="M578.0 254.8L625.0 254.8L650.0 260.2L560.0 260.2Z" fill="#e09070" opacity="0.22"/>
<path d="M599.8 254.8C599.8 257.5 565.6 257.5 565.6 260.2" fill="none" stroke="#e09070" stroke-width="0.5" opacity="0.7"/>
<path d="M595.5 254.8C595.5 257.5 576.9 257.5 576.9 260.2" fill="none" stroke="#e09070" stroke-width="0.5" opacity="0.7"/>
<path d="M584.5 254.8C584.5 257.5 588.1 257.5 588.1 260.2" fill="none" stroke="#e09070" stroke-width="0.5" opacity="0.7"/>
<path d="M618.7 254.8C618.7 257.5 599.4 257.5 599.4 260.2" fill="none" stroke="#e09070" stroke-width="0.5" opacity="0.7"/>
<path d="M578.3 254.8C578.3 257.5 610.6 257.5 610.6 260.2" fill="none" stroke="#e09070" stroke-width="0.5" opacity="0.7"/>
<path d="M601.6 254.8C601.6 257.5 621.9 257.5 621.9 260.2" fill="none" stroke="#e09070" stroke-width="0.5" opacity="0.7"/>
<path d="M620.2 254.8C620.2 257.5 633.1 257.5 633.1 260.2" fill="none" stroke="#e09070" stroke-width="0.5" opacity="0.7"/>
<path d="M581.8 254.8C581.8 257.5 644.4 257.5 644.4 260.2" fill="none" stroke="#e09070" stroke-width="0.5" opacity="0.7"/>
<path d="M613.8 260.2l1.4 1.9l-2.8 0Z" fill="#e09070"/>
<path d="M578.0 254.8L633.0 254.8L662.0 260.2L585.0 260.2Z" fill="#4a80d0" opacity="0.22"/>
<path d="M609.4 254.8C609.4 257.5 589.8 257.5 589.8 260.2" fill="none" stroke="#4a80d0" stroke-width="0.5" opacity="0.7"/>
<path d="M601.6 254.8C601.6 257.5 599.4 257.5 599.4 260.2" fill="none" stroke="#4a80d0" stroke-width="0.5" opacity="0.7"/>
<path d="M609.8 254.8C609.8 257.5 609.1 257.5 609.1 260.2" fill="none" stroke="#4a80d0" stroke-width="0.5" opacity="0.7"/>
<path d="M589.3 254.8C589.3 257.5 618.7 257.5 618.7 260.2" fill="none" stroke="#4a80d0" stroke-width="0.5" opacity="0.7"/>
<path d="M622.7 254.8C622.7 257.5 628.3 257.5 628.3 260.2" fill="none" stroke="#4a80d0" stroke-width="0.5" opacity="0.7"/>
<path d="M623.3 254.8C623.3 257.5 637.9 257.5 637.9 260.2" fill="none" stroke="#4a80d0" stroke-width="0.5" opacity="0.7"/>
<path d="M613.9 254.8C613.9 257.5 647.6 257.5 647.6 260.2" fill="none" stroke="#4a80d0" stroke-width="0.5" opacity="0.7"/>
<path d="M586.8 254.8C586.8 257.5 657.2 257.5 657.2 260.2" fill="none" stroke="#4a80d0" stroke-width="0.5" opacity="0.7"/>
<path d="M664.0 260.2l1.4 1.9l-2.8 0Z" fill="#4a80d0"/>
<path d="M67.0 249.6l1.3 1.5l-1.3 1.5l-1.3 -1.5Z" fill="#e8c820"/>
<path d="M93.6 249.6l1.3 1.5l-1.3 1.5l-1.3 -1.5Z" fill="#30b060"/>
<path d="M171.8 249.6l1.3 1.5l-1.3 1.5l-1.3 -1.5Z" fill="#a02020"/>
<path d="M203.3 249.6l1.3 1.5l-1.3 1.5l-1.3 -1.5Z" fill="#e09070"/>
<path d="M279.9 249.6l1.3 1.5l-1.3 1.5l-1.3 -1.5Z" fill="#4a80d0"/>
<path d="M452.1 249.6l1.3 1.5l-1.3 1.5l-1.3 -1.5Z" fill="#8040c0"/>
<path d="M464.8 249.6l1.3 1.5l-1.3 1.5l-1.3 -1.5Z" fill="#e8c820"/>
<path d="M488.5 249.6l1.3 1.5l-1.3 1.5l-1.3 -1.5Z" fill="#a02020"/>
<path d="M506.2 249.6l1.3 1.5l-1.3 1.5l-1.3 -1.5Z" fill="#30b060"/>
<path d="M601.3 249.6l1.3 1.5l-1.3 1.5l-1.3 -1.5Z" fill="#e09070"/>
<path d="M607.8 249.6l1.3 1.5l-1.3 1.5l-1.3 -1.5Z" fill="#4a80d0"/>
<text x="1.2" y="273.2" font-size="7.2" fill="#222" textLength="19.5" lengthAdjust="spacingAndGlyphs">LD (<tspan font-style="italic">r</tspan><tspan font-size="4.6" dy="-2.6">2</tspan><tspan dy="2.6">)</tspan></text>
<rect x="12.2" y="277.9" width="6.4" height="25.9" fill="url(#ldbar)" stroke="#555" stroke-width="0.6"/>
<text x="9.5" y="281.2" font-size="5.6" fill="#333" text-anchor="end">1</text>
<text x="9.5" y="292.7" font-size="5.6" fill="#333" text-anchor="end">0.5</text>
<text x="9.5" y="302.2" font-size="5.6" fill="#333" text-anchor="end">0</text>
</svg></body></html>
